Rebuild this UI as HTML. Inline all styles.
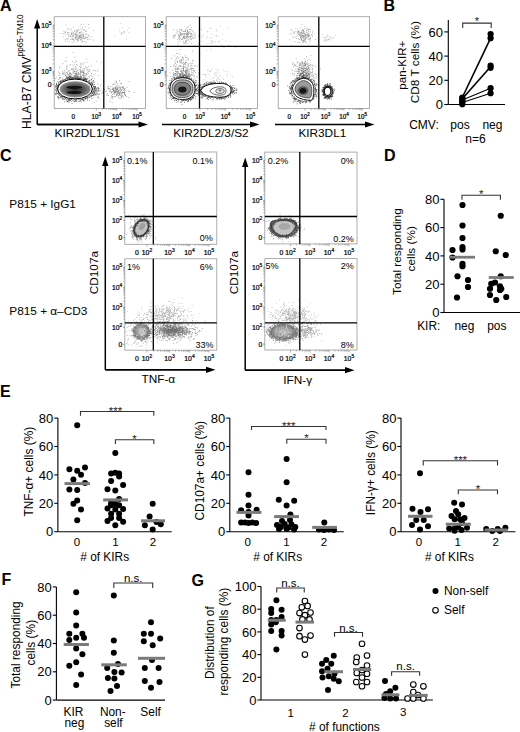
<!DOCTYPE html>
<html><head><meta charset="utf-8"><title>Figure</title>
<style>html,body{margin:0;padding:0;background:#fff;width:520px;height:732px;overflow:hidden}svg{display:block}</style>
</head><body>
<svg width="520" height="732" viewBox="0 0 520 732" font-family='"Liberation Sans", sans-serif'>
<rect width="520" height="732" fill="#fff"/>
<defs>
<radialGradient id="gA"><stop offset="0" stop-color="#2a2a2a"/><stop offset="0.55" stop-color="#555"/><stop offset="1" stop-color="#909090"/></radialGradient>
<radialGradient id="gB"><stop offset="0" stop-color="#555"/><stop offset="0.6" stop-color="#999"/><stop offset="1" stop-color="#eee"/></radialGradient>
<radialGradient id="halo"><stop offset="0" stop-color="#000" stop-opacity="0.55"/><stop offset="0.6" stop-color="#000" stop-opacity="0.3"/><stop offset="1" stop-color="#000" stop-opacity="0"/></radialGradient>
<radialGradient id="haloL"><stop offset="0" stop-color="#000" stop-opacity="0.25"/><stop offset="1" stop-color="#000" stop-opacity="0"/></radialGradient>
<radialGradient id="ring"><stop offset="0" stop-color="#c8c8c8"/><stop offset="0.55" stop-color="#aaa"/><stop offset="0.8" stop-color="#555"/><stop offset="1" stop-color="#666" stop-opacity="0"/></radialGradient>
</defs>
<path fill="#444" fill-opacity="0.6" d="M75.46 37.15h0.75v0.75h-0.75zM75.64 33.68h0.75v0.75h-0.75zM71.42 34.1h0.75v0.75h-0.75zM83.67 36.78h0.75v0.75h-0.75zM83.22 36.05h0.75v0.75h-0.75zM79.37 35.78h0.75v0.75h-0.75zM67 38.59h0.75v0.75h-0.75zM80.04 37.1h0.75v0.75h-0.75zM66.85 27.68h0.75v0.75h-0.75zM71.66 33.03h0.75v0.75h-0.75zM78.83 34.81h0.75v0.75h-0.75zM80.13 32.3h0.75v0.75h-0.75zM78.85 36.66h0.75v0.75h-0.75zM73.03 42.21h0.75v0.75h-0.75zM80.34 40.03h0.75v0.75h-0.75zM73.28 31.89h0.75v0.75h-0.75zM74.94 34.55h0.75v0.75h-0.75zM80.79 36.04h0.75v0.75h-0.75zM74.32 30.98h0.75v0.75h-0.75zM73.88 40.13h0.75v0.75h-0.75zM72.15 36.03h0.75v0.75h-0.75zM79.56 28.74h0.75v0.75h-0.75zM77.29 40.49h0.75v0.75h-0.75zM64.91 33.65h0.75v0.75h-0.75zM76.36 31.57h0.75v0.75h-0.75zM79.98 34.74h0.75v0.75h-0.75zM68.21 38.48h0.75v0.75h-0.75zM81.02 38.97h0.75v0.75h-0.75zM85.64 36.52h0.75v0.75h-0.75zM77.72 29.54h0.75v0.75h-0.75zM80.69 32.43h0.75v0.75h-0.75zM74.28 29.69h0.75v0.75h-0.75zM71.19 32.77h0.75v0.75h-0.75zM84.73 26.47h0.75v0.75h-0.75zM68.25 36.01h0.75v0.75h-0.75zM85.66 37.43h0.75v0.75h-0.75zM65.6 24.42h0.75v0.75h-0.75zM79.14 31.91h0.75v0.75h-0.75zM70.28 39.1h0.75v0.75h-0.75zM83.61 35.66h0.75v0.75h-0.75zM78.47 36.82h0.75v0.75h-0.75zM86.56 37.6h0.75v0.75h-0.75zM80.11 37.3h0.75v0.75h-0.75zM67.59 40.38h0.75v0.75h-0.75zM82.73 37.22h0.75v0.75h-0.75zM65.16 32.34h0.75v0.75h-0.75zM82.05 27.39h0.75v0.75h-0.75zM75.9 39.28h0.75v0.75h-0.75zM69.13 41.76h0.75v0.75h-0.75zM80.31 34.37h0.75v0.75h-0.75zM78.95 37.73h0.75v0.75h-0.75zM77.72 39.81h0.75v0.75h-0.75zM73.03 33.26h0.75v0.75h-0.75zM83.25 35.11h0.75v0.75h-0.75zM71.72 38.98h0.75v0.75h-0.75zM85.79 33.13h0.75v0.75h-0.75zM68.72 34.43h0.75v0.75h-0.75zM76.11 33.75h0.75v0.75h-0.75zM85.43 30.69h0.75v0.75h-0.75zM84.56 29.67h0.75v0.75h-0.75zM72.28 37.65h0.75v0.75h-0.75zM83.77 38.61h0.75v0.75h-0.75zM79.07 35.6h0.75v0.75h-0.75zM77.91 37.42h0.75v0.75h-0.75zM75.94 36.17h0.75v0.75h-0.75zM80.44 35h0.75v0.75h-0.75zM81.58 37.38h0.75v0.75h-0.75zM89.06 36.36h0.75v0.75h-0.75zM74.43 33.44h0.75v0.75h-0.75zM76.92 38.88h0.75v0.75h-0.75zM74.98 36.62h0.75v0.75h-0.75zM88.02 24.23h0.75v0.75h-0.75zM70.26 36.02h0.75v0.75h-0.75zM79.39 36h0.75v0.75h-0.75zM74.41 37.75h0.75v0.75h-0.75zM78.69 32.81h0.75v0.75h-0.75zM91.58 36.49h0.75v0.75h-0.75zM73.67 34.58h0.75v0.75h-0.75zM75.65 34.74h0.75v0.75h-0.75zM60.63 32.96h0.75v0.75h-0.75zM83.05 30.09h0.75v0.75h-0.75zM76.6 39h0.75v0.75h-0.75zM82.14 41.26h0.75v0.75h-0.75zM66.79 33.52h0.75v0.75h-0.75zM74.95 37.62h0.75v0.75h-0.75zM83.55 23.73h0.75v0.75h-0.75zM83.53 28.92h0.75v0.75h-0.75zM81.1 28.73h0.75v0.75h-0.75zM78.06 40.02h0.75v0.75h-0.75zM76.1 35.8h0.75v0.75h-0.75zM81.78 35.59h0.75v0.75h-0.75zM76.47 41.44h0.75v0.75h-0.75zM83.29 33.77h0.75v0.75h-0.75zM93.47 30.18h0.75v0.75h-0.75zM82.49 33.88h0.75v0.75h-0.75zM77.79 37.96h0.75v0.75h-0.75zM78.33 37.68h0.75v0.75h-0.75zM67.84 28.66h0.75v0.75h-0.75zM80.69 30.95h0.75v0.75h-0.75zM70.84 28.83h0.75v0.75h-0.75zM84.6 38.14h0.75v0.75h-0.75zM85.84 31.06h0.75v0.75h-0.75zM77.01 30.21h0.75v0.75h-0.75zM81.6 41.68h0.75v0.75h-0.75zM71.66 41.55h0.75v0.75h-0.75zM82.93 34.25h0.75v0.75h-0.75zM65.17 40.91h0.75v0.75h-0.75zM76.42 32.47h0.75v0.75h-0.75zM79.4 36.72h0.75v0.75h-0.75zM85.99 30.72h0.75v0.75h-0.75zM83.82 41.25h0.75v0.75h-0.75zM85.71 34.24h0.75v0.75h-0.75zM72.54 39.28h0.75v0.75h-0.75zM77.69 35.52h0.75v0.75h-0.75zM85.55 33.89h0.75v0.75h-0.75zM63.22 33.37h0.75v0.75h-0.75zM65.88 38.44h0.75v0.75h-0.75zM78.9 32.43h0.75v0.75h-0.75zM76.94 38.5h0.75v0.75h-0.75zM77.47 40.57h0.75v0.75h-0.75zM76.63 39.37h0.75v0.75h-0.75zM85.95 41.76h0.75v0.75h-0.75zM72.97 38.7h0.75v0.75h-0.75zM65.74 30.45h0.75v0.75h-0.75zM65.22 39.49h0.75v0.75h-0.75zM69.61 34.95h0.75v0.75h-0.75zM75.85 34.88h0.75v0.75h-0.75zM73.45 35.98h0.75v0.75h-0.75zM87.75 35.19h0.75v0.75h-0.75zM80.19 39.2h0.75v0.75h-0.75zM75.81 29.71h0.75v0.75h-0.75zM73.67 39.51h0.75v0.75h-0.75zM67.12 32.49h0.75v0.75h-0.75zM83.04 38.33h0.75v0.75h-0.75zM77.05 38.38h0.75v0.75h-0.75zM78 30.05h0.75v0.75h-0.75zM67.62 32.32h0.75v0.75h-0.75zM82.54 32.62h0.75v0.75h-0.75zM71.59 31.76h0.75v0.75h-0.75zM67.81 34.51h0.75v0.75h-0.75zM69.92 36.53h0.75v0.75h-0.75zM62.84 36.38h0.75v0.75h-0.75zM73.15 26.84h0.75v0.75h-0.75zM81.35 33.84h0.75v0.75h-0.75zM63.62 31.32h0.75v0.75h-0.75zM78.75 33.07h0.75v0.75h-0.75zM81.68 38.14h0.75v0.75h-0.75zM81 36.37h0.75v0.75h-0.75zM85 37.77h0.75v0.75h-0.75zM79.71 26.25h0.75v0.75h-0.75zM82.38 40.5h0.75v0.75h-0.75zM75.22 33.03h0.75v0.75h-0.75zM88.64 27.62h0.75v0.75h-0.75zM79.81 45.18h0.75v0.75h-0.75zM71.43 37.9h0.75v0.75h-0.75zM88.32 34.5h0.75v0.75h-0.75zM80.37 38.79h0.75v0.75h-0.75zM71.57 34.63h0.75v0.75h-0.75zM78.76 38.47h0.75v0.75h-0.75zM76.79 34.18h0.75v0.75h-0.75zM70.9 33.49h0.75v0.75h-0.75zM82.35 35.43h0.75v0.75h-0.75zM71.88 31.47h0.75v0.75h-0.75zM93 39.79h0.75v0.75h-0.75zM80.82 24.11h0.75v0.75h-0.75zM80.73 37.02h0.75v0.75h-0.75zM87.1 36.8h0.75v0.75h-0.75zM76.6 37.19h0.75v0.75h-0.75zM65.33 39.34h0.75v0.75h-0.75zM78.95 32.05h0.75v0.75h-0.75zM84.95 42.6h0.75v0.75h-0.75zM68.59 32.2h0.75v0.75h-0.75zM78.75 35.77h0.75v0.75h-0.75zM74.61 30.91h0.75v0.75h-0.75zM89.72 39.36h0.75v0.75h-0.75zM69.83 29.35h0.75v0.75h-0.75zM87.22 39.15h0.75v0.75h-0.75zM87.93 38.4h0.75v0.75h-0.75zM71.77 36.09h0.75v0.75h-0.75zM64.04 31.86h0.75v0.75h-0.75zM76.65 37.2h0.75v0.75h-0.75zM72.63 34.48h0.75v0.75h-0.75zM79.75 36.58h0.75v0.75h-0.75zM80.83 35.88h0.75v0.75h-0.75zM75.06 38.31h0.75v0.75h-0.75zM77.3 31.53h0.75v0.75h-0.75zM73.24 35h0.75v0.75h-0.75zM76.34 35.66h0.75v0.75h-0.75zM77 35.74h0.75v0.75h-0.75zM76.19 29.71h0.75v0.75h-0.75z"/>
<path fill="#333" fill-opacity="0.55" d="M79.79 79.32h0.75v0.75h-0.75zM79.91 71.86h0.75v0.75h-0.75zM80.02 67.21h0.75v0.75h-0.75zM58.93 73.36h0.75v0.75h-0.75zM67.63 77.44h0.75v0.75h-0.75zM66.24 57.23h0.75v0.75h-0.75zM66.64 82.47h0.75v0.75h-0.75zM72.56 64.78h0.75v0.75h-0.75zM69.13 76.13h0.75v0.75h-0.75zM80.47 74.06h0.75v0.75h-0.75zM89.35 77.24h0.75v0.75h-0.75zM75.81 76.58h0.75v0.75h-0.75zM90.89 78.83h0.75v0.75h-0.75zM85.21 66.5h0.75v0.75h-0.75zM74.66 77.38h0.75v0.75h-0.75zM73.33 79.41h0.75v0.75h-0.75zM81.37 78.45h0.75v0.75h-0.75zM74.09 88.28h0.75v0.75h-0.75zM87.16 71.71h0.75v0.75h-0.75zM76.82 88.57h0.75v0.75h-0.75zM72.91 78.24h0.75v0.75h-0.75zM84.82 73.04h0.75v0.75h-0.75zM65.5 74.13h0.75v0.75h-0.75zM79.23 79.78h0.75v0.75h-0.75zM83.05 73.15h0.75v0.75h-0.75zM83.68 76.24h0.75v0.75h-0.75zM77.85 73.33h0.75v0.75h-0.75zM73.81 77.12h0.75v0.75h-0.75zM66.51 69.23h0.75v0.75h-0.75zM76.04 64.22h0.75v0.75h-0.75zM72.08 60.95h0.75v0.75h-0.75zM69.85 76.41h0.75v0.75h-0.75zM81.1 72.67h0.75v0.75h-0.75zM73.91 64.5h0.75v0.75h-0.75zM92.45 76.1h0.75v0.75h-0.75zM85.84 67.71h0.75v0.75h-0.75zM74.33 62.08h0.75v0.75h-0.75zM83.02 78.61h0.75v0.75h-0.75zM58.92 72.69h0.75v0.75h-0.75zM81.67 62.43h0.75v0.75h-0.75zM59.57 66.61h0.75v0.75h-0.75zM70.34 64.58h0.75v0.75h-0.75zM76.28 74.5h0.75v0.75h-0.75zM81.71 77.21h0.75v0.75h-0.75zM89.52 79.99h0.75v0.75h-0.75zM64.19 69.97h0.75v0.75h-0.75zM66.46 66.54h0.75v0.75h-0.75zM75.27 73.03h0.75v0.75h-0.75zM80.41 63.48h0.75v0.75h-0.75zM64.86 72.86h0.75v0.75h-0.75zM74.2 71.13h0.75v0.75h-0.75zM75.43 68.44h0.75v0.75h-0.75zM82.31 75.13h0.75v0.75h-0.75zM75.21 68.97h0.75v0.75h-0.75zM74.43 56.67h0.75v0.75h-0.75zM67.17 73.22h0.75v0.75h-0.75zM62.46 74.2h0.75v0.75h-0.75zM77.33 64.73h0.75v0.75h-0.75zM73.74 71.12h0.75v0.75h-0.75zM80.14 76.67h0.75v0.75h-0.75zM75.67 67.89h0.75v0.75h-0.75zM74.7 72.61h0.75v0.75h-0.75zM82.61 74.77h0.75v0.75h-0.75zM69.5 64.87h0.75v0.75h-0.75zM72.64 68.56h0.75v0.75h-0.75zM65.99 72.3h0.75v0.75h-0.75zM71.58 73.63h0.75v0.75h-0.75zM80.71 70.52h0.75v0.75h-0.75zM96.92 71.07h0.75v0.75h-0.75zM85.92 73.73h0.75v0.75h-0.75zM86.05 58.74h0.75v0.75h-0.75zM69.24 74.48h0.75v0.75h-0.75zM81.42 87.02h0.75v0.75h-0.75zM78.9 80.68h0.75v0.75h-0.75zM82.9 78.68h0.75v0.75h-0.75zM80.59 72.06h0.75v0.75h-0.75zM80.58 66.53h0.75v0.75h-0.75zM86.63 66.9h0.75v0.75h-0.75zM78.24 85.72h0.75v0.75h-0.75zM73.99 73.12h0.75v0.75h-0.75zM86.47 73.16h0.75v0.75h-0.75zM68.73 74.55h0.75v0.75h-0.75zM81.24 77.26h0.75v0.75h-0.75zM69.05 83.52h0.75v0.75h-0.75zM91 73.11h0.75v0.75h-0.75zM78.42 70.43h0.75v0.75h-0.75zM88.73 68.77h0.75v0.75h-0.75zM82.07 70.12h0.75v0.75h-0.75zM69.75 77.31h0.75v0.75h-0.75zM88 72.94h0.75v0.75h-0.75zM69.9 77.87h0.75v0.75h-0.75zM75.55 74.86h0.75v0.75h-0.75zM89.71 79.79h0.75v0.75h-0.75zM71.32 86.7h0.75v0.75h-0.75zM76.03 77.72h0.75v0.75h-0.75zM70.17 72.73h0.75v0.75h-0.75zM60.25 83.72h0.75v0.75h-0.75zM88.29 65.71h0.75v0.75h-0.75zM62.45 63.27h0.75v0.75h-0.75zM86.58 70.24h0.75v0.75h-0.75zM75.46 71.12h0.75v0.75h-0.75zM74.91 66.47h0.75v0.75h-0.75zM76.22 64.37h0.75v0.75h-0.75zM75.36 74.85h0.75v0.75h-0.75zM80.21 71.61h0.75v0.75h-0.75zM67.87 73.96h0.75v0.75h-0.75zM71.64 82.4h0.75v0.75h-0.75zM82.91 72.31h0.75v0.75h-0.75zM71.76 68.78h0.75v0.75h-0.75zM67.56 70.88h0.75v0.75h-0.75zM78.65 76.09h0.75v0.75h-0.75zM81.12 85.59h0.75v0.75h-0.75zM69.66 73.08h0.75v0.75h-0.75zM101.15 61.8h0.75v0.75h-0.75zM71.31 74.02h0.75v0.75h-0.75zM77.39 75.45h0.75v0.75h-0.75zM73.85 75.2h0.75v0.75h-0.75zM76.48 77.63h0.75v0.75h-0.75zM58.97 67.69h0.75v0.75h-0.75zM75.98 66.81h0.75v0.75h-0.75zM66.6 76.77h0.75v0.75h-0.75zM70.15 76.81h0.75v0.75h-0.75zM82.71 74.84h0.75v0.75h-0.75zM80.57 72.37h0.75v0.75h-0.75zM63.32 72.82h0.75v0.75h-0.75zM80.09 69.82h0.75v0.75h-0.75zM75.1 77.5h0.75v0.75h-0.75zM68.1 76.84h0.75v0.75h-0.75zM92.76 69.67h0.75v0.75h-0.75zM77.32 72.1h0.75v0.75h-0.75zM89.86 74.9h0.75v0.75h-0.75zM84.08 68.86h0.75v0.75h-0.75zM75.85 72.94h0.75v0.75h-0.75zM60.02 81.64h0.75v0.75h-0.75zM84.09 62.51h0.75v0.75h-0.75zM82.7 72.21h0.75v0.75h-0.75zM80.04 75.2h0.75v0.75h-0.75zM62.51 71.73h0.75v0.75h-0.75zM89.43 69.55h0.75v0.75h-0.75zM66.79 64.84h0.75v0.75h-0.75zM65.01 75.01h0.75v0.75h-0.75zM91.23 75.58h0.75v0.75h-0.75zM78.21 86.4h0.75v0.75h-0.75zM71.33 68.96h0.75v0.75h-0.75zM80.76 76.29h0.75v0.75h-0.75zM66.87 65.98h0.75v0.75h-0.75zM78.62 74.48h0.75v0.75h-0.75zM64.24 71.79h0.75v0.75h-0.75zM71.12 75.76h0.75v0.75h-0.75zM74.95 72.48h0.75v0.75h-0.75zM72.82 79.32h0.75v0.75h-0.75zM88.52 70.8h0.75v0.75h-0.75zM83.61 68.45h0.75v0.75h-0.75zM76.65 77.5h0.75v0.75h-0.75zM89.63 70.7h0.75v0.75h-0.75zM75.33 74.18h0.75v0.75h-0.75zM62.52 73.1h0.75v0.75h-0.75zM69.92 75.23h0.75v0.75h-0.75zM65.83 61.14h0.75v0.75h-0.75zM76.34 74.56h0.75v0.75h-0.75zM71.06 78.33h0.75v0.75h-0.75zM73.54 69.37h0.75v0.75h-0.75zM80.3 63.59h0.75v0.75h-0.75zM69.9 72.88h0.75v0.75h-0.75zM83.64 72.02h0.75v0.75h-0.75zM78.78 69.07h0.75v0.75h-0.75zM78.72 82.98h0.75v0.75h-0.75zM69.82 87.2h0.75v0.75h-0.75zM70.21 73.1h0.75v0.75h-0.75zM77.56 79.15h0.75v0.75h-0.75zM64.87 60.4h0.75v0.75h-0.75zM81.45 77.77h0.75v0.75h-0.75zM81.61 88.78h0.75v0.75h-0.75zM77.84 74.52h0.75v0.75h-0.75zM84.36 75.21h0.75v0.75h-0.75zM90.97 65.57h0.75v0.75h-0.75zM72.62 52.33h0.75v0.75h-0.75zM83.31 70.77h0.75v0.75h-0.75zM84.32 85.92h0.75v0.75h-0.75zM75.95 71.47h0.75v0.75h-0.75zM71.5 67.97h0.75v0.75h-0.75zM70.33 76.84h0.75v0.75h-0.75zM76.33 73.4h0.75v0.75h-0.75zM74.44 78.49h0.75v0.75h-0.75zM80.45 72.15h0.75v0.75h-0.75zM81.98 72.09h0.75v0.75h-0.75zM65.62 81.73h0.75v0.75h-0.75zM80.19 67.26h0.75v0.75h-0.75zM85.71 75.07h0.75v0.75h-0.75zM61.92 82.66h0.75v0.75h-0.75zM79 78.35h0.75v0.75h-0.75zM77.78 72.1h0.75v0.75h-0.75zM62.07 78.83h0.75v0.75h-0.75zM76.27 71.28h0.75v0.75h-0.75zM79.16 73.47h0.75v0.75h-0.75zM82.08 70.77h0.75v0.75h-0.75zM75.67 60.17h0.75v0.75h-0.75zM72.19 77.05h0.75v0.75h-0.75zM88.03 70.82h0.75v0.75h-0.75zM74.91 82.5h0.75v0.75h-0.75zM73.07 77.4h0.75v0.75h-0.75zM91.1 73.24h0.75v0.75h-0.75zM87.04 68.74h0.75v0.75h-0.75zM77.87 72.54h0.75v0.75h-0.75zM77.03 79.78h0.75v0.75h-0.75zM97.51 69.01h0.75v0.75h-0.75zM70.82 75.98h0.75v0.75h-0.75zM66.5 75.98h0.75v0.75h-0.75zM81.15 71.33h0.75v0.75h-0.75zM80.78 63.7h0.75v0.75h-0.75zM82.84 63.73h0.75v0.75h-0.75zM69.73 69.66h0.75v0.75h-0.75zM72.39 78.15h0.75v0.75h-0.75zM76.73 70.62h0.75v0.75h-0.75zM80.89 82.49h0.75v0.75h-0.75zM76.06 75.19h0.75v0.75h-0.75zM87.16 74.61h0.75v0.75h-0.75zM64.45 87.94h0.75v0.75h-0.75zM95.88 61.09h0.75v0.75h-0.75zM75.65 75.5h0.75v0.75h-0.75zM84.69 77.01h0.75v0.75h-0.75zM73.55 66.68h0.75v0.75h-0.75zM76.93 79.2h0.75v0.75h-0.75zM66.19 66.84h0.75v0.75h-0.75zM75.78 61.38h0.75v0.75h-0.75zM73.66 70.38h0.75v0.75h-0.75zM80.06 68.79h0.75v0.75h-0.75zM68.06 70.63h0.75v0.75h-0.75zM75.55 69.01h0.75v0.75h-0.75zM76.11 77.5h0.75v0.75h-0.75zM86.67 83.23h0.75v0.75h-0.75zM68.95 70.48h0.75v0.75h-0.75zM69.48 72.8h0.75v0.75h-0.75zM80.7 64.85h0.75v0.75h-0.75zM80.18 72.84h0.75v0.75h-0.75zM59.57 74.75h0.75v0.75h-0.75zM86.75 61.79h0.75v0.75h-0.75zM83.26 74.26h0.75v0.75h-0.75zM80.27 75.65h0.75v0.75h-0.75zM87.74 71.66h0.75v0.75h-0.75zM83.86 70.54h0.75v0.75h-0.75zM82.55 68.12h0.75v0.75h-0.75zM75.02 83.39h0.75v0.75h-0.75zM80.01 72.05h0.75v0.75h-0.75zM65.7 68.26h0.75v0.75h-0.75zM77.74 78.64h0.75v0.75h-0.75zM79.83 76.14h0.75v0.75h-0.75zM75.62 81.11h0.75v0.75h-0.75zM72.48 69.7h0.75v0.75h-0.75zM83.99 73.38h0.75v0.75h-0.75zM73.49 69.54h0.75v0.75h-0.75zM73.69 76.74h0.75v0.75h-0.75zM79.18 65.74h0.75v0.75h-0.75zM79.84 74.07h0.75v0.75h-0.75zM67 77.64h0.75v0.75h-0.75zM73.48 70.99h0.75v0.75h-0.75zM83.16 80.92h0.75v0.75h-0.75zM69.8 75.63h0.75v0.75h-0.75zM68.12 86.89h0.75v0.75h-0.75z"/>
<path fill="#333" fill-opacity="0.6" d="M70.56 81.58h0.75v0.75h-0.75zM69.17 80.43h0.75v0.75h-0.75zM94.97 70.38h0.75v0.75h-0.75zM71.09 79.5h0.75v0.75h-0.75zM74.16 75.99h0.75v0.75h-0.75zM94.37 78.24h0.75v0.75h-0.75zM60.2 80.56h0.75v0.75h-0.75zM59.51 81.45h0.75v0.75h-0.75zM69.8 78.43h0.75v0.75h-0.75zM86.35 78.35h0.75v0.75h-0.75zM62.48 72.91h0.75v0.75h-0.75zM85.64 80.22h0.75v0.75h-0.75zM67.66 80.58h0.75v0.75h-0.75zM79.47 79.94h0.75v0.75h-0.75zM83.1 80.2h0.75v0.75h-0.75zM82.93 70.63h0.75v0.75h-0.75zM76.52 79.48h0.75v0.75h-0.75zM97.97 75.14h0.75v0.75h-0.75zM72.04 78.11h0.75v0.75h-0.75zM82.97 76.67h0.75v0.75h-0.75zM85.33 75.64h0.75v0.75h-0.75zM77.4 76.42h0.75v0.75h-0.75zM76.42 75.93h0.75v0.75h-0.75zM60.62 81.28h0.75v0.75h-0.75zM77.73 76.32h0.75v0.75h-0.75zM76.81 80.97h0.75v0.75h-0.75zM66.2 77.67h0.75v0.75h-0.75zM79.85 79.58h0.75v0.75h-0.75zM71.98 71.68h0.75v0.75h-0.75zM86.19 78.98h0.75v0.75h-0.75zM75.12 77.16h0.75v0.75h-0.75zM77.37 76.72h0.75v0.75h-0.75zM65.78 75.78h0.75v0.75h-0.75zM69.63 76.16h0.75v0.75h-0.75zM64.57 79.91h0.75v0.75h-0.75zM63.21 79.98h0.75v0.75h-0.75zM65.87 79.06h0.75v0.75h-0.75zM87.37 78.61h0.75v0.75h-0.75zM68.42 78.14h0.75v0.75h-0.75zM76.33 72.8h0.75v0.75h-0.75zM69.53 78.49h0.75v0.75h-0.75zM70.78 78.24h0.75v0.75h-0.75zM81.61 80.3h0.75v0.75h-0.75zM83.15 79.77h0.75v0.75h-0.75zM72.41 77.94h0.75v0.75h-0.75zM72.56 77.06h0.75v0.75h-0.75zM73.38 72.83h0.75v0.75h-0.75zM72 77.93h0.75v0.75h-0.75zM66.23 77.93h0.75v0.75h-0.75zM79.64 77.51h0.75v0.75h-0.75zM93.69 70.18h0.75v0.75h-0.75zM73.14 72.52h0.75v0.75h-0.75zM83.82 85.96h0.75v0.75h-0.75zM79.67 77.09h0.75v0.75h-0.75zM79.96 71.27h0.75v0.75h-0.75zM82.67 79.12h0.75v0.75h-0.75zM75.21 76.24h0.75v0.75h-0.75zM80.75 76.54h0.75v0.75h-0.75zM77.01 76.47h0.75v0.75h-0.75zM54.78 77.91h0.75v0.75h-0.75zM76.82 80.26h0.75v0.75h-0.75zM67.12 77.9h0.75v0.75h-0.75zM80.55 78.44h0.75v0.75h-0.75zM86.18 83.97h0.75v0.75h-0.75zM66.82 72.24h0.75v0.75h-0.75zM82.71 82.59h0.75v0.75h-0.75zM83.3 80.44h0.75v0.75h-0.75zM69.43 75.86h0.75v0.75h-0.75zM83 75.27h0.75v0.75h-0.75zM58.68 75.01h0.75v0.75h-0.75zM97.43 83.77h0.75v0.75h-0.75zM68.82 75.81h0.75v0.75h-0.75zM77.08 75.75h0.75v0.75h-0.75zM86.79 77.77h0.75v0.75h-0.75zM65.22 81.93h0.75v0.75h-0.75zM69.75 78.66h0.75v0.75h-0.75zM74.89 77.06h0.75v0.75h-0.75zM77.92 75.92h0.75v0.75h-0.75zM58.4 71.38h0.75v0.75h-0.75zM63.6 75.72h0.75v0.75h-0.75zM74.79 78.17h0.75v0.75h-0.75zM80 78.36h0.75v0.75h-0.75zM67.86 75.87h0.75v0.75h-0.75zM55.93 77.49h0.75v0.75h-0.75zM79.36 79.59h0.75v0.75h-0.75zM73.91 77.48h0.75v0.75h-0.75zM83.43 78.05h0.75v0.75h-0.75zM81.64 79.75h0.75v0.75h-0.75zM76.92 81.92h0.75v0.75h-0.75zM69.85 76.92h0.75v0.75h-0.75zM67.73 75.61h0.75v0.75h-0.75zM89 83.28h0.75v0.75h-0.75zM75.21 79.7h0.75v0.75h-0.75zM85.58 80.42h0.75v0.75h-0.75zM85.85 74.21h0.75v0.75h-0.75zM69.25 79.36h0.75v0.75h-0.75zM87.92 78.31h0.75v0.75h-0.75zM67.27 76.94h0.75v0.75h-0.75zM69.05 75.43h0.75v0.75h-0.75zM88.51 76.12h0.75v0.75h-0.75zM75.18 84.49h0.75v0.75h-0.75zM85.66 79.01h0.75v0.75h-0.75zM69.49 79.23h0.75v0.75h-0.75zM89.6 79.87h0.75v0.75h-0.75zM86.35 78.29h0.75v0.75h-0.75zM79.65 77.4h0.75v0.75h-0.75zM78.84 81.9h0.75v0.75h-0.75zM62.12 77.81h0.75v0.75h-0.75zM77.16 76.29h0.75v0.75h-0.75zM72.23 80.36h0.75v0.75h-0.75zM93.01 79.89h0.75v0.75h-0.75zM77.94 73.35h0.75v0.75h-0.75zM92.35 78.23h0.75v0.75h-0.75zM74.7 74.64h0.75v0.75h-0.75zM74.49 74.71h0.75v0.75h-0.75zM75.64 79.4h0.75v0.75h-0.75zM75.28 78.84h0.75v0.75h-0.75zM67.33 82.29h0.75v0.75h-0.75zM69.12 72.55h0.75v0.75h-0.75zM73.31 75.71h0.75v0.75h-0.75zM65.91 76.94h0.75v0.75h-0.75zM77.62 74.45h0.75v0.75h-0.75zM73.76 82.28h0.75v0.75h-0.75zM81.14 77.54h0.75v0.75h-0.75zM76.15 77.64h0.75v0.75h-0.75zM74.57 80.2h0.75v0.75h-0.75zM74.17 70.79h0.75v0.75h-0.75zM74.81 75.33h0.75v0.75h-0.75zM80.86 76.17h0.75v0.75h-0.75zM76.34 84.53h0.75v0.75h-0.75zM65.58 74.63h0.75v0.75h-0.75zM62.3 70.82h0.75v0.75h-0.75zM58.09 79.09h0.75v0.75h-0.75zM69.26 72.4h0.75v0.75h-0.75zM61.66 79.85h0.75v0.75h-0.75zM68.02 76.9h0.75v0.75h-0.75zM77.97 82.07h0.75v0.75h-0.75zM92.47 81.1h0.75v0.75h-0.75zM76.29 78.55h0.75v0.75h-0.75zM91.22 82.29h0.75v0.75h-0.75zM72.21 79.37h0.75v0.75h-0.75zM77.58 78.16h0.75v0.75h-0.75zM70.5 74.02h0.75v0.75h-0.75zM70.19 73.37h0.75v0.75h-0.75zM86.01 79.61h0.75v0.75h-0.75zM64.15 82.19h0.75v0.75h-0.75zM83.03 72.27h0.75v0.75h-0.75zM91.57 80.43h0.75v0.75h-0.75zM93.58 74.31h0.75v0.75h-0.75zM79.78 79.27h0.75v0.75h-0.75zM76.82 78.51h0.75v0.75h-0.75zM84.48 73.52h0.75v0.75h-0.75zM63.82 73.82h0.75v0.75h-0.75zM69.98 76.18h0.75v0.75h-0.75zM78.31 78.8h0.75v0.75h-0.75zM75.28 75.97h0.75v0.75h-0.75zM71.02 80.86h0.75v0.75h-0.75zM81.87 78.3h0.75v0.75h-0.75zM72.1 82.66h0.75v0.75h-0.75zM69.65 79.95h0.75v0.75h-0.75zM85.38 77.2h0.75v0.75h-0.75zM82.43 74.65h0.75v0.75h-0.75zM84.11 78.6h0.75v0.75h-0.75zM60.72 80.01h0.75v0.75h-0.75zM66.97 81.85h0.75v0.75h-0.75zM68.89 77.51h0.75v0.75h-0.75zM77.55 77h0.75v0.75h-0.75zM77.34 76.34h0.75v0.75h-0.75zM81.05 78.02h0.75v0.75h-0.75zM76.9 69.74h0.75v0.75h-0.75zM85.45 78.1h0.75v0.75h-0.75zM58.96 78.29h0.75v0.75h-0.75zM79.2 81.21h0.75v0.75h-0.75zM65.26 82.64h0.75v0.75h-0.75zM73.57 85.18h0.75v0.75h-0.75zM73.68 80.04h0.75v0.75h-0.75zM71.7 74.65h0.75v0.75h-0.75zM84.87 80.72h0.75v0.75h-0.75zM88.85 80.57h0.75v0.75h-0.75zM69.84 73.01h0.75v0.75h-0.75zM69.14 75.97h0.75v0.75h-0.75zM67.66 79.75h0.75v0.75h-0.75zM77.95 77.19h0.75v0.75h-0.75zM76.55 77.56h0.75v0.75h-0.75zM76.92 80.26h0.75v0.75h-0.75zM83.64 75.94h0.75v0.75h-0.75zM61.44 82.28h0.75v0.75h-0.75zM76.03 81.32h0.75v0.75h-0.75zM60.21 77.01h0.75v0.75h-0.75zM75.24 73.68h0.75v0.75h-0.75zM70.36 80.17h0.75v0.75h-0.75zM84.71 82.78h0.75v0.75h-0.75zM67.23 73.8h0.75v0.75h-0.75zM79.68 80.82h0.75v0.75h-0.75zM76.74 74.1h0.75v0.75h-0.75zM82.04 80.38h0.75v0.75h-0.75zM79.98 76.54h0.75v0.75h-0.75zM77.74 80.37h0.75v0.75h-0.75z"/>
<path fill="#222" fill-opacity="0.8" d="M69.67 78.8h0.75v0.75h-0.75zM84.82 97.49h0.75v0.75h-0.75zM56.42 87.49h0.75v0.75h-0.75zM83.02 100.58h0.75v0.75h-0.75zM90.01 95.47h0.75v0.75h-0.75zM58.6 97.46h0.75v0.75h-0.75zM73 77.99h0.75v0.75h-0.75zM62.76 80.64h0.75v0.75h-0.75zM59.7 96.49h0.75v0.75h-0.75zM79.74 78.57h0.75v0.75h-0.75zM62.25 80.89h0.75v0.75h-0.75zM58.35 81.64h0.75v0.75h-0.75zM92.18 82.5h0.75v0.75h-0.75zM74.89 77.9h0.75v0.75h-0.75zM71.41 77.19h0.75v0.75h-0.75zM68.88 78.07h0.75v0.75h-0.75zM62.62 80.16h0.75v0.75h-0.75zM61.36 80.76h0.75v0.75h-0.75zM78.72 78.56h0.75v0.75h-0.75zM74.99 100.6h0.75v0.75h-0.75zM60.04 80.7h0.75v0.75h-0.75zM92.26 84.31h0.75v0.75h-0.75zM78.49 77.71h0.75v0.75h-0.75zM95.34 87.1h0.75v0.75h-0.75zM84.97 98.21h0.75v0.75h-0.75zM54.95 87.59h0.75v0.75h-0.75zM57.4 86.31h0.75v0.75h-0.75zM62.81 80.54h0.75v0.75h-0.75zM58.76 94.94h0.75v0.75h-0.75zM66.64 77.92h0.75v0.75h-0.75zM89.3 97.02h0.75v0.75h-0.75zM91.85 92.63h0.75v0.75h-0.75zM94.78 89.96h0.75v0.75h-0.75zM69.01 78.7h0.75v0.75h-0.75zM77.87 99.25h0.75v0.75h-0.75zM56.81 87.19h0.75v0.75h-0.75zM61.06 95.52h0.75v0.75h-0.75zM78.14 78.21h0.75v0.75h-0.75zM56.13 91.15h0.75v0.75h-0.75zM94.22 86.43h0.75v0.75h-0.75zM82.84 79.15h0.75v0.75h-0.75zM69.83 99.48h0.75v0.75h-0.75zM85.32 78.71h0.75v0.75h-0.75zM72.93 99.91h0.75v0.75h-0.75zM59.2 93.59h0.75v0.75h-0.75zM71.83 78.75h0.75v0.75h-0.75zM68.54 100.08h0.75v0.75h-0.75zM62.73 80.7h0.75v0.75h-0.75zM91.33 84.45h0.75v0.75h-0.75zM84.96 78.17h0.75v0.75h-0.75zM87.27 97.64h0.75v0.75h-0.75zM98.55 90.29h0.75v0.75h-0.75zM65.19 80.53h0.75v0.75h-0.75zM86.26 97.17h0.75v0.75h-0.75zM63.23 98.84h0.75v0.75h-0.75zM80.22 77.71h0.75v0.75h-0.75zM60.77 82.32h0.75v0.75h-0.75zM89.71 82.29h0.75v0.75h-0.75zM81.06 99.23h0.75v0.75h-0.75zM73.87 76.08h0.75v0.75h-0.75zM58.29 85.51h0.75v0.75h-0.75zM86.82 97.21h0.75v0.75h-0.75zM56.05 91.3h0.75v0.75h-0.75zM94.08 89.46h0.75v0.75h-0.75zM56.53 84.56h0.75v0.75h-0.75zM58.69 98.46h0.75v0.75h-0.75zM92.69 94.26h0.75v0.75h-0.75zM95.15 91.12h0.75v0.75h-0.75zM94.06 83.93h0.75v0.75h-0.75zM92.87 91.24h0.75v0.75h-0.75zM64.9 98.41h0.75v0.75h-0.75zM79.88 100.22h0.75v0.75h-0.75zM57.51 85.42h0.75v0.75h-0.75zM84.38 78.76h0.75v0.75h-0.75zM71.7 102.94h0.75v0.75h-0.75zM64.74 80.3h0.75v0.75h-0.75zM67.39 98.83h0.75v0.75h-0.75zM63.25 81.29h0.75v0.75h-0.75zM71.6 77.62h0.75v0.75h-0.75zM91.83 92.15h0.75v0.75h-0.75zM82.58 100.08h0.75v0.75h-0.75zM64.67 79.82h0.75v0.75h-0.75zM59.6 81.45h0.75v0.75h-0.75zM68.17 77.7h0.75v0.75h-0.75zM79.43 99.68h0.75v0.75h-0.75zM76.5 78.11h0.75v0.75h-0.75zM92.94 91.46h0.75v0.75h-0.75zM63.43 79.04h0.75v0.75h-0.75zM79.41 78.07h0.75v0.75h-0.75zM68.74 99.7h0.75v0.75h-0.75zM55.77 94.19h0.75v0.75h-0.75zM92.17 92.56h0.75v0.75h-0.75zM88.79 96.4h0.75v0.75h-0.75zM90.69 83.9h0.75v0.75h-0.75zM57.95 97.48h0.75v0.75h-0.75zM94.96 87.6h0.75v0.75h-0.75zM89.94 95.46h0.75v0.75h-0.75zM85.33 97.43h0.75v0.75h-0.75zM66.01 77.22h0.75v0.75h-0.75zM90.72 94.63h0.75v0.75h-0.75zM92.84 90.16h0.75v0.75h-0.75zM73.15 78.68h0.75v0.75h-0.75zM77.81 78.29h0.75v0.75h-0.75zM72.38 77.16h0.75v0.75h-0.75zM69.14 76.02h0.75v0.75h-0.75zM74.45 101.41h0.75v0.75h-0.75zM96.1 89.88h0.75v0.75h-0.75zM82.99 78.71h0.75v0.75h-0.75zM72.42 77.47h0.75v0.75h-0.75zM55.28 89.98h0.75v0.75h-0.75zM56.26 83.47h0.75v0.75h-0.75zM86.22 97.37h0.75v0.75h-0.75zM63.12 80.14h0.75v0.75h-0.75zM60.74 96.22h0.75v0.75h-0.75zM79.2 77.98h0.75v0.75h-0.75zM94.86 93.61h0.75v0.75h-0.75zM84 79.13h0.75v0.75h-0.75zM94.04 87.43h0.75v0.75h-0.75zM66.99 101.03h0.75v0.75h-0.75zM61.47 96.68h0.75v0.75h-0.75zM89.55 82.55h0.75v0.75h-0.75zM92.81 89.11h0.75v0.75h-0.75zM58.17 83.09h0.75v0.75h-0.75zM94.15 92.02h0.75v0.75h-0.75zM88.01 80.68h0.75v0.75h-0.75zM86.23 80.18h0.75v0.75h-0.75zM90.59 83.56h0.75v0.75h-0.75zM57.94 85.53h0.75v0.75h-0.75zM75.02 77.85h0.75v0.75h-0.75zM60.28 82.22h0.75v0.75h-0.75zM79.77 98.89h0.75v0.75h-0.75zM79.82 78.58h0.75v0.75h-0.75zM81.21 79.3h0.75v0.75h-0.75zM55.97 82.97h0.75v0.75h-0.75zM81.77 98.76h0.75v0.75h-0.75zM69.05 78.14h0.75v0.75h-0.75zM59.46 95.33h0.75v0.75h-0.75zM94.21 92.2h0.75v0.75h-0.75zM91.12 96.35h0.75v0.75h-0.75zM85.82 98.37h0.75v0.75h-0.75zM56.9 87.71h0.75v0.75h-0.75zM94.46 88.32h0.75v0.75h-0.75zM58.66 84.75h0.75v0.75h-0.75zM55.72 94.61h0.75v0.75h-0.75zM83.15 78.77h0.75v0.75h-0.75zM92.56 91.47h0.75v0.75h-0.75zM92.81 94.99h0.75v0.75h-0.75zM91.07 79.16h0.75v0.75h-0.75zM92.44 82.58h0.75v0.75h-0.75zM57.3 96.71h0.75v0.75h-0.75zM74.06 101.07h0.75v0.75h-0.75zM93.09 86.06h0.75v0.75h-0.75zM55.06 92.89h0.75v0.75h-0.75zM92.7 88.47h0.75v0.75h-0.75zM74.23 101.04h0.75v0.75h-0.75zM89.86 83.11h0.75v0.75h-0.75zM79.19 78.56h0.75v0.75h-0.75zM93.82 88h0.75v0.75h-0.75zM75.65 76.81h0.75v0.75h-0.75zM68.64 100.65h0.75v0.75h-0.75zM89.55 95.58h0.75v0.75h-0.75zM88.57 96.78h0.75v0.75h-0.75zM76.44 100.51h0.75v0.75h-0.75zM92.88 89.82h0.75v0.75h-0.75zM93.67 91.49h0.75v0.75h-0.75zM94.27 84.08h0.75v0.75h-0.75zM86.91 97.32h0.75v0.75h-0.75zM92.58 84.11h0.75v0.75h-0.75zM55.84 92.43h0.75v0.75h-0.75zM56.64 90.51h0.75v0.75h-0.75zM78.77 101.12h0.75v0.75h-0.75zM55.49 85.06h0.75v0.75h-0.75zM73.06 99.85h0.75v0.75h-0.75zM72.52 99.79h0.75v0.75h-0.75zM84.75 98.95h0.75v0.75h-0.75zM93.67 81.46h0.75v0.75h-0.75zM94.2 93.15h0.75v0.75h-0.75zM79.74 100.02h0.75v0.75h-0.75zM74.1 99.59h0.75v0.75h-0.75zM98.17 88.24h0.75v0.75h-0.75zM90.45 95.3h0.75v0.75h-0.75zM91.75 92.67h0.75v0.75h-0.75zM96.85 87.29h0.75v0.75h-0.75zM65.43 97.63h0.75v0.75h-0.75zM84.47 79.35h0.75v0.75h-0.75zM57.49 93.37h0.75v0.75h-0.75zM58.23 84.33h0.75v0.75h-0.75zM77.3 78.66h0.75v0.75h-0.75zM92.99 94.67h0.75v0.75h-0.75zM57.16 89.29h0.75v0.75h-0.75zM60.71 81.93h0.75v0.75h-0.75zM59.5 83.84h0.75v0.75h-0.75zM72.73 76.96h0.75v0.75h-0.75zM92.32 92.64h0.75v0.75h-0.75zM85.64 79.54h0.75v0.75h-0.75zM94.88 90.12h0.75v0.75h-0.75zM87.32 81.59h0.75v0.75h-0.75zM84.12 79.61h0.75v0.75h-0.75zM62.72 96.47h0.75v0.75h-0.75zM54.76 87.53h0.75v0.75h-0.75zM88.5 96.42h0.75v0.75h-0.75zM87.79 80.64h0.75v0.75h-0.75zM62.06 95.92h0.75v0.75h-0.75zM89.2 80.54h0.75v0.75h-0.75zM94.15 90.45h0.75v0.75h-0.75zM82.87 99.08h0.75v0.75h-0.75zM82.65 79.12h0.75v0.75h-0.75zM69.4 79.23h0.75v0.75h-0.75zM58.57 82.14h0.75v0.75h-0.75zM68.68 77.05h0.75v0.75h-0.75zM71.14 78.33h0.75v0.75h-0.75zM55.42 89.46h0.75v0.75h-0.75zM88.47 96.52h0.75v0.75h-0.75zM59.5 83.15h0.75v0.75h-0.75zM59.18 84.48h0.75v0.75h-0.75zM84.13 78.78h0.75v0.75h-0.75zM58.14 94.33h0.75v0.75h-0.75zM57.9 96.63h0.75v0.75h-0.75zM65.63 97.73h0.75v0.75h-0.75zM54.76 94.03h0.75v0.75h-0.75zM91.64 83.11h0.75v0.75h-0.75zM97.43 93.55h0.75v0.75h-0.75zM91.13 84.91h0.75v0.75h-0.75zM61.83 80.59h0.75v0.75h-0.75zM93.38 93.95h0.75v0.75h-0.75zM96.59 90.65h0.75v0.75h-0.75zM78.46 77.1h0.75v0.75h-0.75zM82.8 77.43h0.75v0.75h-0.75zM93.38 91.34h0.75v0.75h-0.75zM67.15 79.58h0.75v0.75h-0.75zM91.85 83.98h0.75v0.75h-0.75zM70.61 99.6h0.75v0.75h-0.75zM91.52 98.03h0.75v0.75h-0.75zM57.15 88.1h0.75v0.75h-0.75zM57.06 86.76h0.75v0.75h-0.75zM87.4 96.79h0.75v0.75h-0.75zM70.79 98.93h0.75v0.75h-0.75zM56.41 85.77h0.75v0.75h-0.75zM58.21 84.41h0.75v0.75h-0.75zM69.92 77.42h0.75v0.75h-0.75zM60.06 81.57h0.75v0.75h-0.75zM75.88 99.49h0.75v0.75h-0.75zM61.69 95.96h0.75v0.75h-0.75zM63.71 97.7h0.75v0.75h-0.75zM56.62 85.04h0.75v0.75h-0.75zM93.74 88.15h0.75v0.75h-0.75zM87.04 99.78h0.75v0.75h-0.75zM56.54 93.24h0.75v0.75h-0.75zM58.54 92.78h0.75v0.75h-0.75zM78.34 101.31h0.75v0.75h-0.75zM85.61 97.99h0.75v0.75h-0.75zM65.43 78.05h0.75v0.75h-0.75zM84.35 77.71h0.75v0.75h-0.75zM74.25 78.71h0.75v0.75h-0.75zM79.14 78.25h0.75v0.75h-0.75zM87.38 96.38h0.75v0.75h-0.75zM76.97 77.42h0.75v0.75h-0.75zM94.36 86.32h0.75v0.75h-0.75zM79.19 77.7h0.75v0.75h-0.75zM60.31 97.04h0.75v0.75h-0.75zM71.93 78.57h0.75v0.75h-0.75zM56.93 85.2h0.75v0.75h-0.75zM79.46 78.12h0.75v0.75h-0.75zM57.69 92.68h0.75v0.75h-0.75zM87.56 98.38h0.75v0.75h-0.75zM91.61 94.93h0.75v0.75h-0.75zM86.56 78.93h0.75v0.75h-0.75zM81.36 101.48h0.75v0.75h-0.75zM95.59 89.8h0.75v0.75h-0.75zM55.02 86.14h0.75v0.75h-0.75zM56.54 87.83h0.75v0.75h-0.75zM62.79 97.81h0.75v0.75h-0.75zM92.93 85.47h0.75v0.75h-0.75zM90.73 95.53h0.75v0.75h-0.75zM94.74 86.4h0.75v0.75h-0.75zM60.92 80.88h0.75v0.75h-0.75zM57.12 87.01h0.75v0.75h-0.75zM65.81 100.69h0.75v0.75h-0.75zM67.32 77.79h0.75v0.75h-0.75zM89.39 81.93h0.75v0.75h-0.75zM69.91 100.52h0.75v0.75h-0.75zM82.22 99.21h0.75v0.75h-0.75zM57.19 81.19h0.75v0.75h-0.75zM61.89 80.21h0.75v0.75h-0.75zM79.43 78.34h0.75v0.75h-0.75zM94.18 89.27h0.75v0.75h-0.75zM59.23 83.5h0.75v0.75h-0.75zM55.57 89.15h0.75v0.75h-0.75zM59.38 77.05h0.75v0.75h-0.75zM58.34 84.12h0.75v0.75h-0.75zM84.77 97.53h0.75v0.75h-0.75zM90.39 95.49h0.75v0.75h-0.75zM84.31 78.1h0.75v0.75h-0.75zM95.17 93.81h0.75v0.75h-0.75zM67.01 98.41h0.75v0.75h-0.75zM83.59 97.98h0.75v0.75h-0.75zM91.12 82.55h0.75v0.75h-0.75zM57.68 92.27h0.75v0.75h-0.75zM92.79 80.53h0.75v0.75h-0.75zM57.39 93.07h0.75v0.75h-0.75zM96.16 92.48h0.75v0.75h-0.75zM66.59 100.31h0.75v0.75h-0.75zM67.52 101.36h0.75v0.75h-0.75zM55.66 89.31h0.75v0.75h-0.75zM61.19 95.64h0.75v0.75h-0.75zM67.88 99.59h0.75v0.75h-0.75zM79.69 79.13h0.75v0.75h-0.75zM62.31 98.07h0.75v0.75h-0.75zM70.26 99.5h0.75v0.75h-0.75zM55.95 86.62h0.75v0.75h-0.75zM94.15 93.84h0.75v0.75h-0.75zM64.51 97.23h0.75v0.75h-0.75zM71.3 99h0.75v0.75h-0.75zM65.57 79.86h0.75v0.75h-0.75zM69.74 78.28h0.75v0.75h-0.75zM84.9 79.3h0.75v0.75h-0.75zM84.34 80.02h0.75v0.75h-0.75zM64.15 97.33h0.75v0.75h-0.75zM93.52 86.13h0.75v0.75h-0.75zM57.02 88.68h0.75v0.75h-0.75zM87.32 96.7h0.75v0.75h-0.75zM90.84 82.3h0.75v0.75h-0.75zM75.45 99.96h0.75v0.75h-0.75zM88.71 80.79h0.75v0.75h-0.75zM57.5 86.22h0.75v0.75h-0.75zM60.5 96.43h0.75v0.75h-0.75zM68.14 98.9h0.75v0.75h-0.75zM83.36 98.82h0.75v0.75h-0.75zM64.55 79.08h0.75v0.75h-0.75zM62.32 97.71h0.75v0.75h-0.75zM91.72 93.26h0.75v0.75h-0.75zM87.65 96.44h0.75v0.75h-0.75zM57.61 96h0.75v0.75h-0.75zM88.66 81.82h0.75v0.75h-0.75zM71.47 101.15h0.75v0.75h-0.75zM65.13 79.52h0.75v0.75h-0.75zM65.17 80.14h0.75v0.75h-0.75zM86.23 79.64h0.75v0.75h-0.75zM84.02 100.42h0.75v0.75h-0.75zM73.22 78.76h0.75v0.75h-0.75zM92.88 91.66h0.75v0.75h-0.75zM69.07 98.92h0.75v0.75h-0.75zM68.05 99h0.75v0.75h-0.75zM86.27 78.63h0.75v0.75h-0.75zM74.38 101.18h0.75v0.75h-0.75zM62.02 99.49h0.75v0.75h-0.75zM77.94 78.85h0.75v0.75h-0.75zM86.08 80.63h0.75v0.75h-0.75zM75.73 101.13h0.75v0.75h-0.75zM80.23 100.86h0.75v0.75h-0.75zM90.8 94.51h0.75v0.75h-0.75zM74.72 78.25h0.75v0.75h-0.75zM91.93 95.22h0.75v0.75h-0.75zM92.25 84.31h0.75v0.75h-0.75zM84.38 79.11h0.75v0.75h-0.75zM92.37 92.57h0.75v0.75h-0.75zM56.29 88.19h0.75v0.75h-0.75zM76.59 76.69h0.75v0.75h-0.75zM81.11 79.3h0.75v0.75h-0.75zM94.24 86.83h0.75v0.75h-0.75zM75.04 100.45h0.75v0.75h-0.75zM59.5 94.57h0.75v0.75h-0.75zM87.15 97.15h0.75v0.75h-0.75zM76.35 99.26h0.75v0.75h-0.75zM56.45 92.87h0.75v0.75h-0.75zM69.32 99.28h0.75v0.75h-0.75zM56.68 84.54h0.75v0.75h-0.75zM58.11 85.94h0.75v0.75h-0.75zM65.07 79.05h0.75v0.75h-0.75zM76.84 78.51h0.75v0.75h-0.75zM70.43 99.49h0.75v0.75h-0.75zM91.64 92.84h0.75v0.75h-0.75zM69.39 78.64h0.75v0.75h-0.75zM66.03 99.29h0.75v0.75h-0.75zM83.82 98.04h0.75v0.75h-0.75zM92.58 88.5h0.75v0.75h-0.75zM70.75 77.23h0.75v0.75h-0.75zM90.68 96.4h0.75v0.75h-0.75zM81.61 98.64h0.75v0.75h-0.75zM92.26 83.46h0.75v0.75h-0.75zM92.15 84.72h0.75v0.75h-0.75zM75.45 99.41h0.75v0.75h-0.75zM77.86 78.29h0.75v0.75h-0.75zM83.13 100.02h0.75v0.75h-0.75zM92.66 83.92h0.75v0.75h-0.75zM83.57 80.02h0.75v0.75h-0.75zM82.43 98.87h0.75v0.75h-0.75zM61.55 97.46h0.75v0.75h-0.75zM83.64 80.08h0.75v0.75h-0.75zM56.05 84.09h0.75v0.75h-0.75zM68.8 76.46h0.75v0.75h-0.75zM55.97 89.39h0.75v0.75h-0.75zM69.34 99.19h0.75v0.75h-0.75zM67.79 78.83h0.75v0.75h-0.75zM92.87 87.01h0.75v0.75h-0.75zM57.32 93.09h0.75v0.75h-0.75zM95.21 89.21h0.75v0.75h-0.75zM79.46 78.06h0.75v0.75h-0.75zM64.37 79.07h0.75v0.75h-0.75zM63.91 99.32h0.75v0.75h-0.75zM83.66 79.32h0.75v0.75h-0.75zM69.17 100.43h0.75v0.75h-0.75zM64.62 97.49h0.75v0.75h-0.75zM64.3 101.43h0.75v0.75h-0.75zM93.5 82.07h0.75v0.75h-0.75zM95.28 86.12h0.75v0.75h-0.75zM92.76 93.08h0.75v0.75h-0.75zM68.27 101.8h0.75v0.75h-0.75zM56.29 90.32h0.75v0.75h-0.75zM65.01 97.71h0.75v0.75h-0.75zM82.03 99.08h0.75v0.75h-0.75z"/>
<path fill="#333" fill-opacity="0.65" d="M123.95 93.35h0.75v0.75h-0.75zM111.97 94.11h0.75v0.75h-0.75zM111.15 92.84h0.75v0.75h-0.75zM111.93 88.99h0.75v0.75h-0.75zM119.61 92.08h0.75v0.75h-0.75zM122.34 87.45h0.75v0.75h-0.75zM125.34 95.4h0.75v0.75h-0.75zM116.95 92.2h0.75v0.75h-0.75zM112.89 89.94h0.75v0.75h-0.75zM110.03 90.83h0.75v0.75h-0.75zM118.05 95.4h0.75v0.75h-0.75zM122 93.47h0.75v0.75h-0.75zM115.09 89.68h0.75v0.75h-0.75zM115.2 91.31h0.75v0.75h-0.75zM106.81 93.31h0.75v0.75h-0.75zM108.73 88.62h0.75v0.75h-0.75zM117.12 88.63h0.75v0.75h-0.75zM125.78 90.14h0.75v0.75h-0.75zM125.3 94.78h0.75v0.75h-0.75zM114.38 91.96h0.75v0.75h-0.75zM123.86 89.28h0.75v0.75h-0.75zM117.47 88.46h0.75v0.75h-0.75zM117.31 89.21h0.75v0.75h-0.75zM117.44 94.16h0.75v0.75h-0.75zM124.35 90.99h0.75v0.75h-0.75zM118.07 93.62h0.75v0.75h-0.75zM115.47 86.64h0.75v0.75h-0.75zM122.86 87.09h0.75v0.75h-0.75zM121.91 86.98h0.75v0.75h-0.75zM126.66 86.69h0.75v0.75h-0.75zM121.48 95.97h0.75v0.75h-0.75zM111.93 95.92h0.75v0.75h-0.75zM112.65 84.06h0.75v0.75h-0.75zM120.81 93.06h0.75v0.75h-0.75zM115.93 81.29h0.75v0.75h-0.75zM116.71 89.38h0.75v0.75h-0.75zM115 89.44h0.75v0.75h-0.75zM107.55 88.43h0.75v0.75h-0.75zM126.5 96.14h0.75v0.75h-0.75zM115.09 87.9h0.75v0.75h-0.75zM119.09 94.37h0.75v0.75h-0.75zM120.82 86.24h0.75v0.75h-0.75zM117.86 91.01h0.75v0.75h-0.75zM124.59 94.86h0.75v0.75h-0.75zM119.77 94.94h0.75v0.75h-0.75zM114.91 96.11h0.75v0.75h-0.75zM114.75 91.94h0.75v0.75h-0.75zM121.85 87.17h0.75v0.75h-0.75zM113.29 84.09h0.75v0.75h-0.75zM117.87 90.3h0.75v0.75h-0.75zM115.27 92.32h0.75v0.75h-0.75zM105.83 90.41h0.75v0.75h-0.75zM117.46 89.53h0.75v0.75h-0.75zM121.19 96.89h0.75v0.75h-0.75zM114.65 87.07h0.75v0.75h-0.75zM113.81 90.84h0.75v0.75h-0.75zM120.09 87.36h0.75v0.75h-0.75zM122.28 86.76h0.75v0.75h-0.75zM121.37 92.06h0.75v0.75h-0.75zM119.45 98.37h0.75v0.75h-0.75zM115.61 89.9h0.75v0.75h-0.75zM119.52 93.65h0.75v0.75h-0.75zM109.93 91.5h0.75v0.75h-0.75zM113.08 92.8h0.75v0.75h-0.75zM124.23 90.69h0.75v0.75h-0.75zM116.44 91.17h0.75v0.75h-0.75zM101.4 93.31h0.75v0.75h-0.75zM119.96 91.1h0.75v0.75h-0.75zM114.91 87.83h0.75v0.75h-0.75zM116.05 94.93h0.75v0.75h-0.75zM116.46 95.42h0.75v0.75h-0.75zM103.42 88.82h0.75v0.75h-0.75zM118.45 90.45h0.75v0.75h-0.75zM108.23 88.07h0.75v0.75h-0.75zM123.6 85.79h0.75v0.75h-0.75zM111.77 86.5h0.75v0.75h-0.75zM114.09 92.84h0.75v0.75h-0.75zM120.14 83.09h0.75v0.75h-0.75zM124.71 88.34h0.75v0.75h-0.75zM113.89 96.58h0.75v0.75h-0.75zM116.57 85.98h0.75v0.75h-0.75zM113.63 87.85h0.75v0.75h-0.75zM111.67 89.28h0.75v0.75h-0.75zM121.63 91.78h0.75v0.75h-0.75zM109.71 100.67h0.75v0.75h-0.75zM111.77 90.92h0.75v0.75h-0.75zM117.17 93.28h0.75v0.75h-0.75zM115.27 92.17h0.75v0.75h-0.75zM128.12 90.85h0.75v0.75h-0.75zM111.28 91.7h0.75v0.75h-0.75zM112.76 89.15h0.75v0.75h-0.75zM117.99 91.73h0.75v0.75h-0.75zM115.5 93.59h0.75v0.75h-0.75zM115.98 85.74h0.75v0.75h-0.75zM121.64 89.17h0.75v0.75h-0.75zM123.4 88.11h0.75v0.75h-0.75zM120.02 91.65h0.75v0.75h-0.75zM102.76 85.05h0.75v0.75h-0.75zM111.09 95.63h0.75v0.75h-0.75zM107.03 93.83h0.75v0.75h-0.75zM122.77 92.31h0.75v0.75h-0.75zM120.56 88.69h0.75v0.75h-0.75zM116.94 91.32h0.75v0.75h-0.75zM119.22 93.08h0.75v0.75h-0.75zM115.91 87.94h0.75v0.75h-0.75zM114.03 92h0.75v0.75h-0.75zM108.23 85.93h0.75v0.75h-0.75zM114.83 88.48h0.75v0.75h-0.75zM115.57 80.79h0.75v0.75h-0.75zM115.2 89.58h0.75v0.75h-0.75zM121.1 83.28h0.75v0.75h-0.75zM115.38 92.23h0.75v0.75h-0.75zM119.58 94.86h0.75v0.75h-0.75zM122.57 86.67h0.75v0.75h-0.75zM120.36 89.28h0.75v0.75h-0.75zM112.76 96.1h0.75v0.75h-0.75zM113.67 87.38h0.75v0.75h-0.75zM114.84 87.39h0.75v0.75h-0.75zM122.32 91.89h0.75v0.75h-0.75zM124.4 92h0.75v0.75h-0.75zM113.75 94.33h0.75v0.75h-0.75zM113.54 88.81h0.75v0.75h-0.75zM116.11 90.64h0.75v0.75h-0.75zM123.32 88.28h0.75v0.75h-0.75zM118.86 90.4h0.75v0.75h-0.75zM110.34 86.5h0.75v0.75h-0.75zM115.84 91.98h0.75v0.75h-0.75zM118.7 92.25h0.75v0.75h-0.75zM117.26 88.86h0.75v0.75h-0.75zM119.26 86.83h0.75v0.75h-0.75zM109.89 89.28h0.75v0.75h-0.75zM109.43 88.62h0.75v0.75h-0.75zM113.04 88.47h0.75v0.75h-0.75zM116.76 87.57h0.75v0.75h-0.75zM114.76 84.24h0.75v0.75h-0.75zM117.77 87.27h0.75v0.75h-0.75zM119.14 80.14h0.75v0.75h-0.75zM112.75 91.39h0.75v0.75h-0.75zM104.06 89.18h0.75v0.75h-0.75zM117.5 90.88h0.75v0.75h-0.75zM109.06 91.34h0.75v0.75h-0.75zM117.79 86.94h0.75v0.75h-0.75zM120.95 90.32h0.75v0.75h-0.75zM117.1 88.85h0.75v0.75h-0.75zM119.91 90.86h0.75v0.75h-0.75zM123.03 92.16h0.75v0.75h-0.75zM113.72 89.68h0.75v0.75h-0.75zM121.88 89.16h0.75v0.75h-0.75zM119.03 92.42h0.75v0.75h-0.75zM116.05 81.95h0.75v0.75h-0.75zM117.7 91.29h0.75v0.75h-0.75zM117.72 87.71h0.75v0.75h-0.75zM123.43 90.01h0.75v0.75h-0.75zM113.69 87.87h0.75v0.75h-0.75zM118.91 86.49h0.75v0.75h-0.75zM111.68 97.85h0.75v0.75h-0.75zM123.97 94.37h0.75v0.75h-0.75zM124.26 92.69h0.75v0.75h-0.75zM108.04 94.89h0.75v0.75h-0.75zM123.59 92.3h0.75v0.75h-0.75zM106.59 95.07h0.75v0.75h-0.75zM124.27 88.69h0.75v0.75h-0.75zM117.68 93.36h0.75v0.75h-0.75zM116.55 94.54h0.75v0.75h-0.75zM117.43 93.04h0.75v0.75h-0.75zM117.45 85.06h0.75v0.75h-0.75zM111.7 102.16h0.75v0.75h-0.75zM118.49 95.33h0.75v0.75h-0.75zM123.07 96.81h0.75v0.75h-0.75zM119.95 88.31h0.75v0.75h-0.75zM117.1 83.43h0.75v0.75h-0.75zM116 93.84h0.75v0.75h-0.75zM105.47 91.23h0.75v0.75h-0.75zM121.39 95.39h0.75v0.75h-0.75zM112.06 88.1h0.75v0.75h-0.75zM106.99 86.74h0.75v0.75h-0.75zM119.85 98.13h0.75v0.75h-0.75zM110.88 95.58h0.75v0.75h-0.75zM119.28 88.68h0.75v0.75h-0.75zM128.71 81.2h0.75v0.75h-0.75zM116.64 91.31h0.75v0.75h-0.75zM128.38 97.13h0.75v0.75h-0.75zM129.09 91h0.75v0.75h-0.75zM122.24 95.54h0.75v0.75h-0.75zM119.74 91.83h0.75v0.75h-0.75zM116.02 88.99h0.75v0.75h-0.75zM110.43 97.7h0.75v0.75h-0.75zM114.61 82.82h0.75v0.75h-0.75zM118.41 90.37h0.75v0.75h-0.75zM117.94 97.2h0.75v0.75h-0.75zM116.43 89.52h0.75v0.75h-0.75zM113.01 90.42h0.75v0.75h-0.75zM114.65 91.26h0.75v0.75h-0.75zM133.71 91.95h0.75v0.75h-0.75zM112.42 97.63h0.75v0.75h-0.75zM121.62 93.52h0.75v0.75h-0.75zM120.83 93.53h0.75v0.75h-0.75zM120.61 95.71h0.75v0.75h-0.75zM122.39 95.49h0.75v0.75h-0.75zM114.31 90.49h0.75v0.75h-0.75z"/>
<path fill="#555" fill-opacity="0.45" d="M121.16 33.8h0.75v0.75h-0.75zM127.24 29.64h0.75v0.75h-0.75zM126.28 38.67h0.75v0.75h-0.75zM128.81 27.74h0.75v0.75h-0.75zM123.64 32.85h0.75v0.75h-0.75zM123.86 32.13h0.75v0.75h-0.75zM128.59 31.96h0.75v0.75h-0.75zM119.73 33.09h0.75v0.75h-0.75zM123.62 31.33h0.75v0.75h-0.75zM121.79 26.96h0.75v0.75h-0.75zM119.14 29.97h0.75v0.75h-0.75zM119.83 23.07h0.75v0.75h-0.75zM128.47 27.61h0.75v0.75h-0.75zM121.18 32.55h0.75v0.75h-0.75zM114.61 34.92h0.75v0.75h-0.75zM121.01 32.93h0.75v0.75h-0.75zM122.12 31.89h0.75v0.75h-0.75zM124.41 31h0.75v0.75h-0.75z"/>
<path fill="#333" fill-opacity="0.55" d="M91.66 86.27h0.75v0.75h-0.75zM96.88 97.49h0.75v0.75h-0.75zM95.41 94.07h0.75v0.75h-0.75zM97.47 93.88h0.75v0.75h-0.75zM99.9 86.16h0.75v0.75h-0.75zM97.8 91.31h0.75v0.75h-0.75zM96.09 88.67h0.75v0.75h-0.75zM94.7 87.99h0.75v0.75h-0.75zM93.79 101.78h0.75v0.75h-0.75zM101.97 92.04h0.75v0.75h-0.75zM99.17 88.2h0.75v0.75h-0.75zM88.87 84.9h0.75v0.75h-0.75zM97.41 97.61h0.75v0.75h-0.75zM96.88 88.1h0.75v0.75h-0.75zM96.29 88.11h0.75v0.75h-0.75zM92.92 91.09h0.75v0.75h-0.75zM95.83 88.84h0.75v0.75h-0.75zM94.41 88.37h0.75v0.75h-0.75zM97.69 97.43h0.75v0.75h-0.75zM96.39 100.71h0.75v0.75h-0.75zM92.27 93.07h0.75v0.75h-0.75zM93.62 91.37h0.75v0.75h-0.75zM97.3 94.18h0.75v0.75h-0.75zM100.3 89.84h0.75v0.75h-0.75zM93.37 91.27h0.75v0.75h-0.75zM97.86 89.28h0.75v0.75h-0.75zM99.61 98.56h0.75v0.75h-0.75zM92.84 93.41h0.75v0.75h-0.75zM99.97 84.51h0.75v0.75h-0.75zM97.6 91.12h0.75v0.75h-0.75zM92.84 97.13h0.75v0.75h-0.75zM97.63 90.13h0.75v0.75h-0.75zM98.3 94.51h0.75v0.75h-0.75zM99.25 94.26h0.75v0.75h-0.75zM98.2 87.41h0.75v0.75h-0.75zM95.77 92.5h0.75v0.75h-0.75zM88.91 100.31h0.75v0.75h-0.75zM95.89 87.89h0.75v0.75h-0.75zM91.68 92.97h0.75v0.75h-0.75zM97.09 89.72h0.75v0.75h-0.75zM95.78 88.54h0.75v0.75h-0.75zM94.81 91.62h0.75v0.75h-0.75zM95.12 94.65h0.75v0.75h-0.75zM96.58 92.51h0.75v0.75h-0.75zM98.19 96.95h0.75v0.75h-0.75zM98.76 92.89h0.75v0.75h-0.75zM96.52 88.86h0.75v0.75h-0.75zM96 94.66h0.75v0.75h-0.75zM97.66 90.49h0.75v0.75h-0.75zM93.11 86.02h0.75v0.75h-0.75zM97.94 96h0.75v0.75h-0.75zM98.09 86.65h0.75v0.75h-0.75zM96.38 92.87h0.75v0.75h-0.75zM94.32 93.35h0.75v0.75h-0.75zM96.41 88.75h0.75v0.75h-0.75zM93.37 95.16h0.75v0.75h-0.75zM98.04 88.54h0.75v0.75h-0.75zM94.04 95.47h0.75v0.75h-0.75zM98.74 90.81h0.75v0.75h-0.75zM101.66 90.87h0.75v0.75h-0.75z"/>
<ellipse cx="75" cy="89" rx="17.4" ry="9.9" fill="#fff" stroke="#000" stroke-width="1"/>
<ellipse cx="75.2" cy="89.3" rx="15.4" ry="8.1" fill="url(#gA)"/>
<ellipse cx="74.2" cy="87.4" rx="7.8" ry="1.5" fill="#111"/><ellipse cx="74.2" cy="92.5" rx="7.8" ry="1.5" fill="#111"/>
<path fill="#444" fill-opacity="0.6" d="M179.34 39.04h0.75v0.75h-0.75zM183.99 36.28h0.75v0.75h-0.75zM185.2 31.29h0.75v0.75h-0.75zM178.64 34.28h0.75v0.75h-0.75zM192.53 31.29h0.75v0.75h-0.75zM192.28 35.82h0.75v0.75h-0.75zM179.04 35.99h0.75v0.75h-0.75zM188.04 31.67h0.75v0.75h-0.75zM173.59 36.32h0.75v0.75h-0.75zM179.06 36.63h0.75v0.75h-0.75zM174.76 34.48h0.75v0.75h-0.75zM180.67 29.52h0.75v0.75h-0.75zM183.71 35.63h0.75v0.75h-0.75zM182.02 30.63h0.75v0.75h-0.75zM186.14 28.53h0.75v0.75h-0.75zM187.86 36.81h0.75v0.75h-0.75zM193.98 38.27h0.75v0.75h-0.75zM186.9 35.97h0.75v0.75h-0.75zM185.15 30.1h0.75v0.75h-0.75zM192.82 36.95h0.75v0.75h-0.75zM183.47 30.77h0.75v0.75h-0.75zM192.94 36.97h0.75v0.75h-0.75zM178.66 37.48h0.75v0.75h-0.75zM195.13 34.92h0.75v0.75h-0.75zM187.14 33.46h0.75v0.75h-0.75zM181.64 38.96h0.75v0.75h-0.75zM201.45 35.43h0.75v0.75h-0.75zM184.34 37.93h0.75v0.75h-0.75zM183.37 37.69h0.75v0.75h-0.75zM189.43 31.25h0.75v0.75h-0.75zM179.27 34.73h0.75v0.75h-0.75zM189.45 36.02h0.75v0.75h-0.75zM191.63 29.92h0.75v0.75h-0.75zM187.63 32.7h0.75v0.75h-0.75zM185.53 36.19h0.75v0.75h-0.75zM179.82 34.16h0.75v0.75h-0.75zM178.79 35.98h0.75v0.75h-0.75zM180.46 33.18h0.75v0.75h-0.75zM186.17 32.59h0.75v0.75h-0.75zM191.13 32.65h0.75v0.75h-0.75zM189.53 36.04h0.75v0.75h-0.75zM179.48 34.2h0.75v0.75h-0.75zM180.54 33.67h0.75v0.75h-0.75zM183.55 41.7h0.75v0.75h-0.75zM182.77 40.78h0.75v0.75h-0.75zM187.38 30.19h0.75v0.75h-0.75zM172.66 37.5h0.75v0.75h-0.75zM174.39 37.65h0.75v0.75h-0.75zM190.48 36.44h0.75v0.75h-0.75zM183.88 34.08h0.75v0.75h-0.75zM186.38 33.88h0.75v0.75h-0.75zM182.15 33.64h0.75v0.75h-0.75zM191.24 32.72h0.75v0.75h-0.75zM187.02 30.76h0.75v0.75h-0.75zM181.2 29.94h0.75v0.75h-0.75zM183.95 37.51h0.75v0.75h-0.75zM186.63 33.19h0.75v0.75h-0.75zM188.26 33.72h0.75v0.75h-0.75zM186.98 36.01h0.75v0.75h-0.75zM187.88 25.89h0.75v0.75h-0.75zM178.06 37.85h0.75v0.75h-0.75zM184.43 43.25h0.75v0.75h-0.75zM183.75 32.97h0.75v0.75h-0.75zM192.95 37.04h0.75v0.75h-0.75zM195.1 36.87h0.75v0.75h-0.75zM183.92 37.66h0.75v0.75h-0.75zM180.81 33.36h0.75v0.75h-0.75zM182.05 34.18h0.75v0.75h-0.75zM189.14 33.23h0.75v0.75h-0.75zM186.71 33.17h0.75v0.75h-0.75zM189.7 24.87h0.75v0.75h-0.75zM183.89 35.62h0.75v0.75h-0.75zM179.26 38.72h0.75v0.75h-0.75zM186.15 39.71h0.75v0.75h-0.75zM190.11 37.36h0.75v0.75h-0.75zM184.21 31.01h0.75v0.75h-0.75zM183.83 33.31h0.75v0.75h-0.75zM186.33 33.29h0.75v0.75h-0.75zM201.24 29.13h0.75v0.75h-0.75zM191.24 33.27h0.75v0.75h-0.75zM183.71 38.4h0.75v0.75h-0.75zM185.01 30.55h0.75v0.75h-0.75zM187.2 34.28h0.75v0.75h-0.75zM174.06 35.73h0.75v0.75h-0.75zM179.39 32.27h0.75v0.75h-0.75zM187.56 36.1h0.75v0.75h-0.75zM183.46 42.96h0.75v0.75h-0.75zM187.23 32.75h0.75v0.75h-0.75zM186.26 34.56h0.75v0.75h-0.75zM173.3 29.22h0.75v0.75h-0.75zM177.62 42.58h0.75v0.75h-0.75zM184.02 33.99h0.75v0.75h-0.75zM182 38.6h0.75v0.75h-0.75zM185.15 41.26h0.75v0.75h-0.75zM189.19 41.03h0.75v0.75h-0.75zM184.38 36.38h0.75v0.75h-0.75zM182.7 34.38h0.75v0.75h-0.75zM175.82 32.87h0.75v0.75h-0.75zM179.95 32.61h0.75v0.75h-0.75zM191.45 35.96h0.75v0.75h-0.75zM191.5 38.14h0.75v0.75h-0.75zM189.88 38.68h0.75v0.75h-0.75zM181.79 37.94h0.75v0.75h-0.75zM183.29 33.06h0.75v0.75h-0.75zM191.34 42.93h0.75v0.75h-0.75zM179.81 41.36h0.75v0.75h-0.75zM189.41 31.9h0.75v0.75h-0.75zM186.45 36.36h0.75v0.75h-0.75zM186.99 33.69h0.75v0.75h-0.75zM178.19 35.11h0.75v0.75h-0.75zM189.57 37.87h0.75v0.75h-0.75zM188.5 39.04h0.75v0.75h-0.75zM179.75 34.85h0.75v0.75h-0.75zM186.8 38.66h0.75v0.75h-0.75zM185.83 36.9h0.75v0.75h-0.75zM185.71 42.68h0.75v0.75h-0.75zM173.43 34.91h0.75v0.75h-0.75zM198.12 35.86h0.75v0.75h-0.75zM175.29 35.49h0.75v0.75h-0.75zM177.4 32.51h0.75v0.75h-0.75zM186.19 41.27h0.75v0.75h-0.75zM187.45 37.45h0.75v0.75h-0.75zM190.39 35.73h0.75v0.75h-0.75zM180.46 34.64h0.75v0.75h-0.75zM186.78 33.99h0.75v0.75h-0.75zM181.46 33.69h0.75v0.75h-0.75zM177.05 31.25h0.75v0.75h-0.75zM184.52 33.68h0.75v0.75h-0.75zM185.2 40.14h0.75v0.75h-0.75zM186.59 34.88h0.75v0.75h-0.75zM178.79 31.06h0.75v0.75h-0.75zM186.99 31.81h0.75v0.75h-0.75zM187.27 31.07h0.75v0.75h-0.75zM185.71 34.73h0.75v0.75h-0.75zM190.27 33.57h0.75v0.75h-0.75zM183.03 35.9h0.75v0.75h-0.75zM185.29 41.18h0.75v0.75h-0.75zM183.64 33.04h0.75v0.75h-0.75zM183.31 36.73h0.75v0.75h-0.75zM186.24 37.54h0.75v0.75h-0.75zM177.68 44.06h0.75v0.75h-0.75zM194.74 34.89h0.75v0.75h-0.75zM178.6 35.57h0.75v0.75h-0.75zM187.2 26.84h0.75v0.75h-0.75zM185.07 29.59h0.75v0.75h-0.75zM187.43 40.05h0.75v0.75h-0.75zM190.47 29.49h0.75v0.75h-0.75zM192.31 38.31h0.75v0.75h-0.75zM183.09 36.84h0.75v0.75h-0.75zM193.03 33.79h0.75v0.75h-0.75zM184.92 32.95h0.75v0.75h-0.75zM191.12 27.12h0.75v0.75h-0.75zM192.51 31.46h0.75v0.75h-0.75zM189.9 29.06h0.75v0.75h-0.75zM180.04 32.81h0.75v0.75h-0.75zM189.38 29.07h0.75v0.75h-0.75zM188.19 32.68h0.75v0.75h-0.75zM191.57 33.86h0.75v0.75h-0.75zM187.57 34.37h0.75v0.75h-0.75zM194.49 33.68h0.75v0.75h-0.75zM184.87 42.25h0.75v0.75h-0.75zM185.41 37.51h0.75v0.75h-0.75zM181.1 35.73h0.75v0.75h-0.75zM173 35.38h0.75v0.75h-0.75zM181.58 29.5h0.75v0.75h-0.75zM177.51 39.17h0.75v0.75h-0.75zM187.26 29.46h0.75v0.75h-0.75zM194.6 32.46h0.75v0.75h-0.75zM183.05 35.9h0.75v0.75h-0.75zM178.98 29.09h0.75v0.75h-0.75zM181.05 39.32h0.75v0.75h-0.75zM190.04 29.22h0.75v0.75h-0.75zM191.37 35.12h0.75v0.75h-0.75zM187.65 35.19h0.75v0.75h-0.75zM187.19 31.34h0.75v0.75h-0.75zM180.19 32.43h0.75v0.75h-0.75zM183.05 37.26h0.75v0.75h-0.75zM178.56 40.83h0.75v0.75h-0.75zM181.65 32.85h0.75v0.75h-0.75zM188.72 36.59h0.75v0.75h-0.75zM183.21 31.09h0.75v0.75h-0.75zM179.71 29.16h0.75v0.75h-0.75zM191.05 38.96h0.75v0.75h-0.75zM194.89 36.82h0.75v0.75h-0.75zM186.76 37.77h0.75v0.75h-0.75zM190.03 34.05h0.75v0.75h-0.75zM186.86 42.88h0.75v0.75h-0.75zM176.03 29.86h0.75v0.75h-0.75zM179.9 37.76h0.75v0.75h-0.75zM191.29 33.76h0.75v0.75h-0.75z"/>
<path fill="#333" fill-opacity="0.6" d="M186.56 69.67h0.75v0.75h-0.75zM184.59 66.36h0.75v0.75h-0.75zM182.86 69.97h0.75v0.75h-0.75zM188.99 85.04h0.75v0.75h-0.75zM173.39 73.59h0.75v0.75h-0.75zM182.97 76.52h0.75v0.75h-0.75zM188.62 75.26h0.75v0.75h-0.75zM187.28 63.6h0.75v0.75h-0.75zM173.97 81.25h0.75v0.75h-0.75zM189.4 63.58h0.75v0.75h-0.75zM189.83 74.49h0.75v0.75h-0.75zM170 76.06h0.75v0.75h-0.75zM177.77 77.86h0.75v0.75h-0.75zM179.39 64.99h0.75v0.75h-0.75zM174.82 68.54h0.75v0.75h-0.75zM188.39 65.47h0.75v0.75h-0.75zM173.15 84.46h0.75v0.75h-0.75zM192.78 74.65h0.75v0.75h-0.75zM180.15 61.83h0.75v0.75h-0.75zM174.32 73.77h0.75v0.75h-0.75zM189.89 62.85h0.75v0.75h-0.75zM183 68.13h0.75v0.75h-0.75zM181.64 73.38h0.75v0.75h-0.75zM194.09 65.7h0.75v0.75h-0.75zM187.5 77.34h0.75v0.75h-0.75zM181.49 69h0.75v0.75h-0.75zM175.89 77.28h0.75v0.75h-0.75zM180.19 65.59h0.75v0.75h-0.75zM183.36 64.21h0.75v0.75h-0.75zM177.47 67.99h0.75v0.75h-0.75zM190.88 68.61h0.75v0.75h-0.75zM185.79 60.1h0.75v0.75h-0.75zM172.67 82.27h0.75v0.75h-0.75zM180.89 59.62h0.75v0.75h-0.75zM182.44 74.1h0.75v0.75h-0.75zM173.84 64.05h0.75v0.75h-0.75zM184.38 63.78h0.75v0.75h-0.75zM187.23 76.49h0.75v0.75h-0.75zM185.35 67.1h0.75v0.75h-0.75zM182.75 65.73h0.75v0.75h-0.75zM182.31 72.15h0.75v0.75h-0.75zM181.41 76.57h0.75v0.75h-0.75zM196.77 66.3h0.75v0.75h-0.75zM184.82 75.56h0.75v0.75h-0.75zM186.42 68.39h0.75v0.75h-0.75zM180.45 76.78h0.75v0.75h-0.75zM186.32 73.42h0.75v0.75h-0.75zM178.73 74.27h0.75v0.75h-0.75zM187.22 68.75h0.75v0.75h-0.75zM186.43 84.68h0.75v0.75h-0.75zM173.03 74.1h0.75v0.75h-0.75zM176.78 60.78h0.75v0.75h-0.75zM181.75 73.69h0.75v0.75h-0.75zM183.28 62.12h0.75v0.75h-0.75zM175.36 66.24h0.75v0.75h-0.75zM183.07 64.38h0.75v0.75h-0.75zM175.01 81.87h0.75v0.75h-0.75zM178.54 68.94h0.75v0.75h-0.75zM180.08 66.04h0.75v0.75h-0.75zM183.21 67.98h0.75v0.75h-0.75zM186.29 61.98h0.75v0.75h-0.75zM175.09 83.2h0.75v0.75h-0.75zM182.6 75.2h0.75v0.75h-0.75zM189.28 73.75h0.75v0.75h-0.75zM183.19 59.46h0.75v0.75h-0.75zM174.48 76.63h0.75v0.75h-0.75zM186.6 73.86h0.75v0.75h-0.75zM174.17 55.55h0.75v0.75h-0.75zM177.37 61.99h0.75v0.75h-0.75zM183.85 63.07h0.75v0.75h-0.75zM191.43 65.78h0.75v0.75h-0.75zM180.01 75.86h0.75v0.75h-0.75zM184.75 63.9h0.75v0.75h-0.75zM187.38 83.04h0.75v0.75h-0.75zM176.46 68.31h0.75v0.75h-0.75zM177.26 56.82h0.75v0.75h-0.75zM186.34 74.74h0.75v0.75h-0.75zM188.2 72.91h0.75v0.75h-0.75zM172.25 69.82h0.75v0.75h-0.75zM179.43 62.01h0.75v0.75h-0.75zM177.09 75.2h0.75v0.75h-0.75zM181.42 83.36h0.75v0.75h-0.75zM185.51 57.02h0.75v0.75h-0.75zM187.78 78.5h0.75v0.75h-0.75zM183.17 61.75h0.75v0.75h-0.75zM192.45 61.07h0.75v0.75h-0.75zM182.55 57.03h0.75v0.75h-0.75zM176.29 58.43h0.75v0.75h-0.75zM188.83 78.02h0.75v0.75h-0.75zM180.83 60.77h0.75v0.75h-0.75zM182.68 72.58h0.75v0.75h-0.75zM174.83 62.11h0.75v0.75h-0.75zM182.45 74.8h0.75v0.75h-0.75zM183.4 73.07h0.75v0.75h-0.75zM176.31 53.02h0.75v0.75h-0.75zM184.67 63.74h0.75v0.75h-0.75zM182.33 67.43h0.75v0.75h-0.75zM185.58 64.73h0.75v0.75h-0.75zM190.75 70.21h0.75v0.75h-0.75zM185.84 74.3h0.75v0.75h-0.75zM188.57 72.76h0.75v0.75h-0.75zM173.61 65.7h0.75v0.75h-0.75zM192.99 73.23h0.75v0.75h-0.75zM186.01 73.19h0.75v0.75h-0.75zM179.55 65.36h0.75v0.75h-0.75zM179.52 77.92h0.75v0.75h-0.75zM184.96 82.18h0.75v0.75h-0.75zM185.68 82.95h0.75v0.75h-0.75zM185.46 61.9h0.75v0.75h-0.75zM192.37 72.31h0.75v0.75h-0.75zM189.42 71.47h0.75v0.75h-0.75zM181.24 71.16h0.75v0.75h-0.75zM176.95 61.81h0.75v0.75h-0.75zM178.21 66.4h0.75v0.75h-0.75zM175.69 69.29h0.75v0.75h-0.75zM184.64 83.92h0.75v0.75h-0.75zM192.93 69.66h0.75v0.75h-0.75zM187.77 68.49h0.75v0.75h-0.75zM185.11 69.77h0.75v0.75h-0.75zM180.08 70.52h0.75v0.75h-0.75zM175.01 73.02h0.75v0.75h-0.75zM181.44 62.55h0.75v0.75h-0.75zM181.06 73.81h0.75v0.75h-0.75zM179.33 73.27h0.75v0.75h-0.75zM186.08 80.73h0.75v0.75h-0.75zM177.12 69.24h0.75v0.75h-0.75zM185.77 80.33h0.75v0.75h-0.75zM184.42 75.2h0.75v0.75h-0.75zM175.06 65.98h0.75v0.75h-0.75zM192 68.04h0.75v0.75h-0.75zM194.71 64.98h0.75v0.75h-0.75zM181.49 59h0.75v0.75h-0.75zM186.45 71.82h0.75v0.75h-0.75zM193.94 71.14h0.75v0.75h-0.75zM181.64 60.28h0.75v0.75h-0.75zM182.55 76.54h0.75v0.75h-0.75zM187.02 78.48h0.75v0.75h-0.75zM187.69 69.68h0.75v0.75h-0.75zM186.28 71.19h0.75v0.75h-0.75zM175.77 81.83h0.75v0.75h-0.75zM185.03 62.73h0.75v0.75h-0.75zM185.09 71.99h0.75v0.75h-0.75zM188.41 79.99h0.75v0.75h-0.75zM191.32 63.44h0.75v0.75h-0.75zM172.9 71.93h0.75v0.75h-0.75zM184.83 72.43h0.75v0.75h-0.75zM176.96 66.77h0.75v0.75h-0.75zM184.06 75.16h0.75v0.75h-0.75zM194.93 72.04h0.75v0.75h-0.75zM179.72 53.65h0.75v0.75h-0.75zM188.85 69.09h0.75v0.75h-0.75zM182.4 63.15h0.75v0.75h-0.75zM187 57.57h0.75v0.75h-0.75zM183.59 70.84h0.75v0.75h-0.75zM184.64 79.05h0.75v0.75h-0.75zM182.46 70.65h0.75v0.75h-0.75zM187.67 59.24h0.75v0.75h-0.75zM181.41 70.47h0.75v0.75h-0.75zM188.21 64.44h0.75v0.75h-0.75zM187.39 72.67h0.75v0.75h-0.75zM174.89 59.73h0.75v0.75h-0.75zM175.18 70.97h0.75v0.75h-0.75zM184.13 75.03h0.75v0.75h-0.75zM187.48 66.16h0.75v0.75h-0.75zM188.84 75.69h0.75v0.75h-0.75zM185.58 73.33h0.75v0.75h-0.75zM175.97 72.51h0.75v0.75h-0.75zM177.36 61.71h0.75v0.75h-0.75zM181.09 70.97h0.75v0.75h-0.75zM182.71 67.7h0.75v0.75h-0.75zM177.53 71.3h0.75v0.75h-0.75zM178.95 60.2h0.75v0.75h-0.75zM183.51 80.12h0.75v0.75h-0.75zM180.79 62.61h0.75v0.75h-0.75zM190.57 81.92h0.75v0.75h-0.75zM181.39 68.53h0.75v0.75h-0.75zM184.16 90.55h0.75v0.75h-0.75zM183.73 76.92h0.75v0.75h-0.75zM185.43 57.33h0.75v0.75h-0.75zM176.97 61.41h0.75v0.75h-0.75zM185.37 70.74h0.75v0.75h-0.75zM192.8 68.12h0.75v0.75h-0.75zM184.69 70.52h0.75v0.75h-0.75zM183.76 86.14h0.75v0.75h-0.75zM184.56 80.26h0.75v0.75h-0.75zM190.11 65.77h0.75v0.75h-0.75zM186.76 67.34h0.75v0.75h-0.75zM183.6 71.1h0.75v0.75h-0.75zM183.12 66.73h0.75v0.75h-0.75zM191.53 68.15h0.75v0.75h-0.75zM186.85 81.71h0.75v0.75h-0.75zM186.43 77.16h0.75v0.75h-0.75zM190.61 77.59h0.75v0.75h-0.75zM192.42 60.04h0.75v0.75h-0.75zM193.74 70.19h0.75v0.75h-0.75zM173.42 65.53h0.75v0.75h-0.75zM175.35 69.85h0.75v0.75h-0.75zM174.83 62.97h0.75v0.75h-0.75zM184.62 71.1h0.75v0.75h-0.75zM178.62 68.36h0.75v0.75h-0.75zM182.46 70.52h0.75v0.75h-0.75zM182.96 68.46h0.75v0.75h-0.75zM187.82 58.78h0.75v0.75h-0.75zM180.29 70.93h0.75v0.75h-0.75zM180.8 66.14h0.75v0.75h-0.75zM180.6 71.46h0.75v0.75h-0.75zM189.84 68.7h0.75v0.75h-0.75zM181.53 72.49h0.75v0.75h-0.75zM181.67 56.48h0.75v0.75h-0.75zM184.47 67.36h0.75v0.75h-0.75zM179.85 74.39h0.75v0.75h-0.75zM183.24 66.05h0.75v0.75h-0.75zM171.04 57.97h0.75v0.75h-0.75zM183.08 69.18h0.75v0.75h-0.75zM185.41 71.56h0.75v0.75h-0.75zM180.37 61.15h0.75v0.75h-0.75zM176.98 69.03h0.75v0.75h-0.75zM176.69 75.29h0.75v0.75h-0.75zM175.71 57.47h0.75v0.75h-0.75zM181.93 57.58h0.75v0.75h-0.75zM191.95 63.06h0.75v0.75h-0.75zM182.71 68.29h0.75v0.75h-0.75zM178.49 57.63h0.75v0.75h-0.75zM172.77 76.05h0.75v0.75h-0.75zM188.62 85.14h0.75v0.75h-0.75zM174.96 73.92h0.75v0.75h-0.75zM182.92 75.92h0.75v0.75h-0.75zM180.17 75.05h0.75v0.75h-0.75zM187.93 74.24h0.75v0.75h-0.75zM190.96 68.78h0.75v0.75h-0.75zM191.49 65.1h0.75v0.75h-0.75zM192.17 50.77h0.75v0.75h-0.75zM183.07 64.4h0.75v0.75h-0.75zM183.01 77.22h0.75v0.75h-0.75zM186.95 70.66h0.75v0.75h-0.75zM192.36 59.67h0.75v0.75h-0.75zM178.52 80.57h0.75v0.75h-0.75zM184.8 55.48h0.75v0.75h-0.75zM184.87 61.71h0.75v0.75h-0.75zM191.13 78.01h0.75v0.75h-0.75zM179.99 79.05h0.75v0.75h-0.75zM178.42 76.44h0.75v0.75h-0.75zM186.18 69.11h0.75v0.75h-0.75zM175.18 68.04h0.75v0.75h-0.75zM170.41 66.06h0.75v0.75h-0.75zM172.82 78.51h0.75v0.75h-0.75zM177.68 52.98h0.75v0.75h-0.75zM186.21 72.58h0.75v0.75h-0.75zM180.21 84.82h0.75v0.75h-0.75zM187.25 70.46h0.75v0.75h-0.75zM179.45 49.31h0.75v0.75h-0.75zM185.64 76.72h0.75v0.75h-0.75zM179.75 60.11h0.75v0.75h-0.75zM182.77 58.29h0.75v0.75h-0.75zM183.04 75.4h0.75v0.75h-0.75zM191.3 71.86h0.75v0.75h-0.75zM184.08 75.25h0.75v0.75h-0.75zM190.7 67.77h0.75v0.75h-0.75zM176.25 64.46h0.75v0.75h-0.75z"/>
<path fill="#333" fill-opacity="0.6" d="M174.45 73.33h0.75v0.75h-0.75zM181.28 77.03h0.75v0.75h-0.75zM182.94 76.21h0.75v0.75h-0.75zM179.86 77.27h0.75v0.75h-0.75zM187.31 78.28h0.75v0.75h-0.75zM190.98 75.13h0.75v0.75h-0.75zM180.49 81.08h0.75v0.75h-0.75zM183.21 77.24h0.75v0.75h-0.75zM179.98 78.91h0.75v0.75h-0.75zM179.59 72.98h0.75v0.75h-0.75zM181.64 74.67h0.75v0.75h-0.75zM187 74.87h0.75v0.75h-0.75zM182.74 75.35h0.75v0.75h-0.75zM184.04 74.11h0.75v0.75h-0.75zM188.63 71.73h0.75v0.75h-0.75zM179.69 73.87h0.75v0.75h-0.75zM185.89 76.12h0.75v0.75h-0.75zM184.91 75.01h0.75v0.75h-0.75zM177.69 72.64h0.75v0.75h-0.75zM180 74.39h0.75v0.75h-0.75zM183.68 77.06h0.75v0.75h-0.75zM187.86 75.68h0.75v0.75h-0.75zM177.51 72.82h0.75v0.75h-0.75zM182.37 77.08h0.75v0.75h-0.75zM193.69 76.55h0.75v0.75h-0.75zM192.55 81.62h0.75v0.75h-0.75zM175.71 79.63h0.75v0.75h-0.75zM188.82 80.04h0.75v0.75h-0.75zM181.94 78.87h0.75v0.75h-0.75zM179.11 75.79h0.75v0.75h-0.75zM182.11 81.35h0.75v0.75h-0.75zM180.71 78.87h0.75v0.75h-0.75zM182.4 73.87h0.75v0.75h-0.75zM183.46 77.98h0.75v0.75h-0.75zM177.73 77.9h0.75v0.75h-0.75zM177.73 73.37h0.75v0.75h-0.75zM183.32 75.29h0.75v0.75h-0.75zM176.1 71.11h0.75v0.75h-0.75zM182.14 76.73h0.75v0.75h-0.75zM179.24 76.56h0.75v0.75h-0.75zM172.84 77.18h0.75v0.75h-0.75zM184.5 76.83h0.75v0.75h-0.75zM178.32 76.24h0.75v0.75h-0.75zM182.78 79.21h0.75v0.75h-0.75zM183.66 76.76h0.75v0.75h-0.75zM177.66 78.59h0.75v0.75h-0.75zM189.04 74.52h0.75v0.75h-0.75zM185.83 76.92h0.75v0.75h-0.75zM181.72 72.14h0.75v0.75h-0.75zM192.54 70.4h0.75v0.75h-0.75zM183.82 74.87h0.75v0.75h-0.75zM188.87 74.73h0.75v0.75h-0.75zM182.24 77.83h0.75v0.75h-0.75zM184.74 74.44h0.75v0.75h-0.75zM186.08 77.17h0.75v0.75h-0.75zM187.93 74.47h0.75v0.75h-0.75zM181.72 74.83h0.75v0.75h-0.75zM176.98 76.76h0.75v0.75h-0.75zM184.45 80.25h0.75v0.75h-0.75zM180.05 77.16h0.75v0.75h-0.75zM188.84 75.66h0.75v0.75h-0.75zM182.38 76.4h0.75v0.75h-0.75zM177.87 73.04h0.75v0.75h-0.75zM188.68 76.52h0.75v0.75h-0.75zM181.55 72.28h0.75v0.75h-0.75zM182.7 79.51h0.75v0.75h-0.75zM175.12 73.33h0.75v0.75h-0.75zM188.63 80.28h0.75v0.75h-0.75zM191.28 74.35h0.75v0.75h-0.75zM185.59 73.76h0.75v0.75h-0.75zM185.11 74.91h0.75v0.75h-0.75zM183.17 80.01h0.75v0.75h-0.75zM184.02 75.28h0.75v0.75h-0.75zM182.33 76.79h0.75v0.75h-0.75zM178.94 76.62h0.75v0.75h-0.75zM185.58 80.65h0.75v0.75h-0.75zM169.69 72.45h0.75v0.75h-0.75zM174.62 78.61h0.75v0.75h-0.75zM196.56 76.58h0.75v0.75h-0.75zM182.72 79.4h0.75v0.75h-0.75zM167.43 75.47h0.75v0.75h-0.75zM178.97 74.55h0.75v0.75h-0.75zM184.03 74.26h0.75v0.75h-0.75zM188.63 75.99h0.75v0.75h-0.75zM184.27 83.56h0.75v0.75h-0.75zM179.33 78.76h0.75v0.75h-0.75zM177.07 79.72h0.75v0.75h-0.75zM187.75 76.42h0.75v0.75h-0.75zM187.91 80.79h0.75v0.75h-0.75zM190.21 76h0.75v0.75h-0.75zM181.67 79.3h0.75v0.75h-0.75zM173.24 74.21h0.75v0.75h-0.75zM184.89 77.69h0.75v0.75h-0.75zM193.07 81.23h0.75v0.75h-0.75zM183.93 77.31h0.75v0.75h-0.75zM174.16 75.45h0.75v0.75h-0.75zM183.55 75.33h0.75v0.75h-0.75zM182.36 77.81h0.75v0.75h-0.75zM176.34 74.31h0.75v0.75h-0.75zM171.44 79.4h0.75v0.75h-0.75zM175.73 70.94h0.75v0.75h-0.75zM186.58 75.37h0.75v0.75h-0.75zM187.74 74.91h0.75v0.75h-0.75zM194.62 78.12h0.75v0.75h-0.75zM182.89 76.34h0.75v0.75h-0.75zM180.78 78.4h0.75v0.75h-0.75zM193.87 74.75h0.75v0.75h-0.75zM175.54 77.77h0.75v0.75h-0.75zM188.33 71.57h0.75v0.75h-0.75zM177.9 73.04h0.75v0.75h-0.75zM185.33 77.5h0.75v0.75h-0.75zM177.65 72.66h0.75v0.75h-0.75zM186.05 69.91h0.75v0.75h-0.75zM185.82 75.54h0.75v0.75h-0.75zM193.37 78.94h0.75v0.75h-0.75zM178.57 75.19h0.75v0.75h-0.75zM180.36 73.85h0.75v0.75h-0.75zM182.48 78.86h0.75v0.75h-0.75zM173.08 75.33h0.75v0.75h-0.75zM190.83 78.2h0.75v0.75h-0.75zM177.18 73.61h0.75v0.75h-0.75zM176.94 71.25h0.75v0.75h-0.75zM188.8 76.21h0.75v0.75h-0.75zM177.88 71.76h0.75v0.75h-0.75zM179.73 74.49h0.75v0.75h-0.75zM192.17 74.64h0.75v0.75h-0.75zM182.68 79.17h0.75v0.75h-0.75zM185.95 75.47h0.75v0.75h-0.75zM169.11 80.14h0.75v0.75h-0.75zM185.53 74.72h0.75v0.75h-0.75zM181.48 73.18h0.75v0.75h-0.75zM176.7 71.62h0.75v0.75h-0.75zM184.96 77.53h0.75v0.75h-0.75zM183.03 78.3h0.75v0.75h-0.75zM185.16 76.36h0.75v0.75h-0.75zM176.79 77.74h0.75v0.75h-0.75zM189 77.86h0.75v0.75h-0.75zM189.36 74.61h0.75v0.75h-0.75zM176.23 79.69h0.75v0.75h-0.75zM178.56 76.72h0.75v0.75h-0.75zM180.88 76.06h0.75v0.75h-0.75zM180.41 74.41h0.75v0.75h-0.75zM171.5 81.61h0.75v0.75h-0.75zM183.2 70.33h0.75v0.75h-0.75zM176.66 72.68h0.75v0.75h-0.75zM177.63 68.5h0.75v0.75h-0.75zM185.39 80.83h0.75v0.75h-0.75zM180.55 78.19h0.75v0.75h-0.75zM185.54 72.34h0.75v0.75h-0.75z"/>
<path fill="#222" fill-opacity="0.8" d="M190.63 78.89h0.75v0.75h-0.75zM187.04 100.8h0.75v0.75h-0.75zM180.49 78.05h0.75v0.75h-0.75zM196.04 89.15h0.75v0.75h-0.75zM194.97 89.07h0.75v0.75h-0.75zM179.32 78.03h0.75v0.75h-0.75zM194.92 98.32h0.75v0.75h-0.75zM190.42 98.24h0.75v0.75h-0.75zM176.37 99.92h0.75v0.75h-0.75zM181.7 100.18h0.75v0.75h-0.75zM189.95 99.52h0.75v0.75h-0.75zM178.24 78.4h0.75v0.75h-0.75zM180.6 77.15h0.75v0.75h-0.75zM187.84 100.42h0.75v0.75h-0.75zM195.6 92.64h0.75v0.75h-0.75zM172.89 96.08h0.75v0.75h-0.75zM186.09 78.26h0.75v0.75h-0.75zM170.93 82.79h0.75v0.75h-0.75zM186.64 78.35h0.75v0.75h-0.75zM193.69 95.33h0.75v0.75h-0.75zM190.93 97.58h0.75v0.75h-0.75zM192.73 96.04h0.75v0.75h-0.75zM181.63 101.24h0.75v0.75h-0.75zM179.98 75.79h0.75v0.75h-0.75zM184.76 99.96h0.75v0.75h-0.75zM176.91 76.45h0.75v0.75h-0.75zM186.16 99.97h0.75v0.75h-0.75zM181.51 100.17h0.75v0.75h-0.75zM184.23 76.99h0.75v0.75h-0.75zM194.78 85.94h0.75v0.75h-0.75zM177.4 98.78h0.75v0.75h-0.75zM172.45 81.7h0.75v0.75h-0.75zM167.72 87.69h0.75v0.75h-0.75zM192.1 80.59h0.75v0.75h-0.75zM193 97.42h0.75v0.75h-0.75zM174.04 97.29h0.75v0.75h-0.75zM184.46 77.69h0.75v0.75h-0.75zM172 96.59h0.75v0.75h-0.75zM176.2 79.18h0.75v0.75h-0.75zM169.44 90.45h0.75v0.75h-0.75zM171.22 98.96h0.75v0.75h-0.75zM194.3 84.23h0.75v0.75h-0.75zM169.6 91.98h0.75v0.75h-0.75zM198.14 92.08h0.75v0.75h-0.75zM192.57 98.11h0.75v0.75h-0.75zM177.76 101.25h0.75v0.75h-0.75zM184.1 77.51h0.75v0.75h-0.75zM169.74 97.48h0.75v0.75h-0.75zM194.83 92.41h0.75v0.75h-0.75zM190.94 97.24h0.75v0.75h-0.75zM190.44 100.47h0.75v0.75h-0.75zM189.1 99.27h0.75v0.75h-0.75zM170.91 93.84h0.75v0.75h-0.75zM183 100.33h0.75v0.75h-0.75zM181.64 99.77h0.75v0.75h-0.75zM196.15 80.58h0.75v0.75h-0.75zM172.19 81.98h0.75v0.75h-0.75zM179.75 78.17h0.75v0.75h-0.75zM186.98 99.58h0.75v0.75h-0.75zM187.48 78.29h0.75v0.75h-0.75zM181.83 104.12h0.75v0.75h-0.75zM190.34 98.13h0.75v0.75h-0.75zM188.21 98.39h0.75v0.75h-0.75zM188.22 101.04h0.75v0.75h-0.75zM190.63 80.46h0.75v0.75h-0.75zM183.69 75.51h0.75v0.75h-0.75zM195.74 85.19h0.75v0.75h-0.75zM187.67 78.87h0.75v0.75h-0.75zM172.93 97.08h0.75v0.75h-0.75zM192.36 96h0.75v0.75h-0.75zM169.89 95.66h0.75v0.75h-0.75zM182.84 77.89h0.75v0.75h-0.75zM187.47 76.32h0.75v0.75h-0.75zM182.79 77.56h0.75v0.75h-0.75zM174.14 78.07h0.75v0.75h-0.75zM191.7 97.83h0.75v0.75h-0.75zM188.53 77.56h0.75v0.75h-0.75zM189.95 79.49h0.75v0.75h-0.75zM193.97 84.68h0.75v0.75h-0.75zM173.34 77.58h0.75v0.75h-0.75zM169.1 85.22h0.75v0.75h-0.75zM185.09 77.63h0.75v0.75h-0.75zM185.33 99.93h0.75v0.75h-0.75zM192.56 95.27h0.75v0.75h-0.75zM186 78.38h0.75v0.75h-0.75zM193.75 93.28h0.75v0.75h-0.75zM167.87 91.87h0.75v0.75h-0.75zM195.15 85.5h0.75v0.75h-0.75zM195.07 80.21h0.75v0.75h-0.75zM181 76.9h0.75v0.75h-0.75zM169.66 83.3h0.75v0.75h-0.75zM189.27 77.79h0.75v0.75h-0.75zM170.05 95.03h0.75v0.75h-0.75zM185.92 100.12h0.75v0.75h-0.75zM194.67 85.96h0.75v0.75h-0.75zM194.99 82.25h0.75v0.75h-0.75zM170.76 93.39h0.75v0.75h-0.75zM195.43 96.24h0.75v0.75h-0.75zM185.58 77.67h0.75v0.75h-0.75zM181.98 77.67h0.75v0.75h-0.75zM192.98 80.48h0.75v0.75h-0.75zM172.6 96.76h0.75v0.75h-0.75zM186.25 99.52h0.75v0.75h-0.75zM180.92 77.34h0.75v0.75h-0.75zM169.53 88.78h0.75v0.75h-0.75zM196.49 85.37h0.75v0.75h-0.75zM186.31 77.14h0.75v0.75h-0.75zM170.44 85.32h0.75v0.75h-0.75zM173.71 97.75h0.75v0.75h-0.75zM198.34 90.86h0.75v0.75h-0.75zM194.07 81.46h0.75v0.75h-0.75zM194.53 84.04h0.75v0.75h-0.75zM173.56 80.49h0.75v0.75h-0.75zM172.4 82.29h0.75v0.75h-0.75zM169.82 94.8h0.75v0.75h-0.75zM194.09 95.48h0.75v0.75h-0.75zM179.84 78.22h0.75v0.75h-0.75zM181.92 100.53h0.75v0.75h-0.75zM171.74 81.79h0.75v0.75h-0.75zM171.29 83.04h0.75v0.75h-0.75zM179.39 78.02h0.75v0.75h-0.75zM189.2 79.25h0.75v0.75h-0.75zM194.69 84.88h0.75v0.75h-0.75zM194.32 93.66h0.75v0.75h-0.75zM191.68 98.84h0.75v0.75h-0.75zM196.32 88.62h0.75v0.75h-0.75zM182.79 99.88h0.75v0.75h-0.75zM171.01 95.09h0.75v0.75h-0.75zM188.99 98.09h0.75v0.75h-0.75zM187.03 99.59h0.75v0.75h-0.75zM188.18 100.15h0.75v0.75h-0.75zM198.73 86.36h0.75v0.75h-0.75zM169.46 90.84h0.75v0.75h-0.75zM190.22 97.55h0.75v0.75h-0.75zM178.15 77.07h0.75v0.75h-0.75zM173.98 98.37h0.75v0.75h-0.75zM177.6 78.11h0.75v0.75h-0.75zM190.68 80.55h0.75v0.75h-0.75zM189.79 79.89h0.75v0.75h-0.75zM172.85 79.95h0.75v0.75h-0.75zM170.5 93.48h0.75v0.75h-0.75zM175.73 79.29h0.75v0.75h-0.75zM191.36 98.9h0.75v0.75h-0.75zM186.12 76.5h0.75v0.75h-0.75zM174.65 99.43h0.75v0.75h-0.75zM171.96 95.19h0.75v0.75h-0.75zM192.42 82.25h0.75v0.75h-0.75zM176 100.05h0.75v0.75h-0.75zM173.46 97.81h0.75v0.75h-0.75zM168.06 86.26h0.75v0.75h-0.75zM169.29 90.47h0.75v0.75h-0.75zM172.57 81.79h0.75v0.75h-0.75zM173.02 97.44h0.75v0.75h-0.75zM194.15 82.57h0.75v0.75h-0.75zM176.04 98.52h0.75v0.75h-0.75zM177.42 77.85h0.75v0.75h-0.75zM194.26 92.85h0.75v0.75h-0.75zM184.28 100.59h0.75v0.75h-0.75zM181.04 77.44h0.75v0.75h-0.75zM197.63 84.21h0.75v0.75h-0.75zM194.28 95.33h0.75v0.75h-0.75zM186.77 98.95h0.75v0.75h-0.75zM170.85 97.59h0.75v0.75h-0.75zM182.76 74.6h0.75v0.75h-0.75zM195.26 91.53h0.75v0.75h-0.75zM195.31 90.35h0.75v0.75h-0.75zM192.28 96.13h0.75v0.75h-0.75zM171.15 80.77h0.75v0.75h-0.75zM173.28 98.32h0.75v0.75h-0.75zM172.78 95.65h0.75v0.75h-0.75zM197.32 86.71h0.75v0.75h-0.75zM188.22 98.76h0.75v0.75h-0.75zM175.02 97.53h0.75v0.75h-0.75zM170.03 86.73h0.75v0.75h-0.75zM170.35 92.99h0.75v0.75h-0.75zM168.92 92.49h0.75v0.75h-0.75zM174.24 100.48h0.75v0.75h-0.75zM191.48 79.16h0.75v0.75h-0.75zM190.64 97.75h0.75v0.75h-0.75zM176.75 76.21h0.75v0.75h-0.75zM185.22 78.12h0.75v0.75h-0.75zM186.75 76.65h0.75v0.75h-0.75zM170.96 84.12h0.75v0.75h-0.75zM198.13 85.28h0.75v0.75h-0.75zM172.6 81.25h0.75v0.75h-0.75zM180.63 101.71h0.75v0.75h-0.75zM185.89 76.36h0.75v0.75h-0.75zM177.23 77.83h0.75v0.75h-0.75zM181.38 100.25h0.75v0.75h-0.75zM191.03 79.44h0.75v0.75h-0.75zM196.45 82.36h0.75v0.75h-0.75zM183.02 76.5h0.75v0.75h-0.75zM169.57 83.25h0.75v0.75h-0.75zM170.66 93.83h0.75v0.75h-0.75zM184.69 77.2h0.75v0.75h-0.75zM192.75 96.61h0.75v0.75h-0.75zM180.55 78.02h0.75v0.75h-0.75zM174.05 78.95h0.75v0.75h-0.75zM180.12 77.69h0.75v0.75h-0.75zM179.77 101.73h0.75v0.75h-0.75zM195.73 84.46h0.75v0.75h-0.75zM170.29 83.69h0.75v0.75h-0.75zM169.36 92.01h0.75v0.75h-0.75zM195.01 85.23h0.75v0.75h-0.75zM182.32 76.6h0.75v0.75h-0.75zM196.14 92.99h0.75v0.75h-0.75zM181.55 76.56h0.75v0.75h-0.75zM173.54 96.37h0.75v0.75h-0.75zM195.25 91.17h0.75v0.75h-0.75zM189.99 79.87h0.75v0.75h-0.75zM167.66 91.71h0.75v0.75h-0.75zM180.49 76.17h0.75v0.75h-0.75zM188.13 100.39h0.75v0.75h-0.75zM192.02 96.68h0.75v0.75h-0.75zM174.93 99.59h0.75v0.75h-0.75zM169.88 90.61h0.75v0.75h-0.75zM193.56 82.85h0.75v0.75h-0.75zM170.76 80.1h0.75v0.75h-0.75zM171.69 78.76h0.75v0.75h-0.75zM167.83 93.5h0.75v0.75h-0.75zM187.05 77.68h0.75v0.75h-0.75zM184.15 102.25h0.75v0.75h-0.75zM195.33 86.06h0.75v0.75h-0.75zM176.72 77.59h0.75v0.75h-0.75zM189.16 99.15h0.75v0.75h-0.75zM169.83 89.27h0.75v0.75h-0.75zM170.54 85.15h0.75v0.75h-0.75zM189.56 98.93h0.75v0.75h-0.75zM195.32 85.89h0.75v0.75h-0.75zM170.17 82.74h0.75v0.75h-0.75zM170.39 85.58h0.75v0.75h-0.75zM186.18 100.01h0.75v0.75h-0.75zM171.2 78.48h0.75v0.75h-0.75zM176.42 76.67h0.75v0.75h-0.75zM171.92 78.58h0.75v0.75h-0.75zM175.69 78.19h0.75v0.75h-0.75zM178.15 100.12h0.75v0.75h-0.75zM194.84 86.94h0.75v0.75h-0.75zM170.15 85.1h0.75v0.75h-0.75zM192.52 96.89h0.75v0.75h-0.75zM175.48 75.05h0.75v0.75h-0.75zM176.98 79.06h0.75v0.75h-0.75zM198.11 93.18h0.75v0.75h-0.75zM177.54 98.93h0.75v0.75h-0.75zM170.06 95.09h0.75v0.75h-0.75zM188.51 78.25h0.75v0.75h-0.75zM187.9 98.86h0.75v0.75h-0.75zM194.04 84.19h0.75v0.75h-0.75zM168.05 87.57h0.75v0.75h-0.75zM171.97 94.97h0.75v0.75h-0.75zM188.81 78.71h0.75v0.75h-0.75zM182.1 77.89h0.75v0.75h-0.75zM172.76 98.42h0.75v0.75h-0.75zM197.21 88.31h0.75v0.75h-0.75zM174.49 78.87h0.75v0.75h-0.75zM168.4 84.73h0.75v0.75h-0.75zM181.98 100.15h0.75v0.75h-0.75zM191.29 99.37h0.75v0.75h-0.75zM190.26 99.59h0.75v0.75h-0.75zM169.16 84.2h0.75v0.75h-0.75zM196.44 89.96h0.75v0.75h-0.75zM183.44 99.61h0.75v0.75h-0.75zM187.98 79.11h0.75v0.75h-0.75zM168.94 90.47h0.75v0.75h-0.75zM183.62 77.66h0.75v0.75h-0.75zM189.69 78.02h0.75v0.75h-0.75zM194.17 83.47h0.75v0.75h-0.75zM194.86 93.87h0.75v0.75h-0.75zM193.84 95.02h0.75v0.75h-0.75zM176.48 102.18h0.75v0.75h-0.75zM182.87 100.32h0.75v0.75h-0.75zM175.79 100.23h0.75v0.75h-0.75zM170.98 93.57h0.75v0.75h-0.75zM192.35 97.19h0.75v0.75h-0.75zM189.5 98.1h0.75v0.75h-0.75zM169.6 88.32h0.75v0.75h-0.75zM181.8 77.64h0.75v0.75h-0.75zM188.94 98.88h0.75v0.75h-0.75zM174.17 77.31h0.75v0.75h-0.75zM195.1 89.05h0.75v0.75h-0.75zM187.07 100.9h0.75v0.75h-0.75zM195.49 88.36h0.75v0.75h-0.75zM176.33 79.08h0.75v0.75h-0.75zM177.38 78.06h0.75v0.75h-0.75zM198.22 95.33h0.75v0.75h-0.75zM194.72 82.9h0.75v0.75h-0.75zM169.14 89.64h0.75v0.75h-0.75zM169.48 89.11h0.75v0.75h-0.75zM194.46 84.17h0.75v0.75h-0.75zM190.79 97.79h0.75v0.75h-0.75zM177.24 78.28h0.75v0.75h-0.75zM197.27 86.86h0.75v0.75h-0.75zM186.66 77.59h0.75v0.75h-0.75zM196.37 93.08h0.75v0.75h-0.75zM174.92 98.01h0.75v0.75h-0.75zM179.29 77.62h0.75v0.75h-0.75zM170.23 93.16h0.75v0.75h-0.75zM180.3 76.72h0.75v0.75h-0.75zM190.42 99.13h0.75v0.75h-0.75zM193.11 97.05h0.75v0.75h-0.75zM196.36 89.08h0.75v0.75h-0.75zM192.22 80.21h0.75v0.75h-0.75zM193.48 82.58h0.75v0.75h-0.75zM169.77 81.99h0.75v0.75h-0.75zM195.14 85.03h0.75v0.75h-0.75zM168.53 87.37h0.75v0.75h-0.75zM172.09 97.93h0.75v0.75h-0.75zM184.59 99.74h0.75v0.75h-0.75zM167.77 88.49h0.75v0.75h-0.75zM187.83 99.82h0.75v0.75h-0.75zM184.07 77.34h0.75v0.75h-0.75zM170.05 87.62h0.75v0.75h-0.75zM169.01 88.01h0.75v0.75h-0.75zM171.6 95.45h0.75v0.75h-0.75zM169.93 89.99h0.75v0.75h-0.75zM169.67 92.25h0.75v0.75h-0.75zM174.48 97.2h0.75v0.75h-0.75zM185.76 99.47h0.75v0.75h-0.75zM174.78 79.09h0.75v0.75h-0.75zM178.06 78.6h0.75v0.75h-0.75z"/>
<path fill="#222" fill-opacity="0.75" d="M202.06 97.81h0.75v0.75h-0.75zM198.09 88.92h0.75v0.75h-0.75zM220.98 83.84h0.75v0.75h-0.75zM228.3 94.75h0.75v0.75h-0.75zM199.98 90.77h0.75v0.75h-0.75zM200.1 90.78h0.75v0.75h-0.75zM225.66 84.05h0.75v0.75h-0.75zM200.54 94h0.75v0.75h-0.75zM222.42 96.77h0.75v0.75h-0.75zM230.18 86.76h0.75v0.75h-0.75zM226.06 84.04h0.75v0.75h-0.75zM221.28 96.54h0.75v0.75h-0.75zM228.48 95.49h0.75v0.75h-0.75zM202.93 94.67h0.75v0.75h-0.75zM232.55 91.16h0.75v0.75h-0.75zM233.86 90.77h0.75v0.75h-0.75zM207.91 96.61h0.75v0.75h-0.75zM223.1 98.13h0.75v0.75h-0.75zM204.48 85.81h0.75v0.75h-0.75zM226.01 84.35h0.75v0.75h-0.75zM201.61 86.27h0.75v0.75h-0.75zM231.97 91.89h0.75v0.75h-0.75zM203.19 85.85h0.75v0.75h-0.75zM219.62 97.12h0.75v0.75h-0.75zM205.77 95.61h0.75v0.75h-0.75zM230.79 89.62h0.75v0.75h-0.75zM216.68 97.89h0.75v0.75h-0.75zM231.57 91.92h0.75v0.75h-0.75zM214.19 97h0.75v0.75h-0.75zM233.12 89.56h0.75v0.75h-0.75zM218.51 98.34h0.75v0.75h-0.75zM225.43 83.63h0.75v0.75h-0.75zM221 83.15h0.75v0.75h-0.75zM216.39 79.73h0.75v0.75h-0.75zM229.83 94.25h0.75v0.75h-0.75zM231.55 90.3h0.75v0.75h-0.75zM204.01 96.09h0.75v0.75h-0.75zM212.2 97.06h0.75v0.75h-0.75zM232.08 89.36h0.75v0.75h-0.75zM197.52 90.53h0.75v0.75h-0.75zM220.14 97.45h0.75v0.75h-0.75zM207.15 96.97h0.75v0.75h-0.75zM211.61 99.42h0.75v0.75h-0.75zM203.94 96.09h0.75v0.75h-0.75zM200.6 88.77h0.75v0.75h-0.75zM225.05 84.14h0.75v0.75h-0.75zM231.79 88.2h0.75v0.75h-0.75zM224.79 96.68h0.75v0.75h-0.75zM200.66 92.65h0.75v0.75h-0.75zM220.91 81.48h0.75v0.75h-0.75zM205.7 94.89h0.75v0.75h-0.75zM219.55 98.58h0.75v0.75h-0.75zM208 82.97h0.75v0.75h-0.75zM221.32 97.28h0.75v0.75h-0.75zM210.91 83.91h0.75v0.75h-0.75zM226.39 95.65h0.75v0.75h-0.75zM200.09 89.77h0.75v0.75h-0.75zM228.32 96.48h0.75v0.75h-0.75zM226.65 95.68h0.75v0.75h-0.75zM198.51 87.82h0.75v0.75h-0.75zM202.45 87.23h0.75v0.75h-0.75zM225.14 82.65h0.75v0.75h-0.75zM201.7 97.67h0.75v0.75h-0.75zM222.7 83.94h0.75v0.75h-0.75zM199.89 83.99h0.75v0.75h-0.75zM230.59 89.02h0.75v0.75h-0.75zM225.57 83.86h0.75v0.75h-0.75zM195.61 88.99h0.75v0.75h-0.75zM200.53 92.99h0.75v0.75h-0.75zM200.56 88.73h0.75v0.75h-0.75zM227.94 86.18h0.75v0.75h-0.75zM207.96 96.25h0.75v0.75h-0.75zM204.81 85.16h0.75v0.75h-0.75zM211.86 97.08h0.75v0.75h-0.75zM233 84.97h0.75v0.75h-0.75zM201.89 92.73h0.75v0.75h-0.75zM230.55 86.9h0.75v0.75h-0.75zM218.8 99.23h0.75v0.75h-0.75zM198.11 87.43h0.75v0.75h-0.75zM225.62 95.74h0.75v0.75h-0.75zM219.67 82.95h0.75v0.75h-0.75zM230.86 88.3h0.75v0.75h-0.75zM223.11 84.42h0.75v0.75h-0.75zM204.22 94.3h0.75v0.75h-0.75zM232.15 88.02h0.75v0.75h-0.75zM196.71 90.13h0.75v0.75h-0.75zM215.5 82.72h0.75v0.75h-0.75zM220.31 97.78h0.75v0.75h-0.75zM206.47 83.55h0.75v0.75h-0.75zM225.84 96.71h0.75v0.75h-0.75zM201.07 89.91h0.75v0.75h-0.75zM212.95 82.26h0.75v0.75h-0.75zM228.58 94.06h0.75v0.75h-0.75zM198.88 91.07h0.75v0.75h-0.75zM218.95 96.74h0.75v0.75h-0.75zM220.41 83.85h0.75v0.75h-0.75zM199.18 87.6h0.75v0.75h-0.75zM226.51 95.01h0.75v0.75h-0.75zM226.08 84.85h0.75v0.75h-0.75zM223.37 82.48h0.75v0.75h-0.75zM230.34 88.2h0.75v0.75h-0.75zM202.26 94.06h0.75v0.75h-0.75zM218.96 97.55h0.75v0.75h-0.75zM225.53 96.08h0.75v0.75h-0.75zM222.65 97.84h0.75v0.75h-0.75zM197.4 93.57h0.75v0.75h-0.75zM232.16 90.98h0.75v0.75h-0.75zM230.48 91.82h0.75v0.75h-0.75zM200.92 88.53h0.75v0.75h-0.75zM210.86 96.52h0.75v0.75h-0.75zM201.5 86.95h0.75v0.75h-0.75zM197.83 91.25h0.75v0.75h-0.75zM210.02 83.16h0.75v0.75h-0.75zM213.99 81.62h0.75v0.75h-0.75zM227.38 84.71h0.75v0.75h-0.75zM228.54 93.53h0.75v0.75h-0.75zM201.53 90.64h0.75v0.75h-0.75zM198.49 92.17h0.75v0.75h-0.75zM213.26 83h0.75v0.75h-0.75zM231.14 90.56h0.75v0.75h-0.75zM210.68 83.18h0.75v0.75h-0.75zM220.9 98.67h0.75v0.75h-0.75zM201.44 94.3h0.75v0.75h-0.75zM208.03 98.96h0.75v0.75h-0.75zM198.65 89.6h0.75v0.75h-0.75zM217.88 82.92h0.75v0.75h-0.75zM224.54 98.22h0.75v0.75h-0.75zM202.22 94.31h0.75v0.75h-0.75zM200.04 92h0.75v0.75h-0.75zM201.7 87.74h0.75v0.75h-0.75zM202.15 97h0.75v0.75h-0.75zM233.3 90.86h0.75v0.75h-0.75zM224.84 84.12h0.75v0.75h-0.75zM211.16 96.94h0.75v0.75h-0.75zM220.83 97.69h0.75v0.75h-0.75zM206.36 83.5h0.75v0.75h-0.75zM208.44 96.95h0.75v0.75h-0.75zM226.84 95.33h0.75v0.75h-0.75zM219.98 83.26h0.75v0.75h-0.75zM222.43 82.54h0.75v0.75h-0.75zM229.74 93.05h0.75v0.75h-0.75zM213.44 83.13h0.75v0.75h-0.75zM202.17 95.08h0.75v0.75h-0.75zM228.17 95.56h0.75v0.75h-0.75zM232.45 88.64h0.75v0.75h-0.75zM218.34 97.87h0.75v0.75h-0.75zM206.33 84.43h0.75v0.75h-0.75zM216.49 83.49h0.75v0.75h-0.75zM235.4 92.6h0.75v0.75h-0.75zM221.55 98.51h0.75v0.75h-0.75zM213.3 97.62h0.75v0.75h-0.75zM197.95 94.36h0.75v0.75h-0.75zM217.3 98.05h0.75v0.75h-0.75zM236.09 92.18h0.75v0.75h-0.75zM210 98.12h0.75v0.75h-0.75zM230.52 92.97h0.75v0.75h-0.75zM211.35 96.51h0.75v0.75h-0.75zM204.09 95.59h0.75v0.75h-0.75zM231.62 90.91h0.75v0.75h-0.75zM230.04 93.79h0.75v0.75h-0.75zM198.1 89.29h0.75v0.75h-0.75zM203.41 93.5h0.75v0.75h-0.75zM226.18 82.86h0.75v0.75h-0.75zM230.14 94.73h0.75v0.75h-0.75zM203.43 86.17h0.75v0.75h-0.75zM230.58 93.02h0.75v0.75h-0.75zM213.27 83.44h0.75v0.75h-0.75zM222.46 97.2h0.75v0.75h-0.75zM202.95 86.65h0.75v0.75h-0.75zM204.13 83.46h0.75v0.75h-0.75zM201.32 90.38h0.75v0.75h-0.75zM196.91 89.72h0.75v0.75h-0.75zM202.16 96.59h0.75v0.75h-0.75zM212.93 99.46h0.75v0.75h-0.75zM232.56 89.74h0.75v0.75h-0.75zM222.29 83.51h0.75v0.75h-0.75zM233.66 90.07h0.75v0.75h-0.75zM197.71 87.02h0.75v0.75h-0.75zM222.65 96.18h0.75v0.75h-0.75zM222.54 98.3h0.75v0.75h-0.75zM228.54 94.13h0.75v0.75h-0.75zM199.09 91.39h0.75v0.75h-0.75zM232.54 92.29h0.75v0.75h-0.75zM202.83 95.09h0.75v0.75h-0.75zM211.11 83.87h0.75v0.75h-0.75zM201.56 94.83h0.75v0.75h-0.75zM224.22 99.31h0.75v0.75h-0.75zM219.04 82.24h0.75v0.75h-0.75zM223.85 84.5h0.75v0.75h-0.75zM211.72 81.5h0.75v0.75h-0.75zM226.94 85.48h0.75v0.75h-0.75zM200.62 91.29h0.75v0.75h-0.75zM221.32 82.57h0.75v0.75h-0.75zM208.58 84.1h0.75v0.75h-0.75zM202.24 87.35h0.75v0.75h-0.75zM229.67 94.87h0.75v0.75h-0.75zM218.64 97.38h0.75v0.75h-0.75zM224.87 84.56h0.75v0.75h-0.75zM202.11 95.11h0.75v0.75h-0.75zM201.25 96.51h0.75v0.75h-0.75zM200.52 97.23h0.75v0.75h-0.75zM217.96 96.74h0.75v0.75h-0.75zM228.53 94.32h0.75v0.75h-0.75zM201.45 90.03h0.75v0.75h-0.75zM236.22 88.45h0.75v0.75h-0.75zM230 84.7h0.75v0.75h-0.75zM231.64 91.15h0.75v0.75h-0.75zM209.43 81.82h0.75v0.75h-0.75zM225.45 96.47h0.75v0.75h-0.75zM202.99 94.55h0.75v0.75h-0.75zM202.34 87.12h0.75v0.75h-0.75zM200.43 85.1h0.75v0.75h-0.75zM199.96 86.94h0.75v0.75h-0.75zM204.56 95.67h0.75v0.75h-0.75zM211.05 82.18h0.75v0.75h-0.75zM206 82.77h0.75v0.75h-0.75zM197.86 93.15h0.75v0.75h-0.75zM208.73 97.5h0.75v0.75h-0.75zM221.27 84.03h0.75v0.75h-0.75zM228.17 85.77h0.75v0.75h-0.75zM197.94 90.56h0.75v0.75h-0.75zM235.35 90.02h0.75v0.75h-0.75zM203.76 84.14h0.75v0.75h-0.75zM223.92 97.22h0.75v0.75h-0.75zM233.36 91.09h0.75v0.75h-0.75zM234.54 87.71h0.75v0.75h-0.75zM219.04 82.9h0.75v0.75h-0.75zM210.12 97.66h0.75v0.75h-0.75zM205.59 84.05h0.75v0.75h-0.75zM203.12 85.54h0.75v0.75h-0.75zM207.91 96.37h0.75v0.75h-0.75zM234.22 93.21h0.75v0.75h-0.75zM209.58 81.63h0.75v0.75h-0.75zM203.21 86.72h0.75v0.75h-0.75zM204.99 94.7h0.75v0.75h-0.75zM231.78 93.33h0.75v0.75h-0.75zM200.41 90.56h0.75v0.75h-0.75zM214.18 83.09h0.75v0.75h-0.75zM230.39 96.03h0.75v0.75h-0.75zM230.5 89.64h0.75v0.75h-0.75zM227.33 85.26h0.75v0.75h-0.75zM231.19 86.4h0.75v0.75h-0.75zM216.27 97.94h0.75v0.75h-0.75zM211.79 96.65h0.75v0.75h-0.75zM205.71 98.49h0.75v0.75h-0.75zM199.83 86.92h0.75v0.75h-0.75zM233.64 89.81h0.75v0.75h-0.75zM201.23 87.91h0.75v0.75h-0.75zM202.73 84.29h0.75v0.75h-0.75zM199.9 88.64h0.75v0.75h-0.75zM232.97 90.88h0.75v0.75h-0.75zM229.66 92.65h0.75v0.75h-0.75zM206.95 84.66h0.75v0.75h-0.75zM204.86 94.89h0.75v0.75h-0.75zM199.74 88.85h0.75v0.75h-0.75zM199.46 85.64h0.75v0.75h-0.75zM229.9 88.22h0.75v0.75h-0.75zM202.85 95.43h0.75v0.75h-0.75zM224.7 97.97h0.75v0.75h-0.75zM231.43 87.19h0.75v0.75h-0.75zM199.92 90.52h0.75v0.75h-0.75zM225.41 83.53h0.75v0.75h-0.75zM231.19 86.84h0.75v0.75h-0.75zM225.01 96.3h0.75v0.75h-0.75zM211.19 83.35h0.75v0.75h-0.75zM221.12 83.25h0.75v0.75h-0.75zM222.58 83.88h0.75v0.75h-0.75zM230.19 87.62h0.75v0.75h-0.75zM234.15 90.25h0.75v0.75h-0.75zM228.28 94.13h0.75v0.75h-0.75zM203.55 83.87h0.75v0.75h-0.75zM207.65 97.35h0.75v0.75h-0.75zM209.67 97.03h0.75v0.75h-0.75zM225.67 84.05h0.75v0.75h-0.75zM215.83 97.49h0.75v0.75h-0.75zM226.26 84.52h0.75v0.75h-0.75zM211.06 83.66h0.75v0.75h-0.75zM218.62 83.59h0.75v0.75h-0.75zM228.64 94.28h0.75v0.75h-0.75zM201.15 91.64h0.75v0.75h-0.75zM230.1 95.28h0.75v0.75h-0.75zM225.91 97.49h0.75v0.75h-0.75zM228.68 93.93h0.75v0.75h-0.75zM216.35 98.19h0.75v0.75h-0.75zM203.21 93.93h0.75v0.75h-0.75zM208.04 95.86h0.75v0.75h-0.75zM212.6 83.43h0.75v0.75h-0.75zM210.84 83.07h0.75v0.75h-0.75zM211.88 96.98h0.75v0.75h-0.75zM219.48 97.11h0.75v0.75h-0.75zM226.93 84.49h0.75v0.75h-0.75zM201.03 96.61h0.75v0.75h-0.75zM197.21 93h0.75v0.75h-0.75zM215.41 96.83h0.75v0.75h-0.75zM201.31 90.12h0.75v0.75h-0.75zM199.76 93.54h0.75v0.75h-0.75zM202.87 95.65h0.75v0.75h-0.75zM203.58 95.78h0.75v0.75h-0.75zM214.9 81.9h0.75v0.75h-0.75zM210.01 97.38h0.75v0.75h-0.75zM196.41 93.35h0.75v0.75h-0.75zM230.5 85.77h0.75v0.75h-0.75zM234.23 88.31h0.75v0.75h-0.75zM205.45 84.38h0.75v0.75h-0.75zM236.03 89.68h0.75v0.75h-0.75zM223.75 82.64h0.75v0.75h-0.75zM219.3 96.65h0.75v0.75h-0.75zM202.25 94.11h0.75v0.75h-0.75zM213.46 80.58h0.75v0.75h-0.75zM218.98 97.64h0.75v0.75h-0.75zM198.36 86.01h0.75v0.75h-0.75zM205.67 84.99h0.75v0.75h-0.75zM232.62 93.69h0.75v0.75h-0.75zM199.47 92.79h0.75v0.75h-0.75zM206.48 96.08h0.75v0.75h-0.75zM232.28 87.22h0.75v0.75h-0.75zM203.05 93.17h0.75v0.75h-0.75zM193.9 90.61h0.75v0.75h-0.75zM202.39 87.61h0.75v0.75h-0.75zM225.38 96.85h0.75v0.75h-0.75zM227.46 85.84h0.75v0.75h-0.75zM199.22 93.13h0.75v0.75h-0.75zM233.78 92.42h0.75v0.75h-0.75zM208.81 82.07h0.75v0.75h-0.75zM222.32 84.08h0.75v0.75h-0.75zM201.2 87.85h0.75v0.75h-0.75zM230.69 92.09h0.75v0.75h-0.75zM214.66 82.87h0.75v0.75h-0.75zM202.15 92.44h0.75v0.75h-0.75zM222.59 96.73h0.75v0.75h-0.75zM212.23 82.41h0.75v0.75h-0.75zM202.7 86.04h0.75v0.75h-0.75zM199.94 87.21h0.75v0.75h-0.75zM207.29 82.75h0.75v0.75h-0.75zM228.58 94.37h0.75v0.75h-0.75zM225.74 83.51h0.75v0.75h-0.75zM226.47 85.03h0.75v0.75h-0.75zM211.23 96.67h0.75v0.75h-0.75zM211.5 96.69h0.75v0.75h-0.75zM217.28 81.44h0.75v0.75h-0.75zM236.57 89.35h0.75v0.75h-0.75zM230.98 90.63h0.75v0.75h-0.75zM198.44 87.86h0.75v0.75h-0.75zM209.72 96.81h0.75v0.75h-0.75zM202.11 88.13h0.75v0.75h-0.75zM230.38 91.73h0.75v0.75h-0.75zM199.52 91.54h0.75v0.75h-0.75zM208.48 84.36h0.75v0.75h-0.75zM201.98 92.58h0.75v0.75h-0.75zM221 98.22h0.75v0.75h-0.75zM213.97 83.29h0.75v0.75h-0.75zM206.78 96.55h0.75v0.75h-0.75zM213.94 82.94h0.75v0.75h-0.75zM213.92 82.02h0.75v0.75h-0.75zM225.78 96.14h0.75v0.75h-0.75zM200.81 89.55h0.75v0.75h-0.75zM230.36 87.53h0.75v0.75h-0.75zM210.45 83.1h0.75v0.75h-0.75zM230.21 88.08h0.75v0.75h-0.75zM208.6 96.31h0.75v0.75h-0.75zM202.41 93.1h0.75v0.75h-0.75zM223.53 84.47h0.75v0.75h-0.75zM227.94 86.24h0.75v0.75h-0.75zM227.5 94.92h0.75v0.75h-0.75zM222.2 96.17h0.75v0.75h-0.75zM201.19 92.57h0.75v0.75h-0.75zM218.26 83.48h0.75v0.75h-0.75zM229.45 86.73h0.75v0.75h-0.75zM200.93 91.26h0.75v0.75h-0.75zM227.68 85.54h0.75v0.75h-0.75zM229.45 87.1h0.75v0.75h-0.75zM211.49 83.8h0.75v0.75h-0.75zM224.33 83.71h0.75v0.75h-0.75zM207.91 83.95h0.75v0.75h-0.75zM201.41 93.57h0.75v0.75h-0.75zM211.94 82.81h0.75v0.75h-0.75zM228.27 95.3h0.75v0.75h-0.75zM222.79 96.22h0.75v0.75h-0.75zM204.93 85.28h0.75v0.75h-0.75zM219.01 96.8h0.75v0.75h-0.75zM230.6 87.18h0.75v0.75h-0.75zM234.04 87.96h0.75v0.75h-0.75zM228.1 85.7h0.75v0.75h-0.75zM233.41 87.13h0.75v0.75h-0.75zM218.2 83.67h0.75v0.75h-0.75zM228.79 94.43h0.75v0.75h-0.75zM219.12 83.56h0.75v0.75h-0.75zM208.58 82.44h0.75v0.75h-0.75zM232.48 92.3h0.75v0.75h-0.75zM222.47 81.72h0.75v0.75h-0.75zM211.22 96.73h0.75v0.75h-0.75zM196.5 90.8h0.75v0.75h-0.75zM206.52 81.42h0.75v0.75h-0.75zM230.79 87.86h0.75v0.75h-0.75zM211.72 83.63h0.75v0.75h-0.75zM233.18 90.98h0.75v0.75h-0.75zM203.25 86.25h0.75v0.75h-0.75zM232.26 91.57h0.75v0.75h-0.75zM235.96 92.6h0.75v0.75h-0.75zM215.04 83.43h0.75v0.75h-0.75zM229.17 85.71h0.75v0.75h-0.75zM229.92 97.05h0.75v0.75h-0.75zM231.37 90.34h0.75v0.75h-0.75zM236.2 90.07h0.75v0.75h-0.75zM223.92 84.62h0.75v0.75h-0.75zM209.99 82.54h0.75v0.75h-0.75zM228.06 97.29h0.75v0.75h-0.75zM227.29 95.77h0.75v0.75h-0.75zM214.51 96.86h0.75v0.75h-0.75zM203.98 82.91h0.75v0.75h-0.75zM192.89 89.44h0.75v0.75h-0.75zM219.7 97.79h0.75v0.75h-0.75zM209.56 97.19h0.75v0.75h-0.75zM233.02 91.91h0.75v0.75h-0.75zM227.59 85.17h0.75v0.75h-0.75zM216.86 82.93h0.75v0.75h-0.75zM220.95 98.16h0.75v0.75h-0.75zM218.53 83.09h0.75v0.75h-0.75zM223.73 83.21h0.75v0.75h-0.75zM226.93 94.77h0.75v0.75h-0.75zM213.6 83.64h0.75v0.75h-0.75zM219.36 82.05h0.75v0.75h-0.75zM230.97 86.51h0.75v0.75h-0.75zM199.56 85.53h0.75v0.75h-0.75zM201.09 86.87h0.75v0.75h-0.75zM200.25 94.06h0.75v0.75h-0.75zM205.11 96.06h0.75v0.75h-0.75zM205.12 95.38h0.75v0.75h-0.75zM230.93 90.93h0.75v0.75h-0.75zM200.04 92.62h0.75v0.75h-0.75zM217.38 99.45h0.75v0.75h-0.75zM230.12 87.61h0.75v0.75h-0.75zM206.95 98.43h0.75v0.75h-0.75zM223.56 84.5h0.75v0.75h-0.75zM211.06 83.54h0.75v0.75h-0.75zM204.57 94.65h0.75v0.75h-0.75zM226.08 84.9h0.75v0.75h-0.75zM200.14 85.38h0.75v0.75h-0.75zM201.37 91.94h0.75v0.75h-0.75zM213.8 81.48h0.75v0.75h-0.75zM205.62 82.14h0.75v0.75h-0.75zM230.12 87.3h0.75v0.75h-0.75zM202.05 86.25h0.75v0.75h-0.75zM229.23 87.3h0.75v0.75h-0.75zM218.19 97.68h0.75v0.75h-0.75zM207.2 98.09h0.75v0.75h-0.75zM222.23 96.4h0.75v0.75h-0.75zM231.95 87.56h0.75v0.75h-0.75zM202.8 85.48h0.75v0.75h-0.75zM204.41 85.04h0.75v0.75h-0.75zM232.75 91.85h0.75v0.75h-0.75zM223.56 96.56h0.75v0.75h-0.75zM229.57 85.76h0.75v0.75h-0.75zM202.86 86.62h0.75v0.75h-0.75zM224.2 95.77h0.75v0.75h-0.75zM228.96 86.36h0.75v0.75h-0.75zM226.21 95.26h0.75v0.75h-0.75zM204.4 94.29h0.75v0.75h-0.75zM197.75 91.51h0.75v0.75h-0.75zM232.69 84.91h0.75v0.75h-0.75zM215.93 98.4h0.75v0.75h-0.75zM209.28 83.49h0.75v0.75h-0.75zM226.94 95.86h0.75v0.75h-0.75zM210.31 82.46h0.75v0.75h-0.75zM220.19 97.07h0.75v0.75h-0.75zM209.87 84.12h0.75v0.75h-0.75zM212.22 83.36h0.75v0.75h-0.75zM215.02 97.37h0.75v0.75h-0.75zM201.24 88.02h0.75v0.75h-0.75zM212.16 96.8h0.75v0.75h-0.75zM219.94 83.34h0.75v0.75h-0.75zM227.48 85.59h0.75v0.75h-0.75zM231.04 92.17h0.75v0.75h-0.75zM200.07 88.9h0.75v0.75h-0.75zM202.53 93.1h0.75v0.75h-0.75zM216.32 83.38h0.75v0.75h-0.75zM230.62 89.44h0.75v0.75h-0.75zM227.89 95.11h0.75v0.75h-0.75zM227.41 85.84h0.75v0.75h-0.75zM221.45 97.65h0.75v0.75h-0.75z"/>
<path fill="#555" fill-opacity="0.45" d="M207.46 30.9h0.75v0.75h-0.75zM213.72 42.69h0.75v0.75h-0.75zM234.79 47h0.75v0.75h-0.75zM225.61 40.22h0.75v0.75h-0.75zM211.98 41.12h0.75v0.75h-0.75zM197.99 43.43h0.75v0.75h-0.75zM215.07 41.6h0.75v0.75h-0.75zM206.96 31.62h0.75v0.75h-0.75zM209.98 37.75h0.75v0.75h-0.75zM217.73 35.93h0.75v0.75h-0.75zM217.73 41.97h0.75v0.75h-0.75zM205.93 37.41h0.75v0.75h-0.75zM202.83 34.8h0.75v0.75h-0.75zM222.07 33.83h0.75v0.75h-0.75zM229.56 40.95h0.75v0.75h-0.75zM221.95 38.61h0.75v0.75h-0.75zM221.76 44.38h0.75v0.75h-0.75zM215.84 34.91h0.75v0.75h-0.75zM210.7 49.26h0.75v0.75h-0.75zM213.57 35.33h0.75v0.75h-0.75zM209.47 28.17h0.75v0.75h-0.75zM211.1 39.89h0.75v0.75h-0.75zM211.2 33.58h0.75v0.75h-0.75zM218.2 40.68h0.75v0.75h-0.75zM211.59 39.8h0.75v0.75h-0.75zM207.4 43.02h0.75v0.75h-0.75zM207.3 36.04h0.75v0.75h-0.75zM216.06 35.55h0.75v0.75h-0.75zM206.05 50.25h0.75v0.75h-0.75zM226.85 27.83h0.75v0.75h-0.75zM215.95 30.6h0.75v0.75h-0.75zM217.44 30.39h0.75v0.75h-0.75zM219.54 41.1h0.75v0.75h-0.75zM228.36 45.03h0.75v0.75h-0.75zM211.42 43.52h0.75v0.75h-0.75zM211.42 37.34h0.75v0.75h-0.75zM211.09 27.72h0.75v0.75h-0.75zM219.72 26.14h0.75v0.75h-0.75zM213.16 41.07h0.75v0.75h-0.75zM215.89 28.8h0.75v0.75h-0.75zM209.93 41.97h0.75v0.75h-0.75zM223.6 47.32h0.75v0.75h-0.75zM200.82 40.69h0.75v0.75h-0.75zM211.24 42.46h0.75v0.75h-0.75zM201.81 37.17h0.75v0.75h-0.75z"/>
<path fill="#555" fill-opacity="0.45" d="M219.22 72.86h0.75v0.75h-0.75zM209.81 71.23h0.75v0.75h-0.75zM222.8 69.54h0.75v0.75h-0.75zM204.97 74.39h0.75v0.75h-0.75zM210.22 86.28h0.75v0.75h-0.75zM215.41 71.95h0.75v0.75h-0.75zM218.11 77.67h0.75v0.75h-0.75zM215.48 75.68h0.75v0.75h-0.75zM217.06 70.3h0.75v0.75h-0.75zM202.43 73.93h0.75v0.75h-0.75zM203.29 79.41h0.75v0.75h-0.75zM230.07 82.02h0.75v0.75h-0.75zM216.93 77.65h0.75v0.75h-0.75zM206.97 69.68h0.75v0.75h-0.75zM217.82 68.8h0.75v0.75h-0.75zM215.66 75.31h0.75v0.75h-0.75zM219.6 76.25h0.75v0.75h-0.75zM213.94 73.17h0.75v0.75h-0.75zM197.86 74.33h0.75v0.75h-0.75zM219.12 81.09h0.75v0.75h-0.75zM225.12 71.16h0.75v0.75h-0.75zM204.76 79.41h0.75v0.75h-0.75zM209.01 88.52h0.75v0.75h-0.75zM215.77 68.61h0.75v0.75h-0.75zM208.12 83.65h0.75v0.75h-0.75zM196.95 76.74h0.75v0.75h-0.75zM200.81 83.8h0.75v0.75h-0.75zM209.07 70.98h0.75v0.75h-0.75zM197.98 72.53h0.75v0.75h-0.75zM190.53 73.69h0.75v0.75h-0.75zM232.18 76.48h0.75v0.75h-0.75zM210.67 70.35h0.75v0.75h-0.75zM216 73.7h0.75v0.75h-0.75zM205.55 82.74h0.75v0.75h-0.75zM216.87 71.67h0.75v0.75h-0.75zM226.01 75.73h0.75v0.75h-0.75zM217.43 76.72h0.75v0.75h-0.75zM223.37 79h0.75v0.75h-0.75zM209.94 79.5h0.75v0.75h-0.75zM209.56 76.65h0.75v0.75h-0.75zM227.44 70.83h0.75v0.75h-0.75zM203.9 74.05h0.75v0.75h-0.75zM208.61 82.34h0.75v0.75h-0.75zM198.99 87.18h0.75v0.75h-0.75zM226.95 73.81h0.75v0.75h-0.75zM214.64 74.24h0.75v0.75h-0.75zM218.91 79.23h0.75v0.75h-0.75zM219.62 79.73h0.75v0.75h-0.75zM230 75.17h0.75v0.75h-0.75zM219.16 75.09h0.75v0.75h-0.75zM213.34 77.07h0.75v0.75h-0.75zM212.55 77.69h0.75v0.75h-0.75zM205.51 75.26h0.75v0.75h-0.75zM207.68 70.31h0.75v0.75h-0.75zM206.78 73.58h0.75v0.75h-0.75zM211.69 68.39h0.75v0.75h-0.75zM210.74 70.5h0.75v0.75h-0.75zM205.8 76.92h0.75v0.75h-0.75zM222.76 77.4h0.75v0.75h-0.75zM208.7 73.86h0.75v0.75h-0.75z"/>
<path d="M170 89 C170 81 175 77.8 182.5 77.8 C190 77.8 195 81 195 88.5 C195 96 190 99.5 182.5 99.5 C175 99.5 170 96.5 170 89Z" fill="#fff" stroke="#000" stroke-width="0.9"/>
<path d="M172 89 C172 82.5 176 79.8 182.5 79.8 C189 79.8 193 82.5 193 88.6 C193 94.8 189 97.6 182.5 97.6 C176 97.6 172 95 172 89Z" fill="#b0b0b0" stroke="#000" stroke-width="0.6"/>
<path d="M174.5 89.2 C174.5 84.5 177.5 82.3 182.4 82.3 C187.3 82.3 190.5 84.5 190.5 88.8 C190.5 93.2 187.3 95.3 182.4 95.3 C177.5 95.3 174.5 93.3 174.5 89.2Z" fill="#808080" stroke="#000" stroke-width="0.5"/>
<ellipse cx="182.3" cy="89.6" rx="4.2" ry="3" fill="#1a1a1a"/>
<path d="M200.8 90.5 C203 84.8 212 83.4 220 83.4 C227.5 83.4 231 86.2 231 90.3 C231 94.8 227 97.2 219.5 97.2 C210.5 97.2 203 95.3 200.8 90.5Z" fill="#fff" stroke="#000" stroke-width="0.9"/>
<path d="M209.8 91 C211.5 88 216 86.8 220.5 86.8 C224.5 86.8 226 88.6 226 91 C226 93.5 224 95.2 220 95.2 C215 95.2 211.5 93.5 209.8 91Z" fill="none" stroke="#000" stroke-width="0.6"/>
<ellipse cx="220" cy="91" rx="4.2" ry="2.4" fill="#eee" stroke="#000" stroke-width="0.55"/>
<ellipse cx="220" cy="90.6" rx="1.6" ry="1" fill="#777"/>
<path fill="#444" fill-opacity="0.6" d="M309.29 28.98h0.75v0.75h-0.75zM308.35 29.44h0.75v0.75h-0.75zM300.02 35.17h0.75v0.75h-0.75zM301.96 41.16h0.75v0.75h-0.75zM305.32 34.82h0.75v0.75h-0.75zM307.48 35.14h0.75v0.75h-0.75zM299.22 39.16h0.75v0.75h-0.75zM310.04 39.75h0.75v0.75h-0.75zM297.48 42.07h0.75v0.75h-0.75zM301.04 37.85h0.75v0.75h-0.75zM308.6 43.82h0.75v0.75h-0.75zM295.41 31.21h0.75v0.75h-0.75zM308.54 36.83h0.75v0.75h-0.75zM301.53 24.15h0.75v0.75h-0.75zM305.07 34.31h0.75v0.75h-0.75zM290.73 44.93h0.75v0.75h-0.75zM291.25 32.93h0.75v0.75h-0.75zM302.98 35.86h0.75v0.75h-0.75zM306.54 34.01h0.75v0.75h-0.75zM298.79 33.66h0.75v0.75h-0.75zM293.12 30.85h0.75v0.75h-0.75zM312.29 32.45h0.75v0.75h-0.75zM302.62 42.04h0.75v0.75h-0.75zM307.95 35.45h0.75v0.75h-0.75zM306.46 34h0.75v0.75h-0.75zM298.74 38.72h0.75v0.75h-0.75zM303.63 40.94h0.75v0.75h-0.75zM301.77 33.61h0.75v0.75h-0.75zM304.62 34.3h0.75v0.75h-0.75zM301.54 31.68h0.75v0.75h-0.75zM304.2 36.2h0.75v0.75h-0.75zM311.61 34.9h0.75v0.75h-0.75zM294.74 36.73h0.75v0.75h-0.75zM313.77 33.36h0.75v0.75h-0.75zM299.23 34.38h0.75v0.75h-0.75zM289.55 33.75h0.75v0.75h-0.75zM302.12 29.39h0.75v0.75h-0.75zM305.71 31.75h0.75v0.75h-0.75zM294.3 32.33h0.75v0.75h-0.75zM305.98 42.14h0.75v0.75h-0.75zM308.89 35.73h0.75v0.75h-0.75zM300.59 34.03h0.75v0.75h-0.75zM307.56 33.08h0.75v0.75h-0.75zM304.96 38.59h0.75v0.75h-0.75zM298.73 32.81h0.75v0.75h-0.75zM305.11 35.03h0.75v0.75h-0.75zM302.42 33.03h0.75v0.75h-0.75zM302.7 41.89h0.75v0.75h-0.75zM309.4 29h0.75v0.75h-0.75zM303.22 35.34h0.75v0.75h-0.75zM303.17 29.87h0.75v0.75h-0.75zM302.39 35.55h0.75v0.75h-0.75zM299.79 36.17h0.75v0.75h-0.75zM291.52 29.4h0.75v0.75h-0.75zM303.48 36.45h0.75v0.75h-0.75zM302.22 33.3h0.75v0.75h-0.75zM303.87 39.03h0.75v0.75h-0.75zM307.23 34.71h0.75v0.75h-0.75zM300.81 38.95h0.75v0.75h-0.75zM305.55 38.29h0.75v0.75h-0.75zM301.69 31.8h0.75v0.75h-0.75zM303.88 32.68h0.75v0.75h-0.75zM308.42 38.18h0.75v0.75h-0.75zM292.73 37.48h0.75v0.75h-0.75zM309.28 38.86h0.75v0.75h-0.75zM300.77 31.8h0.75v0.75h-0.75zM307.57 38.77h0.75v0.75h-0.75zM303.28 30.71h0.75v0.75h-0.75zM295.81 35.99h0.75v0.75h-0.75zM299.11 32.47h0.75v0.75h-0.75zM305.09 38.9h0.75v0.75h-0.75zM293.27 32.51h0.75v0.75h-0.75zM309.12 34.84h0.75v0.75h-0.75zM301.39 37.38h0.75v0.75h-0.75zM297.64 30.45h0.75v0.75h-0.75zM303.1 40.82h0.75v0.75h-0.75zM307.78 34.98h0.75v0.75h-0.75zM307.77 33.47h0.75v0.75h-0.75zM297.44 28.77h0.75v0.75h-0.75zM304.28 38.35h0.75v0.75h-0.75zM304.75 34.86h0.75v0.75h-0.75zM301.11 39.06h0.75v0.75h-0.75zM302.78 29.64h0.75v0.75h-0.75zM309.46 32.59h0.75v0.75h-0.75zM304.85 35.01h0.75v0.75h-0.75zM307.97 35.92h0.75v0.75h-0.75zM308.78 35.78h0.75v0.75h-0.75zM300.83 33.11h0.75v0.75h-0.75zM306.07 31.92h0.75v0.75h-0.75zM307.38 34.11h0.75v0.75h-0.75zM298.63 31.75h0.75v0.75h-0.75zM302.32 41.59h0.75v0.75h-0.75zM306.64 35.07h0.75v0.75h-0.75zM298.73 42.1h0.75v0.75h-0.75zM301.69 35h0.75v0.75h-0.75zM301 39.97h0.75v0.75h-0.75zM303.83 33.3h0.75v0.75h-0.75zM303.87 31.28h0.75v0.75h-0.75zM298.04 34.4h0.75v0.75h-0.75zM289.43 39.38h0.75v0.75h-0.75zM312.37 30.86h0.75v0.75h-0.75zM302.33 29.13h0.75v0.75h-0.75zM303.81 35.79h0.75v0.75h-0.75zM306.49 30.04h0.75v0.75h-0.75zM300.17 32.59h0.75v0.75h-0.75zM301.84 43.51h0.75v0.75h-0.75zM302.06 34.85h0.75v0.75h-0.75zM300.61 37.97h0.75v0.75h-0.75zM315.09 39.33h0.75v0.75h-0.75zM310.23 31h0.75v0.75h-0.75zM307.99 35.11h0.75v0.75h-0.75zM308.9 38.94h0.75v0.75h-0.75zM306.09 28.75h0.75v0.75h-0.75zM303.63 33.14h0.75v0.75h-0.75zM305.11 35.14h0.75v0.75h-0.75zM307.95 29.03h0.75v0.75h-0.75zM299.51 34.72h0.75v0.75h-0.75zM304.51 33.49h0.75v0.75h-0.75zM302.87 35.21h0.75v0.75h-0.75zM307.94 34.58h0.75v0.75h-0.75zM304.14 28.23h0.75v0.75h-0.75zM290.65 29.55h0.75v0.75h-0.75zM304.68 26.41h0.75v0.75h-0.75zM304.93 34.64h0.75v0.75h-0.75zM303.01 32.28h0.75v0.75h-0.75zM301.02 38.1h0.75v0.75h-0.75zM304.69 34.9h0.75v0.75h-0.75zM300.69 35.79h0.75v0.75h-0.75zM308.62 34.93h0.75v0.75h-0.75zM301.27 30.6h0.75v0.75h-0.75zM303.47 31.58h0.75v0.75h-0.75zM296.22 38.25h0.75v0.75h-0.75zM300.06 27.4h0.75v0.75h-0.75zM299.61 41.87h0.75v0.75h-0.75zM302.5 30.06h0.75v0.75h-0.75zM297.8 37.68h0.75v0.75h-0.75zM304.92 35.8h0.75v0.75h-0.75zM302.07 36.81h0.75v0.75h-0.75zM310.27 36.82h0.75v0.75h-0.75zM302.22 29.78h0.75v0.75h-0.75zM305.1 40.85h0.75v0.75h-0.75zM306.06 30.31h0.75v0.75h-0.75zM303.87 39.85h0.75v0.75h-0.75zM300 36.85h0.75v0.75h-0.75zM308.71 41.11h0.75v0.75h-0.75zM295.49 28.48h0.75v0.75h-0.75zM304.77 37.63h0.75v0.75h-0.75zM301.33 34.92h0.75v0.75h-0.75zM301.07 39.48h0.75v0.75h-0.75zM292.54 35.95h0.75v0.75h-0.75zM296.95 32.47h0.75v0.75h-0.75zM295.76 31.6h0.75v0.75h-0.75zM302.89 35.1h0.75v0.75h-0.75zM311.45 34.18h0.75v0.75h-0.75zM304.64 36.32h0.75v0.75h-0.75zM304.22 40.48h0.75v0.75h-0.75zM303.66 35.56h0.75v0.75h-0.75zM302.47 35.02h0.75v0.75h-0.75zM302.74 38.72h0.75v0.75h-0.75zM303.09 35.26h0.75v0.75h-0.75zM302.78 37.84h0.75v0.75h-0.75zM300.77 38.51h0.75v0.75h-0.75zM300.29 37.59h0.75v0.75h-0.75zM312.08 35.87h0.75v0.75h-0.75zM302.59 30.58h0.75v0.75h-0.75zM306.5 35.05h0.75v0.75h-0.75zM307.3 32.54h0.75v0.75h-0.75zM305.46 41.76h0.75v0.75h-0.75zM304.9 33.78h0.75v0.75h-0.75zM296.84 34.97h0.75v0.75h-0.75zM306.12 37.24h0.75v0.75h-0.75zM297.71 31.15h0.75v0.75h-0.75zM298.38 31.18h0.75v0.75h-0.75zM301.69 36h0.75v0.75h-0.75zM312.1 35.73h0.75v0.75h-0.75zM309.88 28.81h0.75v0.75h-0.75zM310.3 37.99h0.75v0.75h-0.75zM305.09 38.09h0.75v0.75h-0.75zM305.92 42.17h0.75v0.75h-0.75zM306.82 28.48h0.75v0.75h-0.75zM294.72 41.04h0.75v0.75h-0.75zM302.6 39.96h0.75v0.75h-0.75zM301.38 32.54h0.75v0.75h-0.75zM301.38 36.18h0.75v0.75h-0.75zM303.89 32.68h0.75v0.75h-0.75zM305.54 37.31h0.75v0.75h-0.75zM298.65 30.83h0.75v0.75h-0.75zM293.7 33.85h0.75v0.75h-0.75zM303.05 32.39h0.75v0.75h-0.75zM300.14 34.5h0.75v0.75h-0.75zM303.14 37.14h0.75v0.75h-0.75zM306.95 36.64h0.75v0.75h-0.75zM308.3 31.37h0.75v0.75h-0.75zM305.88 36.4h0.75v0.75h-0.75zM298.05 32.46h0.75v0.75h-0.75zM305.1 35.28h0.75v0.75h-0.75zM297.04 32.92h0.75v0.75h-0.75zM310.23 38.16h0.75v0.75h-0.75zM303.39 40.06h0.75v0.75h-0.75zM298.7 34.36h0.75v0.75h-0.75z"/>
<path fill="#333" fill-opacity="0.6" d="M307.76 68.01h0.75v0.75h-0.75zM298.53 73.47h0.75v0.75h-0.75zM310.62 54.96h0.75v0.75h-0.75zM304.19 62.59h0.75v0.75h-0.75zM302.17 61.63h0.75v0.75h-0.75zM315.06 65.97h0.75v0.75h-0.75zM303.7 65.82h0.75v0.75h-0.75zM299.1 67.31h0.75v0.75h-0.75zM304.42 80.39h0.75v0.75h-0.75zM304.78 79.28h0.75v0.75h-0.75zM298.76 70.42h0.75v0.75h-0.75zM301.56 60.72h0.75v0.75h-0.75zM320.08 68.56h0.75v0.75h-0.75zM304.59 65.53h0.75v0.75h-0.75zM300.94 63.87h0.75v0.75h-0.75zM308.06 67.61h0.75v0.75h-0.75zM302.86 71.07h0.75v0.75h-0.75zM298.05 71.38h0.75v0.75h-0.75zM302.74 72.64h0.75v0.75h-0.75zM301.79 70.23h0.75v0.75h-0.75zM305.8 75.73h0.75v0.75h-0.75zM300.44 75.76h0.75v0.75h-0.75zM299.12 68.88h0.75v0.75h-0.75zM304.08 70.86h0.75v0.75h-0.75zM292.4 64.2h0.75v0.75h-0.75zM302.68 75.48h0.75v0.75h-0.75zM300.37 78.96h0.75v0.75h-0.75zM295.48 70.46h0.75v0.75h-0.75zM305.9 70.1h0.75v0.75h-0.75zM304.67 75.54h0.75v0.75h-0.75zM299.92 73.5h0.75v0.75h-0.75zM308.23 68.62h0.75v0.75h-0.75zM293.2 62.94h0.75v0.75h-0.75zM299.7 63.73h0.75v0.75h-0.75zM305.42 65.23h0.75v0.75h-0.75zM314.53 73.38h0.75v0.75h-0.75zM297.69 68.3h0.75v0.75h-0.75zM310.3 74.03h0.75v0.75h-0.75zM298.97 76.14h0.75v0.75h-0.75zM301.39 83.13h0.75v0.75h-0.75zM301.05 73.54h0.75v0.75h-0.75zM306.01 67.37h0.75v0.75h-0.75zM302.82 76.87h0.75v0.75h-0.75zM305.71 69.64h0.75v0.75h-0.75zM305.48 80.37h0.75v0.75h-0.75zM307.65 72.82h0.75v0.75h-0.75zM304.97 60.73h0.75v0.75h-0.75zM304.1 67.11h0.75v0.75h-0.75zM306.76 66.4h0.75v0.75h-0.75zM305.5 63.77h0.75v0.75h-0.75zM307.48 65.68h0.75v0.75h-0.75zM303.37 73.42h0.75v0.75h-0.75zM302.06 70.04h0.75v0.75h-0.75zM308.22 80.49h0.75v0.75h-0.75zM295.47 64.65h0.75v0.75h-0.75zM306.5 75.58h0.75v0.75h-0.75zM301.39 70.56h0.75v0.75h-0.75zM302.64 83.5h0.75v0.75h-0.75zM302.61 62.94h0.75v0.75h-0.75zM296.6 62.43h0.75v0.75h-0.75zM309.29 67.69h0.75v0.75h-0.75zM312.17 73.78h0.75v0.75h-0.75zM305.2 73.82h0.75v0.75h-0.75zM307.01 75.45h0.75v0.75h-0.75zM299.16 66.7h0.75v0.75h-0.75zM301.06 70.62h0.75v0.75h-0.75zM302.39 62.7h0.75v0.75h-0.75zM300.41 80.59h0.75v0.75h-0.75zM312.94 64.93h0.75v0.75h-0.75zM305.19 69.79h0.75v0.75h-0.75zM299.74 74.23h0.75v0.75h-0.75zM303.19 79.89h0.75v0.75h-0.75zM305.53 68.16h0.75v0.75h-0.75zM291.73 69.39h0.75v0.75h-0.75zM307.27 65.77h0.75v0.75h-0.75zM307.43 74.05h0.75v0.75h-0.75zM295.65 68.84h0.75v0.75h-0.75zM304.93 74.47h0.75v0.75h-0.75zM304.19 69.91h0.75v0.75h-0.75zM301.96 68.28h0.75v0.75h-0.75zM303.52 63.7h0.75v0.75h-0.75zM306.35 68.07h0.75v0.75h-0.75zM305.82 67h0.75v0.75h-0.75zM305.33 70.75h0.75v0.75h-0.75zM307.46 72.74h0.75v0.75h-0.75zM307.65 69.02h0.75v0.75h-0.75zM303.25 68.45h0.75v0.75h-0.75zM297.92 69.26h0.75v0.75h-0.75zM308.34 74.56h0.75v0.75h-0.75zM299.72 71.78h0.75v0.75h-0.75zM306.84 61.95h0.75v0.75h-0.75zM305.05 71.95h0.75v0.75h-0.75zM306.83 71.52h0.75v0.75h-0.75zM295.76 58.06h0.75v0.75h-0.75zM312.32 67.66h0.75v0.75h-0.75zM309.16 77.49h0.75v0.75h-0.75zM303.89 63.23h0.75v0.75h-0.75zM309.58 69.78h0.75v0.75h-0.75zM305.81 72.83h0.75v0.75h-0.75zM307.74 75.99h0.75v0.75h-0.75zM297.18 61.67h0.75v0.75h-0.75zM304.13 70.05h0.75v0.75h-0.75zM306.96 69.2h0.75v0.75h-0.75zM302.69 82h0.75v0.75h-0.75zM309.61 76.86h0.75v0.75h-0.75zM308.11 65.34h0.75v0.75h-0.75zM303.12 69.59h0.75v0.75h-0.75zM298.63 64.86h0.75v0.75h-0.75zM304.21 62.82h0.75v0.75h-0.75zM305.91 72.79h0.75v0.75h-0.75zM302.45 68h0.75v0.75h-0.75zM306.18 72.84h0.75v0.75h-0.75zM305.13 62.77h0.75v0.75h-0.75zM296.29 82.1h0.75v0.75h-0.75zM300.6 67.84h0.75v0.75h-0.75zM295.39 65.28h0.75v0.75h-0.75zM300.24 74.71h0.75v0.75h-0.75zM291.75 61.72h0.75v0.75h-0.75zM301.67 67.1h0.75v0.75h-0.75zM300.05 67.4h0.75v0.75h-0.75zM296.49 71.58h0.75v0.75h-0.75zM308.81 70.91h0.75v0.75h-0.75zM301.12 77.46h0.75v0.75h-0.75zM305.67 63.92h0.75v0.75h-0.75zM300.95 66.39h0.75v0.75h-0.75zM303.3 77.16h0.75v0.75h-0.75zM300.37 69.13h0.75v0.75h-0.75zM304 62.97h0.75v0.75h-0.75zM301.38 73.62h0.75v0.75h-0.75zM308.53 58.94h0.75v0.75h-0.75zM306.64 68.28h0.75v0.75h-0.75zM309.23 73.67h0.75v0.75h-0.75zM312.26 71.83h0.75v0.75h-0.75zM301.74 65.09h0.75v0.75h-0.75zM297.14 73.27h0.75v0.75h-0.75zM305.79 74.83h0.75v0.75h-0.75zM305.06 61.18h0.75v0.75h-0.75zM301.69 68.57h0.75v0.75h-0.75zM304.21 74.52h0.75v0.75h-0.75zM309.81 71.68h0.75v0.75h-0.75zM294.33 63.98h0.75v0.75h-0.75zM294.01 65.5h0.75v0.75h-0.75zM298.17 71.41h0.75v0.75h-0.75zM302.52 76.57h0.75v0.75h-0.75zM308.3 67.32h0.75v0.75h-0.75zM307.7 70.08h0.75v0.75h-0.75zM305.53 77.94h0.75v0.75h-0.75zM298.39 69.61h0.75v0.75h-0.75zM310.34 65.5h0.75v0.75h-0.75zM304.46 70.78h0.75v0.75h-0.75zM301.65 62.3h0.75v0.75h-0.75zM300.45 64.22h0.75v0.75h-0.75zM308.31 71.47h0.75v0.75h-0.75zM306.62 63h0.75v0.75h-0.75zM305.73 70.85h0.75v0.75h-0.75zM308.16 65.76h0.75v0.75h-0.75zM307.11 78.07h0.75v0.75h-0.75zM311.52 64.53h0.75v0.75h-0.75zM298.51 61.38h0.75v0.75h-0.75zM307.78 73.5h0.75v0.75h-0.75zM305.02 64.91h0.75v0.75h-0.75zM309.08 79.45h0.75v0.75h-0.75zM303.34 69.3h0.75v0.75h-0.75zM308.79 72.98h0.75v0.75h-0.75zM309.48 67.63h0.75v0.75h-0.75zM305.01 68.01h0.75v0.75h-0.75zM300.97 68.25h0.75v0.75h-0.75zM302.24 72.97h0.75v0.75h-0.75zM302.15 70.42h0.75v0.75h-0.75zM299.91 62.8h0.75v0.75h-0.75zM309.86 64.22h0.75v0.75h-0.75zM311.57 75.53h0.75v0.75h-0.75zM293.32 66.25h0.75v0.75h-0.75zM301.65 70.12h0.75v0.75h-0.75zM302.71 66.45h0.75v0.75h-0.75zM309.07 69.25h0.75v0.75h-0.75zM307.78 65.97h0.75v0.75h-0.75zM300.44 77.84h0.75v0.75h-0.75zM302.25 63.55h0.75v0.75h-0.75zM302.75 76.19h0.75v0.75h-0.75zM302.79 65.78h0.75v0.75h-0.75zM306.33 75.78h0.75v0.75h-0.75zM302.59 68.13h0.75v0.75h-0.75zM301.88 85.87h0.75v0.75h-0.75zM302.67 80.26h0.75v0.75h-0.75zM302.85 72.39h0.75v0.75h-0.75zM294.45 71.05h0.75v0.75h-0.75zM303.74 68.14h0.75v0.75h-0.75zM301.69 62h0.75v0.75h-0.75zM296.89 70.98h0.75v0.75h-0.75zM300.67 69.48h0.75v0.75h-0.75zM302.71 67.03h0.75v0.75h-0.75zM300.27 80.9h0.75v0.75h-0.75zM298.6 67.02h0.75v0.75h-0.75zM302.2 63.23h0.75v0.75h-0.75zM299.24 75.06h0.75v0.75h-0.75zM307.65 70.78h0.75v0.75h-0.75zM317.92 74.86h0.75v0.75h-0.75zM308.99 65.22h0.75v0.75h-0.75zM308.32 79.89h0.75v0.75h-0.75zM301.83 80.61h0.75v0.75h-0.75zM299.93 63.35h0.75v0.75h-0.75zM303.31 65.27h0.75v0.75h-0.75zM306.34 63.52h0.75v0.75h-0.75zM303.88 58.53h0.75v0.75h-0.75zM303.37 76.17h0.75v0.75h-0.75zM302.34 71.84h0.75v0.75h-0.75zM308.36 63.57h0.75v0.75h-0.75zM297.86 70.48h0.75v0.75h-0.75zM304.75 68.44h0.75v0.75h-0.75zM299.2 77.12h0.75v0.75h-0.75zM298.35 68.48h0.75v0.75h-0.75zM303.32 74.26h0.75v0.75h-0.75zM301.53 65.19h0.75v0.75h-0.75zM312.46 65.05h0.75v0.75h-0.75zM307.06 69.1h0.75v0.75h-0.75zM301.4 69.74h0.75v0.75h-0.75zM302.38 71.83h0.75v0.75h-0.75zM292.21 69.85h0.75v0.75h-0.75zM303.83 64.31h0.75v0.75h-0.75zM301.79 83.7h0.75v0.75h-0.75zM311.72 73.76h0.75v0.75h-0.75zM304.55 68.22h0.75v0.75h-0.75zM309.68 67.38h0.75v0.75h-0.75zM299.87 74.06h0.75v0.75h-0.75zM299.22 65.37h0.75v0.75h-0.75zM309.95 60.59h0.75v0.75h-0.75zM303.22 70.7h0.75v0.75h-0.75zM304.66 61.47h0.75v0.75h-0.75zM302.51 68.05h0.75v0.75h-0.75zM312.06 75.89h0.75v0.75h-0.75zM300.16 75.12h0.75v0.75h-0.75zM306.42 69.34h0.75v0.75h-0.75zM302.44 68.39h0.75v0.75h-0.75zM296.66 66.31h0.75v0.75h-0.75zM307.68 78.47h0.75v0.75h-0.75zM311.75 67.8h0.75v0.75h-0.75zM306.26 55.91h0.75v0.75h-0.75zM302.32 62.61h0.75v0.75h-0.75zM307.17 60.29h0.75v0.75h-0.75zM298.89 63.53h0.75v0.75h-0.75zM305.28 74.91h0.75v0.75h-0.75zM299.44 80.56h0.75v0.75h-0.75zM304.23 65.12h0.75v0.75h-0.75zM305.07 69.92h0.75v0.75h-0.75zM307.21 72.02h0.75v0.75h-0.75zM313.24 76.85h0.75v0.75h-0.75zM300.68 74.61h0.75v0.75h-0.75zM306.9 64.15h0.75v0.75h-0.75zM300.19 65.28h0.75v0.75h-0.75zM292.56 73.73h0.75v0.75h-0.75zM302.56 77.22h0.75v0.75h-0.75zM301.04 70.44h0.75v0.75h-0.75zM306.74 75.67h0.75v0.75h-0.75zM304.94 63.91h0.75v0.75h-0.75zM313.31 75.09h0.75v0.75h-0.75zM309.57 79.48h0.75v0.75h-0.75zM309.76 72.43h0.75v0.75h-0.75zM305.62 73.7h0.75v0.75h-0.75zM296.85 74.77h0.75v0.75h-0.75z"/>
<path fill="#333" fill-opacity="0.6" d="M298.72 77.24h0.75v0.75h-0.75zM298.54 78.09h0.75v0.75h-0.75zM301.13 83.28h0.75v0.75h-0.75zM304.48 77.49h0.75v0.75h-0.75zM299.06 75.16h0.75v0.75h-0.75zM303.25 75.16h0.75v0.75h-0.75zM301.38 73.44h0.75v0.75h-0.75zM307.29 74.88h0.75v0.75h-0.75zM299.51 77.07h0.75v0.75h-0.75zM299.53 75.49h0.75v0.75h-0.75zM301.01 73.3h0.75v0.75h-0.75zM302.42 73.6h0.75v0.75h-0.75zM297.36 77.03h0.75v0.75h-0.75zM302.07 71.72h0.75v0.75h-0.75zM301.59 76.55h0.75v0.75h-0.75zM305.64 77.1h0.75v0.75h-0.75zM304.79 77.75h0.75v0.75h-0.75zM301.1 73.67h0.75v0.75h-0.75zM306.56 74.8h0.75v0.75h-0.75zM303.58 77.91h0.75v0.75h-0.75zM308.16 79.58h0.75v0.75h-0.75zM300.15 74.92h0.75v0.75h-0.75zM306.28 71.82h0.75v0.75h-0.75zM297.33 77.78h0.75v0.75h-0.75zM300.51 73.31h0.75v0.75h-0.75zM307.49 77.56h0.75v0.75h-0.75zM308.06 75.04h0.75v0.75h-0.75zM302.12 75.01h0.75v0.75h-0.75zM305 70.07h0.75v0.75h-0.75zM300.13 78.07h0.75v0.75h-0.75zM299.7 75.81h0.75v0.75h-0.75zM304.15 77.52h0.75v0.75h-0.75zM301.2 72.7h0.75v0.75h-0.75zM315.83 73.91h0.75v0.75h-0.75zM311.96 70.87h0.75v0.75h-0.75zM304.09 75.43h0.75v0.75h-0.75zM312.87 81.96h0.75v0.75h-0.75zM308.35 73.04h0.75v0.75h-0.75zM299.59 73.81h0.75v0.75h-0.75zM301 76.77h0.75v0.75h-0.75zM299.67 75.28h0.75v0.75h-0.75zM310.79 80.2h0.75v0.75h-0.75zM294.39 73.23h0.75v0.75h-0.75zM301.71 79.79h0.75v0.75h-0.75zM301.92 81.57h0.75v0.75h-0.75zM305.34 80.19h0.75v0.75h-0.75zM299.32 75.1h0.75v0.75h-0.75zM308.56 77.67h0.75v0.75h-0.75zM294.37 75.2h0.75v0.75h-0.75zM304.43 77.84h0.75v0.75h-0.75zM300.42 81.08h0.75v0.75h-0.75zM304.29 80.23h0.75v0.75h-0.75zM305.53 76.25h0.75v0.75h-0.75zM301.98 72.6h0.75v0.75h-0.75zM307.8 78.21h0.75v0.75h-0.75zM308.14 74.91h0.75v0.75h-0.75zM298.61 74.9h0.75v0.75h-0.75zM302.01 75.97h0.75v0.75h-0.75zM308.38 73.35h0.75v0.75h-0.75zM301.16 78.01h0.75v0.75h-0.75zM307.99 82.45h0.75v0.75h-0.75zM306.14 73.54h0.75v0.75h-0.75zM298.44 73.7h0.75v0.75h-0.75zM303.9 76.74h0.75v0.75h-0.75zM303.23 74.22h0.75v0.75h-0.75zM302.65 75.78h0.75v0.75h-0.75zM306.47 76.25h0.75v0.75h-0.75zM299.58 72.6h0.75v0.75h-0.75zM310.83 75.75h0.75v0.75h-0.75zM302.69 75.93h0.75v0.75h-0.75zM309.09 75.09h0.75v0.75h-0.75zM304.42 75.32h0.75v0.75h-0.75zM306.4 73.07h0.75v0.75h-0.75zM304.56 79h0.75v0.75h-0.75zM309.37 77.8h0.75v0.75h-0.75zM305 80.58h0.75v0.75h-0.75zM307.03 80.07h0.75v0.75h-0.75zM297.67 72.81h0.75v0.75h-0.75zM307.48 75.23h0.75v0.75h-0.75zM301.44 73.25h0.75v0.75h-0.75zM310.84 72.54h0.75v0.75h-0.75zM304.08 71.95h0.75v0.75h-0.75zM302.71 82.53h0.75v0.75h-0.75zM315.5 74.57h0.75v0.75h-0.75zM298.61 80.74h0.75v0.75h-0.75zM299.37 70.82h0.75v0.75h-0.75zM305.27 72.87h0.75v0.75h-0.75zM296.45 79.27h0.75v0.75h-0.75zM299.99 72.92h0.75v0.75h-0.75zM304.39 75.46h0.75v0.75h-0.75zM309.07 76.28h0.75v0.75h-0.75zM311.37 79.31h0.75v0.75h-0.75zM312.29 79.26h0.75v0.75h-0.75zM303.92 77.59h0.75v0.75h-0.75zM303.68 71.49h0.75v0.75h-0.75zM297.81 78.16h0.75v0.75h-0.75zM291.99 73.61h0.75v0.75h-0.75zM297.28 75.82h0.75v0.75h-0.75zM298.49 76.73h0.75v0.75h-0.75zM302.6 74.64h0.75v0.75h-0.75zM299.43 69.56h0.75v0.75h-0.75zM303.94 72.25h0.75v0.75h-0.75zM302.13 77.08h0.75v0.75h-0.75zM308.71 78.05h0.75v0.75h-0.75zM310.81 71.88h0.75v0.75h-0.75zM306.88 80.56h0.75v0.75h-0.75zM305.51 72.79h0.75v0.75h-0.75zM305.52 74.5h0.75v0.75h-0.75zM300.42 79.1h0.75v0.75h-0.75zM302.7 72.76h0.75v0.75h-0.75zM300.27 81.7h0.75v0.75h-0.75zM299.44 77.97h0.75v0.75h-0.75zM304.45 79.4h0.75v0.75h-0.75zM302.21 73.26h0.75v0.75h-0.75zM300.44 73.02h0.75v0.75h-0.75zM316.27 76.57h0.75v0.75h-0.75zM302.01 79.66h0.75v0.75h-0.75zM306.79 75.48h0.75v0.75h-0.75zM306.62 76.8h0.75v0.75h-0.75zM309.09 80.8h0.75v0.75h-0.75zM302.04 75.9h0.75v0.75h-0.75zM302.69 79.56h0.75v0.75h-0.75zM305.46 78.28h0.75v0.75h-0.75zM307.98 74.16h0.75v0.75h-0.75zM304.21 80.03h0.75v0.75h-0.75zM308.1 78.37h0.75v0.75h-0.75zM302.21 74.96h0.75v0.75h-0.75zM299.4 75.22h0.75v0.75h-0.75zM303.27 71.85h0.75v0.75h-0.75zM309.26 73.79h0.75v0.75h-0.75zM304.81 77.75h0.75v0.75h-0.75zM300.89 70.76h0.75v0.75h-0.75zM308.3 77.19h0.75v0.75h-0.75zM302.35 79.3h0.75v0.75h-0.75zM307.96 73.24h0.75v0.75h-0.75zM303.19 70.9h0.75v0.75h-0.75zM302.3 80.1h0.75v0.75h-0.75zM299.49 78.4h0.75v0.75h-0.75zM296.22 75.15h0.75v0.75h-0.75zM308.18 80.99h0.75v0.75h-0.75zM305.8 78.2h0.75v0.75h-0.75zM311.98 68.93h0.75v0.75h-0.75zM295.25 81.49h0.75v0.75h-0.75zM315.62 77.74h0.75v0.75h-0.75zM303.9 76.76h0.75v0.75h-0.75zM303.72 74.23h0.75v0.75h-0.75zM303.51 75.64h0.75v0.75h-0.75zM306.85 77.98h0.75v0.75h-0.75zM308.37 77.71h0.75v0.75h-0.75zM298.85 80.05h0.75v0.75h-0.75z"/>
<path fill="#222" fill-opacity="0.8" d="M288.7 90.11h0.75v0.75h-0.75zM309.78 101.5h0.75v0.75h-0.75zM291.62 84.79h0.75v0.75h-0.75zM297.96 99.58h0.75v0.75h-0.75zM293.46 81.55h0.75v0.75h-0.75zM292.43 84.49h0.75v0.75h-0.75zM310.8 78.83h0.75v0.75h-0.75zM303.87 100.96h0.75v0.75h-0.75zM300.83 78.01h0.75v0.75h-0.75zM299.4 99.95h0.75v0.75h-0.75zM293.69 79.79h0.75v0.75h-0.75zM296.72 100.59h0.75v0.75h-0.75zM302.93 76.97h0.75v0.75h-0.75zM302.25 101.42h0.75v0.75h-0.75zM306.23 100.42h0.75v0.75h-0.75zM294.31 99.1h0.75v0.75h-0.75zM301.62 100.6h0.75v0.75h-0.75zM313.95 84.8h0.75v0.75h-0.75zM289.37 87.94h0.75v0.75h-0.75zM299.75 101.8h0.75v0.75h-0.75zM314.49 94.9h0.75v0.75h-0.75zM298.91 100.51h0.75v0.75h-0.75zM313.38 80.41h0.75v0.75h-0.75zM303.13 101.2h0.75v0.75h-0.75zM289.62 92.31h0.75v0.75h-0.75zM316.38 89.04h0.75v0.75h-0.75zM301.84 77.86h0.75v0.75h-0.75zM290.46 89.59h0.75v0.75h-0.75zM302.09 102.02h0.75v0.75h-0.75zM299.05 78.49h0.75v0.75h-0.75zM292.61 84.58h0.75v0.75h-0.75zM291.28 93.64h0.75v0.75h-0.75zM290.75 91.93h0.75v0.75h-0.75zM309.34 77.43h0.75v0.75h-0.75zM306.65 78.28h0.75v0.75h-0.75zM314.48 84.46h0.75v0.75h-0.75zM316.02 85.52h0.75v0.75h-0.75zM312.74 97.25h0.75v0.75h-0.75zM312.45 96.58h0.75v0.75h-0.75zM314.5 86.5h0.75v0.75h-0.75zM300.01 78.13h0.75v0.75h-0.75zM314.38 95.12h0.75v0.75h-0.75zM292.52 83.92h0.75v0.75h-0.75zM311.77 98.18h0.75v0.75h-0.75zM291.71 84.98h0.75v0.75h-0.75zM291.2 91.29h0.75v0.75h-0.75zM290.08 93.53h0.75v0.75h-0.75zM310.95 97.47h0.75v0.75h-0.75zM296.61 103.52h0.75v0.75h-0.75zM292.18 80.13h0.75v0.75h-0.75zM302.23 101.66h0.75v0.75h-0.75zM292.1 95.1h0.75v0.75h-0.75zM311.76 81.86h0.75v0.75h-0.75zM314.78 88.81h0.75v0.75h-0.75zM310.66 79.36h0.75v0.75h-0.75zM305.65 78.43h0.75v0.75h-0.75zM314.71 94.14h0.75v0.75h-0.75zM293.02 81.81h0.75v0.75h-0.75zM289.23 86.3h0.75v0.75h-0.75zM300.66 100.42h0.75v0.75h-0.75zM313.24 97.86h0.75v0.75h-0.75zM312.54 98.73h0.75v0.75h-0.75zM313.59 77.86h0.75v0.75h-0.75zM298.85 100.81h0.75v0.75h-0.75zM290.36 89.32h0.75v0.75h-0.75zM291.31 91.42h0.75v0.75h-0.75zM311.45 97.4h0.75v0.75h-0.75zM312.81 98.56h0.75v0.75h-0.75zM313.23 80.21h0.75v0.75h-0.75zM309.79 79.76h0.75v0.75h-0.75zM308.07 79.2h0.75v0.75h-0.75zM314.61 86.25h0.75v0.75h-0.75zM303.32 77.89h0.75v0.75h-0.75zM295.21 79.73h0.75v0.75h-0.75zM297.52 79.61h0.75v0.75h-0.75zM306.07 101.54h0.75v0.75h-0.75zM298.7 78.9h0.75v0.75h-0.75zM311.93 82.08h0.75v0.75h-0.75zM291.2 82.28h0.75v0.75h-0.75zM291.44 87.17h0.75v0.75h-0.75zM306.01 101.9h0.75v0.75h-0.75zM311.03 81.37h0.75v0.75h-0.75zM289.81 88.84h0.75v0.75h-0.75zM289.65 92.77h0.75v0.75h-0.75zM313.35 80.34h0.75v0.75h-0.75zM297.75 78.81h0.75v0.75h-0.75zM298.12 100.57h0.75v0.75h-0.75zM299.15 102.31h0.75v0.75h-0.75zM294.34 98.19h0.75v0.75h-0.75zM310.58 100.87h0.75v0.75h-0.75zM293.48 98.57h0.75v0.75h-0.75zM297.39 100.9h0.75v0.75h-0.75zM292.23 95.54h0.75v0.75h-0.75zM301.07 76.12h0.75v0.75h-0.75zM304.25 77.94h0.75v0.75h-0.75zM314.91 89.99h0.75v0.75h-0.75zM308.42 100.05h0.75v0.75h-0.75zM295.87 79.73h0.75v0.75h-0.75zM298.43 79.24h0.75v0.75h-0.75zM309.1 80.09h0.75v0.75h-0.75zM299.82 100.27h0.75v0.75h-0.75zM311.26 99.87h0.75v0.75h-0.75zM290.92 85.87h0.75v0.75h-0.75zM292.07 94.96h0.75v0.75h-0.75zM290.41 81.67h0.75v0.75h-0.75zM302.78 77.59h0.75v0.75h-0.75zM307.92 99.46h0.75v0.75h-0.75zM291.29 85.75h0.75v0.75h-0.75zM309.34 101.24h0.75v0.75h-0.75zM300.25 101.03h0.75v0.75h-0.75zM311.56 99.47h0.75v0.75h-0.75zM312.73 96.14h0.75v0.75h-0.75zM306.51 78.8h0.75v0.75h-0.75zM312.59 96.07h0.75v0.75h-0.75zM304.03 78.18h0.75v0.75h-0.75zM306.08 101.46h0.75v0.75h-0.75zM309.51 98.64h0.75v0.75h-0.75zM291.64 91.82h0.75v0.75h-0.75zM300.67 78.34h0.75v0.75h-0.75zM315.5 92.8h0.75v0.75h-0.75zM316.16 90.23h0.75v0.75h-0.75zM294.21 99.49h0.75v0.75h-0.75zM314.22 84.1h0.75v0.75h-0.75zM304.4 78.21h0.75v0.75h-0.75zM290.9 85.95h0.75v0.75h-0.75zM293.77 96.42h0.75v0.75h-0.75zM302.77 77.31h0.75v0.75h-0.75zM310.22 79.42h0.75v0.75h-0.75zM302.59 78.23h0.75v0.75h-0.75zM309.65 100.72h0.75v0.75h-0.75zM296.19 80.15h0.75v0.75h-0.75zM290.26 83.73h0.75v0.75h-0.75zM297 80.04h0.75v0.75h-0.75zM303.27 75.32h0.75v0.75h-0.75zM292.26 83.79h0.75v0.75h-0.75zM313.23 95.8h0.75v0.75h-0.75zM297.22 79.93h0.75v0.75h-0.75zM304.54 76.59h0.75v0.75h-0.75zM312.77 95.37h0.75v0.75h-0.75zM294.47 81.33h0.75v0.75h-0.75zM291.67 95.55h0.75v0.75h-0.75zM315.53 95.81h0.75v0.75h-0.75zM313.59 98.64h0.75v0.75h-0.75zM296.57 98.86h0.75v0.75h-0.75zM305.57 102.22h0.75v0.75h-0.75zM316.79 83.97h0.75v0.75h-0.75zM292.68 94.39h0.75v0.75h-0.75zM292.28 95.25h0.75v0.75h-0.75zM307.49 78.39h0.75v0.75h-0.75zM291.29 87.66h0.75v0.75h-0.75zM312.36 96.95h0.75v0.75h-0.75zM313.82 96.27h0.75v0.75h-0.75zM315.4 89.47h0.75v0.75h-0.75zM316.47 96.04h0.75v0.75h-0.75zM305.23 77.33h0.75v0.75h-0.75zM294.33 99.79h0.75v0.75h-0.75zM293.82 82.77h0.75v0.75h-0.75zM290.29 87.44h0.75v0.75h-0.75zM315.97 97.38h0.75v0.75h-0.75zM291.72 97.43h0.75v0.75h-0.75zM307.44 79.22h0.75v0.75h-0.75zM300.11 78.22h0.75v0.75h-0.75zM314.77 90.63h0.75v0.75h-0.75zM296.1 98.33h0.75v0.75h-0.75zM313.39 79.73h0.75v0.75h-0.75zM315.96 85.39h0.75v0.75h-0.75zM316.31 84.54h0.75v0.75h-0.75zM314.63 91.97h0.75v0.75h-0.75zM304.97 78.3h0.75v0.75h-0.75zM289.85 87.66h0.75v0.75h-0.75zM309.5 102.52h0.75v0.75h-0.75zM302.75 102.04h0.75v0.75h-0.75zM296.96 78.54h0.75v0.75h-0.75zM291.33 91.81h0.75v0.75h-0.75zM300.59 101.7h0.75v0.75h-0.75zM294.67 98.87h0.75v0.75h-0.75zM313.72 81.85h0.75v0.75h-0.75zM292.03 93.02h0.75v0.75h-0.75zM298.57 99.87h0.75v0.75h-0.75zM294.95 80.57h0.75v0.75h-0.75zM287.36 85.42h0.75v0.75h-0.75zM293.58 100.79h0.75v0.75h-0.75zM290.75 87.56h0.75v0.75h-0.75zM306.42 76.49h0.75v0.75h-0.75zM314.59 83.57h0.75v0.75h-0.75zM290.96 85.85h0.75v0.75h-0.75zM315.26 94.35h0.75v0.75h-0.75zM293.83 97.71h0.75v0.75h-0.75zM314.48 93.85h0.75v0.75h-0.75zM305.78 102.35h0.75v0.75h-0.75zM314.89 90.47h0.75v0.75h-0.75zM291.34 90.42h0.75v0.75h-0.75zM295.34 99.35h0.75v0.75h-0.75zM316.04 89.03h0.75v0.75h-0.75zM307.45 78.86h0.75v0.75h-0.75zM291.09 89.54h0.75v0.75h-0.75zM305.09 102h0.75v0.75h-0.75zM288.81 93.59h0.75v0.75h-0.75zM292.87 96.01h0.75v0.75h-0.75zM303.24 77.64h0.75v0.75h-0.75zM311.9 81.18h0.75v0.75h-0.75zM290.81 91.18h0.75v0.75h-0.75zM301.77 100.77h0.75v0.75h-0.75zM314.37 84.31h0.75v0.75h-0.75zM298.63 100.09h0.75v0.75h-0.75zM296.3 77.13h0.75v0.75h-0.75zM307.53 77.71h0.75v0.75h-0.75zM305.44 101.04h0.75v0.75h-0.75zM301.86 77.88h0.75v0.75h-0.75zM299.75 103.14h0.75v0.75h-0.75zM303.4 74.91h0.75v0.75h-0.75zM314.7 87.95h0.75v0.75h-0.75zM307.65 101h0.75v0.75h-0.75zM291.3 88.2h0.75v0.75h-0.75zM297.75 101.17h0.75v0.75h-0.75zM314.72 93.13h0.75v0.75h-0.75zM302.75 76.02h0.75v0.75h-0.75zM296.51 78.28h0.75v0.75h-0.75zM291.32 81.84h0.75v0.75h-0.75zM295.56 101.05h0.75v0.75h-0.75zM316.43 94.93h0.75v0.75h-0.75zM295.91 78.58h0.75v0.75h-0.75zM302.68 77.67h0.75v0.75h-0.75zM313.18 94.76h0.75v0.75h-0.75zM311.92 98h0.75v0.75h-0.75zM302 101.88h0.75v0.75h-0.75zM302.86 77.88h0.75v0.75h-0.75zM290.81 93.18h0.75v0.75h-0.75zM305.22 77.79h0.75v0.75h-0.75zM300.22 78.79h0.75v0.75h-0.75zM298.36 79.21h0.75v0.75h-0.75zM314.75 89.15h0.75v0.75h-0.75zM303.76 78.09h0.75v0.75h-0.75zM313.71 83.16h0.75v0.75h-0.75zM293.44 98.34h0.75v0.75h-0.75zM299.3 101.88h0.75v0.75h-0.75zM300.57 78.25h0.75v0.75h-0.75zM310.69 80.34h0.75v0.75h-0.75zM316.13 90.95h0.75v0.75h-0.75zM304.63 100.51h0.75v0.75h-0.75zM317.15 92.63h0.75v0.75h-0.75zM314.33 94.55h0.75v0.75h-0.75zM290.71 86.61h0.75v0.75h-0.75zM315 85.03h0.75v0.75h-0.75zM311.99 97.22h0.75v0.75h-0.75zM313.99 83.79h0.75v0.75h-0.75zM303.43 77.16h0.75v0.75h-0.75zM305.69 77.1h0.75v0.75h-0.75zM292.29 84.83h0.75v0.75h-0.75zM293.86 82.62h0.75v0.75h-0.75zM297.72 78.47h0.75v0.75h-0.75zM288.85 87.26h0.75v0.75h-0.75zM301.52 100.73h0.75v0.75h-0.75zM295.03 78.68h0.75v0.75h-0.75zM291.31 89.29h0.75v0.75h-0.75zM315.77 91.61h0.75v0.75h-0.75zM314.36 96.43h0.75v0.75h-0.75zM290.81 92.57h0.75v0.75h-0.75zM296.72 99.33h0.75v0.75h-0.75zM291.3 90.55h0.75v0.75h-0.75zM297.7 77.13h0.75v0.75h-0.75zM293.4 80.57h0.75v0.75h-0.75zM291.36 90.64h0.75v0.75h-0.75zM295.77 98.82h0.75v0.75h-0.75zM294.61 78.44h0.75v0.75h-0.75zM290.57 93.69h0.75v0.75h-0.75zM294.8 97.6h0.75v0.75h-0.75zM294.2 80.85h0.75v0.75h-0.75zM313.69 84.82h0.75v0.75h-0.75zM290.63 83.18h0.75v0.75h-0.75zM315.16 88.23h0.75v0.75h-0.75zM309.02 100.14h0.75v0.75h-0.75zM297.54 79.35h0.75v0.75h-0.75zM315.31 91.45h0.75v0.75h-0.75zM311.53 98.62h0.75v0.75h-0.75zM300.8 74.79h0.75v0.75h-0.75zM292.47 94.99h0.75v0.75h-0.75zM292.38 81.05h0.75v0.75h-0.75zM311.36 99.18h0.75v0.75h-0.75zM299.25 79.06h0.75v0.75h-0.75zM292.77 80.48h0.75v0.75h-0.75zM306.2 78.88h0.75v0.75h-0.75zM301.55 76.58h0.75v0.75h-0.75zM294.47 98.63h0.75v0.75h-0.75zM314.96 87.22h0.75v0.75h-0.75zM315.95 89.22h0.75v0.75h-0.75zM298.46 100.3h0.75v0.75h-0.75zM290.8 91.79h0.75v0.75h-0.75zM291.72 95.25h0.75v0.75h-0.75zM303.4 77.75h0.75v0.75h-0.75zM314.59 83.33h0.75v0.75h-0.75zM292.85 97.76h0.75v0.75h-0.75zM293.04 101.74h0.75v0.75h-0.75zM298.85 100.01h0.75v0.75h-0.75zM295.38 98.33h0.75v0.75h-0.75zM297.34 79.21h0.75v0.75h-0.75zM308.68 79.8h0.75v0.75h-0.75zM291.83 85.11h0.75v0.75h-0.75zM289.24 91.54h0.75v0.75h-0.75zM301.84 77.29h0.75v0.75h-0.75zM294.36 97.7h0.75v0.75h-0.75zM314.21 81.62h0.75v0.75h-0.75zM293.86 97.58h0.75v0.75h-0.75zM292.45 81.7h0.75v0.75h-0.75zM315.97 83.51h0.75v0.75h-0.75zM290.51 83.67h0.75v0.75h-0.75zM300.76 78.68h0.75v0.75h-0.75zM312.87 98.13h0.75v0.75h-0.75zM300.87 78.34h0.75v0.75h-0.75zM290.41 88.4h0.75v0.75h-0.75zM289.9 92.93h0.75v0.75h-0.75zM315.15 87.76h0.75v0.75h-0.75zM304.73 77.2h0.75v0.75h-0.75zM292.32 85.22h0.75v0.75h-0.75zM297.19 78.08h0.75v0.75h-0.75zM288.39 90.06h0.75v0.75h-0.75zM300.23 103.29h0.75v0.75h-0.75zM289.95 87.53h0.75v0.75h-0.75zM314.45 80.49h0.75v0.75h-0.75zM293.8 96.74h0.75v0.75h-0.75zM294.7 98.76h0.75v0.75h-0.75zM295.36 100.69h0.75v0.75h-0.75zM316.12 94.53h0.75v0.75h-0.75zM291.56 85.21h0.75v0.75h-0.75zM304.15 77.56h0.75v0.75h-0.75zM291.28 89.55h0.75v0.75h-0.75zM310.49 79.9h0.75v0.75h-0.75zM295.65 80.98h0.75v0.75h-0.75zM295.29 98.73h0.75v0.75h-0.75zM291.38 86.51h0.75v0.75h-0.75z"/>
<path fill="#111" fill-opacity="0.85" d="M327.29 85.15h0.75v0.75h-0.75zM327.59 86.35h0.75v0.75h-0.75zM330.48 85.92h0.75v0.75h-0.75zM325.17 84.34h0.75v0.75h-0.75zM332.94 91.56h0.75v0.75h-0.75zM322.74 95.08h0.75v0.75h-0.75zM323.17 87.48h0.75v0.75h-0.75zM322.73 94.83h0.75v0.75h-0.75zM330.54 95.08h0.75v0.75h-0.75zM327.56 96.44h0.75v0.75h-0.75zM326.88 98.97h0.75v0.75h-0.75zM329.52 95.54h0.75v0.75h-0.75zM324.52 86.69h0.75v0.75h-0.75zM330.67 96.34h0.75v0.75h-0.75zM326.94 86.38h0.75v0.75h-0.75zM324.58 84.67h0.75v0.75h-0.75zM325.99 86.21h0.75v0.75h-0.75zM332.02 93.15h0.75v0.75h-0.75zM331.49 86.65h0.75v0.75h-0.75zM324.37 86.62h0.75v0.75h-0.75zM324.84 86.23h0.75v0.75h-0.75zM329.76 86.89h0.75v0.75h-0.75zM325.53 85.93h0.75v0.75h-0.75zM323.55 93.39h0.75v0.75h-0.75zM325.16 95.01h0.75v0.75h-0.75zM323.52 91.9h0.75v0.75h-0.75zM328.3 85.47h0.75v0.75h-0.75zM329.45 96.61h0.75v0.75h-0.75zM328.3 95.87h0.75v0.75h-0.75zM324.95 97.19h0.75v0.75h-0.75zM328.83 85.6h0.75v0.75h-0.75zM329.56 98.72h0.75v0.75h-0.75zM331.29 94.09h0.75v0.75h-0.75zM329.97 86.98h0.75v0.75h-0.75zM331.67 92.87h0.75v0.75h-0.75zM328.9 86.45h0.75v0.75h-0.75zM327.29 95.8h0.75v0.75h-0.75zM332.82 93.22h0.75v0.75h-0.75zM323.51 91.4h0.75v0.75h-0.75zM323.94 89.62h0.75v0.75h-0.75zM331.1 94.24h0.75v0.75h-0.75zM329.29 83.54h0.75v0.75h-0.75zM330.67 87.37h0.75v0.75h-0.75zM322.64 87.55h0.75v0.75h-0.75zM326.44 86.36h0.75v0.75h-0.75zM322.35 91.01h0.75v0.75h-0.75zM331.85 91.72h0.75v0.75h-0.75zM330.14 95.97h0.75v0.75h-0.75zM327.36 86.49h0.75v0.75h-0.75zM331.69 88.24h0.75v0.75h-0.75zM329.83 95.69h0.75v0.75h-0.75zM331.8 92.11h0.75v0.75h-0.75zM322.74 89.68h0.75v0.75h-0.75zM332.24 91.63h0.75v0.75h-0.75zM331.3 94.1h0.75v0.75h-0.75zM324 94.33h0.75v0.75h-0.75zM329.68 95.37h0.75v0.75h-0.75zM324.71 98.19h0.75v0.75h-0.75zM331.85 94.21h0.75v0.75h-0.75zM323.33 91.76h0.75v0.75h-0.75zM326.53 84.27h0.75v0.75h-0.75zM330.55 86.23h0.75v0.75h-0.75zM330.18 86.83h0.75v0.75h-0.75zM331.5 92.14h0.75v0.75h-0.75zM331.38 89.02h0.75v0.75h-0.75zM331.79 90.38h0.75v0.75h-0.75zM331.09 94.5h0.75v0.75h-0.75zM333.75 88.7h0.75v0.75h-0.75zM326.83 98.57h0.75v0.75h-0.75zM331.31 93.49h0.75v0.75h-0.75zM326.67 96.42h0.75v0.75h-0.75zM333.92 90.41h0.75v0.75h-0.75zM332.17 88.62h0.75v0.75h-0.75zM327.06 86.48h0.75v0.75h-0.75zM326.14 86.88h0.75v0.75h-0.75zM331.82 94.68h0.75v0.75h-0.75zM331.12 94.56h0.75v0.75h-0.75zM331.52 91.07h0.75v0.75h-0.75zM329.73 96.93h0.75v0.75h-0.75zM330.55 86.95h0.75v0.75h-0.75zM332.24 92.03h0.75v0.75h-0.75zM324.9 86.86h0.75v0.75h-0.75zM324.74 87.72h0.75v0.75h-0.75zM331.42 89.57h0.75v0.75h-0.75zM329.76 95.86h0.75v0.75h-0.75zM331.33 89.32h0.75v0.75h-0.75zM322.9 91.07h0.75v0.75h-0.75zM330.75 88.13h0.75v0.75h-0.75zM332.52 89.11h0.75v0.75h-0.75zM323.21 89.64h0.75v0.75h-0.75zM324.67 86.27h0.75v0.75h-0.75zM324.5 96.57h0.75v0.75h-0.75zM329.66 87.31h0.75v0.75h-0.75zM321.37 89.46h0.75v0.75h-0.75zM322.95 86.68h0.75v0.75h-0.75zM332.43 92.93h0.75v0.75h-0.75zM328.87 95.59h0.75v0.75h-0.75zM331.26 98.72h0.75v0.75h-0.75zM324.38 85.31h0.75v0.75h-0.75zM322.66 92.22h0.75v0.75h-0.75zM326.02 85.77h0.75v0.75h-0.75zM326.38 86.26h0.75v0.75h-0.75zM323.16 92.72h0.75v0.75h-0.75zM330.78 93.96h0.75v0.75h-0.75zM332.25 88.8h0.75v0.75h-0.75zM324.93 87.11h0.75v0.75h-0.75zM323.46 89.6h0.75v0.75h-0.75zM323.04 92.01h0.75v0.75h-0.75zM327.8 97.23h0.75v0.75h-0.75zM332.47 93.24h0.75v0.75h-0.75zM323.67 93.43h0.75v0.75h-0.75zM330.18 86.43h0.75v0.75h-0.75zM323.55 92.74h0.75v0.75h-0.75zM329.43 87.1h0.75v0.75h-0.75zM325.67 96.37h0.75v0.75h-0.75zM323.81 90.59h0.75v0.75h-0.75zM330.64 85.98h0.75v0.75h-0.75zM332.35 92.81h0.75v0.75h-0.75zM330.41 94.83h0.75v0.75h-0.75zM332.27 93.25h0.75v0.75h-0.75zM323.58 89.45h0.75v0.75h-0.75zM325.01 96.47h0.75v0.75h-0.75zM328.41 86.4h0.75v0.75h-0.75zM323.32 92.48h0.75v0.75h-0.75zM323.77 97.68h0.75v0.75h-0.75zM331.8 92.02h0.75v0.75h-0.75zM323.59 90.31h0.75v0.75h-0.75zM323.86 87.99h0.75v0.75h-0.75zM326.63 86.05h0.75v0.75h-0.75zM327.99 86.08h0.75v0.75h-0.75zM327.48 85.62h0.75v0.75h-0.75zM326.08 86.58h0.75v0.75h-0.75zM331.63 87.8h0.75v0.75h-0.75zM322.27 87.53h0.75v0.75h-0.75zM328.53 85.66h0.75v0.75h-0.75zM324.01 88.55h0.75v0.75h-0.75zM330.89 88.26h0.75v0.75h-0.75zM330.2 95.27h0.75v0.75h-0.75zM332.6 93.06h0.75v0.75h-0.75zM324.25 94.31h0.75v0.75h-0.75zM325.7 86.03h0.75v0.75h-0.75zM332.55 92h0.75v0.75h-0.75zM330.71 95.49h0.75v0.75h-0.75zM325.13 85.55h0.75v0.75h-0.75zM332.4 89.9h0.75v0.75h-0.75zM331.46 90.85h0.75v0.75h-0.75zM324.78 97.58h0.75v0.75h-0.75zM331.76 94.81h0.75v0.75h-0.75zM323.65 88.04h0.75v0.75h-0.75zM324.23 93.94h0.75v0.75h-0.75zM326.66 86.31h0.75v0.75h-0.75zM332.07 91.84h0.75v0.75h-0.75zM329.35 86.22h0.75v0.75h-0.75zM332.77 91.68h0.75v0.75h-0.75zM332.06 93.12h0.75v0.75h-0.75zM330.39 88.07h0.75v0.75h-0.75zM323.21 94.89h0.75v0.75h-0.75zM326.59 96.67h0.75v0.75h-0.75zM328.05 97.85h0.75v0.75h-0.75zM322.81 91.03h0.75v0.75h-0.75zM324.05 89.17h0.75v0.75h-0.75zM323.62 89.31h0.75v0.75h-0.75zM331.89 86h0.75v0.75h-0.75zM331.86 94.7h0.75v0.75h-0.75zM323 94.76h0.75v0.75h-0.75zM325.71 96.15h0.75v0.75h-0.75zM331.46 86.72h0.75v0.75h-0.75zM324.08 94.75h0.75v0.75h-0.75zM323.62 89h0.75v0.75h-0.75zM325 95.94h0.75v0.75h-0.75zM323.76 92.19h0.75v0.75h-0.75zM324.64 86.88h0.75v0.75h-0.75zM326.38 96h0.75v0.75h-0.75zM326.87 85.96h0.75v0.75h-0.75zM322.72 94.76h0.75v0.75h-0.75zM327.44 96.12h0.75v0.75h-0.75zM323.28 93.12h0.75v0.75h-0.75zM327.53 83.84h0.75v0.75h-0.75zM330.04 83.28h0.75v0.75h-0.75zM332.54 91.29h0.75v0.75h-0.75zM331.61 92.91h0.75v0.75h-0.75zM324.14 88.89h0.75v0.75h-0.75zM323.72 92.24h0.75v0.75h-0.75zM325.55 86.86h0.75v0.75h-0.75zM331.97 90.3h0.75v0.75h-0.75zM326.68 96.75h0.75v0.75h-0.75zM331.7 87.74h0.75v0.75h-0.75zM324.86 87.92h0.75v0.75h-0.75zM322.62 93.38h0.75v0.75h-0.75zM322.86 91.93h0.75v0.75h-0.75zM329.57 85.85h0.75v0.75h-0.75zM324.13 86.2h0.75v0.75h-0.75zM325.75 85.97h0.75v0.75h-0.75zM330.01 87.48h0.75v0.75h-0.75zM324.84 96.06h0.75v0.75h-0.75zM324.61 96.58h0.75v0.75h-0.75zM332.05 91.16h0.75v0.75h-0.75zM324.59 95.3h0.75v0.75h-0.75zM325.71 86.34h0.75v0.75h-0.75zM327.02 96.89h0.75v0.75h-0.75zM332.14 89.52h0.75v0.75h-0.75zM322.48 89.14h0.75v0.75h-0.75zM329.96 85.53h0.75v0.75h-0.75zM330.53 95.49h0.75v0.75h-0.75zM324.95 86.88h0.75v0.75h-0.75zM322.36 90.11h0.75v0.75h-0.75zM328.26 85.51h0.75v0.75h-0.75zM325.63 84.43h0.75v0.75h-0.75zM331.23 88.24h0.75v0.75h-0.75zM321.51 91.17h0.75v0.75h-0.75zM329.96 86.06h0.75v0.75h-0.75zM329.24 85.55h0.75v0.75h-0.75zM327.58 96.8h0.75v0.75h-0.75zM323.9 87.63h0.75v0.75h-0.75zM332.07 95.97h0.75v0.75h-0.75zM323.62 92.17h0.75v0.75h-0.75zM332.56 95.75h0.75v0.75h-0.75zM331.77 92.75h0.75v0.75h-0.75zM323.94 89h0.75v0.75h-0.75zM324.84 87.2h0.75v0.75h-0.75zM326.31 96.48h0.75v0.75h-0.75zM328.94 98.07h0.75v0.75h-0.75zM326.99 95.82h0.75v0.75h-0.75zM329.12 85.06h0.75v0.75h-0.75zM330.48 86.48h0.75v0.75h-0.75zM323.66 93.61h0.75v0.75h-0.75zM324.56 96.14h0.75v0.75h-0.75zM329.45 96.57h0.75v0.75h-0.75zM324.78 86.26h0.75v0.75h-0.75zM328.08 85.52h0.75v0.75h-0.75zM325.65 85.9h0.75v0.75h-0.75zM331.57 91.72h0.75v0.75h-0.75zM323.09 87.17h0.75v0.75h-0.75zM331.92 95.64h0.75v0.75h-0.75zM330.75 87.27h0.75v0.75h-0.75zM324.46 94.84h0.75v0.75h-0.75zM323.43 94.45h0.75v0.75h-0.75zM323.74 92.18h0.75v0.75h-0.75zM331.55 87.53h0.75v0.75h-0.75zM330.59 95.87h0.75v0.75h-0.75zM327.86 96.65h0.75v0.75h-0.75zM326.97 86.5h0.75v0.75h-0.75zM331.08 95.94h0.75v0.75h-0.75zM331.18 93.63h0.75v0.75h-0.75zM331.69 88.96h0.75v0.75h-0.75zM329.82 86.12h0.75v0.75h-0.75zM331.57 93.15h0.75v0.75h-0.75zM324.2 86.68h0.75v0.75h-0.75zM331.31 88.7h0.75v0.75h-0.75zM331.39 89.75h0.75v0.75h-0.75zM331.99 90.72h0.75v0.75h-0.75zM322.68 91.47h0.75v0.75h-0.75zM328.46 86.72h0.75v0.75h-0.75zM328.6 96.2h0.75v0.75h-0.75zM328 95.95h0.75v0.75h-0.75zM323.69 94.24h0.75v0.75h-0.75zM330.36 84.46h0.75v0.75h-0.75zM330.31 96.3h0.75v0.75h-0.75zM327.2 83.26h0.75v0.75h-0.75zM331.75 90.81h0.75v0.75h-0.75zM323.65 94.6h0.75v0.75h-0.75zM327.63 86.24h0.75v0.75h-0.75zM322.65 89.71h0.75v0.75h-0.75zM331.1 94.71h0.75v0.75h-0.75zM329.45 85.74h0.75v0.75h-0.75zM330.59 87.7h0.75v0.75h-0.75zM331.86 90.56h0.75v0.75h-0.75zM324.85 86.71h0.75v0.75h-0.75zM323.63 93.79h0.75v0.75h-0.75zM326.82 84.76h0.75v0.75h-0.75zM324.17 94.63h0.75v0.75h-0.75zM324.98 97.39h0.75v0.75h-0.75zM322.1 90.16h0.75v0.75h-0.75zM332.24 93.69h0.75v0.75h-0.75zM332.17 92.65h0.75v0.75h-0.75zM332.04 90.07h0.75v0.75h-0.75zM324.5 96.82h0.75v0.75h-0.75zM323.27 92.48h0.75v0.75h-0.75zM327.56 84.34h0.75v0.75h-0.75zM322.76 91.42h0.75v0.75h-0.75zM332.44 88.68h0.75v0.75h-0.75zM322.96 89.03h0.75v0.75h-0.75zM331.12 89.17h0.75v0.75h-0.75zM327.48 96.05h0.75v0.75h-0.75zM324.43 88.57h0.75v0.75h-0.75zM330.09 86.46h0.75v0.75h-0.75zM325.64 97.51h0.75v0.75h-0.75zM329.59 96.15h0.75v0.75h-0.75zM324.02 86.33h0.75v0.75h-0.75zM326.91 85.42h0.75v0.75h-0.75zM330.69 96.07h0.75v0.75h-0.75zM327.95 96.16h0.75v0.75h-0.75zM333.76 89.87h0.75v0.75h-0.75zM325.54 86.76h0.75v0.75h-0.75zM323.79 87.16h0.75v0.75h-0.75zM327.86 86.2h0.75v0.75h-0.75zM332.31 89.94h0.75v0.75h-0.75zM331.94 88.59h0.75v0.75h-0.75zM328.99 95.54h0.75v0.75h-0.75zM330.03 94.97h0.75v0.75h-0.75zM332.26 91.86h0.75v0.75h-0.75zM326.64 86.66h0.75v0.75h-0.75zM329 98.35h0.75v0.75h-0.75zM324.56 95.29h0.75v0.75h-0.75zM324.58 95.09h0.75v0.75h-0.75zM323.09 94.58h0.75v0.75h-0.75zM329.47 86.23h0.75v0.75h-0.75zM332.26 93.13h0.75v0.75h-0.75zM322.78 89.48h0.75v0.75h-0.75zM328.49 96.81h0.75v0.75h-0.75zM330.11 94.84h0.75v0.75h-0.75zM328.81 86.73h0.75v0.75h-0.75zM323.79 92.59h0.75v0.75h-0.75zM326.01 85.71h0.75v0.75h-0.75zM324.99 94.65h0.75v0.75h-0.75zM327.94 85.89h0.75v0.75h-0.75zM330.58 87.51h0.75v0.75h-0.75zM330.71 96.9h0.75v0.75h-0.75zM332.88 92.46h0.75v0.75h-0.75zM329.98 86.05h0.75v0.75h-0.75zM330.91 93.88h0.75v0.75h-0.75zM326.39 97.76h0.75v0.75h-0.75zM331.6 88.56h0.75v0.75h-0.75zM329.67 86.88h0.75v0.75h-0.75zM332.77 92.01h0.75v0.75h-0.75zM328.53 95.78h0.75v0.75h-0.75zM329.61 95.82h0.75v0.75h-0.75zM323.38 94h0.75v0.75h-0.75zM326.14 97.26h0.75v0.75h-0.75zM323.95 89.47h0.75v0.75h-0.75zM326.83 85.56h0.75v0.75h-0.75zM324.13 88.7h0.75v0.75h-0.75zM323.81 88.66h0.75v0.75h-0.75zM323.4 89.83h0.75v0.75h-0.75zM323.6 94.09h0.75v0.75h-0.75zM323.04 87.54h0.75v0.75h-0.75zM324.59 88.25h0.75v0.75h-0.75zM331.21 86.71h0.75v0.75h-0.75zM329.92 85.9h0.75v0.75h-0.75zM330.58 96.92h0.75v0.75h-0.75zM328.94 85.52h0.75v0.75h-0.75zM331.32 89.58h0.75v0.75h-0.75zM322.5 94.29h0.75v0.75h-0.75zM328.18 97.95h0.75v0.75h-0.75zM329.29 96.48h0.75v0.75h-0.75zM331.38 96.44h0.75v0.75h-0.75zM328.29 96.18h0.75v0.75h-0.75zM330.71 96.28h0.75v0.75h-0.75zM324.01 87.95h0.75v0.75h-0.75zM332.23 92.87h0.75v0.75h-0.75zM323.09 95.36h0.75v0.75h-0.75zM326.65 96.31h0.75v0.75h-0.75zM326.63 96.58h0.75v0.75h-0.75zM326.22 96.29h0.75v0.75h-0.75zM326.14 86.46h0.75v0.75h-0.75zM323.84 88.09h0.75v0.75h-0.75zM325.28 87.04h0.75v0.75h-0.75zM329.33 86.66h0.75v0.75h-0.75zM328.57 98.04h0.75v0.75h-0.75zM326.05 96.03h0.75v0.75h-0.75zM331.95 87.64h0.75v0.75h-0.75zM331.78 90.29h0.75v0.75h-0.75zM323.93 97.2h0.75v0.75h-0.75zM326.97 96.16h0.75v0.75h-0.75zM328.8 97.47h0.75v0.75h-0.75zM323.25 88.58h0.75v0.75h-0.75zM323.57 92.85h0.75v0.75h-0.75zM330.41 87.79h0.75v0.75h-0.75zM329.13 85.85h0.75v0.75h-0.75zM332.98 91.26h0.75v0.75h-0.75zM332.14 89.74h0.75v0.75h-0.75zM332.04 88.94h0.75v0.75h-0.75zM331.4 88.23h0.75v0.75h-0.75zM326.62 96.35h0.75v0.75h-0.75zM327.24 96.42h0.75v0.75h-0.75zM325.9 95.98h0.75v0.75h-0.75zM324.92 94.72h0.75v0.75h-0.75zM322.64 89.18h0.75v0.75h-0.75zM332.88 92.24h0.75v0.75h-0.75zM323.47 89.92h0.75v0.75h-0.75z"/>
<path fill="#555" fill-opacity="0.45" d="M333.42 37.21h0.75v0.75h-0.75zM335.29 35.23h0.75v0.75h-0.75zM325.47 40.31h0.75v0.75h-0.75zM323.48 40.26h0.75v0.75h-0.75zM329.06 39.56h0.75v0.75h-0.75zM324.41 38.95h0.75v0.75h-0.75zM330.71 37.87h0.75v0.75h-0.75zM330.97 38.06h0.75v0.75h-0.75zM328.96 37.22h0.75v0.75h-0.75zM323.97 37.6h0.75v0.75h-0.75zM329.42 36.11h0.75v0.75h-0.75zM322.21 34.15h0.75v0.75h-0.75zM331.81 37.44h0.75v0.75h-0.75zM325.71 41.08h0.75v0.75h-0.75zM327.44 34.25h0.75v0.75h-0.75zM326.66 35.8h0.75v0.75h-0.75zM327.41 35.73h0.75v0.75h-0.75zM328.15 39.14h0.75v0.75h-0.75zM326.27 37.5h0.75v0.75h-0.75zM327.49 40.06h0.75v0.75h-0.75zM325.84 39.87h0.75v0.75h-0.75zM331.62 37.52h0.75v0.75h-0.75zM325.11 37.23h0.75v0.75h-0.75zM322.74 36.65h0.75v0.75h-0.75zM324.44 37.58h0.75v0.75h-0.75zM326.86 39.29h0.75v0.75h-0.75zM328.3 39.05h0.75v0.75h-0.75zM327.81 38.7h0.75v0.75h-0.75zM324.62 39.65h0.75v0.75h-0.75zM331.79 40.77h0.75v0.75h-0.75z"/>
<path d="M303.7 78.3 C306 78.3 309 79.5 311 81.5 C313.5 84 314.2 88 313.8 92 C313.5 96 313 100 311 100.3 C307 100.6 300 99 297 96.8 C294.5 95 292.4 91 292.6 88 C293 84.5 297 80.5 300 79.2 C301.3 78.6 302.5 78.3 303.7 78.3Z" fill="#fff" stroke="#000" stroke-width="0.9"/>
<path d="M303.5 80.6 C305.5 80.6 308 81.7 309.6 83.3 C311.6 85.4 312 88.5 311.8 91.8 C311.6 95 311 97.8 309.5 98 C306.5 98.3 301 97 298.6 95.2 C296.6 93.8 294.8 90.6 295 88.2 C295.3 85.4 298.3 82.2 300.6 81.2 C301.6 80.8 302.6 80.6 303.5 80.6Z" fill="#9a9a9a" stroke="#000" stroke-width="0.5"/>
<ellipse cx="303" cy="90.6" rx="5.4" ry="4.4" fill="#5a5a5a"/><ellipse cx="303" cy="90.8" rx="3.2" ry="2.7" fill="#151515"/>
<ellipse cx="327.6" cy="91.3" rx="3.3" ry="4.2" fill="#fff" stroke="#000" stroke-width="1.1"/>
<rect x="54.2" y="16.7" width="91.4" height="91.7" fill="none" stroke="#999" stroke-width="0.8"/>
<line x1="54.2" y1="46.3" x2="145.6" y2="46.3" stroke="#000" stroke-width="1.3"/>
<line x1="103.8" y1="16.7" x2="103.8" y2="108.4" stroke="#000" stroke-width="1.3"/>
<line x1="52.6" y1="25.4" x2="54.2" y2="25.4" stroke="#555" stroke-width="0.6"/>
<text x="51.6" y="27.8" font-size="6.8" text-anchor="end" fill="#000" stroke="#000" stroke-width="0.22">10<tspan dy="-2.9" font-size="4.9">5</tspan></text>
<line x1="52.6" y1="46" x2="54.2" y2="46" stroke="#555" stroke-width="0.6"/>
<text x="51.6" y="48.4" font-size="6.8" text-anchor="end" fill="#000" stroke="#000" stroke-width="0.22">10<tspan dy="-2.9" font-size="4.9">4</tspan></text>
<line x1="52.6" y1="71.6" x2="54.2" y2="71.6" stroke="#555" stroke-width="0.6"/>
<text x="51.6" y="74" font-size="6.8" text-anchor="end" fill="#000" stroke="#000" stroke-width="0.22">10<tspan dy="-2.9" font-size="4.9">3</tspan></text>
<line x1="52.6" y1="84.6" x2="54.2" y2="84.6" stroke="#555" stroke-width="0.6"/>
<text x="51.6" y="87" font-size="6.8" text-anchor="end" fill="#000" stroke="#000" stroke-width="0.22">0</text>
<rect x="166.2" y="16.7" width="91.4" height="91.7" fill="none" stroke="#999" stroke-width="0.8"/>
<line x1="166.2" y1="46.3" x2="257.6" y2="46.3" stroke="#000" stroke-width="1.3"/>
<line x1="199.5" y1="16.7" x2="199.5" y2="108.4" stroke="#000" stroke-width="1.3"/>
<line x1="164.6" y1="25.4" x2="166.2" y2="25.4" stroke="#555" stroke-width="0.6"/>
<text x="163.6" y="27.8" font-size="6.8" text-anchor="end" fill="#000" stroke="#000" stroke-width="0.22">10<tspan dy="-2.9" font-size="4.9">5</tspan></text>
<line x1="164.6" y1="46" x2="166.2" y2="46" stroke="#555" stroke-width="0.6"/>
<text x="163.6" y="48.4" font-size="6.8" text-anchor="end" fill="#000" stroke="#000" stroke-width="0.22">10<tspan dy="-2.9" font-size="4.9">4</tspan></text>
<line x1="164.6" y1="71.6" x2="166.2" y2="71.6" stroke="#555" stroke-width="0.6"/>
<text x="163.6" y="74" font-size="6.8" text-anchor="end" fill="#000" stroke="#000" stroke-width="0.22">10<tspan dy="-2.9" font-size="4.9">3</tspan></text>
<line x1="164.6" y1="84.6" x2="166.2" y2="84.6" stroke="#555" stroke-width="0.6"/>
<text x="163.6" y="87" font-size="6.8" text-anchor="end" fill="#000" stroke="#000" stroke-width="0.22">0</text>
<rect x="278.2" y="16.7" width="91.4" height="91.7" fill="none" stroke="#999" stroke-width="0.8"/>
<line x1="278.2" y1="46.3" x2="369.6" y2="46.3" stroke="#000" stroke-width="1.3"/>
<line x1="318.8" y1="16.7" x2="318.8" y2="108.4" stroke="#000" stroke-width="1.3"/>
<line x1="276.6" y1="25.4" x2="278.2" y2="25.4" stroke="#555" stroke-width="0.6"/>
<text x="275.6" y="27.8" font-size="6.8" text-anchor="end" fill="#000" stroke="#000" stroke-width="0.22">10<tspan dy="-2.9" font-size="4.9">5</tspan></text>
<line x1="276.6" y1="46" x2="278.2" y2="46" stroke="#555" stroke-width="0.6"/>
<text x="275.6" y="48.4" font-size="6.8" text-anchor="end" fill="#000" stroke="#000" stroke-width="0.22">10<tspan dy="-2.9" font-size="4.9">4</tspan></text>
<line x1="276.6" y1="71.6" x2="278.2" y2="71.6" stroke="#555" stroke-width="0.6"/>
<text x="275.6" y="74" font-size="6.8" text-anchor="end" fill="#000" stroke="#000" stroke-width="0.22">10<tspan dy="-2.9" font-size="4.9">3</tspan></text>
<line x1="276.6" y1="84.6" x2="278.2" y2="84.6" stroke="#555" stroke-width="0.6"/>
<text x="275.6" y="87" font-size="6.8" text-anchor="end" fill="#000" stroke="#000" stroke-width="0.22">0</text>
<path d="M54.2 80.69h-1.6M54.2 78.4h-1.6M54.2 76.77h-1.6M54.2 75.51h-1.6M54.2 74.48h-1.6M54.2 73.61h-1.6M54.2 72.86h-1.6M54.2 72.19h-1.6M54.2 63.89h-1.6M54.2 59.39h-1.6M54.2 56.19h-1.6M54.2 53.71h-1.6M54.2 51.68h-1.6M54.2 49.97h-1.6M54.2 48.48h-1.6M54.2 47.17h-1.6M54.2 39.8h-1.6M54.2 36.17h-1.6M54.2 33.6h-1.6M54.2 31.6h-1.6M54.2 29.97h-1.6M54.2 28.59h-1.6M54.2 27.4h-1.6M54.2 26.34h-1.6" stroke="#777" stroke-width="0.5" fill="none"/>
<path d="M166.2 80.69h-1.6M166.2 78.4h-1.6M166.2 76.77h-1.6M166.2 75.51h-1.6M166.2 74.48h-1.6M166.2 73.61h-1.6M166.2 72.86h-1.6M166.2 72.19h-1.6M166.2 63.89h-1.6M166.2 59.39h-1.6M166.2 56.19h-1.6M166.2 53.71h-1.6M166.2 51.68h-1.6M166.2 49.97h-1.6M166.2 48.48h-1.6M166.2 47.17h-1.6M166.2 39.8h-1.6M166.2 36.17h-1.6M166.2 33.6h-1.6M166.2 31.6h-1.6M166.2 29.97h-1.6M166.2 28.59h-1.6M166.2 27.4h-1.6M166.2 26.34h-1.6" stroke="#777" stroke-width="0.5" fill="none"/>
<path d="M278.2 80.69h-1.6M278.2 78.4h-1.6M278.2 76.77h-1.6M278.2 75.51h-1.6M278.2 74.48h-1.6M278.2 73.61h-1.6M278.2 72.86h-1.6M278.2 72.19h-1.6M278.2 63.89h-1.6M278.2 59.39h-1.6M278.2 56.19h-1.6M278.2 53.71h-1.6M278.2 51.68h-1.6M278.2 49.97h-1.6M278.2 48.48h-1.6M278.2 47.17h-1.6M278.2 39.8h-1.6M278.2 36.17h-1.6M278.2 33.6h-1.6M278.2 31.6h-1.6M278.2 29.97h-1.6M278.2 28.59h-1.6M278.2 27.4h-1.6M278.2 26.34h-1.6" stroke="#777" stroke-width="0.5" fill="none"/>
<path d="M102.44 108.4v1.6M106.03 108.4v1.6M108.58 108.4v1.6M110.56 108.4v1.6M112.17 108.4v1.6M113.54 108.4v1.6M114.72 108.4v1.6M115.77 108.4v1.6M122.81 108.4v1.6M126.39 108.4v1.6M128.92 108.4v1.6M130.89 108.4v1.6M132.5 108.4v1.6M133.86 108.4v1.6M135.03 108.4v1.6M136.07 108.4v1.6M96.3 108.4v2.4M116.7 108.4v2.4M137 108.4v2.4" stroke="#777" stroke-width="0.5" fill="none"/>
<path d="M207.61 108.4v1.6M212.11 108.4v1.6M215.31 108.4v1.6M217.79 108.4v1.6M219.82 108.4v1.6M221.53 108.4v1.6M223.02 108.4v1.6M224.33 108.4v1.6M233 108.4v1.6M237.38 108.4v1.6M240.49 108.4v1.6M242.9 108.4v1.6M244.88 108.4v1.6M246.54 108.4v1.6M247.99 108.4v1.6M249.26 108.4v1.6M199.9 108.4v2.4M225.5 108.4v2.4M250.4 108.4v2.4" stroke="#777" stroke-width="0.5" fill="none"/>
<path d="M311.21 108.4v1.6M314.79 108.4v1.6M317.32 108.4v1.6M319.29 108.4v1.6M320.9 108.4v1.6M322.26 108.4v1.6M323.43 108.4v1.6M324.47 108.4v1.6M331 108.4v1.6M334.27 108.4v1.6M336.6 108.4v1.6M338.4 108.4v1.6M339.87 108.4v1.6M341.12 108.4v1.6M342.2 108.4v1.6M343.15 108.4v1.6M349.48 108.4v1.6M352.68 108.4v1.6M354.96 108.4v1.6M356.72 108.4v1.6M358.16 108.4v1.6M359.38 108.4v1.6M360.44 108.4v1.6M361.37 108.4v1.6M305.1 108.4v2.4M325.4 108.4v2.4M344 108.4v2.4M362.2 108.4v2.4" stroke="#777" stroke-width="0.5" fill="none"/>
<text x="73.3" y="119.2" font-size="6.3" text-anchor="middle" fill="#000" stroke="#000" stroke-width="0.22">0</text>
<text x="96.3" y="119.2" font-size="6.3" text-anchor="middle" fill="#000" stroke="#000" stroke-width="0.22">10<tspan dy="-2.9" font-size="4.54">3</tspan></text>
<text x="116.7" y="119.2" font-size="6.3" text-anchor="middle" fill="#000" stroke="#000" stroke-width="0.22">10<tspan dy="-2.9" font-size="4.54">4</tspan></text>
<text x="137" y="119.2" font-size="6.3" text-anchor="middle" fill="#000" stroke="#000" stroke-width="0.22">10<tspan dy="-2.9" font-size="4.54">5</tspan></text>
<text x="184.6" y="119.2" font-size="6.3" text-anchor="middle" fill="#000" stroke="#000" stroke-width="0.22">0</text>
<text x="199.9" y="119.2" font-size="6.3" text-anchor="middle" fill="#000" stroke="#000" stroke-width="0.22">10<tspan dy="-2.9" font-size="4.54">3</tspan></text>
<text x="225.5" y="119.2" font-size="6.3" text-anchor="middle" fill="#000" stroke="#000" stroke-width="0.22">10<tspan dy="-2.9" font-size="4.54">4</tspan></text>
<text x="250.4" y="119.2" font-size="6.3" text-anchor="middle" fill="#000" stroke="#000" stroke-width="0.22">10<tspan dy="-2.9" font-size="4.54">5</tspan></text>
<text x="289.2" y="119.2" font-size="6.3" text-anchor="middle" fill="#000" stroke="#000" stroke-width="0.22">0</text>
<text x="305.1" y="119.2" font-size="6.3" text-anchor="middle" fill="#000" stroke="#000" stroke-width="0.22">10<tspan dy="-2.9" font-size="4.54">2</tspan></text>
<text x="325.4" y="119.2" font-size="6.3" text-anchor="middle" fill="#000" stroke="#000" stroke-width="0.22">10<tspan dy="-2.9" font-size="4.54">3</tspan></text>
<text x="344" y="119.2" font-size="6.3" text-anchor="middle" fill="#000" stroke="#000" stroke-width="0.22">10<tspan dy="-2.9" font-size="4.54">4</tspan></text>
<text x="362.2" y="119.2" font-size="6.3" text-anchor="middle" fill="#000" stroke="#000" stroke-width="0.22">10<tspan dy="-2.9" font-size="4.54">5</tspan></text>
<line x1="37.2" y1="124.5" x2="37.2" y2="27.5" stroke="#000" stroke-width="1.5"/>
<polygon points="37.2,19 34.1,28.5 40.3,28.5" fill="#000"/>
<line x1="37.2" y1="124.5" x2="140" y2="124.5" stroke="#000" stroke-width="1.3"/>
<line x1="37.2" y1="124.5" x2="139.5" y2="124.5" stroke="#000" stroke-width="1.5"/>
<polygon points="148,124.5 138.5,121.4 138.5,127.6" fill="#000"/>
<line x1="162" y1="124.5" x2="251" y2="124.5" stroke="#000" stroke-width="1.5"/>
<polygon points="259.5,124.5 250,121.4 250,127.6" fill="#000"/>
<line x1="275" y1="124.5" x2="366" y2="124.5" stroke="#000" stroke-width="1.5"/>
<polygon points="374.5,124.5 365,121.4 365,127.6" fill="#000"/>
<text x="54.6" y="137.2" font-size="11.8">KIR2DL1/S1</text>
<text x="173.2" y="137.2" font-size="11.8">KIR2DL2/3/S2</text>
<text x="298.4" y="137.2" font-size="11.8">KIR3DL1</text>
<text transform="translate(30.5,128.9) rotate(-90)" font-size="12.1">HLA-B7 CMV<tspan dy="-7.2" font-size="8.2">pp65-TM10</tspan></text>
<line x1="448.3" y1="20" x2="448.3" y2="104.5" stroke="#000" stroke-width="1.1"/>
<line x1="448.3" y1="104.5" x2="505" y2="104.5" stroke="#000" stroke-width="1.1"/>
<line x1="444.3" y1="104.5" x2="448.3" y2="104.5" stroke="#000" stroke-width="1.1"/>
<text x="443" y="109.1" font-size="13" text-anchor="end">0</text>
<line x1="444.3" y1="80.3" x2="448.3" y2="80.3" stroke="#000" stroke-width="1.1"/>
<text x="443" y="84.9" font-size="13" text-anchor="end">20</text>
<line x1="444.3" y1="56.1" x2="448.3" y2="56.1" stroke="#000" stroke-width="1.1"/>
<text x="443" y="60.7" font-size="13" text-anchor="end">40</text>
<line x1="444.3" y1="31.9" x2="448.3" y2="31.9" stroke="#000" stroke-width="1.1"/>
<text x="443" y="36.5" font-size="13" text-anchor="end">60</text>
<line x1="462.3" y1="97.48" x2="490.6" y2="38.19" stroke="#000" stroke-width="1.6"/>
<line x1="462.3" y1="98.69" x2="490.6" y2="66.75" stroke="#000" stroke-width="1.6"/>
<line x1="462.3" y1="99.9" x2="490.6" y2="88.16" stroke="#000" stroke-width="1.1"/>
<line x1="462.3" y1="102.44" x2="490.6" y2="93.25" stroke="#000" stroke-width="1.1"/>
<circle cx="462.3" cy="97.48" r="3.1" fill="#000"/>
<circle cx="462.3" cy="99.9" r="3.1" fill="#000"/>
<circle cx="462.3" cy="102.44" r="3.1" fill="#000"/>
<circle cx="462.3" cy="104.14" r="3.1" fill="#000"/>
<circle cx="462.3" cy="98.69" r="3.1" fill="#000"/>
<circle cx="462.3" cy="101.23" r="3.1" fill="#000"/>
<circle cx="490.6" cy="34.08" r="3.1" fill="#000"/>
<circle cx="490.6" cy="38.19" r="3.1" fill="#000"/>
<circle cx="490.6" cy="65.66" r="3.1" fill="#000"/>
<circle cx="490.6" cy="67.84" r="3.1" fill="#000"/>
<circle cx="490.6" cy="88.16" r="3.1" fill="#000"/>
<circle cx="490.6" cy="93.25" r="3.1" fill="#000"/>
<path d="M462.7 28V23.1H491.2V28" fill="none" stroke="#333" stroke-width="1.1"/>
<text x="477" y="25.2" font-size="11" text-anchor="middle" fill="#222">*</text>
<text x="409.2" y="129" font-size="12">CMV:</text>
<text x="450.3" y="129" font-size="12">pos</text>
<text x="482.4" y="129" font-size="12">neg</text>
<text x="465.3" y="142.6" font-size="12">n=6</text>
<text transform="translate(405.8,65.2) rotate(-90)" font-size="11.5" text-anchor="middle">pan-KIR+</text>
<text transform="translate(419.2,62.1) rotate(-90)" font-size="11.8" text-anchor="middle">CD8 T cells (%)</text>
<path fill="#333" fill-opacity="0.55" d="M139.67 236.87h0.75v0.75h-0.75zM140.98 239.51h0.75v0.75h-0.75zM137.46 228.15h0.75v0.75h-0.75zM137.28 231.5h0.75v0.75h-0.75zM134.87 225.19h0.75v0.75h-0.75zM142.76 229.85h0.75v0.75h-0.75zM142.21 226.5h0.75v0.75h-0.75zM155.53 238.46h0.75v0.75h-0.75zM145.94 225.79h0.75v0.75h-0.75zM140.81 237.88h0.75v0.75h-0.75zM125.89 215.71h0.75v0.75h-0.75zM142.89 231.36h0.75v0.75h-0.75zM141.68 229.29h0.75v0.75h-0.75zM149.23 235.37h0.75v0.75h-0.75zM140.29 226.19h0.75v0.75h-0.75zM153.45 238.55h0.75v0.75h-0.75zM135.12 230.86h0.75v0.75h-0.75zM142.85 228.19h0.75v0.75h-0.75zM150.39 233.18h0.75v0.75h-0.75zM146.94 225.59h0.75v0.75h-0.75zM140.69 228.62h0.75v0.75h-0.75zM146.62 234.19h0.75v0.75h-0.75zM130.71 230.61h0.75v0.75h-0.75zM133.56 227.25h0.75v0.75h-0.75zM146.34 237.25h0.75v0.75h-0.75zM138.02 241.65h0.75v0.75h-0.75zM135.6 234.06h0.75v0.75h-0.75zM133.03 227.66h0.75v0.75h-0.75zM137.07 236.12h0.75v0.75h-0.75zM146.75 235.29h0.75v0.75h-0.75zM144.54 219.43h0.75v0.75h-0.75zM136.82 231.57h0.75v0.75h-0.75zM148.23 230.7h0.75v0.75h-0.75zM141.17 235.33h0.75v0.75h-0.75zM148.09 233.84h0.75v0.75h-0.75zM138.46 230.08h0.75v0.75h-0.75zM130.12 227.59h0.75v0.75h-0.75zM146.25 230.71h0.75v0.75h-0.75zM145.96 225.01h0.75v0.75h-0.75zM133.82 227.44h0.75v0.75h-0.75zM133.01 231.42h0.75v0.75h-0.75zM142.53 227.89h0.75v0.75h-0.75zM133.61 239.1h0.75v0.75h-0.75zM133.52 226.13h0.75v0.75h-0.75zM144.25 231.3h0.75v0.75h-0.75zM129.4 228.3h0.75v0.75h-0.75zM141.68 231.6h0.75v0.75h-0.75zM149.96 236.49h0.75v0.75h-0.75zM135.07 224.32h0.75v0.75h-0.75zM139.16 222.89h0.75v0.75h-0.75zM143.62 226.31h0.75v0.75h-0.75zM138.3 219.38h0.75v0.75h-0.75zM145.77 227.47h0.75v0.75h-0.75zM142.75 236.04h0.75v0.75h-0.75zM149.88 220.13h0.75v0.75h-0.75zM137.76 231.94h0.75v0.75h-0.75zM146.41 224.13h0.75v0.75h-0.75zM141.2 219.63h0.75v0.75h-0.75zM134.86 216.67h0.75v0.75h-0.75zM138.62 228.61h0.75v0.75h-0.75zM147.26 236.25h0.75v0.75h-0.75zM141.43 233.22h0.75v0.75h-0.75zM151.64 223.9h0.75v0.75h-0.75zM135.14 227.98h0.75v0.75h-0.75zM137.47 239.77h0.75v0.75h-0.75zM150.58 229.47h0.75v0.75h-0.75zM155.29 236.67h0.75v0.75h-0.75zM128.67 216.13h0.75v0.75h-0.75zM143.42 236.32h0.75v0.75h-0.75zM145.09 234.27h0.75v0.75h-0.75zM143.71 214.19h0.75v0.75h-0.75zM146.99 218.57h0.75v0.75h-0.75zM137.26 236.18h0.75v0.75h-0.75zM139.98 222.53h0.75v0.75h-0.75zM140.13 218.25h0.75v0.75h-0.75zM146.23 233.66h0.75v0.75h-0.75zM136.83 227.75h0.75v0.75h-0.75zM145.07 231.77h0.75v0.75h-0.75zM154.67 226.58h0.75v0.75h-0.75zM146.33 220.31h0.75v0.75h-0.75zM135.82 236.5h0.75v0.75h-0.75zM133.48 226.89h0.75v0.75h-0.75zM139.04 231.13h0.75v0.75h-0.75zM146.92 232.5h0.75v0.75h-0.75zM145.53 237.88h0.75v0.75h-0.75zM145.76 231.8h0.75v0.75h-0.75zM136.85 218.29h0.75v0.75h-0.75zM141.17 218.77h0.75v0.75h-0.75zM149.03 231.6h0.75v0.75h-0.75zM133.83 218.43h0.75v0.75h-0.75zM148.64 232.88h0.75v0.75h-0.75zM140.12 229.26h0.75v0.75h-0.75zM151.57 235.35h0.75v0.75h-0.75zM133.43 227.7h0.75v0.75h-0.75zM134.38 231.97h0.75v0.75h-0.75zM142.49 231.52h0.75v0.75h-0.75zM129.9 222.43h0.75v0.75h-0.75zM140.63 239.04h0.75v0.75h-0.75zM134.58 220.19h0.75v0.75h-0.75zM128.41 214.84h0.75v0.75h-0.75zM151.6 220.7h0.75v0.75h-0.75zM139.31 238.74h0.75v0.75h-0.75zM138.03 227.33h0.75v0.75h-0.75zM138.49 229.81h0.75v0.75h-0.75zM134.99 225.82h0.75v0.75h-0.75zM142.84 233.9h0.75v0.75h-0.75zM134.15 221.18h0.75v0.75h-0.75zM149.43 237.64h0.75v0.75h-0.75zM153.55 232.41h0.75v0.75h-0.75zM130.43 231.04h0.75v0.75h-0.75zM133.25 226.49h0.75v0.75h-0.75zM133.36 231.22h0.75v0.75h-0.75zM145.7 233.25h0.75v0.75h-0.75zM131.55 219.29h0.75v0.75h-0.75zM143.33 220.78h0.75v0.75h-0.75zM137.83 233.51h0.75v0.75h-0.75zM131.03 225.23h0.75v0.75h-0.75zM141.97 219.46h0.75v0.75h-0.75zM142.61 233.97h0.75v0.75h-0.75zM149.03 223.23h0.75v0.75h-0.75zM141.1 234.94h0.75v0.75h-0.75zM146.69 225.43h0.75v0.75h-0.75zM139.89 224.06h0.75v0.75h-0.75zM130.16 222.5h0.75v0.75h-0.75zM131.68 227.72h0.75v0.75h-0.75zM150.47 235.04h0.75v0.75h-0.75zM125.97 234.06h0.75v0.75h-0.75zM137.67 232.95h0.75v0.75h-0.75zM139.54 220.46h0.75v0.75h-0.75zM146.34 237.57h0.75v0.75h-0.75zM145.44 229.42h0.75v0.75h-0.75zM138.79 222.14h0.75v0.75h-0.75zM137.51 225.3h0.75v0.75h-0.75zM139.7 232.89h0.75v0.75h-0.75zM134.23 221.82h0.75v0.75h-0.75zM142.56 235.05h0.75v0.75h-0.75zM145.7 230.94h0.75v0.75h-0.75zM134.98 227.2h0.75v0.75h-0.75zM147.13 227.82h0.75v0.75h-0.75zM142.96 235.25h0.75v0.75h-0.75zM143.91 220.58h0.75v0.75h-0.75zM139.73 234.55h0.75v0.75h-0.75zM144.85 230.89h0.75v0.75h-0.75zM138.37 236.52h0.75v0.75h-0.75zM148.09 227.7h0.75v0.75h-0.75zM150.46 230.96h0.75v0.75h-0.75zM146.28 237.81h0.75v0.75h-0.75zM135.33 224h0.75v0.75h-0.75zM141.83 231.49h0.75v0.75h-0.75zM150.53 232.95h0.75v0.75h-0.75zM138.34 226.04h0.75v0.75h-0.75zM145.42 217.52h0.75v0.75h-0.75zM144.41 236.6h0.75v0.75h-0.75zM134.77 227.73h0.75v0.75h-0.75zM145.34 238.77h0.75v0.75h-0.75zM138.49 234.36h0.75v0.75h-0.75zM138.43 230.35h0.75v0.75h-0.75zM139.53 233.42h0.75v0.75h-0.75zM149.48 230.48h0.75v0.75h-0.75zM132.56 225.94h0.75v0.75h-0.75zM136.64 235.93h0.75v0.75h-0.75zM141.88 229.38h0.75v0.75h-0.75zM132.78 232.88h0.75v0.75h-0.75zM143.07 235.21h0.75v0.75h-0.75zM143.71 233.43h0.75v0.75h-0.75zM130.37 218.8h0.75v0.75h-0.75z"/>
<ellipse cx="141.2" cy="227.9" rx="8.6" ry="6.1" transform="rotate(-57 141.2 227.9)" fill="#c2c2c2"/>
<ellipse cx="142" cy="226.5" rx="4" ry="2.6" transform="rotate(-57 142 226.5)" fill="#a0a0a0"/>
<path fill="#222" fill-opacity="0.75" d="M145.85 232.96h0.75v0.75h-0.75zM147.81 225.62h0.75v0.75h-0.75zM146.05 219.7h0.75v0.75h-0.75zM146.36 232.07h0.75v0.75h-0.75zM148.17 224.38h0.75v0.75h-0.75zM134.53 226.6h0.75v0.75h-0.75zM140.45 219.61h0.75v0.75h-0.75zM144.88 220.28h0.75v0.75h-0.75zM134.6 226.56h0.75v0.75h-0.75zM144.11 233.65h0.75v0.75h-0.75zM145.44 232.04h0.75v0.75h-0.75zM141.41 236.48h0.75v0.75h-0.75zM134.54 228.01h0.75v0.75h-0.75zM143.34 219.81h0.75v0.75h-0.75zM138.85 221.25h0.75v0.75h-0.75zM141.44 235.23h0.75v0.75h-0.75zM143.76 220.56h0.75v0.75h-0.75zM145.19 220.35h0.75v0.75h-0.75zM146.03 220.65h0.75v0.75h-0.75zM136.26 235.53h0.75v0.75h-0.75zM134.26 230.06h0.75v0.75h-0.75zM146.25 230.89h0.75v0.75h-0.75zM146.07 221.62h0.75v0.75h-0.75zM145.43 232.27h0.75v0.75h-0.75zM141.35 220.3h0.75v0.75h-0.75zM133.93 228.66h0.75v0.75h-0.75zM141.71 235.59h0.75v0.75h-0.75zM147.26 221.67h0.75v0.75h-0.75zM147.67 221.96h0.75v0.75h-0.75zM145.6 233.27h0.75v0.75h-0.75zM145.65 233.34h0.75v0.75h-0.75zM134.19 232.9h0.75v0.75h-0.75zM146.2 220.23h0.75v0.75h-0.75zM135.11 233.51h0.75v0.75h-0.75zM146.06 232.02h0.75v0.75h-0.75zM139.32 220.24h0.75v0.75h-0.75zM135 233.89h0.75v0.75h-0.75zM135.96 235.36h0.75v0.75h-0.75zM135.99 224.68h0.75v0.75h-0.75zM145.72 231.8h0.75v0.75h-0.75zM144.42 233.93h0.75v0.75h-0.75zM148.35 223.77h0.75v0.75h-0.75zM140.55 235.9h0.75v0.75h-0.75zM143.06 220.78h0.75v0.75h-0.75zM138.83 236.54h0.75v0.75h-0.75zM149.16 222.77h0.75v0.75h-0.75zM137.62 223.24h0.75v0.75h-0.75zM148.71 225.13h0.75v0.75h-0.75zM147.05 221.77h0.75v0.75h-0.75zM134.91 233.16h0.75v0.75h-0.75zM144.31 219.6h0.75v0.75h-0.75zM133.33 231.98h0.75v0.75h-0.75zM147.79 222.33h0.75v0.75h-0.75zM133.82 232.25h0.75v0.75h-0.75zM146.15 230.17h0.75v0.75h-0.75zM134.76 225.73h0.75v0.75h-0.75zM135.47 225.23h0.75v0.75h-0.75zM147.11 230.22h0.75v0.75h-0.75zM142.6 219.71h0.75v0.75h-0.75zM148.81 226.76h0.75v0.75h-0.75zM144.88 232.88h0.75v0.75h-0.75zM146.43 231.11h0.75v0.75h-0.75zM148.3 225.96h0.75v0.75h-0.75zM147.14 231.31h0.75v0.75h-0.75zM141.69 234.86h0.75v0.75h-0.75zM144.24 219.54h0.75v0.75h-0.75zM135.86 237.69h0.75v0.75h-0.75zM146.31 220.65h0.75v0.75h-0.75zM147.66 229.27h0.75v0.75h-0.75zM146.14 219.79h0.75v0.75h-0.75zM141.88 219.96h0.75v0.75h-0.75zM141.86 221.28h0.75v0.75h-0.75zM148.66 225.36h0.75v0.75h-0.75zM136.08 234.7h0.75v0.75h-0.75zM135.33 223.35h0.75v0.75h-0.75zM135.22 234.54h0.75v0.75h-0.75zM135.14 224.89h0.75v0.75h-0.75zM143.58 235.59h0.75v0.75h-0.75zM146.44 231.68h0.75v0.75h-0.75zM133.89 229.57h0.75v0.75h-0.75zM136.14 223.67h0.75v0.75h-0.75zM141.07 235.78h0.75v0.75h-0.75zM137.09 221.79h0.75v0.75h-0.75zM149.31 226.77h0.75v0.75h-0.75zM146.03 220.53h0.75v0.75h-0.75zM147.6 227.44h0.75v0.75h-0.75zM147.83 222.52h0.75v0.75h-0.75zM148.42 227.51h0.75v0.75h-0.75zM142.79 235.4h0.75v0.75h-0.75zM142.51 235.5h0.75v0.75h-0.75zM136.43 235.14h0.75v0.75h-0.75zM148.44 225.29h0.75v0.75h-0.75zM149.18 225.72h0.75v0.75h-0.75zM147.93 227.76h0.75v0.75h-0.75zM141.74 219.96h0.75v0.75h-0.75zM137.57 221.58h0.75v0.75h-0.75zM143.31 234.29h0.75v0.75h-0.75zM147.81 223.09h0.75v0.75h-0.75zM137.2 235.4h0.75v0.75h-0.75zM134.48 229.12h0.75v0.75h-0.75zM148.43 221.25h0.75v0.75h-0.75zM134.77 233.97h0.75v0.75h-0.75zM132.89 230.4h0.75v0.75h-0.75zM135.64 225.03h0.75v0.75h-0.75zM145.74 231.75h0.75v0.75h-0.75zM140.3 220.85h0.75v0.75h-0.75zM148.16 227.43h0.75v0.75h-0.75zM136.83 234.98h0.75v0.75h-0.75zM134.02 229.26h0.75v0.75h-0.75zM147.91 222.07h0.75v0.75h-0.75zM142.31 219.56h0.75v0.75h-0.75zM141.41 220.83h0.75v0.75h-0.75zM147.97 220.76h0.75v0.75h-0.75zM139.56 220.69h0.75v0.75h-0.75zM138.69 235.87h0.75v0.75h-0.75zM148.19 225.44h0.75v0.75h-0.75zM136.61 225.17h0.75v0.75h-0.75zM139.97 235.71h0.75v0.75h-0.75zM148.44 225.82h0.75v0.75h-0.75zM139.68 236.13h0.75v0.75h-0.75zM148.36 230.37h0.75v0.75h-0.75zM139.49 236.22h0.75v0.75h-0.75zM140.14 221.14h0.75v0.75h-0.75zM136.4 234.51h0.75v0.75h-0.75zM144.79 220.54h0.75v0.75h-0.75zM135.42 223.77h0.75v0.75h-0.75zM145.44 233.11h0.75v0.75h-0.75zM144.4 221.09h0.75v0.75h-0.75zM133.81 229.13h0.75v0.75h-0.75zM133.85 228.8h0.75v0.75h-0.75zM134.75 227.01h0.75v0.75h-0.75zM135.2 233.52h0.75v0.75h-0.75zM145.29 219.88h0.75v0.75h-0.75zM144.17 232.84h0.75v0.75h-0.75zM147.77 227.97h0.75v0.75h-0.75zM143.21 235.11h0.75v0.75h-0.75zM135.09 232.17h0.75v0.75h-0.75zM147.66 222.65h0.75v0.75h-0.75zM144.32 220.11h0.75v0.75h-0.75zM147.37 220.67h0.75v0.75h-0.75zM142.57 219.93h0.75v0.75h-0.75zM135.6 224.69h0.75v0.75h-0.75zM141.53 220.08h0.75v0.75h-0.75zM147.88 222.73h0.75v0.75h-0.75zM147.1 230.98h0.75v0.75h-0.75zM136.87 225.21h0.75v0.75h-0.75zM145.24 232.31h0.75v0.75h-0.75zM133.9 229.82h0.75v0.75h-0.75zM138.65 220.95h0.75v0.75h-0.75zM148.21 228.26h0.75v0.75h-0.75zM144.92 220.17h0.75v0.75h-0.75zM134.86 235.57h0.75v0.75h-0.75zM136.86 223.15h0.75v0.75h-0.75zM141.91 220.38h0.75v0.75h-0.75zM148.17 229.59h0.75v0.75h-0.75zM147.74 220.45h0.75v0.75h-0.75zM148.24 228.09h0.75v0.75h-0.75zM133.6 230.26h0.75v0.75h-0.75zM137.08 222.29h0.75v0.75h-0.75zM148 222.5h0.75v0.75h-0.75zM136.54 222.35h0.75v0.75h-0.75zM142.63 219.31h0.75v0.75h-0.75zM142.01 235.08h0.75v0.75h-0.75zM143.57 219.93h0.75v0.75h-0.75zM146.11 231.47h0.75v0.75h-0.75zM139.65 235.14h0.75v0.75h-0.75zM148.28 225.88h0.75v0.75h-0.75zM136.62 223.83h0.75v0.75h-0.75zM138.17 222.48h0.75v0.75h-0.75zM146.14 220.65h0.75v0.75h-0.75zM146.06 231.72h0.75v0.75h-0.75zM138.65 235.9h0.75v0.75h-0.75zM134.04 228.78h0.75v0.75h-0.75zM148.14 224.26h0.75v0.75h-0.75zM134.3 227.93h0.75v0.75h-0.75zM136.91 223.27h0.75v0.75h-0.75zM135.48 234.43h0.75v0.75h-0.75zM148.24 223.21h0.75v0.75h-0.75zM145.49 233.75h0.75v0.75h-0.75zM146.15 232.42h0.75v0.75h-0.75zM148.09 228.51h0.75v0.75h-0.75zM147.5 222.65h0.75v0.75h-0.75zM147 219.6h0.75v0.75h-0.75zM140.39 220.35h0.75v0.75h-0.75zM146.75 221.07h0.75v0.75h-0.75zM142.8 234.56h0.75v0.75h-0.75zM143.58 234.49h0.75v0.75h-0.75zM134.79 226.26h0.75v0.75h-0.75zM147.67 230.22h0.75v0.75h-0.75zM136.42 236.12h0.75v0.75h-0.75zM148.92 224.48h0.75v0.75h-0.75zM149.33 225.48h0.75v0.75h-0.75zM134.74 232.98h0.75v0.75h-0.75zM136.56 222.65h0.75v0.75h-0.75zM136.42 236.59h0.75v0.75h-0.75zM133.47 231.19h0.75v0.75h-0.75zM141.55 219.96h0.75v0.75h-0.75zM147.93 227.69h0.75v0.75h-0.75zM145.62 219.19h0.75v0.75h-0.75zM137.9 236.5h0.75v0.75h-0.75zM141.57 219.59h0.75v0.75h-0.75zM135.56 224.75h0.75v0.75h-0.75zM136.68 236.35h0.75v0.75h-0.75zM139.43 235.66h0.75v0.75h-0.75zM144.13 232.98h0.75v0.75h-0.75zM142.74 235.13h0.75v0.75h-0.75zM147.62 224.92h0.75v0.75h-0.75zM134.62 226.63h0.75v0.75h-0.75zM136.51 235.01h0.75v0.75h-0.75zM134.21 232.3h0.75v0.75h-0.75zM147.57 222.08h0.75v0.75h-0.75zM146.67 231.7h0.75v0.75h-0.75zM134.53 227.05h0.75v0.75h-0.75zM145.67 232.18h0.75v0.75h-0.75zM143.71 234.95h0.75v0.75h-0.75zM134.25 233.12h0.75v0.75h-0.75zM142.34 220.8h0.75v0.75h-0.75zM147.47 229.1h0.75v0.75h-0.75zM135.75 233.92h0.75v0.75h-0.75zM135.12 226.19h0.75v0.75h-0.75zM135.71 235.19h0.75v0.75h-0.75zM141.86 235.43h0.75v0.75h-0.75zM135.19 225.52h0.75v0.75h-0.75zM133.58 230.16h0.75v0.75h-0.75zM142.71 219.05h0.75v0.75h-0.75zM146.33 232h0.75v0.75h-0.75zM140.18 235.85h0.75v0.75h-0.75zM134.48 231.73h0.75v0.75h-0.75zM144.78 233.85h0.75v0.75h-0.75zM140.1 236.04h0.75v0.75h-0.75zM139.83 219.89h0.75v0.75h-0.75zM140.76 234.64h0.75v0.75h-0.75zM134.53 229.97h0.75v0.75h-0.75zM134.12 226.19h0.75v0.75h-0.75zM144.88 219.98h0.75v0.75h-0.75zM141.21 220.41h0.75v0.75h-0.75zM138.66 236.85h0.75v0.75h-0.75zM147.66 229.02h0.75v0.75h-0.75zM144.83 233.84h0.75v0.75h-0.75zM137.62 236.51h0.75v0.75h-0.75zM135.74 235.66h0.75v0.75h-0.75zM142.17 220.05h0.75v0.75h-0.75zM140.14 220.32h0.75v0.75h-0.75zM148.21 221.76h0.75v0.75h-0.75zM143.5 234.62h0.75v0.75h-0.75zM134.97 234.54h0.75v0.75h-0.75zM134.4 234.2h0.75v0.75h-0.75zM142.13 219.13h0.75v0.75h-0.75zM144.03 234.49h0.75v0.75h-0.75zM137.82 221.88h0.75v0.75h-0.75zM137.29 235.82h0.75v0.75h-0.75zM147.57 221.83h0.75v0.75h-0.75zM146.05 220.48h0.75v0.75h-0.75zM134.47 234.75h0.75v0.75h-0.75zM144.2 220.09h0.75v0.75h-0.75zM147.36 221.99h0.75v0.75h-0.75zM134.3 228.82h0.75v0.75h-0.75zM133.72 230.05h0.75v0.75h-0.75zM146.17 220.01h0.75v0.75h-0.75zM147.2 227.99h0.75v0.75h-0.75zM147.48 229.03h0.75v0.75h-0.75zM147.2 229.24h0.75v0.75h-0.75zM146.83 230.76h0.75v0.75h-0.75zM146.16 232.23h0.75v0.75h-0.75zM147.51 221.9h0.75v0.75h-0.75zM133.71 228.26h0.75v0.75h-0.75zM141.48 219.84h0.75v0.75h-0.75zM140.3 236.33h0.75v0.75h-0.75zM147.49 222.07h0.75v0.75h-0.75zM147.57 229.3h0.75v0.75h-0.75zM134.42 230.97h0.75v0.75h-0.75zM133.5 227.14h0.75v0.75h-0.75zM136.66 222.87h0.75v0.75h-0.75zM147.04 221.88h0.75v0.75h-0.75zM145.26 233.29h0.75v0.75h-0.75zM141.64 218.75h0.75v0.75h-0.75zM139.56 221.24h0.75v0.75h-0.75zM141.35 220.75h0.75v0.75h-0.75zM143.76 219.05h0.75v0.75h-0.75zM144.44 219.82h0.75v0.75h-0.75zM134.86 226.56h0.75v0.75h-0.75zM147.02 220.61h0.75v0.75h-0.75zM141.21 219.64h0.75v0.75h-0.75zM144.81 220.25h0.75v0.75h-0.75zM146.81 233.32h0.75v0.75h-0.75zM142.8 236.25h0.75v0.75h-0.75zM137.67 222h0.75v0.75h-0.75zM148.21 231.05h0.75v0.75h-0.75zM134 231.29h0.75v0.75h-0.75zM135.86 235.56h0.75v0.75h-0.75zM137.53 222.77h0.75v0.75h-0.75zM134.73 227.46h0.75v0.75h-0.75zM136.18 234.27h0.75v0.75h-0.75zM145.59 220.16h0.75v0.75h-0.75zM134.96 233.85h0.75v0.75h-0.75zM138.07 234.82h0.75v0.75h-0.75zM134.54 226.3h0.75v0.75h-0.75zM148.82 225.8h0.75v0.75h-0.75zM143.06 235.33h0.75v0.75h-0.75zM133.75 231.35h0.75v0.75h-0.75zM142.62 234.12h0.75v0.75h-0.75zM141.26 235.18h0.75v0.75h-0.75zM146.6 230.15h0.75v0.75h-0.75zM140.28 220.22h0.75v0.75h-0.75zM146.37 231.88h0.75v0.75h-0.75zM141.07 234.76h0.75v0.75h-0.75zM134.28 232.26h0.75v0.75h-0.75zM147.83 226.16h0.75v0.75h-0.75zM136.41 235.16h0.75v0.75h-0.75zM141.79 219.82h0.75v0.75h-0.75zM143.68 233.77h0.75v0.75h-0.75zM146.34 221.06h0.75v0.75h-0.75zM133.85 230.24h0.75v0.75h-0.75zM137.18 223.07h0.75v0.75h-0.75zM134.2 229.35h0.75v0.75h-0.75zM134.03 227.8h0.75v0.75h-0.75zM140.65 235.33h0.75v0.75h-0.75zM133.84 227.54h0.75v0.75h-0.75zM144.04 220.74h0.75v0.75h-0.75zM147.69 229.41h0.75v0.75h-0.75zM143.85 220.07h0.75v0.75h-0.75zM143.43 218.55h0.75v0.75h-0.75zM142.56 235.09h0.75v0.75h-0.75zM146.62 220.33h0.75v0.75h-0.75zM146.8 230.95h0.75v0.75h-0.75zM139.64 220.08h0.75v0.75h-0.75zM143.3 235.3h0.75v0.75h-0.75zM144.71 218.32h0.75v0.75h-0.75zM149 223.38h0.75v0.75h-0.75zM148.62 226.49h0.75v0.75h-0.75zM147.28 223.76h0.75v0.75h-0.75zM146.06 219.48h0.75v0.75h-0.75zM137.39 222.6h0.75v0.75h-0.75zM145.25 220.22h0.75v0.75h-0.75zM147.94 228.24h0.75v0.75h-0.75zM138.85 236.09h0.75v0.75h-0.75zM136.35 236.66h0.75v0.75h-0.75zM146.16 220.55h0.75v0.75h-0.75zM135 233.7h0.75v0.75h-0.75zM144.86 220.04h0.75v0.75h-0.75zM134.61 231.35h0.75v0.75h-0.75zM145.21 219.4h0.75v0.75h-0.75zM142.83 234.45h0.75v0.75h-0.75zM139.77 220.79h0.75v0.75h-0.75zM136.62 234.89h0.75v0.75h-0.75zM146.06 219.62h0.75v0.75h-0.75zM147.55 228.98h0.75v0.75h-0.75zM144.31 218.94h0.75v0.75h-0.75zM134.67 226.94h0.75v0.75h-0.75zM143.27 234.16h0.75v0.75h-0.75zM134.03 231.68h0.75v0.75h-0.75zM137.15 222.67h0.75v0.75h-0.75zM148.39 224.91h0.75v0.75h-0.75zM133.65 229.15h0.75v0.75h-0.75zM134.16 232.99h0.75v0.75h-0.75zM146.42 232.35h0.75v0.75h-0.75zM135.54 225.89h0.75v0.75h-0.75zM138.57 236.3h0.75v0.75h-0.75zM147.45 231.41h0.75v0.75h-0.75zM140.17 236.69h0.75v0.75h-0.75zM145.2 233.51h0.75v0.75h-0.75zM141.91 219.7h0.75v0.75h-0.75zM138.52 234.77h0.75v0.75h-0.75zM148.52 225.61h0.75v0.75h-0.75zM137.77 236.08h0.75v0.75h-0.75zM149.12 226.27h0.75v0.75h-0.75zM144.85 233.94h0.75v0.75h-0.75zM142.84 235.27h0.75v0.75h-0.75zM148.08 230.15h0.75v0.75h-0.75zM147.18 219.88h0.75v0.75h-0.75zM141.66 220.51h0.75v0.75h-0.75zM134.93 228.71h0.75v0.75h-0.75zM135.03 223.43h0.75v0.75h-0.75zM147.63 221.65h0.75v0.75h-0.75zM135.3 233.99h0.75v0.75h-0.75zM136.38 235.62h0.75v0.75h-0.75zM144.19 220.29h0.75v0.75h-0.75zM148.83 224.69h0.75v0.75h-0.75zM140.03 221.11h0.75v0.75h-0.75zM146.94 231.42h0.75v0.75h-0.75zM134.25 233.2h0.75v0.75h-0.75zM144.4 219.35h0.75v0.75h-0.75zM133.11 228.67h0.75v0.75h-0.75zM147.02 231.42h0.75v0.75h-0.75zM134.6 233.06h0.75v0.75h-0.75zM141.03 219.91h0.75v0.75h-0.75zM141.59 220.35h0.75v0.75h-0.75zM148.33 226.74h0.75v0.75h-0.75zM145.75 220.49h0.75v0.75h-0.75zM144.72 219.63h0.75v0.75h-0.75zM133.36 229.69h0.75v0.75h-0.75zM148.69 224.54h0.75v0.75h-0.75zM133.72 230.27h0.75v0.75h-0.75zM143.63 219.15h0.75v0.75h-0.75zM146.08 231.94h0.75v0.75h-0.75zM146.75 221.74h0.75v0.75h-0.75zM140.88 235.55h0.75v0.75h-0.75zM148.45 229.39h0.75v0.75h-0.75zM144.14 233.88h0.75v0.75h-0.75zM142.1 235.56h0.75v0.75h-0.75zM146.68 230.82h0.75v0.75h-0.75zM148.85 229.52h0.75v0.75h-0.75zM142.58 219.95h0.75v0.75h-0.75zM138.17 235.21h0.75v0.75h-0.75zM141.29 220.45h0.75v0.75h-0.75zM139.2 220.73h0.75v0.75h-0.75zM134.74 228.47h0.75v0.75h-0.75zM137.22 222.15h0.75v0.75h-0.75zM145.31 233.59h0.75v0.75h-0.75zM148.82 222.2h0.75v0.75h-0.75zM134.74 232.64h0.75v0.75h-0.75zM133.57 234.68h0.75v0.75h-0.75zM148.77 227.4h0.75v0.75h-0.75zM141.47 235.38h0.75v0.75h-0.75zM135.34 233.92h0.75v0.75h-0.75zM135.17 235.09h0.75v0.75h-0.75zM143 235.62h0.75v0.75h-0.75zM142.98 235.07h0.75v0.75h-0.75zM134.14 231.08h0.75v0.75h-0.75zM133.85 230.42h0.75v0.75h-0.75zM135.4 234.9h0.75v0.75h-0.75zM147 230.32h0.75v0.75h-0.75zM140.54 236.38h0.75v0.75h-0.75zM133.93 230.54h0.75v0.75h-0.75zM136.68 224.71h0.75v0.75h-0.75zM143.68 220.14h0.75v0.75h-0.75zM145.81 231.88h0.75v0.75h-0.75zM143.92 234.44h0.75v0.75h-0.75zM135.06 226.41h0.75v0.75h-0.75zM147.7 229.16h0.75v0.75h-0.75zM141.36 219.47h0.75v0.75h-0.75zM146.65 232.27h0.75v0.75h-0.75zM142.89 234.87h0.75v0.75h-0.75zM142.25 220.52h0.75v0.75h-0.75zM134.9 234.25h0.75v0.75h-0.75zM134.54 227.46h0.75v0.75h-0.75zM135.84 232.68h0.75v0.75h-0.75zM147.48 230.03h0.75v0.75h-0.75zM148.2 228.5h0.75v0.75h-0.75zM145.86 220.26h0.75v0.75h-0.75zM144.47 234.01h0.75v0.75h-0.75zM135.81 234.27h0.75v0.75h-0.75zM138.6 235.68h0.75v0.75h-0.75zM146.26 231.76h0.75v0.75h-0.75zM148.05 231.19h0.75v0.75h-0.75zM135.61 234.05h0.75v0.75h-0.75zM148.22 223.51h0.75v0.75h-0.75zM134.96 226.9h0.75v0.75h-0.75zM141.49 220.58h0.75v0.75h-0.75zM145.5 232.73h0.75v0.75h-0.75zM134.84 234.53h0.75v0.75h-0.75zM135.22 234.8h0.75v0.75h-0.75zM134.26 228.48h0.75v0.75h-0.75zM148.49 225.5h0.75v0.75h-0.75zM143.58 218.83h0.75v0.75h-0.75zM145.42 232.75h0.75v0.75h-0.75zM144.99 220.04h0.75v0.75h-0.75zM148.57 225.71h0.75v0.75h-0.75zM143.49 220.08h0.75v0.75h-0.75zM137.63 221.29h0.75v0.75h-0.75zM140.89 236.64h0.75v0.75h-0.75zM133.16 229.23h0.75v0.75h-0.75zM133.95 230.93h0.75v0.75h-0.75zM141.87 219.21h0.75v0.75h-0.75zM137.85 235.99h0.75v0.75h-0.75zM147.31 229.82h0.75v0.75h-0.75zM145.96 223.51h0.75v0.75h-0.75zM134.68 227.03h0.75v0.75h-0.75zM139.65 220.54h0.75v0.75h-0.75zM146.58 230.63h0.75v0.75h-0.75zM146.56 229.84h0.75v0.75h-0.75zM136.71 222.08h0.75v0.75h-0.75zM142.81 235.82h0.75v0.75h-0.75zM133.85 232.44h0.75v0.75h-0.75zM144.91 219.13h0.75v0.75h-0.75zM146.73 221.43h0.75v0.75h-0.75zM146.56 220.52h0.75v0.75h-0.75zM146.15 232.31h0.75v0.75h-0.75zM148.67 224.44h0.75v0.75h-0.75zM147.16 222.37h0.75v0.75h-0.75zM139.27 236.28h0.75v0.75h-0.75zM133.94 231.33h0.75v0.75h-0.75zM133.88 233.86h0.75v0.75h-0.75zM133.06 231.53h0.75v0.75h-0.75zM138.25 235.63h0.75v0.75h-0.75zM135.41 233.19h0.75v0.75h-0.75zM134 231.81h0.75v0.75h-0.75zM133.59 229.28h0.75v0.75h-0.75zM141.38 235.11h0.75v0.75h-0.75zM140.98 220.61h0.75v0.75h-0.75zM135.41 234.52h0.75v0.75h-0.75zM140.37 236.64h0.75v0.75h-0.75zM135.64 234.89h0.75v0.75h-0.75zM134.15 229.06h0.75v0.75h-0.75zM137.34 222.45h0.75v0.75h-0.75zM136.28 236.32h0.75v0.75h-0.75zM134.83 234.45h0.75v0.75h-0.75zM147.89 222.27h0.75v0.75h-0.75zM147.85 230.56h0.75v0.75h-0.75zM145.08 233.25h0.75v0.75h-0.75zM146.5 231.48h0.75v0.75h-0.75zM135.41 225.15h0.75v0.75h-0.75zM145.2 219.93h0.75v0.75h-0.75zM140.46 218.94h0.75v0.75h-0.75zM138.63 236.18h0.75v0.75h-0.75zM135.45 232.16h0.75v0.75h-0.75zM147.36 230.14h0.75v0.75h-0.75zM138.31 222.82h0.75v0.75h-0.75zM134.46 232.95h0.75v0.75h-0.75zM147.12 230.71h0.75v0.75h-0.75zM144.1 234.11h0.75v0.75h-0.75zM136.04 235.69h0.75v0.75h-0.75zM135.07 227.29h0.75v0.75h-0.75zM148.3 227.33h0.75v0.75h-0.75zM148.16 223.69h0.75v0.75h-0.75zM147.69 225.69h0.75v0.75h-0.75zM141.6 235.91h0.75v0.75h-0.75zM148.41 222.43h0.75v0.75h-0.75zM143.64 234.33h0.75v0.75h-0.75zM135.2 224.47h0.75v0.75h-0.75zM134.54 226.22h0.75v0.75h-0.75zM144.16 233.97h0.75v0.75h-0.75zM137.22 222.35h0.75v0.75h-0.75zM134.32 224.64h0.75v0.75h-0.75zM134.08 231.17h0.75v0.75h-0.75zM147.44 229.02h0.75v0.75h-0.75zM146.4 220.97h0.75v0.75h-0.75zM148.07 222.85h0.75v0.75h-0.75zM139.33 221.03h0.75v0.75h-0.75zM149.41 225.82h0.75v0.75h-0.75zM147.02 221.64h0.75v0.75h-0.75zM141.43 235.62h0.75v0.75h-0.75zM135.93 233.73h0.75v0.75h-0.75zM142.07 220.42h0.75v0.75h-0.75zM134.2 229.59h0.75v0.75h-0.75zM134.71 234.28h0.75v0.75h-0.75zM139.6 219.64h0.75v0.75h-0.75zM140.11 220.62h0.75v0.75h-0.75zM148.25 230.39h0.75v0.75h-0.75zM135 225.01h0.75v0.75h-0.75zM145.1 233.84h0.75v0.75h-0.75zM143.59 234.59h0.75v0.75h-0.75zM135.85 233.64h0.75v0.75h-0.75zM134.97 235.83h0.75v0.75h-0.75zM136.99 221.62h0.75v0.75h-0.75zM147.77 226.41h0.75v0.75h-0.75zM143.95 234.33h0.75v0.75h-0.75zM140.6 220.77h0.75v0.75h-0.75zM145.34 220.61h0.75v0.75h-0.75zM136.92 235.57h0.75v0.75h-0.75zM146.51 232.63h0.75v0.75h-0.75zM144.52 218.88h0.75v0.75h-0.75zM148.1 221.97h0.75v0.75h-0.75zM146.17 219.73h0.75v0.75h-0.75zM147.7 221.46h0.75v0.75h-0.75zM134.49 227.21h0.75v0.75h-0.75zM137.68 236.19h0.75v0.75h-0.75zM140.56 236.6h0.75v0.75h-0.75zM145.25 219.4h0.75v0.75h-0.75zM135.96 234.94h0.75v0.75h-0.75z"/>
<path fill="#444" fill-opacity="0.6" d="M132.47 227.11h0.75v0.75h-0.75zM149.32 224.7h0.75v0.75h-0.75zM140.22 216.44h0.75v0.75h-0.75zM151.09 228.86h0.75v0.75h-0.75zM144.1 218.07h0.75v0.75h-0.75zM133.39 225.6h0.75v0.75h-0.75zM137.3 237.14h0.75v0.75h-0.75zM130.83 226.32h0.75v0.75h-0.75zM136.85 236.65h0.75v0.75h-0.75zM149.65 223.73h0.75v0.75h-0.75zM149.59 220.2h0.75v0.75h-0.75zM149.97 226.52h0.75v0.75h-0.75zM143.97 216.27h0.75v0.75h-0.75zM132.27 237.79h0.75v0.75h-0.75zM149.7 231.28h0.75v0.75h-0.75zM137.49 221.25h0.75v0.75h-0.75zM133.33 225.24h0.75v0.75h-0.75zM140.72 214.39h0.75v0.75h-0.75zM141.15 219.14h0.75v0.75h-0.75zM150.29 227.16h0.75v0.75h-0.75zM149.7 223.06h0.75v0.75h-0.75zM148.37 230.22h0.75v0.75h-0.75zM131.31 226.72h0.75v0.75h-0.75zM149.46 226.28h0.75v0.75h-0.75zM147.06 232.51h0.75v0.75h-0.75zM134.22 223.89h0.75v0.75h-0.75zM145.42 236.37h0.75v0.75h-0.75zM150.86 226.08h0.75v0.75h-0.75zM135.56 221.97h0.75v0.75h-0.75zM134.54 223.63h0.75v0.75h-0.75zM143.91 217.63h0.75v0.75h-0.75zM136.64 237.19h0.75v0.75h-0.75zM135.68 221.63h0.75v0.75h-0.75zM131.57 233.7h0.75v0.75h-0.75zM140.1 217.5h0.75v0.75h-0.75zM132.69 230.3h0.75v0.75h-0.75zM138.95 237.99h0.75v0.75h-0.75zM146.19 234.82h0.75v0.75h-0.75zM147.96 219.11h0.75v0.75h-0.75zM148.17 232.67h0.75v0.75h-0.75zM148.42 229.9h0.75v0.75h-0.75zM150.74 219.27h0.75v0.75h-0.75zM145.27 215.88h0.75v0.75h-0.75zM132.03 235.13h0.75v0.75h-0.75zM144.71 216.93h0.75v0.75h-0.75zM150.06 229.45h0.75v0.75h-0.75zM136.6 219.64h0.75v0.75h-0.75zM149.6 222.14h0.75v0.75h-0.75zM133.8 235.89h0.75v0.75h-0.75zM136.18 238.98h0.75v0.75h-0.75zM140.48 218.83h0.75v0.75h-0.75zM132.14 228.07h0.75v0.75h-0.75zM141.53 236.69h0.75v0.75h-0.75zM131.49 229.88h0.75v0.75h-0.75zM134.46 223.49h0.75v0.75h-0.75zM148.09 234.05h0.75v0.75h-0.75zM133.1 230.49h0.75v0.75h-0.75zM135.03 222.5h0.75v0.75h-0.75zM151.44 224.06h0.75v0.75h-0.75zM144.94 217.51h0.75v0.75h-0.75zM133.42 232.77h0.75v0.75h-0.75zM139.99 219.32h0.75v0.75h-0.75zM133.61 235.18h0.75v0.75h-0.75zM149.33 229.21h0.75v0.75h-0.75zM151.27 221.41h0.75v0.75h-0.75zM149.75 227.07h0.75v0.75h-0.75zM140.55 219.31h0.75v0.75h-0.75zM135.79 222.95h0.75v0.75h-0.75zM144.21 218.29h0.75v0.75h-0.75zM133.48 237.25h0.75v0.75h-0.75zM149.59 221.07h0.75v0.75h-0.75zM150.07 222.91h0.75v0.75h-0.75zM138.71 237.59h0.75v0.75h-0.75zM150.12 226.77h0.75v0.75h-0.75zM132.28 231.06h0.75v0.75h-0.75zM148.9 232.72h0.75v0.75h-0.75zM150.7 223.46h0.75v0.75h-0.75zM146.36 216.37h0.75v0.75h-0.75zM149.52 225.76h0.75v0.75h-0.75zM147.57 219.84h0.75v0.75h-0.75zM147.22 219.74h0.75v0.75h-0.75zM140.01 237.43h0.75v0.75h-0.75zM137.04 219.48h0.75v0.75h-0.75zM149.73 225.76h0.75v0.75h-0.75zM149.82 229.08h0.75v0.75h-0.75zM136.66 240.48h0.75v0.75h-0.75zM132.75 236.01h0.75v0.75h-0.75zM132.21 227.61h0.75v0.75h-0.75zM137.27 219.22h0.75v0.75h-0.75zM132.37 236.81h0.75v0.75h-0.75zM148.85 231.94h0.75v0.75h-0.75zM141.57 241.6h0.75v0.75h-0.75zM137.54 237.55h0.75v0.75h-0.75zM147.63 219.36h0.75v0.75h-0.75zM131.6 235.9h0.75v0.75h-0.75zM132.94 232.98h0.75v0.75h-0.75zM137.26 221.1h0.75v0.75h-0.75zM139.4 240.05h0.75v0.75h-0.75zM133.18 232.85h0.75v0.75h-0.75zM149.39 226.22h0.75v0.75h-0.75zM132.2 234.46h0.75v0.75h-0.75zM133.8 234.69h0.75v0.75h-0.75zM132.05 233.96h0.75v0.75h-0.75zM143.18 215.9h0.75v0.75h-0.75zM148.88 221.32h0.75v0.75h-0.75zM149.17 229.08h0.75v0.75h-0.75zM150.4 226.57h0.75v0.75h-0.75zM145.78 235.46h0.75v0.75h-0.75zM134.5 220.06h0.75v0.75h-0.75zM132.14 231.8h0.75v0.75h-0.75zM138.48 219.54h0.75v0.75h-0.75zM148.16 230.5h0.75v0.75h-0.75zM150.57 227.99h0.75v0.75h-0.75zM136.81 237.83h0.75v0.75h-0.75zM131.91 233.72h0.75v0.75h-0.75zM146.18 217.73h0.75v0.75h-0.75zM131.38 231.73h0.75v0.75h-0.75zM139.35 238.52h0.75v0.75h-0.75zM148.53 230.77h0.75v0.75h-0.75zM142.88 236.5h0.75v0.75h-0.75zM143.29 215.2h0.75v0.75h-0.75zM149.6 224.96h0.75v0.75h-0.75zM139.62 218.23h0.75v0.75h-0.75zM136.56 238.5h0.75v0.75h-0.75zM146.14 236.31h0.75v0.75h-0.75zM135.94 219.51h0.75v0.75h-0.75zM138.65 219.96h0.75v0.75h-0.75zM131.91 229.91h0.75v0.75h-0.75zM138.91 237.74h0.75v0.75h-0.75zM149.82 231.2h0.75v0.75h-0.75zM150.15 223.82h0.75v0.75h-0.75zM148.4 220.19h0.75v0.75h-0.75zM132.68 227.05h0.75v0.75h-0.75zM133.02 231.25h0.75v0.75h-0.75zM138.64 219.54h0.75v0.75h-0.75zM131.25 232.97h0.75v0.75h-0.75zM141.3 236.82h0.75v0.75h-0.75zM140.55 218.31h0.75v0.75h-0.75zM144.79 218.89h0.75v0.75h-0.75zM138.33 220.56h0.75v0.75h-0.75zM135.15 236.27h0.75v0.75h-0.75zM140.65 238.73h0.75v0.75h-0.75zM132.28 236.95h0.75v0.75h-0.75zM136.86 239.14h0.75v0.75h-0.75zM140.26 238h0.75v0.75h-0.75zM148.61 220.97h0.75v0.75h-0.75zM146.55 235.96h0.75v0.75h-0.75zM149.33 229.07h0.75v0.75h-0.75zM137.23 238.98h0.75v0.75h-0.75zM150.41 226.46h0.75v0.75h-0.75zM131.77 230.07h0.75v0.75h-0.75zM139.1 218.92h0.75v0.75h-0.75zM149.79 221.36h0.75v0.75h-0.75zM148.12 231.76h0.75v0.75h-0.75zM136.14 236.67h0.75v0.75h-0.75zM149.41 221.22h0.75v0.75h-0.75zM144.62 217.61h0.75v0.75h-0.75zM148.69 220.62h0.75v0.75h-0.75zM141.68 216.34h0.75v0.75h-0.75zM135.81 222.3h0.75v0.75h-0.75zM141.46 236.62h0.75v0.75h-0.75zM129.64 226.54h0.75v0.75h-0.75zM135.08 220.57h0.75v0.75h-0.75zM133.38 233.06h0.75v0.75h-0.75zM148.1 230.52h0.75v0.75h-0.75zM143.15 216.71h0.75v0.75h-0.75zM132.39 230.56h0.75v0.75h-0.75zM133.55 233.16h0.75v0.75h-0.75zM133.05 226.92h0.75v0.75h-0.75zM150.85 227.18h0.75v0.75h-0.75z"/>
<ellipse cx="141.2" cy="227.9" rx="9.1" ry="6.6" transform="rotate(-57 141.2 227.9)" fill="none" stroke="#333" stroke-width="1.3" stroke-opacity="0.75"/>
<path fill="#333" fill-opacity="0.55" d="M297.73 236.08h0.75v0.75h-0.75zM296.45 228.47h0.75v0.75h-0.75zM272.72 238.64h0.75v0.75h-0.75zM283.08 229.22h0.75v0.75h-0.75zM280.65 223.01h0.75v0.75h-0.75zM288.42 220.58h0.75v0.75h-0.75zM272.53 230.92h0.75v0.75h-0.75zM280.51 223.54h0.75v0.75h-0.75zM287.45 235.53h0.75v0.75h-0.75zM281.23 227.28h0.75v0.75h-0.75zM287.97 232.97h0.75v0.75h-0.75zM291.74 231.59h0.75v0.75h-0.75zM278.2 230.82h0.75v0.75h-0.75zM283.55 219h0.75v0.75h-0.75zM293.34 231.03h0.75v0.75h-0.75zM294.41 227.65h0.75v0.75h-0.75zM289.29 227.62h0.75v0.75h-0.75zM284.79 232.81h0.75v0.75h-0.75zM283.96 231.23h0.75v0.75h-0.75zM283.22 234.48h0.75v0.75h-0.75zM288.7 219.23h0.75v0.75h-0.75zM296.72 230.32h0.75v0.75h-0.75zM279.43 224.7h0.75v0.75h-0.75zM299.34 228.47h0.75v0.75h-0.75zM287.56 231.15h0.75v0.75h-0.75zM278.74 237.25h0.75v0.75h-0.75zM300.25 223.88h0.75v0.75h-0.75zM292.54 219.38h0.75v0.75h-0.75zM280.82 228.32h0.75v0.75h-0.75zM283.92 231.01h0.75v0.75h-0.75zM286.71 229.97h0.75v0.75h-0.75zM282.42 229.6h0.75v0.75h-0.75zM279.08 238.38h0.75v0.75h-0.75zM283.99 234.55h0.75v0.75h-0.75zM284.34 227.21h0.75v0.75h-0.75zM282.07 221.19h0.75v0.75h-0.75zM300.03 230.18h0.75v0.75h-0.75zM284.54 225.56h0.75v0.75h-0.75zM293.69 226.26h0.75v0.75h-0.75zM279.85 225.15h0.75v0.75h-0.75zM295.77 229.64h0.75v0.75h-0.75zM282.34 224.61h0.75v0.75h-0.75zM293.72 229.53h0.75v0.75h-0.75zM280.88 232.72h0.75v0.75h-0.75zM290.48 222.76h0.75v0.75h-0.75zM292.65 233.75h0.75v0.75h-0.75zM281.59 221h0.75v0.75h-0.75zM292.21 226.2h0.75v0.75h-0.75zM281.9 226.49h0.75v0.75h-0.75zM281.37 232.41h0.75v0.75h-0.75zM274.85 230.81h0.75v0.75h-0.75zM292.71 233.56h0.75v0.75h-0.75zM289.25 229.41h0.75v0.75h-0.75zM281.98 227.38h0.75v0.75h-0.75zM276.58 236.81h0.75v0.75h-0.75zM282.6 222.7h0.75v0.75h-0.75zM290.14 235.94h0.75v0.75h-0.75zM285.74 226.34h0.75v0.75h-0.75zM274.72 231.4h0.75v0.75h-0.75zM281.62 224.53h0.75v0.75h-0.75zM288.3 221.22h0.75v0.75h-0.75zM289.37 215.24h0.75v0.75h-0.75zM278.66 220.51h0.75v0.75h-0.75zM281.62 232.2h0.75v0.75h-0.75zM273.27 235.15h0.75v0.75h-0.75zM278.18 225.48h0.75v0.75h-0.75zM291.4 224.19h0.75v0.75h-0.75zM295.04 226.94h0.75v0.75h-0.75zM282.81 222.97h0.75v0.75h-0.75zM292.63 227.67h0.75v0.75h-0.75zM279.75 223.04h0.75v0.75h-0.75zM278.57 227.51h0.75v0.75h-0.75zM277.91 232.18h0.75v0.75h-0.75zM283.29 224.77h0.75v0.75h-0.75zM287.21 235.48h0.75v0.75h-0.75zM267.19 229.89h0.75v0.75h-0.75zM292.08 228.73h0.75v0.75h-0.75zM290.07 219.95h0.75v0.75h-0.75zM277.69 233.29h0.75v0.75h-0.75zM282.86 228.33h0.75v0.75h-0.75zM288.53 229.93h0.75v0.75h-0.75zM287.13 225.42h0.75v0.75h-0.75zM281.24 234.85h0.75v0.75h-0.75zM279.73 220.48h0.75v0.75h-0.75zM280.84 232.68h0.75v0.75h-0.75zM297.68 228.79h0.75v0.75h-0.75zM278.74 231.19h0.75v0.75h-0.75zM285.98 234.18h0.75v0.75h-0.75zM287.68 231.95h0.75v0.75h-0.75zM287.6 230.19h0.75v0.75h-0.75zM276.47 227.16h0.75v0.75h-0.75zM296.17 234.96h0.75v0.75h-0.75zM291.19 230.07h0.75v0.75h-0.75zM282.76 229.83h0.75v0.75h-0.75zM281.05 233.69h0.75v0.75h-0.75zM281.19 224.05h0.75v0.75h-0.75zM271.02 236.12h0.75v0.75h-0.75zM277.74 223.53h0.75v0.75h-0.75zM286.81 237.38h0.75v0.75h-0.75zM288.87 226.28h0.75v0.75h-0.75zM288.08 223.71h0.75v0.75h-0.75zM281.69 228.17h0.75v0.75h-0.75zM283.77 232.08h0.75v0.75h-0.75zM287.88 237.83h0.75v0.75h-0.75zM290.18 226.54h0.75v0.75h-0.75zM285.68 223.59h0.75v0.75h-0.75zM278.91 226.24h0.75v0.75h-0.75zM291.6 224.42h0.75v0.75h-0.75zM271.51 222.74h0.75v0.75h-0.75zM274.32 227.05h0.75v0.75h-0.75zM281.34 221.94h0.75v0.75h-0.75zM277.52 225.86h0.75v0.75h-0.75zM286.77 231.2h0.75v0.75h-0.75zM294.02 226.68h0.75v0.75h-0.75zM288.62 228.41h0.75v0.75h-0.75zM275.21 224.71h0.75v0.75h-0.75zM300.75 227.18h0.75v0.75h-0.75zM296.56 232.31h0.75v0.75h-0.75zM296.67 227.03h0.75v0.75h-0.75zM291 226.44h0.75v0.75h-0.75zM275.13 221.94h0.75v0.75h-0.75zM287.17 219.64h0.75v0.75h-0.75zM286.61 223.49h0.75v0.75h-0.75zM286.52 220.88h0.75v0.75h-0.75zM290.37 226.82h0.75v0.75h-0.75zM271.9 220.54h0.75v0.75h-0.75zM284.27 219.51h0.75v0.75h-0.75zM286.33 230.54h0.75v0.75h-0.75zM278.68 235.27h0.75v0.75h-0.75zM295 229.65h0.75v0.75h-0.75zM287.32 230.47h0.75v0.75h-0.75zM281.76 234.83h0.75v0.75h-0.75zM279.64 214.95h0.75v0.75h-0.75zM283.96 230.31h0.75v0.75h-0.75zM290.19 222.27h0.75v0.75h-0.75zM294.58 223.75h0.75v0.75h-0.75zM288.69 231.8h0.75v0.75h-0.75zM285.18 233.9h0.75v0.75h-0.75zM279.98 238.66h0.75v0.75h-0.75zM287.61 225.83h0.75v0.75h-0.75zM303.98 227.98h0.75v0.75h-0.75zM271.26 235.39h0.75v0.75h-0.75zM295.79 225.02h0.75v0.75h-0.75zM276.15 233.88h0.75v0.75h-0.75zM284.27 223.02h0.75v0.75h-0.75zM280.09 228.37h0.75v0.75h-0.75zM291.42 236.15h0.75v0.75h-0.75zM279.02 235.99h0.75v0.75h-0.75zM272.12 231.72h0.75v0.75h-0.75zM282.75 230.29h0.75v0.75h-0.75zM280.44 224.32h0.75v0.75h-0.75zM286.02 233.89h0.75v0.75h-0.75zM266.68 228.28h0.75v0.75h-0.75zM280.7 222.44h0.75v0.75h-0.75zM273.41 230.7h0.75v0.75h-0.75zM288.12 231.37h0.75v0.75h-0.75zM268.44 220.09h0.75v0.75h-0.75zM279.08 225.76h0.75v0.75h-0.75zM297.47 226.01h0.75v0.75h-0.75zM284.81 233.19h0.75v0.75h-0.75zM296.76 229.95h0.75v0.75h-0.75zM286.48 238.09h0.75v0.75h-0.75zM280.71 218.68h0.75v0.75h-0.75zM278.02 226.38h0.75v0.75h-0.75zM293.97 229.66h0.75v0.75h-0.75zM293.15 228.55h0.75v0.75h-0.75zM284.16 225.01h0.75v0.75h-0.75zM274.29 230.65h0.75v0.75h-0.75zM286.63 231h0.75v0.75h-0.75zM279.7 225.83h0.75v0.75h-0.75zM286.76 231.18h0.75v0.75h-0.75zM299.25 223.47h0.75v0.75h-0.75zM291.48 232.62h0.75v0.75h-0.75zM281.8 228.73h0.75v0.75h-0.75zM283.4 235.97h0.75v0.75h-0.75zM303.52 229.7h0.75v0.75h-0.75zM281.86 232.96h0.75v0.75h-0.75zM287.66 227.05h0.75v0.75h-0.75zM289.67 232.55h0.75v0.75h-0.75zM280.79 232.45h0.75v0.75h-0.75zM266.5 221.32h0.75v0.75h-0.75zM281.44 228.84h0.75v0.75h-0.75zM272.57 235.71h0.75v0.75h-0.75zM280.91 228.8h0.75v0.75h-0.75zM283.51 231.94h0.75v0.75h-0.75zM279.36 231.88h0.75v0.75h-0.75zM277.42 220.3h0.75v0.75h-0.75zM287.81 228.85h0.75v0.75h-0.75zM290.66 217.91h0.75v0.75h-0.75zM284.69 224.66h0.75v0.75h-0.75zM282.39 225.96h0.75v0.75h-0.75zM280.94 224.53h0.75v0.75h-0.75zM291.74 219.05h0.75v0.75h-0.75zM270.91 229.81h0.75v0.75h-0.75zM299.41 224.03h0.75v0.75h-0.75zM276.85 221.92h0.75v0.75h-0.75zM275.95 234.53h0.75v0.75h-0.75zM289.11 232.71h0.75v0.75h-0.75zM286.52 229.23h0.75v0.75h-0.75zM279.33 222.96h0.75v0.75h-0.75zM288.65 240.94h0.75v0.75h-0.75zM280.99 234.63h0.75v0.75h-0.75zM278.4 228.21h0.75v0.75h-0.75zM296.97 227.63h0.75v0.75h-0.75zM288.75 225.08h0.75v0.75h-0.75zM298.38 221.59h0.75v0.75h-0.75zM288.18 226.77h0.75v0.75h-0.75zM285.36 229.9h0.75v0.75h-0.75zM294 232.58h0.75v0.75h-0.75zM291.99 229.93h0.75v0.75h-0.75zM275.58 235.02h0.75v0.75h-0.75zM295.74 230.53h0.75v0.75h-0.75zM289.98 226.8h0.75v0.75h-0.75zM272.69 233.15h0.75v0.75h-0.75zM278.22 238.01h0.75v0.75h-0.75zM289.18 227.91h0.75v0.75h-0.75zM279.08 228.57h0.75v0.75h-0.75zM276.02 226.05h0.75v0.75h-0.75zM296.2 226.47h0.75v0.75h-0.75zM298.07 227.51h0.75v0.75h-0.75zM287.06 223.19h0.75v0.75h-0.75zM281.5 225.68h0.75v0.75h-0.75zM273.08 238.12h0.75v0.75h-0.75zM288.4 227.57h0.75v0.75h-0.75zM275.35 228.19h0.75v0.75h-0.75zM275.68 222.94h0.75v0.75h-0.75zM282.37 239.3h0.75v0.75h-0.75zM270.35 230.94h0.75v0.75h-0.75zM279.59 212.83h0.75v0.75h-0.75zM272.88 227.31h0.75v0.75h-0.75zM284.29 224.07h0.75v0.75h-0.75zM297.57 230.81h0.75v0.75h-0.75zM278.92 219.4h0.75v0.75h-0.75zM285.16 224.5h0.75v0.75h-0.75zM291.74 222.54h0.75v0.75h-0.75zM293.08 225.6h0.75v0.75h-0.75zM285.32 226.59h0.75v0.75h-0.75zM288.64 234.02h0.75v0.75h-0.75zM279.59 223.28h0.75v0.75h-0.75zM298.49 233.01h0.75v0.75h-0.75zM298.6 233.02h0.75v0.75h-0.75zM284.84 236.56h0.75v0.75h-0.75zM278.6 225.77h0.75v0.75h-0.75zM280.69 231.6h0.75v0.75h-0.75zM277.18 227.08h0.75v0.75h-0.75zM277.24 226.78h0.75v0.75h-0.75zM292.49 233.83h0.75v0.75h-0.75zM282.08 241.37h0.75v0.75h-0.75zM278.34 230.41h0.75v0.75h-0.75zM280.08 216.4h0.75v0.75h-0.75zM274.58 234.51h0.75v0.75h-0.75zM282.82 229.43h0.75v0.75h-0.75zM293.5 228.17h0.75v0.75h-0.75zM278.84 224.81h0.75v0.75h-0.75zM276.47 230.9h0.75v0.75h-0.75zM280.11 230.7h0.75v0.75h-0.75zM272.11 225.75h0.75v0.75h-0.75zM299.77 229.92h0.75v0.75h-0.75zM282.96 234.23h0.75v0.75h-0.75z"/>
<path d="M270.5 224.2 C270.2 220.5 277 220 285 220.2 C292 220.4 296.5 221 296.3 224.5 C296 229.5 291 236 284.5 236.3 C278 236.5 271 230.5 270.5 224.2Z" fill="#c4c4c4"/>
<ellipse cx="284.5" cy="226.5" rx="6" ry="3.5" fill="#a8a8a8"/>
<path fill="#222" fill-opacity="0.7" d="M286.14 235.66h0.75v0.75h-0.75zM271.69 223.25h0.75v0.75h-0.75zM295.94 232.46h0.75v0.75h-0.75zM277.3 234.95h0.75v0.75h-0.75zM287.04 219.11h0.75v0.75h-0.75zM272.44 223.93h0.75v0.75h-0.75zM297.57 227.02h0.75v0.75h-0.75zM288.11 219.82h0.75v0.75h-0.75zM292.89 234.01h0.75v0.75h-0.75zM284.02 218.84h0.75v0.75h-0.75zM286 218.37h0.75v0.75h-0.75zM296.72 225.97h0.75v0.75h-0.75zM271.34 229.53h0.75v0.75h-0.75zM269.97 226.34h0.75v0.75h-0.75zM273.51 233.53h0.75v0.75h-0.75zM280.23 218.8h0.75v0.75h-0.75zM271.15 231.15h0.75v0.75h-0.75zM295.47 227.81h0.75v0.75h-0.75zM292.89 234.79h0.75v0.75h-0.75zM295.07 224.44h0.75v0.75h-0.75zM279.61 219.39h0.75v0.75h-0.75zM275.78 234.21h0.75v0.75h-0.75zM294.03 231.4h0.75v0.75h-0.75zM297.04 228.11h0.75v0.75h-0.75zM272.12 225.42h0.75v0.75h-0.75zM277.71 235.92h0.75v0.75h-0.75zM295.34 222.33h0.75v0.75h-0.75zM285.41 235.3h0.75v0.75h-0.75zM291.94 221.17h0.75v0.75h-0.75zM270.67 230.04h0.75v0.75h-0.75zM270.14 226.33h0.75v0.75h-0.75zM289.77 236.1h0.75v0.75h-0.75zM270.78 228.57h0.75v0.75h-0.75zM297.99 228.29h0.75v0.75h-0.75zM279.81 219.56h0.75v0.75h-0.75zM278.7 235.98h0.75v0.75h-0.75zM280.63 219.13h0.75v0.75h-0.75zM285.63 235.96h0.75v0.75h-0.75zM292.14 221.83h0.75v0.75h-0.75zM298.77 227.42h0.75v0.75h-0.75zM294.91 232.23h0.75v0.75h-0.75zM273.11 221.8h0.75v0.75h-0.75zM296.42 232.15h0.75v0.75h-0.75zM271.38 232.94h0.75v0.75h-0.75zM279.67 220.05h0.75v0.75h-0.75zM289.82 235.17h0.75v0.75h-0.75zM286.95 235.24h0.75v0.75h-0.75zM273.82 221.49h0.75v0.75h-0.75zM272.08 223.79h0.75v0.75h-0.75zM281.87 219.81h0.75v0.75h-0.75zM292.59 233.41h0.75v0.75h-0.75zM288.88 219.31h0.75v0.75h-0.75zM272.66 232.69h0.75v0.75h-0.75zM288.63 218.73h0.75v0.75h-0.75zM292.81 229.21h0.75v0.75h-0.75zM296.17 229.31h0.75v0.75h-0.75zM283.54 234.77h0.75v0.75h-0.75zM295.4 223.46h0.75v0.75h-0.75zM287.21 219.34h0.75v0.75h-0.75zM275.72 232.8h0.75v0.75h-0.75zM270.9 230.78h0.75v0.75h-0.75zM271.34 221.23h0.75v0.75h-0.75zM296.36 225.13h0.75v0.75h-0.75zM278.6 235.26h0.75v0.75h-0.75zM294.09 220.31h0.75v0.75h-0.75zM285.3 235.61h0.75v0.75h-0.75zM272.79 229.82h0.75v0.75h-0.75zM283.67 219.45h0.75v0.75h-0.75zM280.77 236.23h0.75v0.75h-0.75zM285.81 218.89h0.75v0.75h-0.75zM288.08 235.79h0.75v0.75h-0.75zM272.76 229.54h0.75v0.75h-0.75zM270.76 229.7h0.75v0.75h-0.75zM274.56 220.46h0.75v0.75h-0.75zM298.56 224.66h0.75v0.75h-0.75zM274.39 220.23h0.75v0.75h-0.75zM294.09 231.39h0.75v0.75h-0.75zM288.68 220.53h0.75v0.75h-0.75zM294.55 232.01h0.75v0.75h-0.75zM280.25 217.82h0.75v0.75h-0.75zM278.9 219.48h0.75v0.75h-0.75zM273.5 233.11h0.75v0.75h-0.75zM288.76 234.83h0.75v0.75h-0.75zM288.24 219.92h0.75v0.75h-0.75zM271.52 231.93h0.75v0.75h-0.75zM285.9 236.25h0.75v0.75h-0.75zM295.25 227.54h0.75v0.75h-0.75zM294.93 229.07h0.75v0.75h-0.75zM289.38 219.61h0.75v0.75h-0.75zM284.8 237.18h0.75v0.75h-0.75zM285.88 235.74h0.75v0.75h-0.75zM279.92 234.5h0.75v0.75h-0.75zM293.64 233.09h0.75v0.75h-0.75zM270.7 229.19h0.75v0.75h-0.75zM285.94 217.72h0.75v0.75h-0.75zM287.34 218.72h0.75v0.75h-0.75zM282 219.12h0.75v0.75h-0.75zM293.98 221.94h0.75v0.75h-0.75zM288.96 220.21h0.75v0.75h-0.75zM270.56 223.65h0.75v0.75h-0.75zM273.88 232.3h0.75v0.75h-0.75zM279.27 219.64h0.75v0.75h-0.75zM282.51 236.72h0.75v0.75h-0.75zM276.14 234.87h0.75v0.75h-0.75zM278.7 235.41h0.75v0.75h-0.75zM269.85 227.22h0.75v0.75h-0.75zM279.88 235.82h0.75v0.75h-0.75zM292 222.8h0.75v0.75h-0.75zM294.81 222.83h0.75v0.75h-0.75zM295.11 232.43h0.75v0.75h-0.75zM295.21 232.08h0.75v0.75h-0.75zM286.8 236.73h0.75v0.75h-0.75zM295.52 224.67h0.75v0.75h-0.75zM295.65 230.8h0.75v0.75h-0.75zM296.94 227.67h0.75v0.75h-0.75zM270.47 229.99h0.75v0.75h-0.75zM294.56 231.94h0.75v0.75h-0.75zM295.74 226.61h0.75v0.75h-0.75zM275.72 235.11h0.75v0.75h-0.75zM280.94 235.97h0.75v0.75h-0.75zM295.44 220.36h0.75v0.75h-0.75zM274.33 233.27h0.75v0.75h-0.75zM294.52 233.68h0.75v0.75h-0.75zM287.73 218.9h0.75v0.75h-0.75zM269.87 228.65h0.75v0.75h-0.75zM270.47 230.52h0.75v0.75h-0.75zM296.21 227.1h0.75v0.75h-0.75zM294.39 223.66h0.75v0.75h-0.75zM288.46 235.42h0.75v0.75h-0.75zM271.09 229.62h0.75v0.75h-0.75zM296.89 225.79h0.75v0.75h-0.75zM274.23 221.98h0.75v0.75h-0.75zM281 235.14h0.75v0.75h-0.75zM295.48 223.92h0.75v0.75h-0.75zM279.87 235.94h0.75v0.75h-0.75zM273.06 227.74h0.75v0.75h-0.75zM293.88 231.91h0.75v0.75h-0.75zM273 221.97h0.75v0.75h-0.75zM294.16 234.82h0.75v0.75h-0.75zM296.68 229.16h0.75v0.75h-0.75zM272.22 231.65h0.75v0.75h-0.75zM284.61 218.02h0.75v0.75h-0.75zM278.73 220.47h0.75v0.75h-0.75zM274.71 234.14h0.75v0.75h-0.75zM286 218.36h0.75v0.75h-0.75zM283.54 236.63h0.75v0.75h-0.75zM277.27 236.3h0.75v0.75h-0.75zM290.17 219.79h0.75v0.75h-0.75zM280.16 236.74h0.75v0.75h-0.75zM290.53 221.25h0.75v0.75h-0.75zM295.99 226.53h0.75v0.75h-0.75zM282.26 236.35h0.75v0.75h-0.75zM295.27 235.17h0.75v0.75h-0.75zM293.08 221.59h0.75v0.75h-0.75zM268.46 228.45h0.75v0.75h-0.75zM287.66 236.08h0.75v0.75h-0.75zM279.44 236.32h0.75v0.75h-0.75zM275.27 220.81h0.75v0.75h-0.75zM296.4 230.64h0.75v0.75h-0.75zM290.46 218.68h0.75v0.75h-0.75zM279.37 236.29h0.75v0.75h-0.75zM291.48 234.18h0.75v0.75h-0.75zM289.04 219.13h0.75v0.75h-0.75zM273.21 223.24h0.75v0.75h-0.75zM294.34 231.57h0.75v0.75h-0.75zM291.02 235.12h0.75v0.75h-0.75zM271.61 222.32h0.75v0.75h-0.75zM272.06 221.08h0.75v0.75h-0.75zM291.81 234.19h0.75v0.75h-0.75zM294.79 222.96h0.75v0.75h-0.75zM291.78 219.51h0.75v0.75h-0.75zM294.01 222.76h0.75v0.75h-0.75zM271.32 232.28h0.75v0.75h-0.75zM274.36 234.7h0.75v0.75h-0.75zM296.18 223.44h0.75v0.75h-0.75zM295.04 221.95h0.75v0.75h-0.75zM272.42 227.75h0.75v0.75h-0.75zM287.93 219.77h0.75v0.75h-0.75zM275.97 220.9h0.75v0.75h-0.75zM277.18 235.62h0.75v0.75h-0.75zM293.64 232.82h0.75v0.75h-0.75zM295.8 228.26h0.75v0.75h-0.75zM281.44 235.33h0.75v0.75h-0.75zM273.73 223h0.75v0.75h-0.75zM280.48 218.51h0.75v0.75h-0.75zM281.89 219.25h0.75v0.75h-0.75zM275.63 234.63h0.75v0.75h-0.75zM290.66 235.26h0.75v0.75h-0.75zM290.9 234.35h0.75v0.75h-0.75zM274.28 234.61h0.75v0.75h-0.75zM271.27 226.7h0.75v0.75h-0.75zM296.57 225.84h0.75v0.75h-0.75zM271.01 227.79h0.75v0.75h-0.75zM272.39 225.41h0.75v0.75h-0.75zM279.18 219.39h0.75v0.75h-0.75zM279.23 219.39h0.75v0.75h-0.75zM289.02 220.2h0.75v0.75h-0.75zM292.79 219.61h0.75v0.75h-0.75zM273.37 222.85h0.75v0.75h-0.75zM293.58 222.78h0.75v0.75h-0.75zM271.92 226.24h0.75v0.75h-0.75zM294.73 229.84h0.75v0.75h-0.75zM277.32 235.63h0.75v0.75h-0.75zM285.09 218.83h0.75v0.75h-0.75zM284.06 219.69h0.75v0.75h-0.75zM278.25 218.25h0.75v0.75h-0.75zM295.32 229.64h0.75v0.75h-0.75zM270.04 227.61h0.75v0.75h-0.75zM291.75 234.01h0.75v0.75h-0.75zM293.43 233.14h0.75v0.75h-0.75zM287.66 235.93h0.75v0.75h-0.75zM295.16 224.93h0.75v0.75h-0.75zM269.56 226.02h0.75v0.75h-0.75zM273.68 232.17h0.75v0.75h-0.75zM276.34 234.17h0.75v0.75h-0.75zM297.25 228.46h0.75v0.75h-0.75zM269.88 227.2h0.75v0.75h-0.75zM291.3 235.17h0.75v0.75h-0.75zM291.63 221.62h0.75v0.75h-0.75zM286.87 218.36h0.75v0.75h-0.75zM284.39 235.12h0.75v0.75h-0.75zM295.57 227.45h0.75v0.75h-0.75zM285.63 220.5h0.75v0.75h-0.75zM290.89 221.04h0.75v0.75h-0.75zM280.54 235.27h0.75v0.75h-0.75zM285.95 219.24h0.75v0.75h-0.75zM278.37 220.04h0.75v0.75h-0.75zM293.39 220.36h0.75v0.75h-0.75zM291.33 221.54h0.75v0.75h-0.75zM279.97 218.54h0.75v0.75h-0.75zM269.89 225.2h0.75v0.75h-0.75zM290.56 220.14h0.75v0.75h-0.75zM280.84 236.36h0.75v0.75h-0.75zM293.08 234.1h0.75v0.75h-0.75zM271.63 230.44h0.75v0.75h-0.75zM287.2 236.59h0.75v0.75h-0.75zM277.57 220.02h0.75v0.75h-0.75zM274.1 234.05h0.75v0.75h-0.75zM274.29 221.74h0.75v0.75h-0.75zM279.23 234.62h0.75v0.75h-0.75zM289.28 219.3h0.75v0.75h-0.75zM270.61 225.86h0.75v0.75h-0.75zM272.35 223.05h0.75v0.75h-0.75zM271 232.24h0.75v0.75h-0.75zM295.71 225.88h0.75v0.75h-0.75zM295.6 222.9h0.75v0.75h-0.75zM272.39 228.89h0.75v0.75h-0.75zM296.97 227.66h0.75v0.75h-0.75zM274.55 220.46h0.75v0.75h-0.75zM271.8 231.06h0.75v0.75h-0.75zM283.82 236.39h0.75v0.75h-0.75zM270.02 224.19h0.75v0.75h-0.75zM275.01 234.86h0.75v0.75h-0.75zM276.65 235.01h0.75v0.75h-0.75zM281.36 235.8h0.75v0.75h-0.75zM291.98 235.51h0.75v0.75h-0.75zM294.76 231.95h0.75v0.75h-0.75zM272.48 221.64h0.75v0.75h-0.75zM292.41 234.46h0.75v0.75h-0.75zM269.24 229.77h0.75v0.75h-0.75zM295.78 231.36h0.75v0.75h-0.75zM274.17 234.7h0.75v0.75h-0.75zM296.54 229.98h0.75v0.75h-0.75zM285.6 235.8h0.75v0.75h-0.75zM280.14 235.22h0.75v0.75h-0.75zM271.53 222.54h0.75v0.75h-0.75zM280.89 236.95h0.75v0.75h-0.75zM278.9 234.95h0.75v0.75h-0.75zM296.51 224.65h0.75v0.75h-0.75zM297.66 230.19h0.75v0.75h-0.75zM292.05 221.33h0.75v0.75h-0.75zM298.77 226.83h0.75v0.75h-0.75zM269.15 229.34h0.75v0.75h-0.75zM283.36 218.54h0.75v0.75h-0.75zM293.56 233.54h0.75v0.75h-0.75zM279.09 236.39h0.75v0.75h-0.75zM292.82 231.51h0.75v0.75h-0.75zM279.78 236.55h0.75v0.75h-0.75zM275.93 221.84h0.75v0.75h-0.75zM283.93 234.73h0.75v0.75h-0.75zM293.86 223.8h0.75v0.75h-0.75zM293 231.29h0.75v0.75h-0.75zM293.98 232.8h0.75v0.75h-0.75zM285.24 219.09h0.75v0.75h-0.75zM270.47 223.27h0.75v0.75h-0.75zM294.7 229.22h0.75v0.75h-0.75zM272.64 226.62h0.75v0.75h-0.75zM273.56 230.68h0.75v0.75h-0.75zM284.7 219.48h0.75v0.75h-0.75zM298.14 228.5h0.75v0.75h-0.75zM296.47 229.56h0.75v0.75h-0.75zM286.04 217.99h0.75v0.75h-0.75zM286.09 237.03h0.75v0.75h-0.75zM270.72 226.71h0.75v0.75h-0.75zM296.35 226.09h0.75v0.75h-0.75zM281.17 235.97h0.75v0.75h-0.75zM296.21 231.25h0.75v0.75h-0.75zM283.23 218.74h0.75v0.75h-0.75zM278.51 219.76h0.75v0.75h-0.75zM274.01 231.46h0.75v0.75h-0.75zM271 229.1h0.75v0.75h-0.75zM273.95 222.93h0.75v0.75h-0.75zM282.05 236.57h0.75v0.75h-0.75zM273.08 231.94h0.75v0.75h-0.75zM278.04 235.4h0.75v0.75h-0.75zM290.5 234.19h0.75v0.75h-0.75zM296.12 227.01h0.75v0.75h-0.75zM291.35 220.12h0.75v0.75h-0.75zM287.45 219.42h0.75v0.75h-0.75zM293.87 223.03h0.75v0.75h-0.75zM296.17 224.17h0.75v0.75h-0.75zM295.57 227.97h0.75v0.75h-0.75zM293.59 221.19h0.75v0.75h-0.75zM287.76 235.85h0.75v0.75h-0.75zM294.64 232.88h0.75v0.75h-0.75zM272.43 230.41h0.75v0.75h-0.75zM284.29 219.42h0.75v0.75h-0.75zM283.92 219.94h0.75v0.75h-0.75zM277.74 236.08h0.75v0.75h-0.75zM283.89 236.18h0.75v0.75h-0.75zM272.87 222.44h0.75v0.75h-0.75zM288.74 235.68h0.75v0.75h-0.75zM276.58 236.03h0.75v0.75h-0.75zM270.89 222.52h0.75v0.75h-0.75zM288.17 220.18h0.75v0.75h-0.75zM282.04 235.81h0.75v0.75h-0.75zM286.95 218.8h0.75v0.75h-0.75zM289.38 234.96h0.75v0.75h-0.75zM274.38 233.87h0.75v0.75h-0.75zM270.43 228.09h0.75v0.75h-0.75zM274.34 233.98h0.75v0.75h-0.75zM278.77 236.18h0.75v0.75h-0.75zM282.19 236.67h0.75v0.75h-0.75zM292.9 236.49h0.75v0.75h-0.75zM281.99 218.66h0.75v0.75h-0.75zM285.23 219.32h0.75v0.75h-0.75zM295.46 229.27h0.75v0.75h-0.75zM271.02 230.95h0.75v0.75h-0.75zM286.13 236.8h0.75v0.75h-0.75zM293.19 233.29h0.75v0.75h-0.75zM290.13 221.14h0.75v0.75h-0.75zM270.92 223.18h0.75v0.75h-0.75zM287.28 220.52h0.75v0.75h-0.75zM281.39 218.67h0.75v0.75h-0.75zM270.96 227h0.75v0.75h-0.75zM282.68 220.45h0.75v0.75h-0.75zM271.66 231.03h0.75v0.75h-0.75zM279.73 235.99h0.75v0.75h-0.75zM278.82 235.39h0.75v0.75h-0.75zM287.54 235.66h0.75v0.75h-0.75zM276.92 233.08h0.75v0.75h-0.75zM272.11 233.66h0.75v0.75h-0.75zM271.72 224.39h0.75v0.75h-0.75zM278.26 218.98h0.75v0.75h-0.75zM285.18 235.49h0.75v0.75h-0.75zM273.06 233.24h0.75v0.75h-0.75zM286.94 219.09h0.75v0.75h-0.75zM272.99 221.27h0.75v0.75h-0.75zM273.47 222.81h0.75v0.75h-0.75zM295.94 227.59h0.75v0.75h-0.75zM270.47 230.91h0.75v0.75h-0.75zM296.11 229.23h0.75v0.75h-0.75zM290.4 220.15h0.75v0.75h-0.75zM271.12 228.92h0.75v0.75h-0.75zM292.56 234.75h0.75v0.75h-0.75zM292.68 234.26h0.75v0.75h-0.75zM279.82 219.51h0.75v0.75h-0.75zM288.37 218.93h0.75v0.75h-0.75zM296.07 223.96h0.75v0.75h-0.75zM270.61 228.68h0.75v0.75h-0.75zM289.97 221.01h0.75v0.75h-0.75zM271.38 232.21h0.75v0.75h-0.75zM272.67 224.3h0.75v0.75h-0.75zM272.08 226.67h0.75v0.75h-0.75zM286.09 218.39h0.75v0.75h-0.75zM271.35 225.33h0.75v0.75h-0.75zM293.88 221.78h0.75v0.75h-0.75zM271.25 226.62h0.75v0.75h-0.75zM289.04 235.59h0.75v0.75h-0.75zM271.52 231.03h0.75v0.75h-0.75zM274.62 234.2h0.75v0.75h-0.75zM281.15 235.93h0.75v0.75h-0.75zM297.95 227.72h0.75v0.75h-0.75zM288.3 219.43h0.75v0.75h-0.75zM270.38 226.85h0.75v0.75h-0.75zM289.56 219.29h0.75v0.75h-0.75zM284.34 219.07h0.75v0.75h-0.75zM270.33 226.1h0.75v0.75h-0.75zM287.81 234.59h0.75v0.75h-0.75zM292.97 234.61h0.75v0.75h-0.75zM291.25 220.58h0.75v0.75h-0.75zM269.32 225.79h0.75v0.75h-0.75zM292.04 220.21h0.75v0.75h-0.75zM294.61 233.2h0.75v0.75h-0.75zM282.65 236.36h0.75v0.75h-0.75zM287.12 236.36h0.75v0.75h-0.75zM295.34 232.06h0.75v0.75h-0.75zM288.38 218.96h0.75v0.75h-0.75zM291.11 233.47h0.75v0.75h-0.75zM286.04 235.34h0.75v0.75h-0.75zM276.44 233.29h0.75v0.75h-0.75zM274.13 221.59h0.75v0.75h-0.75zM277.96 234.96h0.75v0.75h-0.75zM271.54 228.53h0.75v0.75h-0.75zM292.29 233.28h0.75v0.75h-0.75zM273.06 222.04h0.75v0.75h-0.75zM268.72 226.98h0.75v0.75h-0.75zM277.81 234.45h0.75v0.75h-0.75zM289.16 220.39h0.75v0.75h-0.75zM289.45 219.1h0.75v0.75h-0.75zM286.56 219.94h0.75v0.75h-0.75zM285.4 237.85h0.75v0.75h-0.75zM277.7 234.43h0.75v0.75h-0.75zM290.63 221.83h0.75v0.75h-0.75zM289.96 218.81h0.75v0.75h-0.75zM292.2 222.32h0.75v0.75h-0.75zM293.53 231.8h0.75v0.75h-0.75zM270.21 224.95h0.75v0.75h-0.75zM295.13 230.92h0.75v0.75h-0.75zM288.65 219.03h0.75v0.75h-0.75zM297.02 229.63h0.75v0.75h-0.75zM288.17 236.62h0.75v0.75h-0.75zM271.1 228.23h0.75v0.75h-0.75zM287.15 219.71h0.75v0.75h-0.75zM292.55 223.19h0.75v0.75h-0.75zM287.32 219h0.75v0.75h-0.75zM270.73 226.4h0.75v0.75h-0.75zM278.85 217.76h0.75v0.75h-0.75zM280.14 218.92h0.75v0.75h-0.75zM271.66 229.52h0.75v0.75h-0.75zM279.05 234.7h0.75v0.75h-0.75zM273.44 224.55h0.75v0.75h-0.75zM298.03 225.82h0.75v0.75h-0.75zM269.62 225.91h0.75v0.75h-0.75zM278.97 235.24h0.75v0.75h-0.75zM269.97 230.83h0.75v0.75h-0.75zM298.24 226.84h0.75v0.75h-0.75zM278.13 235.61h0.75v0.75h-0.75zM270.36 230.35h0.75v0.75h-0.75zM297.75 226.54h0.75v0.75h-0.75zM270.8 228.69h0.75v0.75h-0.75zM295.48 224.87h0.75v0.75h-0.75zM272.67 231.76h0.75v0.75h-0.75zM270.61 225.89h0.75v0.75h-0.75zM274.93 219.8h0.75v0.75h-0.75zM281.39 235.35h0.75v0.75h-0.75zM295.85 230.12h0.75v0.75h-0.75zM276.59 221.66h0.75v0.75h-0.75zM296.52 225.19h0.75v0.75h-0.75zM277.09 220.36h0.75v0.75h-0.75zM289.7 235.37h0.75v0.75h-0.75zM277.51 219.4h0.75v0.75h-0.75zM270.63 227.4h0.75v0.75h-0.75zM276.37 233.43h0.75v0.75h-0.75zM278.03 236.69h0.75v0.75h-0.75zM270.27 224.42h0.75v0.75h-0.75zM286.68 236.49h0.75v0.75h-0.75zM292.02 220.59h0.75v0.75h-0.75zM284.63 235.12h0.75v0.75h-0.75zM289.32 233.95h0.75v0.75h-0.75zM288.62 220.06h0.75v0.75h-0.75zM282.71 236.41h0.75v0.75h-0.75zM274.41 232.33h0.75v0.75h-0.75zM284.9 218.2h0.75v0.75h-0.75zM280.1 235.98h0.75v0.75h-0.75zM281.14 218.49h0.75v0.75h-0.75zM270.3 229.61h0.75v0.75h-0.75zM294.45 224.18h0.75v0.75h-0.75zM279.23 220.25h0.75v0.75h-0.75zM292.83 233.39h0.75v0.75h-0.75zM290.62 218.54h0.75v0.75h-0.75zM289.91 218.12h0.75v0.75h-0.75zM285.92 219.42h0.75v0.75h-0.75zM294.8 232.21h0.75v0.75h-0.75zM278.55 221.15h0.75v0.75h-0.75zM274.02 233.26h0.75v0.75h-0.75zM287.04 219.19h0.75v0.75h-0.75zM297.03 225.04h0.75v0.75h-0.75zM287.46 236.88h0.75v0.75h-0.75zM281.19 219.37h0.75v0.75h-0.75zM296.23 222.73h0.75v0.75h-0.75zM271.47 224.17h0.75v0.75h-0.75zM286.56 219.85h0.75v0.75h-0.75zM296.38 223.67h0.75v0.75h-0.75zM285.05 236.14h0.75v0.75h-0.75zM296.38 229.42h0.75v0.75h-0.75zM269.93 226.65h0.75v0.75h-0.75zM294.92 223.36h0.75v0.75h-0.75zM281.47 236.8h0.75v0.75h-0.75zM269.28 232.44h0.75v0.75h-0.75zM273.04 232.66h0.75v0.75h-0.75zM280.19 219.27h0.75v0.75h-0.75zM295.07 232.05h0.75v0.75h-0.75zM287.32 218.92h0.75v0.75h-0.75zM270.06 226.48h0.75v0.75h-0.75zM299.75 227.72h0.75v0.75h-0.75zM270.86 222.47h0.75v0.75h-0.75zM273.26 220.89h0.75v0.75h-0.75zM297.8 228.63h0.75v0.75h-0.75zM284.84 219.26h0.75v0.75h-0.75zM281.84 235.18h0.75v0.75h-0.75zM281.67 236.16h0.75v0.75h-0.75zM285.26 236.14h0.75v0.75h-0.75zM295.15 231.92h0.75v0.75h-0.75zM287.03 220.49h0.75v0.75h-0.75zM277.53 219.86h0.75v0.75h-0.75zM270.57 225.71h0.75v0.75h-0.75zM294.05 224.12h0.75v0.75h-0.75zM290.86 234.98h0.75v0.75h-0.75zM290.72 220.2h0.75v0.75h-0.75zM276.48 234.41h0.75v0.75h-0.75zM278.72 236.63h0.75v0.75h-0.75zM281.56 235.99h0.75v0.75h-0.75zM275.15 219.86h0.75v0.75h-0.75zM291.41 220.23h0.75v0.75h-0.75zM295.78 226.4h0.75v0.75h-0.75zM291.71 234.68h0.75v0.75h-0.75zM292.62 221.63h0.75v0.75h-0.75zM280.66 220.12h0.75v0.75h-0.75zM274.96 221.82h0.75v0.75h-0.75zM284 218.16h0.75v0.75h-0.75zM294.89 232.63h0.75v0.75h-0.75zM275.19 221.76h0.75v0.75h-0.75zM271.52 231.09h0.75v0.75h-0.75zM296.12 226.55h0.75v0.75h-0.75zM275.21 235.22h0.75v0.75h-0.75zM285.55 235.25h0.75v0.75h-0.75zM292.59 220.56h0.75v0.75h-0.75zM276.67 234.69h0.75v0.75h-0.75zM290.72 219.49h0.75v0.75h-0.75zM294.17 233.88h0.75v0.75h-0.75zM292.75 233.49h0.75v0.75h-0.75zM269.69 224.5h0.75v0.75h-0.75zM273.37 233.19h0.75v0.75h-0.75zM283.66 218.8h0.75v0.75h-0.75zM274.28 233.71h0.75v0.75h-0.75zM283.93 236.62h0.75v0.75h-0.75zM268.71 227.69h0.75v0.75h-0.75zM282.79 219.6h0.75v0.75h-0.75zM271.76 232.49h0.75v0.75h-0.75zM293.18 233.1h0.75v0.75h-0.75zM277.9 234.79h0.75v0.75h-0.75zM285.32 236.22h0.75v0.75h-0.75zM272.48 225.43h0.75v0.75h-0.75zM273.5 222.9h0.75v0.75h-0.75zM298.9 227.67h0.75v0.75h-0.75zM286.9 236.84h0.75v0.75h-0.75zM285.36 219.94h0.75v0.75h-0.75zM287.78 235.48h0.75v0.75h-0.75zM291.86 235.08h0.75v0.75h-0.75zM294.39 223.58h0.75v0.75h-0.75zM294.13 232.87h0.75v0.75h-0.75zM280 234.72h0.75v0.75h-0.75zM271.59 231.2h0.75v0.75h-0.75zM280.44 236.07h0.75v0.75h-0.75zM282.75 220.11h0.75v0.75h-0.75zM269.75 226.95h0.75v0.75h-0.75zM270.93 223.95h0.75v0.75h-0.75zM275.18 233.68h0.75v0.75h-0.75zM288.61 220.72h0.75v0.75h-0.75zM273.6 232.98h0.75v0.75h-0.75zM295.78 229.48h0.75v0.75h-0.75zM280.81 236.55h0.75v0.75h-0.75zM271.39 223.18h0.75v0.75h-0.75zM278.05 220.1h0.75v0.75h-0.75zM277.61 234.13h0.75v0.75h-0.75zM270.95 223.62h0.75v0.75h-0.75zM271.32 231.42h0.75v0.75h-0.75zM289.62 219.79h0.75v0.75h-0.75zM284.63 236.88h0.75v0.75h-0.75zM282.19 236.64h0.75v0.75h-0.75zM296.48 224.56h0.75v0.75h-0.75zM282.98 219.5h0.75v0.75h-0.75zM285.78 218.68h0.75v0.75h-0.75zM283.4 220.12h0.75v0.75h-0.75zM272.9 222.16h0.75v0.75h-0.75zM273.95 233.34h0.75v0.75h-0.75zM295.5 223.78h0.75v0.75h-0.75zM286.99 219.78h0.75v0.75h-0.75zM281.75 235.16h0.75v0.75h-0.75zM271.35 229.49h0.75v0.75h-0.75zM288.27 219.88h0.75v0.75h-0.75zM269.85 225.82h0.75v0.75h-0.75zM287.35 235.68h0.75v0.75h-0.75zM270.21 227.94h0.75v0.75h-0.75zM290.99 220.39h0.75v0.75h-0.75zM273.24 224.68h0.75v0.75h-0.75zM297.02 225.22h0.75v0.75h-0.75zM293.8 236.37h0.75v0.75h-0.75zM275.43 220.82h0.75v0.75h-0.75zM271.39 231.21h0.75v0.75h-0.75zM295.78 227.16h0.75v0.75h-0.75zM278.76 234.88h0.75v0.75h-0.75zM280.07 236.96h0.75v0.75h-0.75zM272.35 232.55h0.75v0.75h-0.75zM268.1 227.73h0.75v0.75h-0.75zM294.64 222h0.75v0.75h-0.75zM279.48 235.51h0.75v0.75h-0.75zM290.38 232.87h0.75v0.75h-0.75zM275.67 221.18h0.75v0.75h-0.75zM285.4 218.86h0.75v0.75h-0.75zM293.47 227.33h0.75v0.75h-0.75zM294.41 226.86h0.75v0.75h-0.75zM295.62 224.69h0.75v0.75h-0.75zM270.84 225.62h0.75v0.75h-0.75zM282.2 234.23h0.75v0.75h-0.75zM269.22 229.06h0.75v0.75h-0.75zM293.74 222.86h0.75v0.75h-0.75zM277.48 220.99h0.75v0.75h-0.75zM293.11 233.43h0.75v0.75h-0.75zM278.32 236.18h0.75v0.75h-0.75zM292.58 233.53h0.75v0.75h-0.75zM287.79 220.69h0.75v0.75h-0.75zM293.72 233.7h0.75v0.75h-0.75zM270.48 227.47h0.75v0.75h-0.75zM288.59 234.59h0.75v0.75h-0.75zM289.16 220.04h0.75v0.75h-0.75zM274.68 232.55h0.75v0.75h-0.75zM293.85 232.98h0.75v0.75h-0.75zM271.85 229.79h0.75v0.75h-0.75zM276.6 234.85h0.75v0.75h-0.75zM294.7 232.15h0.75v0.75h-0.75zM270.53 231.28h0.75v0.75h-0.75zM282.06 236.08h0.75v0.75h-0.75zM289.21 221.18h0.75v0.75h-0.75zM273.41 235.22h0.75v0.75h-0.75zM289.16 234.64h0.75v0.75h-0.75zM271.65 234.26h0.75v0.75h-0.75zM269.68 228.67h0.75v0.75h-0.75zM296.06 228.87h0.75v0.75h-0.75zM295.59 221.91h0.75v0.75h-0.75zM283.19 235.57h0.75v0.75h-0.75zM283.37 220.23h0.75v0.75h-0.75zM292.44 232.78h0.75v0.75h-0.75zM295.62 223.79h0.75v0.75h-0.75zM270.83 226.32h0.75v0.75h-0.75zM288.88 218.49h0.75v0.75h-0.75zM293.9 232.75h0.75v0.75h-0.75zM291.69 219.91h0.75v0.75h-0.75zM296.83 230.45h0.75v0.75h-0.75zM280.84 221.52h0.75v0.75h-0.75zM276.66 235.93h0.75v0.75h-0.75zM276.18 234.88h0.75v0.75h-0.75zM296.26 222.64h0.75v0.75h-0.75zM291.97 233.66h0.75v0.75h-0.75zM296.19 229.38h0.75v0.75h-0.75zM277.77 234.91h0.75v0.75h-0.75zM296.5 227.57h0.75v0.75h-0.75zM284.47 220.37h0.75v0.75h-0.75zM274.67 233.65h0.75v0.75h-0.75zM281.44 219.77h0.75v0.75h-0.75zM272.92 221.46h0.75v0.75h-0.75zM270.18 228.97h0.75v0.75h-0.75zM276.42 235.41h0.75v0.75h-0.75zM289.81 235.11h0.75v0.75h-0.75zM293.5 221.41h0.75v0.75h-0.75zM283.18 218.63h0.75v0.75h-0.75zM269.51 228.28h0.75v0.75h-0.75zM274.73 234.51h0.75v0.75h-0.75zM292.77 231.64h0.75v0.75h-0.75zM287.47 219.11h0.75v0.75h-0.75zM286.17 234.18h0.75v0.75h-0.75zM292.03 220.15h0.75v0.75h-0.75zM280.38 219.36h0.75v0.75h-0.75zM292.72 224.68h0.75v0.75h-0.75zM291.85 235.12h0.75v0.75h-0.75zM294.23 224.18h0.75v0.75h-0.75zM282.46 235.86h0.75v0.75h-0.75zM269.6 230.05h0.75v0.75h-0.75zM288.33 236.04h0.75v0.75h-0.75zM277.59 219.8h0.75v0.75h-0.75zM279.2 235.36h0.75v0.75h-0.75zM283.3 235.77h0.75v0.75h-0.75zM276.9 220.36h0.75v0.75h-0.75zM281.41 235.72h0.75v0.75h-0.75zM296.62 227.16h0.75v0.75h-0.75zM284.49 218.86h0.75v0.75h-0.75zM296.45 224.25h0.75v0.75h-0.75zM272.55 225.45h0.75v0.75h-0.75zM275.18 221.89h0.75v0.75h-0.75zM291.57 221.52h0.75v0.75h-0.75zM292.21 221.53h0.75v0.75h-0.75zM296.49 224.32h0.75v0.75h-0.75zM286.79 236.05h0.75v0.75h-0.75zM271.15 231.9h0.75v0.75h-0.75zM271.6 232.06h0.75v0.75h-0.75zM279.95 219.21h0.75v0.75h-0.75zM271.37 228.46h0.75v0.75h-0.75zM282.69 219.65h0.75v0.75h-0.75zM290.47 221.47h0.75v0.75h-0.75zM269.9 224.66h0.75v0.75h-0.75zM270.84 225.41h0.75v0.75h-0.75zM268.02 228.53h0.75v0.75h-0.75zM273.45 233.31h0.75v0.75h-0.75zM283.23 219.31h0.75v0.75h-0.75zM283.36 219.12h0.75v0.75h-0.75zM283.14 219.58h0.75v0.75h-0.75zM279.21 235.61h0.75v0.75h-0.75zM297.44 226.83h0.75v0.75h-0.75zM293.65 223.73h0.75v0.75h-0.75zM273.21 230.89h0.75v0.75h-0.75zM290.16 221.61h0.75v0.75h-0.75zM296.54 231.09h0.75v0.75h-0.75zM271.37 225.87h0.75v0.75h-0.75zM296.16 227.74h0.75v0.75h-0.75zM272.55 231.47h0.75v0.75h-0.75zM286.29 237.73h0.75v0.75h-0.75zM286.64 236.92h0.75v0.75h-0.75zM294.24 222.3h0.75v0.75h-0.75zM294.03 223.61h0.75v0.75h-0.75zM275.4 234.01h0.75v0.75h-0.75zM275.63 220.78h0.75v0.75h-0.75zM290.99 220.61h0.75v0.75h-0.75zM288.2 236.76h0.75v0.75h-0.75zM296.32 226.78h0.75v0.75h-0.75zM272.71 230.38h0.75v0.75h-0.75zM282.07 218.66h0.75v0.75h-0.75zM286.51 219.19h0.75v0.75h-0.75zM288.22 220.29h0.75v0.75h-0.75zM295.4 223.9h0.75v0.75h-0.75zM297.49 229.98h0.75v0.75h-0.75zM272.07 230.77h0.75v0.75h-0.75zM274.43 234.01h0.75v0.75h-0.75zM290.97 219.63h0.75v0.75h-0.75zM293.86 220.99h0.75v0.75h-0.75zM291.88 234.05h0.75v0.75h-0.75zM292.25 221.86h0.75v0.75h-0.75zM276.39 221.22h0.75v0.75h-0.75zM290.32 236.02h0.75v0.75h-0.75zM270.14 230.88h0.75v0.75h-0.75zM271.97 232.43h0.75v0.75h-0.75zM279.59 236.36h0.75v0.75h-0.75zM291.48 235.12h0.75v0.75h-0.75zM296.5 223.5h0.75v0.75h-0.75zM295.77 225.77h0.75v0.75h-0.75zM282.32 218.66h0.75v0.75h-0.75zM294.67 233.13h0.75v0.75h-0.75zM270.59 232.99h0.75v0.75h-0.75zM271.7 225.06h0.75v0.75h-0.75zM288.63 219.7h0.75v0.75h-0.75zM286.11 235.46h0.75v0.75h-0.75zM273.72 232.04h0.75v0.75h-0.75zM295.49 229.6h0.75v0.75h-0.75zM286.98 219.99h0.75v0.75h-0.75zM272.43 220.43h0.75v0.75h-0.75zM277.17 220.42h0.75v0.75h-0.75zM273.71 231.48h0.75v0.75h-0.75zM284.39 219.68h0.75v0.75h-0.75zM287.21 235.78h0.75v0.75h-0.75zM271.13 230.93h0.75v0.75h-0.75zM293.9 223.17h0.75v0.75h-0.75zM291.12 234.49h0.75v0.75h-0.75zM279.98 236.18h0.75v0.75h-0.75zM296.36 227.25h0.75v0.75h-0.75zM275.61 220.87h0.75v0.75h-0.75zM291.16 218.72h0.75v0.75h-0.75zM275.99 235.13h0.75v0.75h-0.75zM293.51 233.19h0.75v0.75h-0.75zM294.43 220.62h0.75v0.75h-0.75zM282.95 236.42h0.75v0.75h-0.75zM271.51 230.35h0.75v0.75h-0.75zM290.71 234.68h0.75v0.75h-0.75zM277.1 234.92h0.75v0.75h-0.75zM274.24 220.03h0.75v0.75h-0.75zM277.32 235.59h0.75v0.75h-0.75zM271.01 224.64h0.75v0.75h-0.75zM270.87 231.13h0.75v0.75h-0.75zM296.47 230.73h0.75v0.75h-0.75zM294.71 223.56h0.75v0.75h-0.75zM286.63 235.58h0.75v0.75h-0.75zM272.43 232.51h0.75v0.75h-0.75zM272.2 232.33h0.75v0.75h-0.75zM284.85 236.68h0.75v0.75h-0.75zM287.68 235.56h0.75v0.75h-0.75zM295.12 227.19h0.75v0.75h-0.75zM272.91 224.88h0.75v0.75h-0.75zM296.73 228.05h0.75v0.75h-0.75zM278.48 219.77h0.75v0.75h-0.75zM291.49 235.17h0.75v0.75h-0.75zM292.01 234.2h0.75v0.75h-0.75zM288.22 235.06h0.75v0.75h-0.75zM297.19 228.24h0.75v0.75h-0.75zM293.52 220.51h0.75v0.75h-0.75zM285.05 218.49h0.75v0.75h-0.75zM286.99 219.56h0.75v0.75h-0.75zM282.07 236.8h0.75v0.75h-0.75zM275.52 221.12h0.75v0.75h-0.75zM271.91 227.59h0.75v0.75h-0.75zM294.19 227.94h0.75v0.75h-0.75zM290.84 235.51h0.75v0.75h-0.75zM278.7 220.32h0.75v0.75h-0.75zM283.77 219.21h0.75v0.75h-0.75zM269.16 227.15h0.75v0.75h-0.75zM289.97 236.02h0.75v0.75h-0.75zM295.18 230.66h0.75v0.75h-0.75zM290.17 234.89h0.75v0.75h-0.75zM280.06 219.74h0.75v0.75h-0.75zM275.18 234.52h0.75v0.75h-0.75zM280.34 236.48h0.75v0.75h-0.75zM279.55 219.37h0.75v0.75h-0.75zM274.79 222.15h0.75v0.75h-0.75zM286.45 219.61h0.75v0.75h-0.75zM271.92 229.56h0.75v0.75h-0.75zM298.89 227.94h0.75v0.75h-0.75zM290.41 235.34h0.75v0.75h-0.75zM271.9 225.54h0.75v0.75h-0.75zM290.88 236.57h0.75v0.75h-0.75zM296.06 228.97h0.75v0.75h-0.75zM271.84 228.93h0.75v0.75h-0.75zM273.49 223.55h0.75v0.75h-0.75zM283.51 219.06h0.75v0.75h-0.75zM299.81 225.57h0.75v0.75h-0.75zM273.66 222.19h0.75v0.75h-0.75zM294.21 224.52h0.75v0.75h-0.75zM295.85 228.52h0.75v0.75h-0.75zM295.66 232.73h0.75v0.75h-0.75zM288.14 237.52h0.75v0.75h-0.75zM292.48 221.7h0.75v0.75h-0.75zM285.31 237.85h0.75v0.75h-0.75zM287 236.68h0.75v0.75h-0.75zM300.27 228.39h0.75v0.75h-0.75zM270.82 223.48h0.75v0.75h-0.75zM283.62 219.17h0.75v0.75h-0.75zM270.1 229.74h0.75v0.75h-0.75zM292.11 233.54h0.75v0.75h-0.75zM295.12 225.33h0.75v0.75h-0.75zM297.27 228.76h0.75v0.75h-0.75zM294.52 230.42h0.75v0.75h-0.75zM274.5 222.88h0.75v0.75h-0.75zM279.9 219.47h0.75v0.75h-0.75zM292.6 231.31h0.75v0.75h-0.75zM292.94 221.7h0.75v0.75h-0.75zM293.78 220.21h0.75v0.75h-0.75zM295.2 223.8h0.75v0.75h-0.75zM295.85 224.26h0.75v0.75h-0.75zM271.13 229.81h0.75v0.75h-0.75zM270.21 226.4h0.75v0.75h-0.75zM275.1 233.36h0.75v0.75h-0.75zM274.33 224.06h0.75v0.75h-0.75zM297.37 222.22h0.75v0.75h-0.75zM285.93 234.48h0.75v0.75h-0.75zM285.01 235.07h0.75v0.75h-0.75zM291.55 221.7h0.75v0.75h-0.75zM295.48 234.31h0.75v0.75h-0.75zM279.75 235.86h0.75v0.75h-0.75zM271.41 229.13h0.75v0.75h-0.75zM295.72 224.57h0.75v0.75h-0.75zM284.28 220.03h0.75v0.75h-0.75zM282.18 236h0.75v0.75h-0.75zM273.19 223.15h0.75v0.75h-0.75zM294.41 230.87h0.75v0.75h-0.75zM284.57 218.76h0.75v0.75h-0.75zM277.93 235.87h0.75v0.75h-0.75zM282.84 236.12h0.75v0.75h-0.75zM295.94 223.11h0.75v0.75h-0.75zM289.01 234.66h0.75v0.75h-0.75zM290.98 233.13h0.75v0.75h-0.75zM296.77 224.03h0.75v0.75h-0.75zM279.28 218.49h0.75v0.75h-0.75zM273.09 231.96h0.75v0.75h-0.75zM298.38 225.42h0.75v0.75h-0.75zM274.15 229.93h0.75v0.75h-0.75zM281.38 219.43h0.75v0.75h-0.75zM271.22 224.65h0.75v0.75h-0.75zM289.85 219.68h0.75v0.75h-0.75zM289.15 220.75h0.75v0.75h-0.75zM272.92 228.9h0.75v0.75h-0.75zM277.39 220.73h0.75v0.75h-0.75zM294.87 228.85h0.75v0.75h-0.75zM293.18 235.08h0.75v0.75h-0.75zM282.47 237.69h0.75v0.75h-0.75zM288.37 235.93h0.75v0.75h-0.75zM292.67 221.51h0.75v0.75h-0.75zM286.99 219.66h0.75v0.75h-0.75zM288.24 219.76h0.75v0.75h-0.75zM279.91 235.3h0.75v0.75h-0.75zM271.2 227.99h0.75v0.75h-0.75zM272.72 223.55h0.75v0.75h-0.75zM293.17 221.02h0.75v0.75h-0.75zM280.05 235.52h0.75v0.75h-0.75zM291.28 235.22h0.75v0.75h-0.75zM273.62 233.19h0.75v0.75h-0.75zM292.47 222.49h0.75v0.75h-0.75zM296.08 224.67h0.75v0.75h-0.75zM277.3 219.34h0.75v0.75h-0.75zM275.5 220.67h0.75v0.75h-0.75zM271.25 229.98h0.75v0.75h-0.75zM282.62 219.24h0.75v0.75h-0.75zM270.34 226.14h0.75v0.75h-0.75zM272.27 223.66h0.75v0.75h-0.75zM287.46 219.9h0.75v0.75h-0.75zM296.28 231.24h0.75v0.75h-0.75zM285.57 219.39h0.75v0.75h-0.75zM297.02 227.04h0.75v0.75h-0.75zM286.15 235.37h0.75v0.75h-0.75zM290.75 222.06h0.75v0.75h-0.75zM275.41 234.65h0.75v0.75h-0.75zM273.47 221.39h0.75v0.75h-0.75zM275.18 234.82h0.75v0.75h-0.75zM269.91 227.97h0.75v0.75h-0.75z"/>
<path d="M270.5 224.2 C270.2 220.5 277 220 285 220.2 C292 220.4 296.5 221 296.3 224.5 C296 229.5 291 236 284.5 236.3 C278 236.5 271 230.5 270.5 224.2Z" fill="none" stroke="#333" stroke-width="1.6" stroke-opacity="0.7"/>
<path fill="#555" fill-opacity="0.5" d="M163.72 309h0.75v0.75h-0.75zM167.54 318.39h0.75v0.75h-0.75zM155.23 318.11h0.75v0.75h-0.75zM143.78 314.56h0.75v0.75h-0.75zM168.2 309.13h0.75v0.75h-0.75zM166.93 307.31h0.75v0.75h-0.75zM186.98 316.01h0.75v0.75h-0.75zM177.82 309.25h0.75v0.75h-0.75zM138.75 313.56h0.75v0.75h-0.75zM180.73 313.18h0.75v0.75h-0.75zM178.61 316.04h0.75v0.75h-0.75zM168.93 319.36h0.75v0.75h-0.75zM158.2 311.89h0.75v0.75h-0.75zM177.87 316.32h0.75v0.75h-0.75zM158.8 308.48h0.75v0.75h-0.75zM182.35 297.51h0.75v0.75h-0.75zM175.7 313.24h0.75v0.75h-0.75zM150.04 316.07h0.75v0.75h-0.75zM170.61 325.62h0.75v0.75h-0.75zM168.48 301.17h0.75v0.75h-0.75zM154.31 317.88h0.75v0.75h-0.75zM159.47 313.69h0.75v0.75h-0.75zM164.12 321.3h0.75v0.75h-0.75zM168.87 313.19h0.75v0.75h-0.75zM157.68 319.13h0.75v0.75h-0.75zM157.08 316.1h0.75v0.75h-0.75zM169.89 317.8h0.75v0.75h-0.75zM174.13 315.43h0.75v0.75h-0.75zM187.77 317.99h0.75v0.75h-0.75zM156.41 309.36h0.75v0.75h-0.75zM157.07 320.77h0.75v0.75h-0.75zM152.48 321.99h0.75v0.75h-0.75zM169.97 310.99h0.75v0.75h-0.75zM153.66 313.49h0.75v0.75h-0.75zM173.75 313.62h0.75v0.75h-0.75zM173.28 314.85h0.75v0.75h-0.75zM180.59 311.52h0.75v0.75h-0.75zM163.57 308.23h0.75v0.75h-0.75zM161.45 308.92h0.75v0.75h-0.75zM147.81 312.86h0.75v0.75h-0.75zM172.82 302.55h0.75v0.75h-0.75zM150.55 306.86h0.75v0.75h-0.75zM169.27 316.87h0.75v0.75h-0.75zM168.75 313.04h0.75v0.75h-0.75zM156.34 314.94h0.75v0.75h-0.75zM155.21 312.81h0.75v0.75h-0.75zM169.62 312.7h0.75v0.75h-0.75zM178.69 302.89h0.75v0.75h-0.75zM147.01 319.07h0.75v0.75h-0.75zM158.64 311.6h0.75v0.75h-0.75zM158.8 313.68h0.75v0.75h-0.75zM163.29 315.83h0.75v0.75h-0.75zM175.56 323.43h0.75v0.75h-0.75zM141.01 313.42h0.75v0.75h-0.75zM155.04 315.08h0.75v0.75h-0.75zM153.67 314.33h0.75v0.75h-0.75zM168.2 313.79h0.75v0.75h-0.75zM167.71 317.34h0.75v0.75h-0.75zM153.11 313.75h0.75v0.75h-0.75zM176.93 318.73h0.75v0.75h-0.75zM176.14 309.76h0.75v0.75h-0.75zM157.56 319h0.75v0.75h-0.75zM165.09 315.48h0.75v0.75h-0.75zM161.09 318.63h0.75v0.75h-0.75zM167.02 308.94h0.75v0.75h-0.75zM169.23 312.21h0.75v0.75h-0.75zM162.09 316.87h0.75v0.75h-0.75zM166.72 311.07h0.75v0.75h-0.75zM151.86 311.72h0.75v0.75h-0.75zM163.54 307.92h0.75v0.75h-0.75zM158.05 325.82h0.75v0.75h-0.75zM157.86 314.31h0.75v0.75h-0.75zM151.14 312.34h0.75v0.75h-0.75zM167.85 314.81h0.75v0.75h-0.75zM145.94 314.17h0.75v0.75h-0.75zM154.01 319.53h0.75v0.75h-0.75zM163.91 322.04h0.75v0.75h-0.75zM169.13 308.07h0.75v0.75h-0.75zM175.75 311.51h0.75v0.75h-0.75zM163.81 314.48h0.75v0.75h-0.75zM150.42 319.94h0.75v0.75h-0.75zM166.75 308.75h0.75v0.75h-0.75zM149.58 316.33h0.75v0.75h-0.75zM178.73 316.04h0.75v0.75h-0.75zM168.57 311.87h0.75v0.75h-0.75zM177.4 316.76h0.75v0.75h-0.75zM156.01 310.88h0.75v0.75h-0.75zM140.7 319.85h0.75v0.75h-0.75zM198.79 313.4h0.75v0.75h-0.75zM169.96 317.87h0.75v0.75h-0.75zM162.6 324.86h0.75v0.75h-0.75zM153.62 309.74h0.75v0.75h-0.75zM183.26 318.64h0.75v0.75h-0.75zM173.56 313.46h0.75v0.75h-0.75zM164.53 314.74h0.75v0.75h-0.75zM169.86 310.94h0.75v0.75h-0.75zM176.76 322.85h0.75v0.75h-0.75zM159.08 309.18h0.75v0.75h-0.75zM166.44 326.49h0.75v0.75h-0.75zM154.2 320.84h0.75v0.75h-0.75zM157.43 310.18h0.75v0.75h-0.75zM177.27 313.14h0.75v0.75h-0.75zM164.56 317.58h0.75v0.75h-0.75zM177.82 315.21h0.75v0.75h-0.75zM182.59 310.59h0.75v0.75h-0.75zM159.16 317.48h0.75v0.75h-0.75zM172.39 305.24h0.75v0.75h-0.75zM161.52 317.51h0.75v0.75h-0.75zM163.27 323.12h0.75v0.75h-0.75zM147.2 315.05h0.75v0.75h-0.75zM155.5 305.96h0.75v0.75h-0.75zM162.4 313.71h0.75v0.75h-0.75zM160.33 310.83h0.75v0.75h-0.75zM174.71 308.76h0.75v0.75h-0.75zM158.03 306.96h0.75v0.75h-0.75zM178.17 306.6h0.75v0.75h-0.75zM184.48 309.38h0.75v0.75h-0.75zM164.5 322.27h0.75v0.75h-0.75zM153.02 320.71h0.75v0.75h-0.75zM150.32 311.7h0.75v0.75h-0.75zM171.34 315.76h0.75v0.75h-0.75zM168.79 315.64h0.75v0.75h-0.75zM182.76 305.9h0.75v0.75h-0.75zM157.23 318.46h0.75v0.75h-0.75zM148.45 310.55h0.75v0.75h-0.75zM192.64 320.85h0.75v0.75h-0.75zM170.79 314.47h0.75v0.75h-0.75zM163.17 309.6h0.75v0.75h-0.75zM155.15 309.09h0.75v0.75h-0.75zM150.61 314.73h0.75v0.75h-0.75zM169.82 309.32h0.75v0.75h-0.75zM166.55 307.37h0.75v0.75h-0.75zM169.25 312.43h0.75v0.75h-0.75zM164.25 315.05h0.75v0.75h-0.75zM179.77 315.13h0.75v0.75h-0.75zM157.66 314.87h0.75v0.75h-0.75zM169.5 316.77h0.75v0.75h-0.75zM176.91 309.93h0.75v0.75h-0.75zM151.52 317.24h0.75v0.75h-0.75zM152.24 316.36h0.75v0.75h-0.75zM195.85 320.38h0.75v0.75h-0.75zM148.41 309.92h0.75v0.75h-0.75zM169.46 312.65h0.75v0.75h-0.75zM172.94 315.31h0.75v0.75h-0.75zM168.79 316.89h0.75v0.75h-0.75zM147.31 319.86h0.75v0.75h-0.75zM148.96 309.62h0.75v0.75h-0.75zM137.68 314.1h0.75v0.75h-0.75zM169.59 312.19h0.75v0.75h-0.75zM151.46 303.07h0.75v0.75h-0.75zM171.38 308.25h0.75v0.75h-0.75zM160.87 315.31h0.75v0.75h-0.75zM164.28 316.16h0.75v0.75h-0.75zM183.85 317.68h0.75v0.75h-0.75zM153.53 313.88h0.75v0.75h-0.75zM162.43 309.75h0.75v0.75h-0.75zM172.47 312.14h0.75v0.75h-0.75zM167.7 317.35h0.75v0.75h-0.75zM188.87 311.02h0.75v0.75h-0.75zM173.25 324.97h0.75v0.75h-0.75zM183.16 315.63h0.75v0.75h-0.75zM156.68 314.92h0.75v0.75h-0.75zM157.95 311.98h0.75v0.75h-0.75zM145.42 312.65h0.75v0.75h-0.75zM142.23 319.1h0.75v0.75h-0.75zM171 312.05h0.75v0.75h-0.75zM165.44 314.72h0.75v0.75h-0.75zM162.16 315.58h0.75v0.75h-0.75zM163.03 316.4h0.75v0.75h-0.75zM155.8 314.46h0.75v0.75h-0.75zM184.17 310.02h0.75v0.75h-0.75zM155.87 318.89h0.75v0.75h-0.75zM168.68 314.9h0.75v0.75h-0.75zM167.16 312.06h0.75v0.75h-0.75zM159.04 316.71h0.75v0.75h-0.75zM167.07 317.39h0.75v0.75h-0.75zM170.19 325.44h0.75v0.75h-0.75zM166.06 321.23h0.75v0.75h-0.75zM166.81 325.54h0.75v0.75h-0.75zM176.27 310.31h0.75v0.75h-0.75zM183.16 311.28h0.75v0.75h-0.75zM176.63 310.32h0.75v0.75h-0.75zM169.19 314.94h0.75v0.75h-0.75zM181.39 303.27h0.75v0.75h-0.75zM143.12 319.13h0.75v0.75h-0.75zM173.68 311.59h0.75v0.75h-0.75zM166.2 305.33h0.75v0.75h-0.75zM160.74 310.84h0.75v0.75h-0.75zM175.21 315.44h0.75v0.75h-0.75zM163.29 320.04h0.75v0.75h-0.75zM157.66 318.03h0.75v0.75h-0.75zM162.44 316.5h0.75v0.75h-0.75zM161.72 321.28h0.75v0.75h-0.75zM160.1 324.39h0.75v0.75h-0.75zM174.2 309.99h0.75v0.75h-0.75zM160.01 320.98h0.75v0.75h-0.75zM181.92 308.07h0.75v0.75h-0.75zM167.01 317.36h0.75v0.75h-0.75zM192.35 317.6h0.75v0.75h-0.75zM162.81 318.91h0.75v0.75h-0.75zM166.03 309.87h0.75v0.75h-0.75zM164.61 313.1h0.75v0.75h-0.75zM162.65 314.65h0.75v0.75h-0.75zM169.2 310.29h0.75v0.75h-0.75zM172.85 306.27h0.75v0.75h-0.75zM172.77 316.71h0.75v0.75h-0.75zM169.96 306.7h0.75v0.75h-0.75zM159.39 315.28h0.75v0.75h-0.75zM170.45 318.03h0.75v0.75h-0.75zM147.56 314.36h0.75v0.75h-0.75zM177.51 308.38h0.75v0.75h-0.75zM151.18 311.9h0.75v0.75h-0.75zM162.03 312.94h0.75v0.75h-0.75zM179.48 315.69h0.75v0.75h-0.75zM143.21 318.25h0.75v0.75h-0.75zM166.22 318.59h0.75v0.75h-0.75zM164.8 321.28h0.75v0.75h-0.75zM166.78 311.83h0.75v0.75h-0.75zM151.35 318.97h0.75v0.75h-0.75zM163.54 305.46h0.75v0.75h-0.75zM174.8 320.86h0.75v0.75h-0.75zM141.13 317.17h0.75v0.75h-0.75zM172.65 323.01h0.75v0.75h-0.75zM179.18 310.55h0.75v0.75h-0.75zM170.36 318.04h0.75v0.75h-0.75zM148.2 321.6h0.75v0.75h-0.75zM170.82 318.57h0.75v0.75h-0.75zM154.95 318.51h0.75v0.75h-0.75zM164.59 312.77h0.75v0.75h-0.75zM165.52 316.06h0.75v0.75h-0.75zM147.69 314.33h0.75v0.75h-0.75zM169.32 306.16h0.75v0.75h-0.75zM184.64 327.31h0.75v0.75h-0.75zM172.85 314.33h0.75v0.75h-0.75zM153.2 308.74h0.75v0.75h-0.75zM151 318.81h0.75v0.75h-0.75zM155.08 315.3h0.75v0.75h-0.75zM160.06 318.88h0.75v0.75h-0.75zM179.76 318.98h0.75v0.75h-0.75zM172.73 319.74h0.75v0.75h-0.75zM184.73 309.96h0.75v0.75h-0.75zM168.17 311.08h0.75v0.75h-0.75zM165.65 313.25h0.75v0.75h-0.75zM166.45 317.96h0.75v0.75h-0.75zM150.16 301.25h0.75v0.75h-0.75zM168.25 319.72h0.75v0.75h-0.75zM160.57 321.81h0.75v0.75h-0.75zM191.06 314.72h0.75v0.75h-0.75zM162.67 316.98h0.75v0.75h-0.75zM173.9 306.83h0.75v0.75h-0.75zM170.85 304.02h0.75v0.75h-0.75zM152.81 315.52h0.75v0.75h-0.75zM168.7 308.37h0.75v0.75h-0.75zM165.64 320.89h0.75v0.75h-0.75zM146.19 317.23h0.75v0.75h-0.75zM179.73 307.6h0.75v0.75h-0.75zM178.82 316.66h0.75v0.75h-0.75zM161.52 314.5h0.75v0.75h-0.75zM164.66 314.58h0.75v0.75h-0.75zM162.74 310.67h0.75v0.75h-0.75zM175.54 323h0.75v0.75h-0.75zM162.87 321.56h0.75v0.75h-0.75zM156.21 307.93h0.75v0.75h-0.75zM172.42 315.62h0.75v0.75h-0.75zM170.31 309.55h0.75v0.75h-0.75zM160.54 319.55h0.75v0.75h-0.75zM183.45 315.71h0.75v0.75h-0.75zM169.5 301.09h0.75v0.75h-0.75zM157.62 321.01h0.75v0.75h-0.75zM187.01 310.23h0.75v0.75h-0.75zM135.93 316.97h0.75v0.75h-0.75zM150.09 312.29h0.75v0.75h-0.75zM158.14 312.53h0.75v0.75h-0.75zM153.96 317.73h0.75v0.75h-0.75zM168.52 307.75h0.75v0.75h-0.75zM146.88 324.96h0.75v0.75h-0.75zM171.59 315.48h0.75v0.75h-0.75zM145.56 325.35h0.75v0.75h-0.75zM153.12 315.04h0.75v0.75h-0.75zM168.86 310.75h0.75v0.75h-0.75zM166.48 312.11h0.75v0.75h-0.75zM141.36 307.41h0.75v0.75h-0.75zM157.87 311.74h0.75v0.75h-0.75zM170 322.8h0.75v0.75h-0.75zM162.26 325.48h0.75v0.75h-0.75zM160.02 314.98h0.75v0.75h-0.75zM162.42 305.88h0.75v0.75h-0.75zM164.18 313.37h0.75v0.75h-0.75zM155.43 318.22h0.75v0.75h-0.75zM169.6 312.86h0.75v0.75h-0.75zM154.88 315.95h0.75v0.75h-0.75zM155.73 310.11h0.75v0.75h-0.75zM159.23 319.22h0.75v0.75h-0.75zM161.67 313.61h0.75v0.75h-0.75zM161.1 317.45h0.75v0.75h-0.75zM163.07 318.63h0.75v0.75h-0.75zM163.15 318.72h0.75v0.75h-0.75zM161.49 310.66h0.75v0.75h-0.75zM169.63 313.41h0.75v0.75h-0.75zM159.67 321.74h0.75v0.75h-0.75zM159.18 310.48h0.75v0.75h-0.75zM161 321.74h0.75v0.75h-0.75zM149.53 320.35h0.75v0.75h-0.75zM170.76 312.43h0.75v0.75h-0.75zM160.97 310.77h0.75v0.75h-0.75zM141.63 309.75h0.75v0.75h-0.75zM148.77 306.34h0.75v0.75h-0.75zM159.75 317.46h0.75v0.75h-0.75zM154.05 312.77h0.75v0.75h-0.75zM155.94 313.43h0.75v0.75h-0.75zM169.28 320.61h0.75v0.75h-0.75zM171.6 316.35h0.75v0.75h-0.75zM180.48 318.11h0.75v0.75h-0.75zM170.26 317.35h0.75v0.75h-0.75zM174.06 309.25h0.75v0.75h-0.75zM154.53 314.92h0.75v0.75h-0.75zM144.33 313.09h0.75v0.75h-0.75zM160.82 316.09h0.75v0.75h-0.75zM172.54 321.1h0.75v0.75h-0.75zM137.57 315.57h0.75v0.75h-0.75zM168.49 321.77h0.75v0.75h-0.75zM157.49 316.6h0.75v0.75h-0.75zM162.85 309.7h0.75v0.75h-0.75zM167.36 319.37h0.75v0.75h-0.75zM160.51 314.95h0.75v0.75h-0.75zM177.05 313.53h0.75v0.75h-0.75zM160.93 315.98h0.75v0.75h-0.75zM169.59 316.55h0.75v0.75h-0.75zM178.64 316.73h0.75v0.75h-0.75zM150.83 306.25h0.75v0.75h-0.75zM163.42 323.01h0.75v0.75h-0.75zM164.94 312.27h0.75v0.75h-0.75zM167.62 317.17h0.75v0.75h-0.75zM178.69 307.99h0.75v0.75h-0.75zM173.25 315.44h0.75v0.75h-0.75zM173.86 319.98h0.75v0.75h-0.75zM139.02 319.16h0.75v0.75h-0.75zM170.13 310.5h0.75v0.75h-0.75zM163.01 319.84h0.75v0.75h-0.75zM147.28 318.97h0.75v0.75h-0.75zM173.53 323.39h0.75v0.75h-0.75zM154.82 311.35h0.75v0.75h-0.75zM175.87 313.06h0.75v0.75h-0.75zM169.08 301.25h0.75v0.75h-0.75zM191.74 305.04h0.75v0.75h-0.75zM145.61 317.03h0.75v0.75h-0.75zM170.09 310.37h0.75v0.75h-0.75zM139.18 317.27h0.75v0.75h-0.75zM167.02 309.82h0.75v0.75h-0.75zM165.9 311.54h0.75v0.75h-0.75zM152.72 318.05h0.75v0.75h-0.75zM164.39 314.68h0.75v0.75h-0.75zM150.22 310.89h0.75v0.75h-0.75zM161.2 311.43h0.75v0.75h-0.75zM168.29 314.65h0.75v0.75h-0.75zM161.81 313.62h0.75v0.75h-0.75zM169.02 319.63h0.75v0.75h-0.75zM152.02 319.34h0.75v0.75h-0.75zM174.63 318.5h0.75v0.75h-0.75zM158.01 315.55h0.75v0.75h-0.75zM188.41 307.72h0.75v0.75h-0.75zM173.9 313.16h0.75v0.75h-0.75zM183.33 315.18h0.75v0.75h-0.75zM174.03 311.31h0.75v0.75h-0.75zM158.66 322.66h0.75v0.75h-0.75zM149.82 311.81h0.75v0.75h-0.75zM161.46 308.11h0.75v0.75h-0.75zM171.5 308.23h0.75v0.75h-0.75zM164.87 313.27h0.75v0.75h-0.75zM139.18 315.24h0.75v0.75h-0.75zM146.65 314.62h0.75v0.75h-0.75zM137.69 311.75h0.75v0.75h-0.75zM173.67 315.88h0.75v0.75h-0.75zM177.15 322.75h0.75v0.75h-0.75zM172.73 313.49h0.75v0.75h-0.75zM162.98 317.67h0.75v0.75h-0.75zM150.12 309.16h0.75v0.75h-0.75zM164.22 323.36h0.75v0.75h-0.75zM151.57 315.75h0.75v0.75h-0.75zM156.24 318.14h0.75v0.75h-0.75zM168.32 314.29h0.75v0.75h-0.75zM174.7 313.17h0.75v0.75h-0.75zM145.28 325.19h0.75v0.75h-0.75zM163.05 316.05h0.75v0.75h-0.75zM173.28 310.31h0.75v0.75h-0.75zM158.98 310.62h0.75v0.75h-0.75zM170.9 316.51h0.75v0.75h-0.75zM166.58 307.81h0.75v0.75h-0.75zM154.92 307.08h0.75v0.75h-0.75zM148.72 310.69h0.75v0.75h-0.75zM167.66 316.99h0.75v0.75h-0.75zM143.75 317.69h0.75v0.75h-0.75zM168.41 322.57h0.75v0.75h-0.75zM174.1 306.78h0.75v0.75h-0.75zM169.9 315.65h0.75v0.75h-0.75zM168.04 310.72h0.75v0.75h-0.75zM180.72 314.95h0.75v0.75h-0.75zM157.67 305.21h0.75v0.75h-0.75zM161.39 307.43h0.75v0.75h-0.75zM147.46 322.79h0.75v0.75h-0.75zM163.55 319.46h0.75v0.75h-0.75zM177.02 318.22h0.75v0.75h-0.75zM159.41 308.44h0.75v0.75h-0.75zM162.44 315.07h0.75v0.75h-0.75zM162.65 312.9h0.75v0.75h-0.75zM165.93 307.08h0.75v0.75h-0.75zM176.43 308.4h0.75v0.75h-0.75zM165.69 309.95h0.75v0.75h-0.75zM179.84 311.58h0.75v0.75h-0.75zM153.72 312.53h0.75v0.75h-0.75zM174.39 308.11h0.75v0.75h-0.75zM149.4 311.72h0.75v0.75h-0.75zM173 299.35h0.75v0.75h-0.75zM174.92 326.05h0.75v0.75h-0.75zM162.31 319.22h0.75v0.75h-0.75zM162.84 304.89h0.75v0.75h-0.75zM159.39 317.59h0.75v0.75h-0.75zM151.53 312.91h0.75v0.75h-0.75zM156.72 316.44h0.75v0.75h-0.75zM192.76 314.85h0.75v0.75h-0.75zM149.42 322.99h0.75v0.75h-0.75zM160.95 312.28h0.75v0.75h-0.75zM170.05 318.36h0.75v0.75h-0.75zM166.85 316.22h0.75v0.75h-0.75zM166.38 308.21h0.75v0.75h-0.75zM173.32 318.92h0.75v0.75h-0.75zM155.31 305.39h0.75v0.75h-0.75zM157.4 315.37h0.75v0.75h-0.75zM180.57 315.57h0.75v0.75h-0.75zM126.83 311.22h0.75v0.75h-0.75zM165.06 315.66h0.75v0.75h-0.75zM146.84 312.57h0.75v0.75h-0.75zM165.93 317.99h0.75v0.75h-0.75zM173.73 322.94h0.75v0.75h-0.75zM156.43 312.19h0.75v0.75h-0.75zM159.16 316.96h0.75v0.75h-0.75zM187.4 315.36h0.75v0.75h-0.75zM166.2 309.68h0.75v0.75h-0.75zM149.57 323.59h0.75v0.75h-0.75zM163.36 321.75h0.75v0.75h-0.75zM173.83 311.86h0.75v0.75h-0.75zM167.22 309.73h0.75v0.75h-0.75zM171.65 313.64h0.75v0.75h-0.75zM173.44 320.87h0.75v0.75h-0.75zM157.56 318.57h0.75v0.75h-0.75zM169.4 311.69h0.75v0.75h-0.75zM167.55 320.84h0.75v0.75h-0.75zM166.26 319.46h0.75v0.75h-0.75zM168.37 320.96h0.75v0.75h-0.75zM162.86 312.7h0.75v0.75h-0.75zM171.7 302.57h0.75v0.75h-0.75zM158.42 322.35h0.75v0.75h-0.75zM155.79 324h0.75v0.75h-0.75zM183.06 311.84h0.75v0.75h-0.75zM155.66 316.46h0.75v0.75h-0.75zM174.9 323.48h0.75v0.75h-0.75zM182.13 310.74h0.75v0.75h-0.75zM174.42 311.77h0.75v0.75h-0.75zM176.92 316.82h0.75v0.75h-0.75zM181.13 313.96h0.75v0.75h-0.75zM174.03 307.82h0.75v0.75h-0.75zM153.21 317.05h0.75v0.75h-0.75zM165.64 318.97h0.75v0.75h-0.75zM191.18 311.18h0.75v0.75h-0.75zM150.72 308.91h0.75v0.75h-0.75zM157.27 320.43h0.75v0.75h-0.75zM168.9 312.85h0.75v0.75h-0.75zM172.31 313.53h0.75v0.75h-0.75zM167.48 314.3h0.75v0.75h-0.75zM148.75 318.62h0.75v0.75h-0.75zM166.58 325.96h0.75v0.75h-0.75zM165.67 311.28h0.75v0.75h-0.75zM166.58 310.61h0.75v0.75h-0.75zM164.09 312.45h0.75v0.75h-0.75zM168.42 309.59h0.75v0.75h-0.75zM163.27 312.24h0.75v0.75h-0.75zM153.14 314.01h0.75v0.75h-0.75zM172.62 318.17h0.75v0.75h-0.75zM168.19 313.76h0.75v0.75h-0.75zM175.64 312.9h0.75v0.75h-0.75z"/>
<path fill="#333" fill-opacity="0.6" d="M178.18 323.94h0.75v0.75h-0.75zM159.96 327.89h0.75v0.75h-0.75zM182.65 329.73h0.75v0.75h-0.75zM176.11 326.42h0.75v0.75h-0.75zM156.98 341.86h0.75v0.75h-0.75zM187.7 337.73h0.75v0.75h-0.75zM171.75 328.14h0.75v0.75h-0.75zM174.18 329.8h0.75v0.75h-0.75zM167.12 320.95h0.75v0.75h-0.75zM173.85 322.02h0.75v0.75h-0.75zM166.71 324.69h0.75v0.75h-0.75zM191.14 325.68h0.75v0.75h-0.75zM167.82 332.23h0.75v0.75h-0.75zM168.59 331.73h0.75v0.75h-0.75zM180.75 328.23h0.75v0.75h-0.75zM176.76 330.24h0.75v0.75h-0.75zM158.89 331.88h0.75v0.75h-0.75zM161.22 334.85h0.75v0.75h-0.75zM171.78 331.43h0.75v0.75h-0.75zM181.47 327.44h0.75v0.75h-0.75zM163.95 336.43h0.75v0.75h-0.75zM178.78 332.45h0.75v0.75h-0.75zM152.29 330.82h0.75v0.75h-0.75zM162.46 328.33h0.75v0.75h-0.75zM155.74 324.21h0.75v0.75h-0.75zM167.47 332.23h0.75v0.75h-0.75zM166.78 330.01h0.75v0.75h-0.75zM172.51 336.07h0.75v0.75h-0.75zM166.05 331.23h0.75v0.75h-0.75zM198.79 330.6h0.75v0.75h-0.75zM179.82 325.99h0.75v0.75h-0.75zM161.36 328.94h0.75v0.75h-0.75zM201.97 328.22h0.75v0.75h-0.75zM185.66 328.72h0.75v0.75h-0.75zM159.45 323.25h0.75v0.75h-0.75zM173.38 334.9h0.75v0.75h-0.75zM163.94 329.1h0.75v0.75h-0.75zM160.83 327.81h0.75v0.75h-0.75zM181.88 328.55h0.75v0.75h-0.75zM161.44 333.13h0.75v0.75h-0.75zM174.43 330.52h0.75v0.75h-0.75zM192.2 331.89h0.75v0.75h-0.75zM183.3 325.77h0.75v0.75h-0.75zM171.14 335.74h0.75v0.75h-0.75zM179.29 334.33h0.75v0.75h-0.75zM157.15 329.58h0.75v0.75h-0.75zM188.54 336.51h0.75v0.75h-0.75zM141.14 323.17h0.75v0.75h-0.75zM185.46 333.86h0.75v0.75h-0.75zM185.12 319.55h0.75v0.75h-0.75zM172.76 333.87h0.75v0.75h-0.75zM184.11 326.82h0.75v0.75h-0.75zM182.44 333.84h0.75v0.75h-0.75zM166.68 337.01h0.75v0.75h-0.75zM184.64 334.24h0.75v0.75h-0.75zM167.23 331.8h0.75v0.75h-0.75zM171.62 337.31h0.75v0.75h-0.75zM196.53 327.27h0.75v0.75h-0.75zM192.06 332.43h0.75v0.75h-0.75zM165.06 327.8h0.75v0.75h-0.75zM187.42 331.96h0.75v0.75h-0.75zM165.2 329.91h0.75v0.75h-0.75zM168.01 330.16h0.75v0.75h-0.75zM190.17 327.95h0.75v0.75h-0.75zM168.71 318.6h0.75v0.75h-0.75zM177.02 334.43h0.75v0.75h-0.75zM192.75 328.2h0.75v0.75h-0.75zM168.92 329.08h0.75v0.75h-0.75zM159.32 330.66h0.75v0.75h-0.75zM164 329.77h0.75v0.75h-0.75zM173.49 333.67h0.75v0.75h-0.75zM172.54 340.23h0.75v0.75h-0.75zM175.32 332.75h0.75v0.75h-0.75zM177.22 330.28h0.75v0.75h-0.75zM181.77 331.28h0.75v0.75h-0.75zM158.27 328.56h0.75v0.75h-0.75zM187.03 324.26h0.75v0.75h-0.75zM189.9 331.12h0.75v0.75h-0.75zM174.61 335.62h0.75v0.75h-0.75zM174.28 328.77h0.75v0.75h-0.75zM149.68 328.2h0.75v0.75h-0.75zM159.98 333.44h0.75v0.75h-0.75zM172.99 326.9h0.75v0.75h-0.75zM183.96 334.18h0.75v0.75h-0.75zM194.69 331.72h0.75v0.75h-0.75zM159.38 331.06h0.75v0.75h-0.75zM179.76 334.17h0.75v0.75h-0.75zM158.48 332.54h0.75v0.75h-0.75zM178.87 332.22h0.75v0.75h-0.75zM155.36 328.82h0.75v0.75h-0.75zM170.78 329.75h0.75v0.75h-0.75zM181.33 329.1h0.75v0.75h-0.75zM153.17 322.19h0.75v0.75h-0.75zM176.89 327.43h0.75v0.75h-0.75zM171.57 335.02h0.75v0.75h-0.75zM166.63 330.5h0.75v0.75h-0.75zM157.2 325.84h0.75v0.75h-0.75zM178.01 335.24h0.75v0.75h-0.75zM165.29 329.88h0.75v0.75h-0.75zM175.38 328.88h0.75v0.75h-0.75zM172.74 329.04h0.75v0.75h-0.75zM178.16 328.58h0.75v0.75h-0.75zM167.13 325.2h0.75v0.75h-0.75zM164.09 324.71h0.75v0.75h-0.75zM170.57 334.56h0.75v0.75h-0.75zM158.79 327.22h0.75v0.75h-0.75zM164.14 332.43h0.75v0.75h-0.75zM168.89 329.32h0.75v0.75h-0.75zM162.2 329.54h0.75v0.75h-0.75zM168.4 327.4h0.75v0.75h-0.75zM186.49 332.53h0.75v0.75h-0.75zM170.37 331.82h0.75v0.75h-0.75zM195.55 333.02h0.75v0.75h-0.75zM166.52 330.46h0.75v0.75h-0.75zM183.77 332.4h0.75v0.75h-0.75zM169.18 330.97h0.75v0.75h-0.75zM160.52 329.3h0.75v0.75h-0.75zM167.8 329.62h0.75v0.75h-0.75zM185.97 330.7h0.75v0.75h-0.75zM183.93 330.56h0.75v0.75h-0.75zM156.59 335.37h0.75v0.75h-0.75zM166.45 330.11h0.75v0.75h-0.75zM183.33 336.07h0.75v0.75h-0.75zM173.65 335.57h0.75v0.75h-0.75zM166.94 333.11h0.75v0.75h-0.75zM162.69 334.42h0.75v0.75h-0.75zM166.22 333.14h0.75v0.75h-0.75zM159.69 336.23h0.75v0.75h-0.75zM188.74 329.54h0.75v0.75h-0.75zM172.68 326.79h0.75v0.75h-0.75zM170 324.87h0.75v0.75h-0.75zM179.4 330.28h0.75v0.75h-0.75zM183.98 330.56h0.75v0.75h-0.75zM169.67 327.3h0.75v0.75h-0.75zM178.54 330.07h0.75v0.75h-0.75zM159.76 324.71h0.75v0.75h-0.75zM181.84 330.15h0.75v0.75h-0.75zM171.31 328.4h0.75v0.75h-0.75zM166.61 330.5h0.75v0.75h-0.75zM174.03 325.86h0.75v0.75h-0.75zM197.42 334.14h0.75v0.75h-0.75zM152.4 330.82h0.75v0.75h-0.75zM183.57 328h0.75v0.75h-0.75zM158.02 332.66h0.75v0.75h-0.75zM165.67 330.53h0.75v0.75h-0.75zM188.99 330.55h0.75v0.75h-0.75zM185.71 327.48h0.75v0.75h-0.75zM153.29 329.03h0.75v0.75h-0.75zM168.03 333.19h0.75v0.75h-0.75zM176.57 322.8h0.75v0.75h-0.75zM160.56 328.83h0.75v0.75h-0.75zM164.55 328.01h0.75v0.75h-0.75zM168.62 331.15h0.75v0.75h-0.75zM156.6 326.91h0.75v0.75h-0.75zM162.64 335.22h0.75v0.75h-0.75zM170.24 324.74h0.75v0.75h-0.75zM177.01 334.16h0.75v0.75h-0.75zM155.47 325.78h0.75v0.75h-0.75zM176.62 330.73h0.75v0.75h-0.75zM178.27 336.8h0.75v0.75h-0.75zM178.83 334.42h0.75v0.75h-0.75zM167.03 336.03h0.75v0.75h-0.75zM164.85 331.85h0.75v0.75h-0.75zM151.31 328.93h0.75v0.75h-0.75zM180.07 326.94h0.75v0.75h-0.75zM167.2 322.08h0.75v0.75h-0.75zM168.46 325.41h0.75v0.75h-0.75zM172.62 328.65h0.75v0.75h-0.75zM164.98 329.22h0.75v0.75h-0.75zM167.77 330.51h0.75v0.75h-0.75zM169.29 334.97h0.75v0.75h-0.75zM182.89 320.74h0.75v0.75h-0.75zM185.78 329.67h0.75v0.75h-0.75zM175.65 326.98h0.75v0.75h-0.75zM178.22 332.74h0.75v0.75h-0.75zM166.26 326.13h0.75v0.75h-0.75zM177.3 332.23h0.75v0.75h-0.75zM162.76 322.18h0.75v0.75h-0.75zM160.63 332.06h0.75v0.75h-0.75zM185.03 326.7h0.75v0.75h-0.75zM166.21 326.29h0.75v0.75h-0.75zM175.63 327.42h0.75v0.75h-0.75zM189.22 332.78h0.75v0.75h-0.75zM170.02 328.93h0.75v0.75h-0.75zM182.38 328.95h0.75v0.75h-0.75zM168.09 330.91h0.75v0.75h-0.75zM182.82 336.03h0.75v0.75h-0.75zM168.53 325.74h0.75v0.75h-0.75zM162.78 329.83h0.75v0.75h-0.75zM178.61 320.3h0.75v0.75h-0.75zM178.69 332.06h0.75v0.75h-0.75zM174.16 324.74h0.75v0.75h-0.75zM173.09 328.48h0.75v0.75h-0.75zM162.51 332.82h0.75v0.75h-0.75zM184.81 331.2h0.75v0.75h-0.75zM177.99 334.35h0.75v0.75h-0.75zM172.47 328.84h0.75v0.75h-0.75zM187.31 328.07h0.75v0.75h-0.75zM169.09 331.78h0.75v0.75h-0.75zM167.92 326.77h0.75v0.75h-0.75zM183.27 330.4h0.75v0.75h-0.75zM165.13 328.24h0.75v0.75h-0.75zM178.15 333.62h0.75v0.75h-0.75zM174.25 334.93h0.75v0.75h-0.75zM172.08 336.61h0.75v0.75h-0.75zM181.39 326.04h0.75v0.75h-0.75zM171.29 331.73h0.75v0.75h-0.75zM172.07 326.66h0.75v0.75h-0.75zM177.01 330.21h0.75v0.75h-0.75zM157.22 325.53h0.75v0.75h-0.75zM168.34 334.03h0.75v0.75h-0.75zM171.89 331.18h0.75v0.75h-0.75zM181.84 329.6h0.75v0.75h-0.75zM172.44 330.18h0.75v0.75h-0.75zM181.42 327.93h0.75v0.75h-0.75zM176.17 327.67h0.75v0.75h-0.75zM173.16 334.7h0.75v0.75h-0.75zM164.4 332.31h0.75v0.75h-0.75zM173.07 331.33h0.75v0.75h-0.75zM177.57 330.76h0.75v0.75h-0.75zM177.3 337.41h0.75v0.75h-0.75zM165.44 326.31h0.75v0.75h-0.75zM179.8 331.96h0.75v0.75h-0.75zM192.22 328.06h0.75v0.75h-0.75zM179.57 328.35h0.75v0.75h-0.75zM167.53 328.17h0.75v0.75h-0.75zM164.28 326.84h0.75v0.75h-0.75zM169.17 329.84h0.75v0.75h-0.75zM172.92 333.58h0.75v0.75h-0.75zM163.43 330.13h0.75v0.75h-0.75zM163.71 333.64h0.75v0.75h-0.75zM163.32 329.11h0.75v0.75h-0.75zM164.6 334.58h0.75v0.75h-0.75zM160.41 326.08h0.75v0.75h-0.75zM168.51 329.1h0.75v0.75h-0.75zM163.26 334.79h0.75v0.75h-0.75zM166.94 322.45h0.75v0.75h-0.75zM170.41 325.4h0.75v0.75h-0.75zM165.92 328.57h0.75v0.75h-0.75zM163.49 328.86h0.75v0.75h-0.75zM168.46 332.83h0.75v0.75h-0.75zM197.21 327.8h0.75v0.75h-0.75zM167.85 334.79h0.75v0.75h-0.75zM189.09 333.45h0.75v0.75h-0.75zM169.82 337.88h0.75v0.75h-0.75zM173.22 335.04h0.75v0.75h-0.75zM167.05 325.74h0.75v0.75h-0.75zM185.55 327.07h0.75v0.75h-0.75zM162.13 330.99h0.75v0.75h-0.75zM163.25 333.04h0.75v0.75h-0.75zM173.13 329.67h0.75v0.75h-0.75zM166.87 336.05h0.75v0.75h-0.75zM185.9 334.81h0.75v0.75h-0.75zM159.5 336.79h0.75v0.75h-0.75zM173.39 337.01h0.75v0.75h-0.75zM177.59 327.88h0.75v0.75h-0.75zM156.13 327.9h0.75v0.75h-0.75zM184.2 328.74h0.75v0.75h-0.75zM188.51 325.55h0.75v0.75h-0.75zM178.66 330.03h0.75v0.75h-0.75zM158.71 331.92h0.75v0.75h-0.75zM168.44 329.36h0.75v0.75h-0.75zM151.97 326.62h0.75v0.75h-0.75zM165.89 329.9h0.75v0.75h-0.75zM164.22 338.28h0.75v0.75h-0.75zM168.35 331.27h0.75v0.75h-0.75zM169.16 335.33h0.75v0.75h-0.75zM177.96 334.29h0.75v0.75h-0.75zM157.31 331.08h0.75v0.75h-0.75zM170.89 332.92h0.75v0.75h-0.75zM165.81 331.02h0.75v0.75h-0.75zM162.7 329.1h0.75v0.75h-0.75zM175.79 328.54h0.75v0.75h-0.75zM164.06 329.94h0.75v0.75h-0.75zM175.49 332.06h0.75v0.75h-0.75zM160.73 328.83h0.75v0.75h-0.75zM160.9 326.62h0.75v0.75h-0.75zM195.57 335.11h0.75v0.75h-0.75zM179.17 329.37h0.75v0.75h-0.75zM180.65 336.41h0.75v0.75h-0.75zM184.35 333.25h0.75v0.75h-0.75zM162.59 339.66h0.75v0.75h-0.75zM179.72 333.8h0.75v0.75h-0.75zM175.68 331.92h0.75v0.75h-0.75zM168.32 323.96h0.75v0.75h-0.75zM189.7 340.43h0.75v0.75h-0.75zM176.92 333.07h0.75v0.75h-0.75zM172.07 333.41h0.75v0.75h-0.75zM170.74 330.17h0.75v0.75h-0.75zM178.33 323.94h0.75v0.75h-0.75zM185.91 329h0.75v0.75h-0.75zM177.55 332.82h0.75v0.75h-0.75zM187.84 336.95h0.75v0.75h-0.75zM159.49 326.8h0.75v0.75h-0.75zM173.81 324.2h0.75v0.75h-0.75zM178.24 330.02h0.75v0.75h-0.75zM164.49 333.72h0.75v0.75h-0.75zM162.96 327.63h0.75v0.75h-0.75zM171.99 333.81h0.75v0.75h-0.75zM170.17 329.16h0.75v0.75h-0.75zM173.99 329.06h0.75v0.75h-0.75zM153.89 334.02h0.75v0.75h-0.75zM176.81 334.72h0.75v0.75h-0.75zM173.26 332.3h0.75v0.75h-0.75zM155.66 325.24h0.75v0.75h-0.75zM153.12 335.01h0.75v0.75h-0.75zM165.17 335.61h0.75v0.75h-0.75zM176.25 328.75h0.75v0.75h-0.75zM171 327.43h0.75v0.75h-0.75zM167.57 331.78h0.75v0.75h-0.75zM178.59 328.61h0.75v0.75h-0.75zM156.41 334.85h0.75v0.75h-0.75zM161.05 333.24h0.75v0.75h-0.75zM156.98 327h0.75v0.75h-0.75zM152.3 333h0.75v0.75h-0.75zM176.22 342.4h0.75v0.75h-0.75zM190.29 330.99h0.75v0.75h-0.75zM151.7 329.62h0.75v0.75h-0.75zM174.35 331.89h0.75v0.75h-0.75zM173.35 326.61h0.75v0.75h-0.75zM168.76 337.75h0.75v0.75h-0.75zM166.44 328.98h0.75v0.75h-0.75zM160.03 328.1h0.75v0.75h-0.75zM183.6 331.89h0.75v0.75h-0.75zM166.74 329.09h0.75v0.75h-0.75zM179.77 328.29h0.75v0.75h-0.75zM163.89 329.28h0.75v0.75h-0.75zM146.55 334.87h0.75v0.75h-0.75zM163.75 333.39h0.75v0.75h-0.75zM171.6 334.38h0.75v0.75h-0.75zM166.46 339.95h0.75v0.75h-0.75zM177.14 329.67h0.75v0.75h-0.75zM174.76 322.52h0.75v0.75h-0.75zM160.48 322.62h0.75v0.75h-0.75zM169.02 338.83h0.75v0.75h-0.75zM175.02 324.87h0.75v0.75h-0.75zM156.4 331.93h0.75v0.75h-0.75zM177.88 329.7h0.75v0.75h-0.75zM186.03 331.42h0.75v0.75h-0.75zM191.63 333.73h0.75v0.75h-0.75zM192.06 320.32h0.75v0.75h-0.75zM179.13 333.48h0.75v0.75h-0.75zM186.38 332.78h0.75v0.75h-0.75zM175.62 331.72h0.75v0.75h-0.75zM173.66 332.66h0.75v0.75h-0.75zM187.53 324.31h0.75v0.75h-0.75zM167.26 324.89h0.75v0.75h-0.75zM165.86 331.56h0.75v0.75h-0.75zM173.47 331.97h0.75v0.75h-0.75zM178.88 332.16h0.75v0.75h-0.75zM168.38 330.03h0.75v0.75h-0.75zM161.14 328.79h0.75v0.75h-0.75zM170.64 331.95h0.75v0.75h-0.75zM155.97 334.73h0.75v0.75h-0.75zM170.89 324.54h0.75v0.75h-0.75zM170.04 332.7h0.75v0.75h-0.75zM172.54 328.91h0.75v0.75h-0.75zM162.83 331.35h0.75v0.75h-0.75zM173.16 331.64h0.75v0.75h-0.75zM167.78 335.19h0.75v0.75h-0.75zM153.65 330.47h0.75v0.75h-0.75zM155.47 323.04h0.75v0.75h-0.75zM173.3 333.7h0.75v0.75h-0.75zM168.68 332.2h0.75v0.75h-0.75zM169.75 334.89h0.75v0.75h-0.75zM165.66 332.54h0.75v0.75h-0.75zM174.76 324.45h0.75v0.75h-0.75zM183.05 328.26h0.75v0.75h-0.75zM160.28 327.97h0.75v0.75h-0.75zM179.94 328.94h0.75v0.75h-0.75zM179.17 326.9h0.75v0.75h-0.75zM174.03 323.89h0.75v0.75h-0.75zM168.62 335.43h0.75v0.75h-0.75zM166.27 331.17h0.75v0.75h-0.75zM153.6 336.83h0.75v0.75h-0.75zM169.23 332.21h0.75v0.75h-0.75zM167.63 326.54h0.75v0.75h-0.75zM167.98 329.23h0.75v0.75h-0.75zM161.21 329.88h0.75v0.75h-0.75zM161.81 328.61h0.75v0.75h-0.75zM143.56 326.76h0.75v0.75h-0.75zM174.48 331.33h0.75v0.75h-0.75zM169.04 332.05h0.75v0.75h-0.75zM188.25 331.83h0.75v0.75h-0.75zM172.55 330.15h0.75v0.75h-0.75zM174.68 332.91h0.75v0.75h-0.75zM149.56 338.49h0.75v0.75h-0.75zM180.74 332.28h0.75v0.75h-0.75zM165.39 330.06h0.75v0.75h-0.75zM163.85 335.56h0.75v0.75h-0.75zM164.63 324.33h0.75v0.75h-0.75zM169.14 327.25h0.75v0.75h-0.75zM173.19 331.02h0.75v0.75h-0.75zM163.02 324.64h0.75v0.75h-0.75zM168 325.56h0.75v0.75h-0.75zM169.38 331.14h0.75v0.75h-0.75zM167.38 331.09h0.75v0.75h-0.75zM167.28 336.72h0.75v0.75h-0.75zM153.86 326.36h0.75v0.75h-0.75zM182.23 325.83h0.75v0.75h-0.75zM177.29 329.64h0.75v0.75h-0.75zM171.22 325.13h0.75v0.75h-0.75zM167.17 329.9h0.75v0.75h-0.75zM150.3 330.53h0.75v0.75h-0.75zM166.83 321.96h0.75v0.75h-0.75zM172.68 329.12h0.75v0.75h-0.75zM156.34 334.8h0.75v0.75h-0.75zM169.88 326.16h0.75v0.75h-0.75zM162.41 331.56h0.75v0.75h-0.75zM165.69 333.12h0.75v0.75h-0.75zM158.85 331.43h0.75v0.75h-0.75zM175.46 332.41h0.75v0.75h-0.75zM163.11 326.86h0.75v0.75h-0.75zM159.9 330.79h0.75v0.75h-0.75zM150.85 340.97h0.75v0.75h-0.75zM168.34 334.97h0.75v0.75h-0.75zM167.89 335.42h0.75v0.75h-0.75zM168.44 334.25h0.75v0.75h-0.75zM180.7 331.54h0.75v0.75h-0.75zM158.75 332.02h0.75v0.75h-0.75zM172.45 329.29h0.75v0.75h-0.75zM168.73 333.04h0.75v0.75h-0.75zM150.86 332.51h0.75v0.75h-0.75zM186.54 327.92h0.75v0.75h-0.75zM182.81 328.72h0.75v0.75h-0.75zM168.03 329.12h0.75v0.75h-0.75zM170.7 327.56h0.75v0.75h-0.75zM165.15 329.58h0.75v0.75h-0.75zM161.99 330.21h0.75v0.75h-0.75zM180.8 327.31h0.75v0.75h-0.75zM172.8 327.58h0.75v0.75h-0.75zM159.75 330.37h0.75v0.75h-0.75zM168.15 334.14h0.75v0.75h-0.75zM177.66 330.78h0.75v0.75h-0.75zM164.62 335.51h0.75v0.75h-0.75zM158.22 327.56h0.75v0.75h-0.75zM177.9 331.94h0.75v0.75h-0.75zM176.87 329.6h0.75v0.75h-0.75zM177.88 334.79h0.75v0.75h-0.75zM152.31 332.38h0.75v0.75h-0.75zM180.22 326.56h0.75v0.75h-0.75zM161.7 331.78h0.75v0.75h-0.75zM176.84 330.35h0.75v0.75h-0.75zM155.12 331.2h0.75v0.75h-0.75zM169.86 329h0.75v0.75h-0.75zM180.75 322.44h0.75v0.75h-0.75zM171.85 328.16h0.75v0.75h-0.75zM176.45 329.22h0.75v0.75h-0.75zM187.47 331.09h0.75v0.75h-0.75zM165.7 324.33h0.75v0.75h-0.75zM168.25 330.23h0.75v0.75h-0.75zM186.01 331.79h0.75v0.75h-0.75zM172.62 327h0.75v0.75h-0.75zM172.87 326.81h0.75v0.75h-0.75zM157.32 332.05h0.75v0.75h-0.75zM166.57 325.41h0.75v0.75h-0.75zM181.85 334.94h0.75v0.75h-0.75zM175.19 324.27h0.75v0.75h-0.75zM162.83 326.78h0.75v0.75h-0.75zM173.3 343.04h0.75v0.75h-0.75zM179.63 329.99h0.75v0.75h-0.75zM162.77 325.21h0.75v0.75h-0.75zM163.85 331.04h0.75v0.75h-0.75zM168.51 332.27h0.75v0.75h-0.75zM175.95 326.16h0.75v0.75h-0.75zM178.92 330.49h0.75v0.75h-0.75zM186.38 329.88h0.75v0.75h-0.75zM167.48 329.95h0.75v0.75h-0.75zM182.72 332.31h0.75v0.75h-0.75zM182.2 334.23h0.75v0.75h-0.75zM174.1 339.03h0.75v0.75h-0.75zM170.09 329.54h0.75v0.75h-0.75zM181.7 326.09h0.75v0.75h-0.75zM174.05 334.1h0.75v0.75h-0.75zM162.4 323.34h0.75v0.75h-0.75zM157.35 334.59h0.75v0.75h-0.75zM194.99 327.07h0.75v0.75h-0.75zM158.41 325.71h0.75v0.75h-0.75zM186.1 333.21h0.75v0.75h-0.75zM177.55 327.7h0.75v0.75h-0.75zM177.42 327.64h0.75v0.75h-0.75zM176.51 327.56h0.75v0.75h-0.75zM158.86 328.71h0.75v0.75h-0.75zM175.05 331.59h0.75v0.75h-0.75zM165.81 333.78h0.75v0.75h-0.75zM155.64 323.07h0.75v0.75h-0.75zM176.86 329.79h0.75v0.75h-0.75zM170.72 328.67h0.75v0.75h-0.75zM176.2 331.2h0.75v0.75h-0.75zM184.43 326.85h0.75v0.75h-0.75zM158.97 329.88h0.75v0.75h-0.75zM168.68 329.23h0.75v0.75h-0.75zM150.37 331.73h0.75v0.75h-0.75zM187.42 331.7h0.75v0.75h-0.75zM183.09 332.58h0.75v0.75h-0.75zM173.74 331.84h0.75v0.75h-0.75zM181.72 332.06h0.75v0.75h-0.75zM177.52 330.14h0.75v0.75h-0.75zM164.02 331.67h0.75v0.75h-0.75zM167.34 332.5h0.75v0.75h-0.75zM149.72 336.93h0.75v0.75h-0.75zM184.02 336.02h0.75v0.75h-0.75zM175.06 326.45h0.75v0.75h-0.75zM167.44 326.01h0.75v0.75h-0.75zM175.29 330.43h0.75v0.75h-0.75zM172.91 323.46h0.75v0.75h-0.75zM156.84 322.18h0.75v0.75h-0.75zM185 332.23h0.75v0.75h-0.75zM171.91 329.03h0.75v0.75h-0.75zM154 328.96h0.75v0.75h-0.75zM167.35 327.22h0.75v0.75h-0.75zM181.14 322.81h0.75v0.75h-0.75zM173.01 333.35h0.75v0.75h-0.75zM179.28 324.76h0.75v0.75h-0.75zM144.21 335.5h0.75v0.75h-0.75zM185.3 329.75h0.75v0.75h-0.75zM168.85 331.62h0.75v0.75h-0.75zM181.95 330.81h0.75v0.75h-0.75zM168.16 331.16h0.75v0.75h-0.75zM175.23 338.01h0.75v0.75h-0.75zM171.76 326.92h0.75v0.75h-0.75zM190.24 335.94h0.75v0.75h-0.75zM186 326.85h0.75v0.75h-0.75zM165.8 325.24h0.75v0.75h-0.75zM170.37 335.32h0.75v0.75h-0.75zM180.81 330.55h0.75v0.75h-0.75zM173.92 332.19h0.75v0.75h-0.75zM170.3 326.44h0.75v0.75h-0.75zM164.86 336.55h0.75v0.75h-0.75zM162.47 326.11h0.75v0.75h-0.75zM177.26 329.11h0.75v0.75h-0.75zM168.36 330.95h0.75v0.75h-0.75zM170.4 324.2h0.75v0.75h-0.75zM180.98 331.19h0.75v0.75h-0.75zM188.6 333.54h0.75v0.75h-0.75zM166.07 328.74h0.75v0.75h-0.75zM164.76 322.12h0.75v0.75h-0.75zM179 327.85h0.75v0.75h-0.75zM181.49 331.03h0.75v0.75h-0.75zM170.66 336.43h0.75v0.75h-0.75zM162.56 336.93h0.75v0.75h-0.75zM168.15 338.41h0.75v0.75h-0.75zM183.26 328.44h0.75v0.75h-0.75zM189.2 331.97h0.75v0.75h-0.75zM175.32 328.9h0.75v0.75h-0.75zM171.4 328.84h0.75v0.75h-0.75zM168.56 333.35h0.75v0.75h-0.75zM179.96 335.03h0.75v0.75h-0.75zM183.79 330.11h0.75v0.75h-0.75zM179.35 329.45h0.75v0.75h-0.75zM177.63 332.73h0.75v0.75h-0.75zM175.72 327.43h0.75v0.75h-0.75zM160.35 336.79h0.75v0.75h-0.75zM164.2 328.09h0.75v0.75h-0.75zM175.83 328.98h0.75v0.75h-0.75zM176.21 335.52h0.75v0.75h-0.75zM156.83 330.75h0.75v0.75h-0.75zM177.93 325.19h0.75v0.75h-0.75zM179.27 335.93h0.75v0.75h-0.75zM172.41 332.19h0.75v0.75h-0.75zM169.14 334.08h0.75v0.75h-0.75zM167.01 330.45h0.75v0.75h-0.75zM165.47 327.73h0.75v0.75h-0.75zM183.41 330.21h0.75v0.75h-0.75zM180.88 324.48h0.75v0.75h-0.75zM160.36 327.05h0.75v0.75h-0.75zM190.8 334.77h0.75v0.75h-0.75zM194.03 328.75h0.75v0.75h-0.75zM178.06 331.79h0.75v0.75h-0.75zM169.52 332.66h0.75v0.75h-0.75zM171.83 332.22h0.75v0.75h-0.75zM154.61 326.52h0.75v0.75h-0.75zM162.3 336.71h0.75v0.75h-0.75zM180.76 326.82h0.75v0.75h-0.75zM177 328.3h0.75v0.75h-0.75zM160.99 326.99h0.75v0.75h-0.75zM201.44 330.77h0.75v0.75h-0.75zM171.21 335.08h0.75v0.75h-0.75zM174.87 326.3h0.75v0.75h-0.75zM193.28 338.66h0.75v0.75h-0.75zM179.94 327.26h0.75v0.75h-0.75zM171.53 330.86h0.75v0.75h-0.75zM161.23 340.29h0.75v0.75h-0.75zM172.22 328.36h0.75v0.75h-0.75zM169.49 329.2h0.75v0.75h-0.75zM147.3 330.96h0.75v0.75h-0.75zM183.63 331.26h0.75v0.75h-0.75zM176.45 330.15h0.75v0.75h-0.75zM154.93 332.63h0.75v0.75h-0.75zM178.84 326.58h0.75v0.75h-0.75zM161 328.26h0.75v0.75h-0.75zM159.11 321.17h0.75v0.75h-0.75zM168.17 328.21h0.75v0.75h-0.75zM173.29 334.89h0.75v0.75h-0.75zM163.19 324.63h0.75v0.75h-0.75zM171.07 332.95h0.75v0.75h-0.75zM186.28 333.94h0.75v0.75h-0.75zM173.44 330.61h0.75v0.75h-0.75zM155.12 333h0.75v0.75h-0.75zM179.82 330.14h0.75v0.75h-0.75zM169.15 331.97h0.75v0.75h-0.75zM176.44 332.36h0.75v0.75h-0.75zM176.23 324.74h0.75v0.75h-0.75zM166.62 324.27h0.75v0.75h-0.75zM179.92 340.05h0.75v0.75h-0.75zM164.3 329.92h0.75v0.75h-0.75zM174.56 327.8h0.75v0.75h-0.75zM188.79 331.2h0.75v0.75h-0.75zM193.27 338.93h0.75v0.75h-0.75zM176.88 327.61h0.75v0.75h-0.75zM185.08 329.43h0.75v0.75h-0.75zM164.14 329.65h0.75v0.75h-0.75zM183.19 327.44h0.75v0.75h-0.75zM169.86 333.68h0.75v0.75h-0.75zM169.31 333.73h0.75v0.75h-0.75zM184.11 328.58h0.75v0.75h-0.75zM160.47 326.01h0.75v0.75h-0.75zM184.57 332.48h0.75v0.75h-0.75zM172.84 328.97h0.75v0.75h-0.75zM182.56 328.64h0.75v0.75h-0.75zM198.84 331.61h0.75v0.75h-0.75zM156.3 334.37h0.75v0.75h-0.75zM174.59 330.37h0.75v0.75h-0.75zM170.27 334.87h0.75v0.75h-0.75zM167.26 336.22h0.75v0.75h-0.75zM164.57 333.79h0.75v0.75h-0.75zM157.3 334h0.75v0.75h-0.75zM162.46 329.52h0.75v0.75h-0.75zM179.45 327.55h0.75v0.75h-0.75zM177.28 330.41h0.75v0.75h-0.75zM184.86 333.75h0.75v0.75h-0.75zM174.47 329.71h0.75v0.75h-0.75zM163.19 335.64h0.75v0.75h-0.75zM169.69 325.75h0.75v0.75h-0.75zM164.14 323.41h0.75v0.75h-0.75zM163.42 328.74h0.75v0.75h-0.75zM174.4 333.8h0.75v0.75h-0.75zM180.11 323.66h0.75v0.75h-0.75zM167.25 332.62h0.75v0.75h-0.75zM175.32 330.33h0.75v0.75h-0.75zM164.19 333.01h0.75v0.75h-0.75zM171.08 329.47h0.75v0.75h-0.75zM170.82 329.54h0.75v0.75h-0.75zM174.92 334.45h0.75v0.75h-0.75zM172.64 328.03h0.75v0.75h-0.75zM170.75 329.81h0.75v0.75h-0.75zM176.75 333.2h0.75v0.75h-0.75zM188.09 333.69h0.75v0.75h-0.75zM155.28 327.25h0.75v0.75h-0.75zM159.5 331.48h0.75v0.75h-0.75zM194.94 332.07h0.75v0.75h-0.75zM166.37 335.51h0.75v0.75h-0.75zM178 327.35h0.75v0.75h-0.75zM162.46 335.84h0.75v0.75h-0.75zM179.36 322.64h0.75v0.75h-0.75zM164.5 332.46h0.75v0.75h-0.75zM158.56 330.35h0.75v0.75h-0.75zM163.24 324.18h0.75v0.75h-0.75zM166.77 328.39h0.75v0.75h-0.75zM174.59 324.01h0.75v0.75h-0.75zM174.37 329.01h0.75v0.75h-0.75zM156.11 334.84h0.75v0.75h-0.75zM167.41 331.92h0.75v0.75h-0.75zM187.19 331.89h0.75v0.75h-0.75zM181.05 331.16h0.75v0.75h-0.75zM166.09 331.09h0.75v0.75h-0.75zM156.28 332.16h0.75v0.75h-0.75zM179.97 331.97h0.75v0.75h-0.75zM165.13 325.91h0.75v0.75h-0.75zM164.45 329.31h0.75v0.75h-0.75zM157.71 337.48h0.75v0.75h-0.75zM163.8 330.85h0.75v0.75h-0.75zM167.13 330.84h0.75v0.75h-0.75zM150.55 326.58h0.75v0.75h-0.75zM171.47 330.22h0.75v0.75h-0.75zM175.66 328.4h0.75v0.75h-0.75zM179.87 331.19h0.75v0.75h-0.75zM171.27 330.44h0.75v0.75h-0.75zM182.2 330.25h0.75v0.75h-0.75zM187.13 330.84h0.75v0.75h-0.75zM174.15 330.39h0.75v0.75h-0.75zM174.68 332.09h0.75v0.75h-0.75zM165.55 333.3h0.75v0.75h-0.75zM197.14 332.37h0.75v0.75h-0.75zM172.88 327.41h0.75v0.75h-0.75zM164.17 327.34h0.75v0.75h-0.75zM174.32 327.82h0.75v0.75h-0.75zM187.59 328.8h0.75v0.75h-0.75zM162.89 327.01h0.75v0.75h-0.75zM170.75 329.84h0.75v0.75h-0.75zM180.92 327.7h0.75v0.75h-0.75zM175.03 333.89h0.75v0.75h-0.75zM168.89 323.95h0.75v0.75h-0.75zM174.06 334.16h0.75v0.75h-0.75zM175.61 330.4h0.75v0.75h-0.75zM152.57 336.35h0.75v0.75h-0.75zM169.84 325.97h0.75v0.75h-0.75zM168.39 330.95h0.75v0.75h-0.75zM172.14 327.04h0.75v0.75h-0.75zM195.48 334.97h0.75v0.75h-0.75zM181.61 332.72h0.75v0.75h-0.75zM167.75 326.03h0.75v0.75h-0.75zM159.07 334.33h0.75v0.75h-0.75zM172.47 336.41h0.75v0.75h-0.75zM149.28 335.27h0.75v0.75h-0.75zM176.28 328.35h0.75v0.75h-0.75zM180.43 327.91h0.75v0.75h-0.75zM168.94 332.31h0.75v0.75h-0.75zM173.24 331.43h0.75v0.75h-0.75zM173.82 334.2h0.75v0.75h-0.75zM163.26 322.95h0.75v0.75h-0.75zM162.56 321.42h0.75v0.75h-0.75zM190.94 327.92h0.75v0.75h-0.75zM171.27 331.6h0.75v0.75h-0.75zM163.98 328.52h0.75v0.75h-0.75zM174.23 330.4h0.75v0.75h-0.75zM179.68 329.47h0.75v0.75h-0.75zM165.03 324.97h0.75v0.75h-0.75zM154.93 331.34h0.75v0.75h-0.75zM174.76 328.85h0.75v0.75h-0.75zM183.7 320.4h0.75v0.75h-0.75zM178.04 325.96h0.75v0.75h-0.75zM168.3 329.5h0.75v0.75h-0.75zM164.21 329.31h0.75v0.75h-0.75zM174.43 339.23h0.75v0.75h-0.75zM171.66 333.02h0.75v0.75h-0.75zM179.81 326.85h0.75v0.75h-0.75zM176.42 328.86h0.75v0.75h-0.75zM180.5 328.21h0.75v0.75h-0.75zM182.3 327.05h0.75v0.75h-0.75zM166.97 333.51h0.75v0.75h-0.75zM181.76 333.58h0.75v0.75h-0.75zM191.44 334.15h0.75v0.75h-0.75zM171.58 333.83h0.75v0.75h-0.75zM163.43 333.36h0.75v0.75h-0.75zM175.59 329.81h0.75v0.75h-0.75zM164.47 334.29h0.75v0.75h-0.75zM151.73 329.74h0.75v0.75h-0.75zM157.63 329.08h0.75v0.75h-0.75zM167.28 327.3h0.75v0.75h-0.75zM165.57 331.42h0.75v0.75h-0.75zM191.2 336.81h0.75v0.75h-0.75zM169.74 328.81h0.75v0.75h-0.75zM177.72 327.26h0.75v0.75h-0.75zM156.88 333.97h0.75v0.75h-0.75zM167.59 336.01h0.75v0.75h-0.75zM174.98 324.97h0.75v0.75h-0.75zM174.55 332.17h0.75v0.75h-0.75zM172.24 325.3h0.75v0.75h-0.75zM156.69 337.28h0.75v0.75h-0.75zM143.82 326.8h0.75v0.75h-0.75zM179.62 337.03h0.75v0.75h-0.75zM178.06 330.27h0.75v0.75h-0.75zM175.43 334.6h0.75v0.75h-0.75zM166.38 335.09h0.75v0.75h-0.75zM174.13 331.13h0.75v0.75h-0.75zM176 331.53h0.75v0.75h-0.75zM162.48 336.14h0.75v0.75h-0.75zM166.8 329.37h0.75v0.75h-0.75zM148.25 324.26h0.75v0.75h-0.75zM177.26 330.01h0.75v0.75h-0.75zM170.64 328.98h0.75v0.75h-0.75zM177.78 327.95h0.75v0.75h-0.75zM156.94 324.33h0.75v0.75h-0.75zM163.69 331.54h0.75v0.75h-0.75zM185.94 332.47h0.75v0.75h-0.75zM164.89 325.44h0.75v0.75h-0.75zM179.86 332.23h0.75v0.75h-0.75zM171.09 332.69h0.75v0.75h-0.75zM177.52 332.26h0.75v0.75h-0.75zM184.84 324.63h0.75v0.75h-0.75zM165.18 328.38h0.75v0.75h-0.75zM161.78 337.71h0.75v0.75h-0.75zM175.2 331.93h0.75v0.75h-0.75zM179.54 329.49h0.75v0.75h-0.75zM180.01 329.61h0.75v0.75h-0.75zM179.13 332.46h0.75v0.75h-0.75zM184.6 324.72h0.75v0.75h-0.75zM162.52 327.54h0.75v0.75h-0.75zM163.46 331.79h0.75v0.75h-0.75zM181.26 329.07h0.75v0.75h-0.75zM182.31 333.68h0.75v0.75h-0.75zM165.82 332.84h0.75v0.75h-0.75zM185.92 328.59h0.75v0.75h-0.75zM149.9 332.44h0.75v0.75h-0.75zM174.53 332.69h0.75v0.75h-0.75zM176.81 330.19h0.75v0.75h-0.75zM171.57 327.38h0.75v0.75h-0.75zM191.09 336.16h0.75v0.75h-0.75zM170.33 327.21h0.75v0.75h-0.75zM175.99 336.34h0.75v0.75h-0.75zM172.15 327.32h0.75v0.75h-0.75zM181.06 331.34h0.75v0.75h-0.75zM163.83 329.58h0.75v0.75h-0.75zM173.34 326.24h0.75v0.75h-0.75zM174.57 335.16h0.75v0.75h-0.75zM182.2 335.04h0.75v0.75h-0.75zM179.17 330.07h0.75v0.75h-0.75zM177.87 334.97h0.75v0.75h-0.75zM172.19 332.35h0.75v0.75h-0.75zM165.59 330.45h0.75v0.75h-0.75zM166.98 326.42h0.75v0.75h-0.75zM175.75 338.68h0.75v0.75h-0.75zM155.02 328.62h0.75v0.75h-0.75zM173.74 327.65h0.75v0.75h-0.75zM173.43 333.59h0.75v0.75h-0.75zM155.69 330.04h0.75v0.75h-0.75zM177.62 332.56h0.75v0.75h-0.75zM189.85 331.19h0.75v0.75h-0.75zM184.11 328.33h0.75v0.75h-0.75zM162.9 328.43h0.75v0.75h-0.75zM167.51 333.76h0.75v0.75h-0.75zM179.28 330.51h0.75v0.75h-0.75zM163 330.98h0.75v0.75h-0.75zM167.74 329.04h0.75v0.75h-0.75zM154.71 336.29h0.75v0.75h-0.75zM177.61 341.55h0.75v0.75h-0.75zM198.38 330.64h0.75v0.75h-0.75zM193.78 328.9h0.75v0.75h-0.75zM199.44 330.27h0.75v0.75h-0.75zM153.67 330.42h0.75v0.75h-0.75zM179.81 336.86h0.75v0.75h-0.75zM181.54 337.09h0.75v0.75h-0.75zM173.75 324.77h0.75v0.75h-0.75zM173.46 327.17h0.75v0.75h-0.75zM180.18 322.5h0.75v0.75h-0.75zM162.19 326.11h0.75v0.75h-0.75zM172.98 334.33h0.75v0.75h-0.75zM168.92 325.58h0.75v0.75h-0.75zM166.87 329.89h0.75v0.75h-0.75zM183.4 330.91h0.75v0.75h-0.75zM185.61 319.8h0.75v0.75h-0.75zM189.55 338.74h0.75v0.75h-0.75zM166.77 340.64h0.75v0.75h-0.75zM156.55 333.99h0.75v0.75h-0.75zM159.03 328.17h0.75v0.75h-0.75zM176.91 331.32h0.75v0.75h-0.75zM174.84 329.77h0.75v0.75h-0.75zM153.58 324.37h0.75v0.75h-0.75zM163.49 326.72h0.75v0.75h-0.75zM167.3 324.04h0.75v0.75h-0.75zM170.73 332.31h0.75v0.75h-0.75zM166.98 335.5h0.75v0.75h-0.75zM173.97 333.97h0.75v0.75h-0.75zM163.07 331.25h0.75v0.75h-0.75zM157.81 323.33h0.75v0.75h-0.75zM154.51 328.94h0.75v0.75h-0.75zM174.29 338.48h0.75v0.75h-0.75zM175.06 329.06h0.75v0.75h-0.75zM182.36 330.9h0.75v0.75h-0.75zM172.01 330.98h0.75v0.75h-0.75zM181.63 336.53h0.75v0.75h-0.75zM157.78 330.84h0.75v0.75h-0.75zM167.23 330.54h0.75v0.75h-0.75zM195.48 329.61h0.75v0.75h-0.75zM147.45 333.73h0.75v0.75h-0.75zM167.17 326.99h0.75v0.75h-0.75zM193.97 338.06h0.75v0.75h-0.75zM182.12 331.43h0.75v0.75h-0.75zM164.69 335.99h0.75v0.75h-0.75zM169.48 331.35h0.75v0.75h-0.75zM170.16 331.07h0.75v0.75h-0.75zM152.14 325.86h0.75v0.75h-0.75zM159.12 322.22h0.75v0.75h-0.75zM160.29 328.59h0.75v0.75h-0.75zM170.04 330.15h0.75v0.75h-0.75zM167.58 334.42h0.75v0.75h-0.75zM151.23 328.46h0.75v0.75h-0.75zM169.54 327.18h0.75v0.75h-0.75zM185.65 330.01h0.75v0.75h-0.75zM182.88 332.53h0.75v0.75h-0.75zM169.19 334.19h0.75v0.75h-0.75zM157.33 325.83h0.75v0.75h-0.75zM167.93 321.39h0.75v0.75h-0.75zM167.62 329.7h0.75v0.75h-0.75zM154.46 326.51h0.75v0.75h-0.75zM158.84 339.43h0.75v0.75h-0.75zM184.43 332.74h0.75v0.75h-0.75zM174.04 335.49h0.75v0.75h-0.75zM172.95 335.15h0.75v0.75h-0.75zM180.7 338.49h0.75v0.75h-0.75zM182.53 328.32h0.75v0.75h-0.75zM178.05 334.71h0.75v0.75h-0.75zM178.56 338.78h0.75v0.75h-0.75zM174.82 328.88h0.75v0.75h-0.75zM180.76 334.81h0.75v0.75h-0.75zM171.81 332.44h0.75v0.75h-0.75zM173.31 331.45h0.75v0.75h-0.75zM175.58 328.95h0.75v0.75h-0.75zM179.3 331.85h0.75v0.75h-0.75zM189.27 331.6h0.75v0.75h-0.75zM173.09 325.83h0.75v0.75h-0.75zM194.51 329.58h0.75v0.75h-0.75zM166.86 329.42h0.75v0.75h-0.75zM172 330.07h0.75v0.75h-0.75zM188.91 328.64h0.75v0.75h-0.75zM169.65 328.76h0.75v0.75h-0.75zM178.03 324.24h0.75v0.75h-0.75zM181.92 329.06h0.75v0.75h-0.75zM157.71 336.04h0.75v0.75h-0.75zM158.73 333.11h0.75v0.75h-0.75zM172.13 327.92h0.75v0.75h-0.75zM155.36 327.75h0.75v0.75h-0.75zM179.53 330.17h0.75v0.75h-0.75zM166.2 334.1h0.75v0.75h-0.75zM172.33 330.72h0.75v0.75h-0.75zM163.28 325.2h0.75v0.75h-0.75zM167.3 331.52h0.75v0.75h-0.75zM167.79 331.6h0.75v0.75h-0.75zM169.38 329.51h0.75v0.75h-0.75zM171.48 331.75h0.75v0.75h-0.75zM149.56 330.38h0.75v0.75h-0.75zM169.93 328.73h0.75v0.75h-0.75zM181.69 334.79h0.75v0.75h-0.75zM183.41 333.17h0.75v0.75h-0.75zM176.47 330.9h0.75v0.75h-0.75zM179.49 327.92h0.75v0.75h-0.75zM170.62 331.6h0.75v0.75h-0.75zM170.45 325.71h0.75v0.75h-0.75zM171 328.83h0.75v0.75h-0.75zM165.5 332.73h0.75v0.75h-0.75zM182.65 330.71h0.75v0.75h-0.75zM160.41 329.73h0.75v0.75h-0.75zM170.04 326.41h0.75v0.75h-0.75zM165.81 330.92h0.75v0.75h-0.75zM166.01 332.05h0.75v0.75h-0.75zM158.81 332.84h0.75v0.75h-0.75zM164.88 330.84h0.75v0.75h-0.75zM172.07 328.45h0.75v0.75h-0.75zM182.31 323.66h0.75v0.75h-0.75zM173.85 332.79h0.75v0.75h-0.75zM169.42 330.12h0.75v0.75h-0.75zM160.42 330.19h0.75v0.75h-0.75zM173.53 328.11h0.75v0.75h-0.75zM171.99 328.97h0.75v0.75h-0.75zM161.61 330.04h0.75v0.75h-0.75zM164.01 333.63h0.75v0.75h-0.75zM163.96 335.59h0.75v0.75h-0.75zM171.62 330.24h0.75v0.75h-0.75zM164.48 331.96h0.75v0.75h-0.75zM161.54 324.54h0.75v0.75h-0.75zM176.12 322.49h0.75v0.75h-0.75zM183.24 328.33h0.75v0.75h-0.75zM187.61 331.23h0.75v0.75h-0.75zM188.25 324.85h0.75v0.75h-0.75zM167.38 331.32h0.75v0.75h-0.75zM166.21 330.58h0.75v0.75h-0.75zM170.21 332.8h0.75v0.75h-0.75zM186.16 322.23h0.75v0.75h-0.75zM178.11 326h0.75v0.75h-0.75zM188.22 324.78h0.75v0.75h-0.75zM163.4 332.23h0.75v0.75h-0.75zM170.08 332.87h0.75v0.75h-0.75zM175.54 327.44h0.75v0.75h-0.75zM155.4 334.64h0.75v0.75h-0.75zM169.64 329.9h0.75v0.75h-0.75zM168.71 329.33h0.75v0.75h-0.75zM164.5 330.51h0.75v0.75h-0.75zM174.32 325.66h0.75v0.75h-0.75zM155.9 332.38h0.75v0.75h-0.75zM180.6 328.28h0.75v0.75h-0.75zM170.14 328.43h0.75v0.75h-0.75zM175.85 330.03h0.75v0.75h-0.75zM166.22 327.45h0.75v0.75h-0.75zM176.26 331.67h0.75v0.75h-0.75zM167.45 331.79h0.75v0.75h-0.75zM140.56 328.66h0.75v0.75h-0.75zM173.56 322.72h0.75v0.75h-0.75zM165.92 331.18h0.75v0.75h-0.75zM184.5 331.76h0.75v0.75h-0.75zM159.35 333.61h0.75v0.75h-0.75zM169 333.38h0.75v0.75h-0.75zM157.72 324.19h0.75v0.75h-0.75zM155.68 332.49h0.75v0.75h-0.75zM183.79 331.22h0.75v0.75h-0.75zM173.57 329.88h0.75v0.75h-0.75zM173.78 326.49h0.75v0.75h-0.75zM184.25 333.28h0.75v0.75h-0.75zM181.53 329.99h0.75v0.75h-0.75zM180.31 333.94h0.75v0.75h-0.75zM197.19 334.32h0.75v0.75h-0.75zM164.26 327.33h0.75v0.75h-0.75zM180.63 332.15h0.75v0.75h-0.75zM177.39 330.5h0.75v0.75h-0.75zM163.63 330.83h0.75v0.75h-0.75zM157.07 331.35h0.75v0.75h-0.75zM194.88 333h0.75v0.75h-0.75zM163.16 327.07h0.75v0.75h-0.75zM196.22 332.71h0.75v0.75h-0.75zM166.59 332.45h0.75v0.75h-0.75zM168.51 326.36h0.75v0.75h-0.75zM173.28 332.19h0.75v0.75h-0.75zM184.98 325.63h0.75v0.75h-0.75zM186.83 329.4h0.75v0.75h-0.75zM151.67 333.98h0.75v0.75h-0.75zM181.94 332.29h0.75v0.75h-0.75zM180.28 326.97h0.75v0.75h-0.75zM177.07 324.21h0.75v0.75h-0.75zM165.18 339.7h0.75v0.75h-0.75zM188.7 331.77h0.75v0.75h-0.75zM176.95 330.64h0.75v0.75h-0.75zM178.28 331.06h0.75v0.75h-0.75zM162.4 328.99h0.75v0.75h-0.75zM152.39 327.08h0.75v0.75h-0.75zM170.17 331.71h0.75v0.75h-0.75zM194.61 324.27h0.75v0.75h-0.75zM193.32 328.72h0.75v0.75h-0.75zM167.51 330h0.75v0.75h-0.75zM194.2 326.29h0.75v0.75h-0.75zM168.05 332.34h0.75v0.75h-0.75zM181.61 331.76h0.75v0.75h-0.75zM173.09 333.98h0.75v0.75h-0.75zM161.93 336.16h0.75v0.75h-0.75zM166.88 331.73h0.75v0.75h-0.75zM162.47 328.04h0.75v0.75h-0.75zM182.04 332.44h0.75v0.75h-0.75zM170 333.32h0.75v0.75h-0.75zM204.8 321.22h0.75v0.75h-0.75zM150.93 331.01h0.75v0.75h-0.75zM154.41 334.1h0.75v0.75h-0.75zM163.47 330.3h0.75v0.75h-0.75zM163.4 337.98h0.75v0.75h-0.75zM187.52 324.02h0.75v0.75h-0.75zM178.67 329.19h0.75v0.75h-0.75zM186.93 331.56h0.75v0.75h-0.75zM164.3 328.71h0.75v0.75h-0.75zM172.44 336.63h0.75v0.75h-0.75zM172.89 328.38h0.75v0.75h-0.75zM167.85 333.47h0.75v0.75h-0.75zM168.78 336.83h0.75v0.75h-0.75zM180.99 330.89h0.75v0.75h-0.75zM173.03 329.1h0.75v0.75h-0.75zM147.73 334.7h0.75v0.75h-0.75zM187.41 329.58h0.75v0.75h-0.75zM174.82 325.31h0.75v0.75h-0.75zM169.89 331.01h0.75v0.75h-0.75zM171.14 330.53h0.75v0.75h-0.75zM182.11 332.98h0.75v0.75h-0.75zM180.01 328.19h0.75v0.75h-0.75zM166.71 330.35h0.75v0.75h-0.75zM155.58 325h0.75v0.75h-0.75zM175.33 330.37h0.75v0.75h-0.75zM172.79 334.75h0.75v0.75h-0.75zM150.02 331.85h0.75v0.75h-0.75zM169.55 325.49h0.75v0.75h-0.75zM178.79 335.57h0.75v0.75h-0.75zM156.81 330.5h0.75v0.75h-0.75zM181.84 330.51h0.75v0.75h-0.75zM167.34 333.95h0.75v0.75h-0.75zM154.39 330.18h0.75v0.75h-0.75zM165.3 330.07h0.75v0.75h-0.75zM159.05 331h0.75v0.75h-0.75zM184.62 332.01h0.75v0.75h-0.75zM158.71 328.43h0.75v0.75h-0.75zM164.17 324.83h0.75v0.75h-0.75zM179.48 332.21h0.75v0.75h-0.75zM170.12 335.83h0.75v0.75h-0.75zM179.31 328.18h0.75v0.75h-0.75zM172.36 329.84h0.75v0.75h-0.75zM171.86 335.24h0.75v0.75h-0.75zM184.92 326.77h0.75v0.75h-0.75zM192.07 324.4h0.75v0.75h-0.75zM169.24 339.4h0.75v0.75h-0.75zM178.98 334.72h0.75v0.75h-0.75zM173.4 332.25h0.75v0.75h-0.75zM165.26 335.83h0.75v0.75h-0.75zM169.91 328.41h0.75v0.75h-0.75zM156.73 338.5h0.75v0.75h-0.75zM156.71 326.59h0.75v0.75h-0.75zM176.98 330.5h0.75v0.75h-0.75zM189.74 332.71h0.75v0.75h-0.75zM175.42 327.47h0.75v0.75h-0.75zM177.57 325.05h0.75v0.75h-0.75zM164.23 335.51h0.75v0.75h-0.75zM174.8 326.09h0.75v0.75h-0.75zM165.49 329.89h0.75v0.75h-0.75zM175.23 331.12h0.75v0.75h-0.75zM180.38 319.35h0.75v0.75h-0.75zM179.44 323.43h0.75v0.75h-0.75zM167.34 330.88h0.75v0.75h-0.75zM182.76 328.08h0.75v0.75h-0.75zM158.37 327.33h0.75v0.75h-0.75zM174.64 339.32h0.75v0.75h-0.75zM159.34 328.48h0.75v0.75h-0.75zM164.74 334.59h0.75v0.75h-0.75zM177.8 329.81h0.75v0.75h-0.75zM175.15 336.27h0.75v0.75h-0.75zM169.09 326.22h0.75v0.75h-0.75zM172.29 325.82h0.75v0.75h-0.75zM174.35 333.64h0.75v0.75h-0.75zM168.31 333.85h0.75v0.75h-0.75zM184.39 337.26h0.75v0.75h-0.75zM168.41 332.59h0.75v0.75h-0.75zM180.35 333.43h0.75v0.75h-0.75zM181.81 332.24h0.75v0.75h-0.75zM179.18 333.85h0.75v0.75h-0.75zM177.07 332.58h0.75v0.75h-0.75zM174.99 330.19h0.75v0.75h-0.75zM153.46 330.17h0.75v0.75h-0.75zM172.44 328.4h0.75v0.75h-0.75z"/>
<path fill="#333" fill-opacity="0.6" d="M138.43 338.16h0.75v0.75h-0.75zM147.86 327.85h0.75v0.75h-0.75zM148.99 332.88h0.75v0.75h-0.75zM141.05 335.99h0.75v0.75h-0.75zM146.96 331.39h0.75v0.75h-0.75zM142.22 337.71h0.75v0.75h-0.75zM145 336.01h0.75v0.75h-0.75zM147.44 332.51h0.75v0.75h-0.75zM136.58 331.95h0.75v0.75h-0.75zM138.84 336.27h0.75v0.75h-0.75zM133.58 329.48h0.75v0.75h-0.75zM143.31 325.68h0.75v0.75h-0.75zM135.61 329.48h0.75v0.75h-0.75zM144.2 337.27h0.75v0.75h-0.75zM133.06 331.61h0.75v0.75h-0.75zM133.96 328.68h0.75v0.75h-0.75zM143.13 338.01h0.75v0.75h-0.75zM142.57 326.44h0.75v0.75h-0.75zM139.03 324.9h0.75v0.75h-0.75zM134.08 331.17h0.75v0.75h-0.75zM136.91 337.54h0.75v0.75h-0.75zM144.48 337.02h0.75v0.75h-0.75zM150.33 333.08h0.75v0.75h-0.75zM145.56 330.35h0.75v0.75h-0.75zM141.72 326.64h0.75v0.75h-0.75zM147.11 326.74h0.75v0.75h-0.75zM140.21 324.84h0.75v0.75h-0.75zM148 332.53h0.75v0.75h-0.75zM136.81 332.66h0.75v0.75h-0.75zM146.85 331.08h0.75v0.75h-0.75zM134.67 326.51h0.75v0.75h-0.75zM142.77 324.08h0.75v0.75h-0.75zM143.9 330.99h0.75v0.75h-0.75zM139.52 338.63h0.75v0.75h-0.75zM135.1 334.3h0.75v0.75h-0.75zM140.28 322.36h0.75v0.75h-0.75zM142.49 329.2h0.75v0.75h-0.75zM144.42 327.58h0.75v0.75h-0.75zM134.76 333.7h0.75v0.75h-0.75zM137.18 335.87h0.75v0.75h-0.75zM137.28 334.7h0.75v0.75h-0.75zM147.09 327.44h0.75v0.75h-0.75zM140.89 327.81h0.75v0.75h-0.75zM147.69 333.93h0.75v0.75h-0.75zM135.58 326.75h0.75v0.75h-0.75zM134.99 328.14h0.75v0.75h-0.75zM145.67 327.37h0.75v0.75h-0.75zM145.65 325.72h0.75v0.75h-0.75zM147.89 336.04h0.75v0.75h-0.75zM138.86 338.15h0.75v0.75h-0.75zM137.34 331.06h0.75v0.75h-0.75zM135.24 336.19h0.75v0.75h-0.75zM149.27 332.99h0.75v0.75h-0.75zM143.99 335.91h0.75v0.75h-0.75zM147.86 329.12h0.75v0.75h-0.75zM144.19 329.8h0.75v0.75h-0.75zM137.86 326.35h0.75v0.75h-0.75zM143.37 325.18h0.75v0.75h-0.75zM139.21 337.73h0.75v0.75h-0.75zM140.39 335.79h0.75v0.75h-0.75zM146.65 330.38h0.75v0.75h-0.75zM134.43 334.42h0.75v0.75h-0.75zM142.9 334.72h0.75v0.75h-0.75zM133.87 331.52h0.75v0.75h-0.75zM143.93 337.55h0.75v0.75h-0.75zM135.43 328.27h0.75v0.75h-0.75zM134.59 332.21h0.75v0.75h-0.75zM143.9 331.52h0.75v0.75h-0.75zM142.98 324.03h0.75v0.75h-0.75zM138.03 337.86h0.75v0.75h-0.75zM144.77 326.61h0.75v0.75h-0.75zM147.27 329.76h0.75v0.75h-0.75zM134.75 333.76h0.75v0.75h-0.75zM136.07 337.87h0.75v0.75h-0.75zM134.91 331.28h0.75v0.75h-0.75zM135.34 332.91h0.75v0.75h-0.75zM135.57 333.23h0.75v0.75h-0.75zM135.16 332.5h0.75v0.75h-0.75zM147.41 324.75h0.75v0.75h-0.75zM146.88 333.3h0.75v0.75h-0.75zM147.63 332.29h0.75v0.75h-0.75zM134.91 326.66h0.75v0.75h-0.75zM137.63 326.2h0.75v0.75h-0.75zM143.18 324.94h0.75v0.75h-0.75zM138.8 338.35h0.75v0.75h-0.75zM137.38 337.88h0.75v0.75h-0.75zM143.49 325.41h0.75v0.75h-0.75zM147.93 330.43h0.75v0.75h-0.75zM148.33 330.26h0.75v0.75h-0.75zM147.66 331.18h0.75v0.75h-0.75zM134.4 335.41h0.75v0.75h-0.75zM142.04 326.47h0.75v0.75h-0.75zM147.07 329.12h0.75v0.75h-0.75zM148.09 329.8h0.75v0.75h-0.75zM134.38 330.25h0.75v0.75h-0.75zM143.85 336.57h0.75v0.75h-0.75zM137.97 325.73h0.75v0.75h-0.75zM143.46 326.51h0.75v0.75h-0.75zM148.35 330.54h0.75v0.75h-0.75zM145.75 335.08h0.75v0.75h-0.75zM136.66 326.91h0.75v0.75h-0.75zM139.53 324.62h0.75v0.75h-0.75zM134.71 336.54h0.75v0.75h-0.75zM148.51 333.77h0.75v0.75h-0.75zM138.34 324.64h0.75v0.75h-0.75zM137.33 323.79h0.75v0.75h-0.75zM148.45 330.7h0.75v0.75h-0.75zM141.66 325.91h0.75v0.75h-0.75zM146.97 333.29h0.75v0.75h-0.75zM144.68 325.56h0.75v0.75h-0.75zM139.32 326.66h0.75v0.75h-0.75zM144.23 324.46h0.75v0.75h-0.75zM138.05 337.3h0.75v0.75h-0.75zM146.68 333.74h0.75v0.75h-0.75zM144.59 327.45h0.75v0.75h-0.75zM145.78 336.92h0.75v0.75h-0.75zM141.98 325.25h0.75v0.75h-0.75zM137.82 338.08h0.75v0.75h-0.75zM138.3 323.85h0.75v0.75h-0.75zM137.8 326.16h0.75v0.75h-0.75zM145.46 335.63h0.75v0.75h-0.75zM145.87 337.61h0.75v0.75h-0.75zM149.9 333.46h0.75v0.75h-0.75zM136.47 328.22h0.75v0.75h-0.75zM134.66 334.95h0.75v0.75h-0.75zM144.53 337.02h0.75v0.75h-0.75zM144.55 327.62h0.75v0.75h-0.75zM133.81 327.29h0.75v0.75h-0.75zM137.02 325.97h0.75v0.75h-0.75zM147.01 334.56h0.75v0.75h-0.75zM134.3 332.78h0.75v0.75h-0.75zM135.03 331.83h0.75v0.75h-0.75zM134.33 331.46h0.75v0.75h-0.75zM145.45 332.32h0.75v0.75h-0.75zM147.24 328.33h0.75v0.75h-0.75zM145.57 330.71h0.75v0.75h-0.75zM146.34 328.69h0.75v0.75h-0.75zM133.68 330.83h0.75v0.75h-0.75zM133.6 327.5h0.75v0.75h-0.75zM135.01 327.12h0.75v0.75h-0.75zM145.45 325.83h0.75v0.75h-0.75zM135.3 326.48h0.75v0.75h-0.75zM147.87 329.34h0.75v0.75h-0.75zM138.59 336.32h0.75v0.75h-0.75zM137.25 325.83h0.75v0.75h-0.75zM134.84 333.7h0.75v0.75h-0.75zM137.58 336.49h0.75v0.75h-0.75zM142.54 337.36h0.75v0.75h-0.75zM134.85 328.57h0.75v0.75h-0.75zM147.01 336.9h0.75v0.75h-0.75zM147.79 333.13h0.75v0.75h-0.75zM136.31 327.17h0.75v0.75h-0.75zM135.43 327.7h0.75v0.75h-0.75zM133.41 330.67h0.75v0.75h-0.75zM147.79 333.83h0.75v0.75h-0.75zM136.08 333.09h0.75v0.75h-0.75zM146.96 332.08h0.75v0.75h-0.75zM141.14 337.27h0.75v0.75h-0.75zM147.29 329.51h0.75v0.75h-0.75zM134.75 334.51h0.75v0.75h-0.75zM146.43 328.03h0.75v0.75h-0.75zM134.36 330.99h0.75v0.75h-0.75zM146.07 336.64h0.75v0.75h-0.75zM141.26 336.16h0.75v0.75h-0.75zM135.04 330.13h0.75v0.75h-0.75zM145.53 337.7h0.75v0.75h-0.75zM135.08 336.12h0.75v0.75h-0.75zM145.18 336.24h0.75v0.75h-0.75zM135.22 330.45h0.75v0.75h-0.75zM138.6 327.5h0.75v0.75h-0.75zM149.43 335.04h0.75v0.75h-0.75zM147.06 329.91h0.75v0.75h-0.75zM137.83 328.46h0.75v0.75h-0.75zM134.61 331.58h0.75v0.75h-0.75zM139.48 337.17h0.75v0.75h-0.75zM134.85 326.25h0.75v0.75h-0.75zM142.69 338.97h0.75v0.75h-0.75zM141.02 325.04h0.75v0.75h-0.75zM135.18 336.19h0.75v0.75h-0.75zM135.01 326.22h0.75v0.75h-0.75zM136.2 326.02h0.75v0.75h-0.75zM136.94 327.44h0.75v0.75h-0.75zM136.77 325.64h0.75v0.75h-0.75zM134.4 334.18h0.75v0.75h-0.75zM139.19 337.53h0.75v0.75h-0.75zM136.72 336.54h0.75v0.75h-0.75zM145.62 335.93h0.75v0.75h-0.75zM149.7 333.31h0.75v0.75h-0.75zM146.41 332h0.75v0.75h-0.75zM137.96 328.07h0.75v0.75h-0.75zM148.33 331.27h0.75v0.75h-0.75zM147.43 332.07h0.75v0.75h-0.75zM135.38 334.59h0.75v0.75h-0.75zM136.9 333.04h0.75v0.75h-0.75zM133.21 332.73h0.75v0.75h-0.75zM134.54 329.54h0.75v0.75h-0.75zM138.71 323.91h0.75v0.75h-0.75zM141.89 325.39h0.75v0.75h-0.75zM148.15 328.18h0.75v0.75h-0.75zM141.1 325.97h0.75v0.75h-0.75zM146.31 332.98h0.75v0.75h-0.75zM139.9 323.37h0.75v0.75h-0.75zM143.37 338.8h0.75v0.75h-0.75zM139.75 338.51h0.75v0.75h-0.75zM133.66 328.49h0.75v0.75h-0.75zM140.04 323.32h0.75v0.75h-0.75zM137.03 329.81h0.75v0.75h-0.75zM150.01 328.64h0.75v0.75h-0.75zM142.58 328.93h0.75v0.75h-0.75zM147.16 335.44h0.75v0.75h-0.75zM146.12 327.22h0.75v0.75h-0.75zM138 336.23h0.75v0.75h-0.75zM143.57 336.39h0.75v0.75h-0.75zM135.44 331.2h0.75v0.75h-0.75zM147.79 327.71h0.75v0.75h-0.75zM143.56 339.25h0.75v0.75h-0.75zM133.33 331.98h0.75v0.75h-0.75zM146.56 335.18h0.75v0.75h-0.75zM144.99 333.57h0.75v0.75h-0.75zM141.03 339.92h0.75v0.75h-0.75zM137.13 335.93h0.75v0.75h-0.75zM139.56 337.16h0.75v0.75h-0.75zM133.82 331.67h0.75v0.75h-0.75zM135.39 335.12h0.75v0.75h-0.75zM135.01 334.06h0.75v0.75h-0.75zM140.49 325.57h0.75v0.75h-0.75zM147.76 336.17h0.75v0.75h-0.75zM139.36 327.32h0.75v0.75h-0.75zM147.51 334.24h0.75v0.75h-0.75zM142.96 337.56h0.75v0.75h-0.75zM146.07 330.69h0.75v0.75h-0.75zM147.87 326.84h0.75v0.75h-0.75zM141.11 325.32h0.75v0.75h-0.75zM135.12 327.02h0.75v0.75h-0.75zM135.84 327.51h0.75v0.75h-0.75zM134.18 331.63h0.75v0.75h-0.75zM141.73 336.89h0.75v0.75h-0.75zM139.82 335.41h0.75v0.75h-0.75zM146.03 327.87h0.75v0.75h-0.75zM136.45 336.94h0.75v0.75h-0.75zM146.05 328.44h0.75v0.75h-0.75zM135.77 327.04h0.75v0.75h-0.75zM133.05 329.54h0.75v0.75h-0.75zM139.75 337.59h0.75v0.75h-0.75zM144.03 325.67h0.75v0.75h-0.75zM139.43 336.35h0.75v0.75h-0.75zM139.38 337.71h0.75v0.75h-0.75zM144.08 337.23h0.75v0.75h-0.75zM143.38 336.53h0.75v0.75h-0.75zM144.97 333.17h0.75v0.75h-0.75zM141.74 324.72h0.75v0.75h-0.75zM136.44 324.87h0.75v0.75h-0.75zM147.93 332h0.75v0.75h-0.75zM143.33 337.6h0.75v0.75h-0.75zM138.71 334.6h0.75v0.75h-0.75zM137.23 336.63h0.75v0.75h-0.75zM140.01 337.53h0.75v0.75h-0.75zM136.13 330.69h0.75v0.75h-0.75zM141.55 339.29h0.75v0.75h-0.75zM147.19 328.82h0.75v0.75h-0.75zM135.47 326.5h0.75v0.75h-0.75zM142.63 337.78h0.75v0.75h-0.75zM143.03 338.68h0.75v0.75h-0.75zM148.19 329.79h0.75v0.75h-0.75zM147.67 335.23h0.75v0.75h-0.75zM148.26 337.79h0.75v0.75h-0.75zM133.52 332.2h0.75v0.75h-0.75zM135.31 325.95h0.75v0.75h-0.75zM138 335.58h0.75v0.75h-0.75zM135.55 327.19h0.75v0.75h-0.75zM141.67 325.12h0.75v0.75h-0.75zM137.95 334.61h0.75v0.75h-0.75zM147.13 332.07h0.75v0.75h-0.75zM145.6 334.34h0.75v0.75h-0.75zM135.91 327.96h0.75v0.75h-0.75zM137.35 337.31h0.75v0.75h-0.75zM136.46 323.98h0.75v0.75h-0.75zM141.37 324.78h0.75v0.75h-0.75zM146 326.87h0.75v0.75h-0.75zM139.17 336.33h0.75v0.75h-0.75zM136.2 334.03h0.75v0.75h-0.75zM140.69 325.49h0.75v0.75h-0.75zM146.36 332.42h0.75v0.75h-0.75zM134.89 332.13h0.75v0.75h-0.75zM143.07 324.75h0.75v0.75h-0.75zM140.94 325.09h0.75v0.75h-0.75zM144.17 325.53h0.75v0.75h-0.75zM134.08 329.5h0.75v0.75h-0.75zM138.93 327.79h0.75v0.75h-0.75zM146.62 334.1h0.75v0.75h-0.75zM135.28 330.19h0.75v0.75h-0.75zM134.86 331.57h0.75v0.75h-0.75zM148.96 332.18h0.75v0.75h-0.75zM132.78 330.09h0.75v0.75h-0.75zM146.91 327.75h0.75v0.75h-0.75zM143.91 326.66h0.75v0.75h-0.75zM134.89 332.56h0.75v0.75h-0.75zM137.01 327.16h0.75v0.75h-0.75zM146.39 336.98h0.75v0.75h-0.75zM137.78 327.2h0.75v0.75h-0.75zM145.45 328.33h0.75v0.75h-0.75zM148.31 332.99h0.75v0.75h-0.75zM146.85 332.23h0.75v0.75h-0.75zM149.05 333.46h0.75v0.75h-0.75zM145.54 328.39h0.75v0.75h-0.75zM146.93 329.1h0.75v0.75h-0.75zM146.84 329.07h0.75v0.75h-0.75zM137.1 331.49h0.75v0.75h-0.75zM134.11 332.54h0.75v0.75h-0.75zM141.27 324.7h0.75v0.75h-0.75zM140.88 324.74h0.75v0.75h-0.75zM134.19 329.52h0.75v0.75h-0.75zM146.86 329.07h0.75v0.75h-0.75zM145.84 325.58h0.75v0.75h-0.75zM133.79 336.65h0.75v0.75h-0.75zM148.17 332.14h0.75v0.75h-0.75zM146.57 333.79h0.75v0.75h-0.75zM135.38 330.22h0.75v0.75h-0.75zM134.76 334.62h0.75v0.75h-0.75zM146.58 326.22h0.75v0.75h-0.75zM147.06 337.48h0.75v0.75h-0.75zM147.53 332.13h0.75v0.75h-0.75zM139.68 338.89h0.75v0.75h-0.75zM141.32 326.81h0.75v0.75h-0.75zM137.33 336.32h0.75v0.75h-0.75zM144.44 338.78h0.75v0.75h-0.75zM137.31 334.17h0.75v0.75h-0.75zM136.75 336.84h0.75v0.75h-0.75zM140.81 337.19h0.75v0.75h-0.75zM136.69 325.13h0.75v0.75h-0.75zM146.7 333.49h0.75v0.75h-0.75zM141.42 323.75h0.75v0.75h-0.75zM139.12 324.97h0.75v0.75h-0.75zM135.04 329.67h0.75v0.75h-0.75zM139.82 337.79h0.75v0.75h-0.75zM144.69 337.23h0.75v0.75h-0.75zM138.04 339.07h0.75v0.75h-0.75zM146 336.95h0.75v0.75h-0.75zM134.33 333.07h0.75v0.75h-0.75zM147.84 331.95h0.75v0.75h-0.75zM136.74 336.91h0.75v0.75h-0.75zM138.77 325.92h0.75v0.75h-0.75zM135.5 334.86h0.75v0.75h-0.75zM144.25 337.27h0.75v0.75h-0.75zM137.64 328.18h0.75v0.75h-0.75zM144.72 335.75h0.75v0.75h-0.75zM142.51 325.12h0.75v0.75h-0.75zM140.86 326.87h0.75v0.75h-0.75zM140.91 322.46h0.75v0.75h-0.75zM140.57 323.26h0.75v0.75h-0.75zM135.11 331.74h0.75v0.75h-0.75zM144.59 325.74h0.75v0.75h-0.75zM135.19 335.93h0.75v0.75h-0.75zM139.2 337.13h0.75v0.75h-0.75zM147.58 332.48h0.75v0.75h-0.75zM132.66 328.31h0.75v0.75h-0.75zM144.38 326.52h0.75v0.75h-0.75zM140 324.84h0.75v0.75h-0.75zM142.24 339h0.75v0.75h-0.75zM143.42 325.15h0.75v0.75h-0.75zM146.88 335.03h0.75v0.75h-0.75zM139.8 336.26h0.75v0.75h-0.75zM138.89 337.9h0.75v0.75h-0.75zM147.84 330.89h0.75v0.75h-0.75zM144.05 325.56h0.75v0.75h-0.75zM144.02 335.39h0.75v0.75h-0.75zM147.6 330.57h0.75v0.75h-0.75zM145.4 338.02h0.75v0.75h-0.75zM137.92 325.13h0.75v0.75h-0.75zM133.65 327.72h0.75v0.75h-0.75zM134.69 328.35h0.75v0.75h-0.75zM146.27 324.38h0.75v0.75h-0.75zM131.85 334.73h0.75v0.75h-0.75zM137.36 325.62h0.75v0.75h-0.75zM136.31 333.74h0.75v0.75h-0.75zM148.23 333.17h0.75v0.75h-0.75zM143.22 326.66h0.75v0.75h-0.75zM135.11 327.9h0.75v0.75h-0.75zM146.16 327.05h0.75v0.75h-0.75zM148.27 332.88h0.75v0.75h-0.75zM139.29 337.71h0.75v0.75h-0.75zM137.6 333.61h0.75v0.75h-0.75zM131.81 330.69h0.75v0.75h-0.75zM146.22 338.66h0.75v0.75h-0.75zM142.18 327.66h0.75v0.75h-0.75zM134.02 330.38h0.75v0.75h-0.75zM139.61 325.55h0.75v0.75h-0.75zM134.75 335.34h0.75v0.75h-0.75zM137.02 336.2h0.75v0.75h-0.75zM135.8 325.64h0.75v0.75h-0.75zM144.58 335.26h0.75v0.75h-0.75zM147.52 328.2h0.75v0.75h-0.75zM132.83 330.67h0.75v0.75h-0.75zM142.84 326.12h0.75v0.75h-0.75zM137.59 324.72h0.75v0.75h-0.75zM134.69 330.95h0.75v0.75h-0.75zM134.21 335.45h0.75v0.75h-0.75zM135.99 330.83h0.75v0.75h-0.75zM147.52 326.68h0.75v0.75h-0.75zM138.18 325.42h0.75v0.75h-0.75zM144.68 325.28h0.75v0.75h-0.75zM143.86 337.38h0.75v0.75h-0.75zM138.47 334.71h0.75v0.75h-0.75zM136.74 326.79h0.75v0.75h-0.75zM136.02 328.7h0.75v0.75h-0.75zM138.75 327.48h0.75v0.75h-0.75zM135.84 326.93h0.75v0.75h-0.75zM135.71 328.89h0.75v0.75h-0.75zM148.27 328.8h0.75v0.75h-0.75zM137.22 333.55h0.75v0.75h-0.75zM142.53 336.31h0.75v0.75h-0.75zM134.42 334.96h0.75v0.75h-0.75zM136.24 328.27h0.75v0.75h-0.75zM145.01 335.73h0.75v0.75h-0.75zM147.13 333.5h0.75v0.75h-0.75zM134.61 330.21h0.75v0.75h-0.75zM144.59 325.5h0.75v0.75h-0.75zM134.46 326.7h0.75v0.75h-0.75zM148.92 330.42h0.75v0.75h-0.75zM142.92 324.48h0.75v0.75h-0.75zM138.86 336.7h0.75v0.75h-0.75zM141 340.61h0.75v0.75h-0.75zM143.22 338.63h0.75v0.75h-0.75zM140.8 337.88h0.75v0.75h-0.75zM134.48 329.16h0.75v0.75h-0.75zM142.64 338.27h0.75v0.75h-0.75zM142.34 336.83h0.75v0.75h-0.75zM137.19 336.6h0.75v0.75h-0.75zM138.21 337.05h0.75v0.75h-0.75zM146.9 326.77h0.75v0.75h-0.75zM146.82 338.24h0.75v0.75h-0.75zM143.89 337.46h0.75v0.75h-0.75zM141.12 337.5h0.75v0.75h-0.75zM134.54 336.34h0.75v0.75h-0.75zM145.47 327.5h0.75v0.75h-0.75zM132.33 329.24h0.75v0.75h-0.75zM138.94 335.83h0.75v0.75h-0.75zM143.39 328.21h0.75v0.75h-0.75zM148.51 330.48h0.75v0.75h-0.75zM148.95 331.53h0.75v0.75h-0.75zM141.99 327.25h0.75v0.75h-0.75zM149.35 330.71h0.75v0.75h-0.75zM135.62 326.95h0.75v0.75h-0.75zM142.24 326.01h0.75v0.75h-0.75zM139.73 327.34h0.75v0.75h-0.75zM145.76 324.97h0.75v0.75h-0.75zM148.12 333.48h0.75v0.75h-0.75zM134.75 330.31h0.75v0.75h-0.75zM136.2 331.2h0.75v0.75h-0.75zM134.92 329.16h0.75v0.75h-0.75zM148.19 334.9h0.75v0.75h-0.75zM146.78 332.57h0.75v0.75h-0.75zM143.22 335.09h0.75v0.75h-0.75zM140.73 327.44h0.75v0.75h-0.75zM148.14 330.96h0.75v0.75h-0.75zM146.87 334.39h0.75v0.75h-0.75zM137.52 337.1h0.75v0.75h-0.75zM133.82 335.32h0.75v0.75h-0.75zM137.29 328.72h0.75v0.75h-0.75zM134.58 335.34h0.75v0.75h-0.75zM135.26 335.86h0.75v0.75h-0.75zM140.86 324.74h0.75v0.75h-0.75zM144.37 335.7h0.75v0.75h-0.75zM137.59 336.27h0.75v0.75h-0.75zM147.38 331.82h0.75v0.75h-0.75zM148.38 329.79h0.75v0.75h-0.75zM135.71 327.82h0.75v0.75h-0.75zM148.36 331.04h0.75v0.75h-0.75zM138.9 324.69h0.75v0.75h-0.75zM134.69 330.62h0.75v0.75h-0.75zM139.19 337.44h0.75v0.75h-0.75zM134.44 329.46h0.75v0.75h-0.75zM138.57 331.8h0.75v0.75h-0.75zM143.91 338.13h0.75v0.75h-0.75zM142.28 326.26h0.75v0.75h-0.75zM146.77 333.9h0.75v0.75h-0.75zM142.49 337.04h0.75v0.75h-0.75zM148.33 326.68h0.75v0.75h-0.75zM139.96 335.96h0.75v0.75h-0.75zM133.8 335.05h0.75v0.75h-0.75zM137.15 326.33h0.75v0.75h-0.75zM133.5 327.03h0.75v0.75h-0.75zM135.1 333.94h0.75v0.75h-0.75zM145.2 334.22h0.75v0.75h-0.75zM146.83 326.1h0.75v0.75h-0.75zM136.7 329.26h0.75v0.75h-0.75zM137.81 337.07h0.75v0.75h-0.75zM143.6 322.92h0.75v0.75h-0.75zM148.27 335.68h0.75v0.75h-0.75zM143.77 339.11h0.75v0.75h-0.75zM142.25 326.16h0.75v0.75h-0.75zM136.01 336.12h0.75v0.75h-0.75zM148.15 326.95h0.75v0.75h-0.75zM137.46 325.21h0.75v0.75h-0.75zM143.97 335.05h0.75v0.75h-0.75zM142.67 323.15h0.75v0.75h-0.75zM150.58 333.16h0.75v0.75h-0.75zM146.97 334.74h0.75v0.75h-0.75zM147.12 333.11h0.75v0.75h-0.75zM144.25 327.05h0.75v0.75h-0.75zM135.5 327.05h0.75v0.75h-0.75zM135.27 327.69h0.75v0.75h-0.75zM135.82 331.93h0.75v0.75h-0.75zM136.83 327.92h0.75v0.75h-0.75zM145.69 332.05h0.75v0.75h-0.75zM149.23 330.97h0.75v0.75h-0.75zM136.7 336.02h0.75v0.75h-0.75zM148.94 335.19h0.75v0.75h-0.75zM138.56 336.97h0.75v0.75h-0.75zM146.99 336.11h0.75v0.75h-0.75zM135.02 330.91h0.75v0.75h-0.75zM135.33 333.17h0.75v0.75h-0.75zM145.81 334.02h0.75v0.75h-0.75zM146.83 334.16h0.75v0.75h-0.75zM139.3 324.77h0.75v0.75h-0.75zM146.69 336.15h0.75v0.75h-0.75zM147.78 326.48h0.75v0.75h-0.75zM151.29 333.38h0.75v0.75h-0.75zM141.62 324.93h0.75v0.75h-0.75zM144.62 335.02h0.75v0.75h-0.75zM140.89 336.19h0.75v0.75h-0.75zM148.68 333.25h0.75v0.75h-0.75zM137.41 327.27h0.75v0.75h-0.75zM143.11 325.25h0.75v0.75h-0.75zM136.14 333.66h0.75v0.75h-0.75zM144.63 327.1h0.75v0.75h-0.75zM134.87 329.96h0.75v0.75h-0.75zM139.79 327.06h0.75v0.75h-0.75zM141.72 326.5h0.75v0.75h-0.75zM134.41 326.96h0.75v0.75h-0.75zM148.6 335.05h0.75v0.75h-0.75zM146.71 326.47h0.75v0.75h-0.75zM148.61 328.98h0.75v0.75h-0.75zM139.36 336.39h0.75v0.75h-0.75zM140.06 327.11h0.75v0.75h-0.75zM141.21 337.42h0.75v0.75h-0.75zM146.89 326.49h0.75v0.75h-0.75zM134.6 330.65h0.75v0.75h-0.75zM139.72 324.33h0.75v0.75h-0.75zM145.9 336.46h0.75v0.75h-0.75zM134.84 327.69h0.75v0.75h-0.75zM137.26 330.33h0.75v0.75h-0.75zM148.32 327.76h0.75v0.75h-0.75zM146.4 335.05h0.75v0.75h-0.75zM134.2 332.75h0.75v0.75h-0.75zM134.76 330.49h0.75v0.75h-0.75zM145.14 326.99h0.75v0.75h-0.75zM133.07 331.42h0.75v0.75h-0.75zM132.8 335.3h0.75v0.75h-0.75zM140.95 325.25h0.75v0.75h-0.75zM147.89 334.09h0.75v0.75h-0.75zM135.48 329.99h0.75v0.75h-0.75zM143.99 326.16h0.75v0.75h-0.75zM149.97 333.16h0.75v0.75h-0.75zM137.72 336.14h0.75v0.75h-0.75zM132.74 331.36h0.75v0.75h-0.75zM147.88 334.6h0.75v0.75h-0.75zM134.46 330.77h0.75v0.75h-0.75zM139.38 326.17h0.75v0.75h-0.75zM136.41 325.31h0.75v0.75h-0.75zM137.41 337.06h0.75v0.75h-0.75zM140.54 324.84h0.75v0.75h-0.75zM140.56 326.51h0.75v0.75h-0.75zM134.28 329.44h0.75v0.75h-0.75zM143.18 327.35h0.75v0.75h-0.75zM137.99 333.34h0.75v0.75h-0.75zM147.1 333.66h0.75v0.75h-0.75zM148.16 335.67h0.75v0.75h-0.75zM147.92 335.07h0.75v0.75h-0.75zM147.92 332.34h0.75v0.75h-0.75zM148.02 334.93h0.75v0.75h-0.75zM141.77 324.86h0.75v0.75h-0.75zM139.48 323.93h0.75v0.75h-0.75zM146.63 335.22h0.75v0.75h-0.75zM133.71 330.55h0.75v0.75h-0.75zM140.51 326.84h0.75v0.75h-0.75zM137.41 337h0.75v0.75h-0.75zM146.99 327.82h0.75v0.75h-0.75zM140.55 325.49h0.75v0.75h-0.75zM146.4 332.64h0.75v0.75h-0.75zM139.42 335.09h0.75v0.75h-0.75zM145.18 335.18h0.75v0.75h-0.75zM145.74 334.67h0.75v0.75h-0.75zM145.63 328.44h0.75v0.75h-0.75zM134.89 331.72h0.75v0.75h-0.75zM135.93 325.71h0.75v0.75h-0.75zM146.6 333.97h0.75v0.75h-0.75zM135.34 324.06h0.75v0.75h-0.75zM145.95 336.76h0.75v0.75h-0.75zM138.11 335.3h0.75v0.75h-0.75zM140.59 338.01h0.75v0.75h-0.75zM142.36 324.88h0.75v0.75h-0.75zM146.5 329.7h0.75v0.75h-0.75zM134.42 334.55h0.75v0.75h-0.75zM145.1 336.47h0.75v0.75h-0.75zM141.7 336h0.75v0.75h-0.75zM135.61 330.95h0.75v0.75h-0.75zM134.89 328.36h0.75v0.75h-0.75zM135.33 329.68h0.75v0.75h-0.75zM146.89 329.25h0.75v0.75h-0.75zM143.46 325.71h0.75v0.75h-0.75zM140.5 339.01h0.75v0.75h-0.75zM140.67 327.59h0.75v0.75h-0.75zM137.79 327.15h0.75v0.75h-0.75zM135.22 334.88h0.75v0.75h-0.75zM144.47 329.97h0.75v0.75h-0.75zM133.53 328.47h0.75v0.75h-0.75zM133.85 333.1h0.75v0.75h-0.75zM147.31 334.71h0.75v0.75h-0.75zM140 324.33h0.75v0.75h-0.75zM147.13 328.61h0.75v0.75h-0.75zM134.14 332.63h0.75v0.75h-0.75zM140.71 324.38h0.75v0.75h-0.75zM141.27 325.24h0.75v0.75h-0.75zM146.49 328.48h0.75v0.75h-0.75zM134.01 329.35h0.75v0.75h-0.75zM145.44 335.07h0.75v0.75h-0.75zM147.57 334.1h0.75v0.75h-0.75zM145.86 326.76h0.75v0.75h-0.75zM149.06 329.4h0.75v0.75h-0.75zM144.99 324.62h0.75v0.75h-0.75zM134.02 331.59h0.75v0.75h-0.75zM149.23 329.69h0.75v0.75h-0.75zM143.74 325.26h0.75v0.75h-0.75zM138.79 326h0.75v0.75h-0.75zM142.59 324.78h0.75v0.75h-0.75zM143.1 339.13h0.75v0.75h-0.75zM138.25 330.22h0.75v0.75h-0.75zM142.65 331.18h0.75v0.75h-0.75zM148.43 331.07h0.75v0.75h-0.75zM139.22 325.36h0.75v0.75h-0.75zM133.97 331.07h0.75v0.75h-0.75zM135.13 329.99h0.75v0.75h-0.75zM147.81 328.51h0.75v0.75h-0.75zM141.62 337.01h0.75v0.75h-0.75zM134.16 331.3h0.75v0.75h-0.75zM137.13 335.36h0.75v0.75h-0.75zM133.86 331.56h0.75v0.75h-0.75zM146.41 333.13h0.75v0.75h-0.75zM135.96 334.32h0.75v0.75h-0.75zM139.72 338.8h0.75v0.75h-0.75zM141.78 335.95h0.75v0.75h-0.75zM133.58 330.94h0.75v0.75h-0.75zM138.03 334.34h0.75v0.75h-0.75zM133.91 326.61h0.75v0.75h-0.75zM135.96 332.36h0.75v0.75h-0.75zM134.2 330.05h0.75v0.75h-0.75zM131.64 329.43h0.75v0.75h-0.75zM141.13 337.84h0.75v0.75h-0.75zM142.06 326.12h0.75v0.75h-0.75z"/>
<path fill="#555" fill-opacity="0.5" d="M141.5 336.96h0.75v0.75h-0.75zM139.56 332.77h0.75v0.75h-0.75zM131.41 324.75h0.75v0.75h-0.75zM142.2 341.5h0.75v0.75h-0.75zM145.78 347.61h0.75v0.75h-0.75zM133.02 320.25h0.75v0.75h-0.75zM139.71 334.63h0.75v0.75h-0.75zM134.06 321.7h0.75v0.75h-0.75zM149.65 321.67h0.75v0.75h-0.75zM143.65 338.11h0.75v0.75h-0.75zM149.37 332.72h0.75v0.75h-0.75zM146.68 331.55h0.75v0.75h-0.75zM145.28 341.03h0.75v0.75h-0.75zM139.83 322.59h0.75v0.75h-0.75zM143.09 315h0.75v0.75h-0.75zM149.92 329.3h0.75v0.75h-0.75zM136.12 339.02h0.75v0.75h-0.75zM146.29 336.03h0.75v0.75h-0.75zM135.94 337.38h0.75v0.75h-0.75zM141.03 330.89h0.75v0.75h-0.75zM134.39 335.9h0.75v0.75h-0.75zM134.66 340.89h0.75v0.75h-0.75zM127.28 326.97h0.75v0.75h-0.75zM141.34 322.78h0.75v0.75h-0.75zM153.25 324.6h0.75v0.75h-0.75zM135.67 330.52h0.75v0.75h-0.75zM141.27 341.38h0.75v0.75h-0.75zM136.96 329.94h0.75v0.75h-0.75zM149.2 332.93h0.75v0.75h-0.75zM145.56 333.33h0.75v0.75h-0.75zM136.35 329.3h0.75v0.75h-0.75zM132.96 328.25h0.75v0.75h-0.75zM141.24 332.73h0.75v0.75h-0.75zM145.63 333.67h0.75v0.75h-0.75zM142.92 327.77h0.75v0.75h-0.75zM128.41 339.11h0.75v0.75h-0.75zM152.74 331.26h0.75v0.75h-0.75zM146.19 327.69h0.75v0.75h-0.75zM133.55 335.36h0.75v0.75h-0.75zM146.12 336.48h0.75v0.75h-0.75zM147.9 333.54h0.75v0.75h-0.75zM138.98 333.57h0.75v0.75h-0.75zM133.71 330.84h0.75v0.75h-0.75zM128.17 325.95h0.75v0.75h-0.75zM145.56 329.71h0.75v0.75h-0.75zM145.56 332.59h0.75v0.75h-0.75zM139.39 336.54h0.75v0.75h-0.75zM148.23 331.16h0.75v0.75h-0.75zM141.72 345.01h0.75v0.75h-0.75zM144.3 329.74h0.75v0.75h-0.75zM134.07 330.23h0.75v0.75h-0.75zM148.24 320.64h0.75v0.75h-0.75zM144.5 330.45h0.75v0.75h-0.75zM144.54 334.15h0.75v0.75h-0.75zM128.75 330.06h0.75v0.75h-0.75zM125.82 332.11h0.75v0.75h-0.75zM134.53 338.48h0.75v0.75h-0.75zM126.97 334.71h0.75v0.75h-0.75zM133.04 329.99h0.75v0.75h-0.75zM127.9 344.08h0.75v0.75h-0.75zM138.35 333.48h0.75v0.75h-0.75zM156.31 322.58h0.75v0.75h-0.75zM139.3 327.4h0.75v0.75h-0.75zM138.03 330.49h0.75v0.75h-0.75zM143.62 337.49h0.75v0.75h-0.75zM140.48 340.09h0.75v0.75h-0.75zM137.67 325.27h0.75v0.75h-0.75zM127.85 338.09h0.75v0.75h-0.75zM137.48 335.88h0.75v0.75h-0.75zM145.1 327.53h0.75v0.75h-0.75zM149.23 337.44h0.75v0.75h-0.75zM151.71 337.28h0.75v0.75h-0.75zM131.82 336.48h0.75v0.75h-0.75zM140.91 324.36h0.75v0.75h-0.75zM146.23 331.47h0.75v0.75h-0.75zM142.92 342.89h0.75v0.75h-0.75zM149.32 330.51h0.75v0.75h-0.75zM145.22 339.2h0.75v0.75h-0.75zM141.13 339.54h0.75v0.75h-0.75zM144.14 330.33h0.75v0.75h-0.75zM150.02 331.56h0.75v0.75h-0.75zM136.61 330.72h0.75v0.75h-0.75zM127.25 339.4h0.75v0.75h-0.75zM131.39 322.01h0.75v0.75h-0.75zM142.38 319.82h0.75v0.75h-0.75zM137.97 337.48h0.75v0.75h-0.75zM142.46 335.27h0.75v0.75h-0.75zM137.94 327.27h0.75v0.75h-0.75zM142.05 337.7h0.75v0.75h-0.75zM139.58 338.86h0.75v0.75h-0.75zM141.17 325.35h0.75v0.75h-0.75zM136.1 332.47h0.75v0.75h-0.75zM134.18 331.62h0.75v0.75h-0.75zM146.87 333.05h0.75v0.75h-0.75zM147.47 335.67h0.75v0.75h-0.75zM136.31 333.47h0.75v0.75h-0.75zM146.58 329.62h0.75v0.75h-0.75zM135.32 340.41h0.75v0.75h-0.75zM145.98 336.9h0.75v0.75h-0.75zM136.24 331.92h0.75v0.75h-0.75zM142.8 335.49h0.75v0.75h-0.75zM146.24 326.39h0.75v0.75h-0.75zM146.37 326.97h0.75v0.75h-0.75zM133.16 330.08h0.75v0.75h-0.75zM136.21 339.31h0.75v0.75h-0.75zM148.6 345.76h0.75v0.75h-0.75zM135.12 333.94h0.75v0.75h-0.75zM149.4 322.63h0.75v0.75h-0.75zM145.76 344.39h0.75v0.75h-0.75zM147.01 328.58h0.75v0.75h-0.75zM139.39 333.92h0.75v0.75h-0.75zM135.18 326.77h0.75v0.75h-0.75zM148.26 327.76h0.75v0.75h-0.75zM147.6 326.52h0.75v0.75h-0.75zM134.4 319.23h0.75v0.75h-0.75zM135.42 330.67h0.75v0.75h-0.75zM146.09 324.29h0.75v0.75h-0.75zM140.02 339.84h0.75v0.75h-0.75zM145.78 341.92h0.75v0.75h-0.75zM139.07 323.85h0.75v0.75h-0.75zM140.14 336.2h0.75v0.75h-0.75zM132.66 331.12h0.75v0.75h-0.75zM139.83 346.26h0.75v0.75h-0.75zM135.32 328.24h0.75v0.75h-0.75zM138.65 329.17h0.75v0.75h-0.75zM140.37 329.86h0.75v0.75h-0.75zM131.19 328.77h0.75v0.75h-0.75zM126.33 343.21h0.75v0.75h-0.75zM149.86 332.3h0.75v0.75h-0.75zM141.55 337.16h0.75v0.75h-0.75zM142.34 327.62h0.75v0.75h-0.75zM133.77 337.89h0.75v0.75h-0.75zM138.16 335.57h0.75v0.75h-0.75zM137.17 338.32h0.75v0.75h-0.75zM138.98 334.48h0.75v0.75h-0.75zM144.14 320.82h0.75v0.75h-0.75zM146.53 341.03h0.75v0.75h-0.75zM136.62 323.18h0.75v0.75h-0.75zM142.83 327.67h0.75v0.75h-0.75zM132.96 342.44h0.75v0.75h-0.75zM139.24 326.49h0.75v0.75h-0.75zM130.83 335.36h0.75v0.75h-0.75zM142.45 335.42h0.75v0.75h-0.75zM131.92 328.86h0.75v0.75h-0.75zM139.89 330.63h0.75v0.75h-0.75zM140.52 330.97h0.75v0.75h-0.75zM139.67 334.1h0.75v0.75h-0.75zM144.63 340.8h0.75v0.75h-0.75zM139.73 320.69h0.75v0.75h-0.75zM150.21 323.84h0.75v0.75h-0.75zM141.81 340.25h0.75v0.75h-0.75zM144.47 341.01h0.75v0.75h-0.75zM140.12 346.36h0.75v0.75h-0.75zM143.82 323.07h0.75v0.75h-0.75zM145.2 331.06h0.75v0.75h-0.75zM147.74 328.73h0.75v0.75h-0.75zM146.07 325.2h0.75v0.75h-0.75zM138.06 332.36h0.75v0.75h-0.75zM148.15 328.11h0.75v0.75h-0.75zM142.37 339.76h0.75v0.75h-0.75zM127.22 342.4h0.75v0.75h-0.75zM139.39 334.3h0.75v0.75h-0.75zM153.88 332.67h0.75v0.75h-0.75zM145.19 340.62h0.75v0.75h-0.75zM150.48 340.44h0.75v0.75h-0.75zM135.74 335.31h0.75v0.75h-0.75zM129.83 325.56h0.75v0.75h-0.75zM137.89 331.13h0.75v0.75h-0.75zM136.03 328.36h0.75v0.75h-0.75zM152.11 325.05h0.75v0.75h-0.75zM143.81 325.35h0.75v0.75h-0.75zM142.3 327.87h0.75v0.75h-0.75zM127.96 320.74h0.75v0.75h-0.75zM148.35 340.51h0.75v0.75h-0.75zM138.04 331.94h0.75v0.75h-0.75zM142.45 323.58h0.75v0.75h-0.75zM136.85 322.94h0.75v0.75h-0.75zM135.93 333.03h0.75v0.75h-0.75zM137.79 343.56h0.75v0.75h-0.75zM144.49 329.49h0.75v0.75h-0.75zM141.69 330.26h0.75v0.75h-0.75zM134.46 342.28h0.75v0.75h-0.75zM138.79 329.48h0.75v0.75h-0.75zM150.14 331.28h0.75v0.75h-0.75zM147.17 316.91h0.75v0.75h-0.75zM144.95 326.13h0.75v0.75h-0.75zM137.27 338.46h0.75v0.75h-0.75zM152.5 319.01h0.75v0.75h-0.75zM149.5 331.13h0.75v0.75h-0.75zM136.63 339.34h0.75v0.75h-0.75zM139.11 329.53h0.75v0.75h-0.75zM138.45 331.61h0.75v0.75h-0.75zM136.4 339.59h0.75v0.75h-0.75zM151.79 327.46h0.75v0.75h-0.75zM135.34 332.17h0.75v0.75h-0.75zM134.56 333.57h0.75v0.75h-0.75zM141.08 332.94h0.75v0.75h-0.75zM134.81 334.82h0.75v0.75h-0.75zM130.99 330.63h0.75v0.75h-0.75zM138.95 333.26h0.75v0.75h-0.75zM145.92 331.84h0.75v0.75h-0.75zM132.91 335.5h0.75v0.75h-0.75zM139.01 337.73h0.75v0.75h-0.75zM151.7 342.25h0.75v0.75h-0.75zM139.84 326.97h0.75v0.75h-0.75zM141.63 331.8h0.75v0.75h-0.75zM134.71 323.66h0.75v0.75h-0.75zM148.15 326.98h0.75v0.75h-0.75zM147.29 339.45h0.75v0.75h-0.75zM133.38 335.44h0.75v0.75h-0.75zM139.42 324.1h0.75v0.75h-0.75zM135.55 333.79h0.75v0.75h-0.75zM146.76 328.53h0.75v0.75h-0.75zM138.5 339.28h0.75v0.75h-0.75zM137.11 328.8h0.75v0.75h-0.75zM129.19 335.57h0.75v0.75h-0.75zM134.98 327.04h0.75v0.75h-0.75zM136.71 328.38h0.75v0.75h-0.75zM160.57 329.54h0.75v0.75h-0.75zM145.38 325.14h0.75v0.75h-0.75zM146.03 335.12h0.75v0.75h-0.75zM137.27 346.61h0.75v0.75h-0.75zM133.24 326.29h0.75v0.75h-0.75zM134.93 332.53h0.75v0.75h-0.75zM145.46 332.44h0.75v0.75h-0.75zM134.48 327.01h0.75v0.75h-0.75zM151.47 330.18h0.75v0.75h-0.75zM152.25 332.32h0.75v0.75h-0.75zM137.36 330.65h0.75v0.75h-0.75zM143.48 337.83h0.75v0.75h-0.75zM137.36 336.03h0.75v0.75h-0.75zM130.85 322.93h0.75v0.75h-0.75zM128.68 330.05h0.75v0.75h-0.75zM135.22 337.22h0.75v0.75h-0.75zM137.46 330.32h0.75v0.75h-0.75zM137.79 323.98h0.75v0.75h-0.75zM131.14 344.64h0.75v0.75h-0.75zM144.01 324.11h0.75v0.75h-0.75zM131.3 335.12h0.75v0.75h-0.75zM136.6 329.38h0.75v0.75h-0.75zM145.42 326.37h0.75v0.75h-0.75zM130.88 335.57h0.75v0.75h-0.75zM133.09 333.81h0.75v0.75h-0.75zM126.55 330.58h0.75v0.75h-0.75zM152.76 324.18h0.75v0.75h-0.75zM139.48 332.19h0.75v0.75h-0.75zM140.85 332.01h0.75v0.75h-0.75zM145.12 328.8h0.75v0.75h-0.75zM133.29 334.09h0.75v0.75h-0.75zM141.53 321.86h0.75v0.75h-0.75zM145.16 330.59h0.75v0.75h-0.75zM146.79 332.94h0.75v0.75h-0.75zM131.12 330.62h0.75v0.75h-0.75zM144.78 339.25h0.75v0.75h-0.75zM138.67 336.83h0.75v0.75h-0.75zM149.25 334.7h0.75v0.75h-0.75zM150.1 336.9h0.75v0.75h-0.75zM133.21 325.34h0.75v0.75h-0.75zM134.12 343.37h0.75v0.75h-0.75zM148.22 327.39h0.75v0.75h-0.75zM139.73 345.57h0.75v0.75h-0.75zM134.16 333.01h0.75v0.75h-0.75zM137.47 338.16h0.75v0.75h-0.75zM126.66 335h0.75v0.75h-0.75zM141.28 339.94h0.75v0.75h-0.75zM142.97 335.32h0.75v0.75h-0.75zM133.27 334.68h0.75v0.75h-0.75zM136.37 344h0.75v0.75h-0.75zM142.24 333.2h0.75v0.75h-0.75zM141.05 333.44h0.75v0.75h-0.75zM137.21 336.95h0.75v0.75h-0.75zM139.88 327.54h0.75v0.75h-0.75zM146.26 337.58h0.75v0.75h-0.75zM147.97 330.51h0.75v0.75h-0.75zM146.6 342.26h0.75v0.75h-0.75zM144.6 335.47h0.75v0.75h-0.75zM139.69 323.46h0.75v0.75h-0.75zM132.83 332.63h0.75v0.75h-0.75zM147.38 336.25h0.75v0.75h-0.75zM136.25 334.35h0.75v0.75h-0.75zM139.22 328.59h0.75v0.75h-0.75zM139.76 338.23h0.75v0.75h-0.75zM132.01 330.52h0.75v0.75h-0.75zM139.74 326.85h0.75v0.75h-0.75zM133.48 335.78h0.75v0.75h-0.75zM155.11 333.53h0.75v0.75h-0.75zM136.39 342.74h0.75v0.75h-0.75zM141.05 321.53h0.75v0.75h-0.75zM136.16 321.25h0.75v0.75h-0.75zM137.78 341.95h0.75v0.75h-0.75zM146.97 331.07h0.75v0.75h-0.75zM135.51 330.66h0.75v0.75h-0.75z"/>
<ellipse cx="141.2" cy="331.3" rx="6.5" ry="6" fill="#a8a8a8" opacity="0.5"/>
<ellipse cx="172" cy="330" rx="15" ry="5" fill="url(#haloL)"/>
<path fill="#555" fill-opacity="0.5" d="M281.24 310.52h0.75v0.75h-0.75zM295.57 315.71h0.75v0.75h-0.75zM293.98 314.29h0.75v0.75h-0.75zM277.2 317.79h0.75v0.75h-0.75zM292.24 319.02h0.75v0.75h-0.75zM293.64 310.21h0.75v0.75h-0.75zM301.52 318.9h0.75v0.75h-0.75zM289.48 318.57h0.75v0.75h-0.75zM296.56 312.77h0.75v0.75h-0.75zM294.34 311.39h0.75v0.75h-0.75zM305.54 312.91h0.75v0.75h-0.75zM301.68 323.84h0.75v0.75h-0.75zM292.69 318.37h0.75v0.75h-0.75zM306.8 305.96h0.75v0.75h-0.75zM313.49 318.04h0.75v0.75h-0.75zM279.95 315.88h0.75v0.75h-0.75zM313.63 315.61h0.75v0.75h-0.75zM305.9 320.29h0.75v0.75h-0.75zM285.7 316.9h0.75v0.75h-0.75zM309.51 311.3h0.75v0.75h-0.75zM293.16 312.43h0.75v0.75h-0.75zM286.8 314.16h0.75v0.75h-0.75zM270.83 312.03h0.75v0.75h-0.75zM274.99 310.46h0.75v0.75h-0.75zM286.38 320.16h0.75v0.75h-0.75zM281.15 319.39h0.75v0.75h-0.75zM288.01 311.37h0.75v0.75h-0.75zM275.23 315.88h0.75v0.75h-0.75zM291.27 318.98h0.75v0.75h-0.75zM285.94 305.05h0.75v0.75h-0.75zM297.62 321.66h0.75v0.75h-0.75zM292.4 315.76h0.75v0.75h-0.75zM297.06 316.41h0.75v0.75h-0.75zM317.91 314.64h0.75v0.75h-0.75zM297.25 319.52h0.75v0.75h-0.75zM297.45 306.85h0.75v0.75h-0.75zM296.11 313.54h0.75v0.75h-0.75zM282.18 319.69h0.75v0.75h-0.75zM285.51 317.13h0.75v0.75h-0.75zM285.17 318.07h0.75v0.75h-0.75zM305.47 311.03h0.75v0.75h-0.75zM284.23 319.7h0.75v0.75h-0.75zM283.16 320.3h0.75v0.75h-0.75zM295.95 310.75h0.75v0.75h-0.75zM286.53 321.6h0.75v0.75h-0.75zM300.58 315.91h0.75v0.75h-0.75zM294.34 320.49h0.75v0.75h-0.75zM286.04 316.87h0.75v0.75h-0.75zM296.71 321.66h0.75v0.75h-0.75zM288.46 314.3h0.75v0.75h-0.75zM294.8 314.14h0.75v0.75h-0.75zM289.63 317.88h0.75v0.75h-0.75zM287.28 313.87h0.75v0.75h-0.75zM294.76 315.79h0.75v0.75h-0.75zM288.45 314.78h0.75v0.75h-0.75zM280.09 311.59h0.75v0.75h-0.75zM285.02 309.9h0.75v0.75h-0.75zM307.21 325.42h0.75v0.75h-0.75zM289.74 314.75h0.75v0.75h-0.75zM290.76 313.46h0.75v0.75h-0.75zM286.51 319.59h0.75v0.75h-0.75zM297.4 308.95h0.75v0.75h-0.75zM294.24 311.18h0.75v0.75h-0.75zM298.4 311.5h0.75v0.75h-0.75zM295.17 311.63h0.75v0.75h-0.75zM290.22 316.97h0.75v0.75h-0.75zM298.97 308.53h0.75v0.75h-0.75zM286.64 311.23h0.75v0.75h-0.75zM275.24 316.37h0.75v0.75h-0.75zM289.91 313.76h0.75v0.75h-0.75zM283.99 323.81h0.75v0.75h-0.75zM283.28 302.52h0.75v0.75h-0.75zM288.54 316.59h0.75v0.75h-0.75zM281.35 314.53h0.75v0.75h-0.75zM269.13 313.95h0.75v0.75h-0.75zM292.67 310.63h0.75v0.75h-0.75zM281.1 310.04h0.75v0.75h-0.75zM286.76 320.27h0.75v0.75h-0.75zM293.06 312.17h0.75v0.75h-0.75zM287.13 318.94h0.75v0.75h-0.75zM285.34 310.85h0.75v0.75h-0.75zM299.72 315.14h0.75v0.75h-0.75zM305.15 313.99h0.75v0.75h-0.75zM289.01 317.21h0.75v0.75h-0.75zM293.98 315.34h0.75v0.75h-0.75zM282.64 311.92h0.75v0.75h-0.75zM284.44 312.74h0.75v0.75h-0.75zM304.81 310.77h0.75v0.75h-0.75zM296.64 317.27h0.75v0.75h-0.75zM276.58 320.06h0.75v0.75h-0.75zM294.3 316.94h0.75v0.75h-0.75zM294 319.95h0.75v0.75h-0.75zM295.9 311.99h0.75v0.75h-0.75zM285.79 311h0.75v0.75h-0.75zM284.23 311.01h0.75v0.75h-0.75zM294.31 319.82h0.75v0.75h-0.75zM290.01 320.1h0.75v0.75h-0.75zM303.23 318.43h0.75v0.75h-0.75zM275.7 302.68h0.75v0.75h-0.75zM302.72 317.51h0.75v0.75h-0.75zM278.05 311.55h0.75v0.75h-0.75zM294.27 315.04h0.75v0.75h-0.75zM279.2 314.87h0.75v0.75h-0.75zM277.35 313.91h0.75v0.75h-0.75zM298.16 316.43h0.75v0.75h-0.75zM286.24 318.15h0.75v0.75h-0.75zM311.28 313.75h0.75v0.75h-0.75zM293.3 308.2h0.75v0.75h-0.75zM299.86 307.33h0.75v0.75h-0.75zM289.81 319.51h0.75v0.75h-0.75zM297.89 299.35h0.75v0.75h-0.75zM283.96 303.42h0.75v0.75h-0.75zM289.06 308.04h0.75v0.75h-0.75zM314.33 320.84h0.75v0.75h-0.75zM282.11 313.61h0.75v0.75h-0.75zM292.6 319.81h0.75v0.75h-0.75zM305.88 318.31h0.75v0.75h-0.75zM279.32 299.84h0.75v0.75h-0.75zM276.65 309.48h0.75v0.75h-0.75zM299.66 308.65h0.75v0.75h-0.75zM304.8 318.9h0.75v0.75h-0.75zM292.77 319.1h0.75v0.75h-0.75zM284.88 320.14h0.75v0.75h-0.75zM292.99 312.22h0.75v0.75h-0.75zM284.12 305h0.75v0.75h-0.75zM288.72 317.65h0.75v0.75h-0.75zM287.94 312.86h0.75v0.75h-0.75zM309.15 328.97h0.75v0.75h-0.75zM278.49 321.09h0.75v0.75h-0.75zM291.73 314.98h0.75v0.75h-0.75zM283.77 313.8h0.75v0.75h-0.75zM295.05 317.11h0.75v0.75h-0.75zM286.27 312.46h0.75v0.75h-0.75zM298.47 322.36h0.75v0.75h-0.75zM287.72 317.57h0.75v0.75h-0.75zM299.38 316.81h0.75v0.75h-0.75zM282.81 315.19h0.75v0.75h-0.75zM292.85 309.65h0.75v0.75h-0.75zM292.54 315h0.75v0.75h-0.75zM284.99 323.06h0.75v0.75h-0.75zM295.08 310.93h0.75v0.75h-0.75zM303.95 313.65h0.75v0.75h-0.75zM281.98 309.26h0.75v0.75h-0.75zM302.74 309.33h0.75v0.75h-0.75zM295.34 317.31h0.75v0.75h-0.75zM286.33 318.67h0.75v0.75h-0.75zM302.42 314.73h0.75v0.75h-0.75zM292.05 318.31h0.75v0.75h-0.75zM292.79 321.46h0.75v0.75h-0.75zM299.66 315.5h0.75v0.75h-0.75zM294.32 313.15h0.75v0.75h-0.75zM298.7 311.53h0.75v0.75h-0.75zM291.69 308.97h0.75v0.75h-0.75zM315.93 316.51h0.75v0.75h-0.75zM292.6 317.33h0.75v0.75h-0.75zM275.38 322.12h0.75v0.75h-0.75zM275.64 318.11h0.75v0.75h-0.75zM288.18 318.71h0.75v0.75h-0.75zM298.5 316.32h0.75v0.75h-0.75zM302.14 313.55h0.75v0.75h-0.75zM294.5 313.55h0.75v0.75h-0.75zM285.23 309.79h0.75v0.75h-0.75zM295.81 323.4h0.75v0.75h-0.75zM283.63 312.67h0.75v0.75h-0.75zM285.13 316.97h0.75v0.75h-0.75zM272.07 315.86h0.75v0.75h-0.75zM284.69 310.17h0.75v0.75h-0.75zM294.52 316.02h0.75v0.75h-0.75zM294.99 320.99h0.75v0.75h-0.75zM277.99 320.47h0.75v0.75h-0.75zM297.45 326.92h0.75v0.75h-0.75zM305.91 317.56h0.75v0.75h-0.75zM272.63 316.31h0.75v0.75h-0.75zM307.42 319.1h0.75v0.75h-0.75zM291.33 309.05h0.75v0.75h-0.75zM292.6 307.91h0.75v0.75h-0.75zM284.16 313.06h0.75v0.75h-0.75zM296.22 311.96h0.75v0.75h-0.75zM291.43 314.92h0.75v0.75h-0.75zM294.76 318.04h0.75v0.75h-0.75zM296.85 313.67h0.75v0.75h-0.75zM293.71 311.99h0.75v0.75h-0.75zM279.91 312.22h0.75v0.75h-0.75zM291.9 305.15h0.75v0.75h-0.75zM299.86 316.81h0.75v0.75h-0.75zM276.31 310h0.75v0.75h-0.75zM283.11 303.88h0.75v0.75h-0.75zM274.59 317.1h0.75v0.75h-0.75zM271.98 325.8h0.75v0.75h-0.75zM306.16 322.67h0.75v0.75h-0.75zM297.07 320.75h0.75v0.75h-0.75zM305.37 310.28h0.75v0.75h-0.75zM307.93 311.18h0.75v0.75h-0.75zM288.5 302.15h0.75v0.75h-0.75zM288.75 306.63h0.75v0.75h-0.75zM314.89 316.86h0.75v0.75h-0.75zM301.04 312.65h0.75v0.75h-0.75zM301.51 317.71h0.75v0.75h-0.75zM288.21 317.7h0.75v0.75h-0.75zM287.83 308.69h0.75v0.75h-0.75zM271.62 307.01h0.75v0.75h-0.75zM298.03 324.66h0.75v0.75h-0.75zM287.29 312.03h0.75v0.75h-0.75zM305.3 314.26h0.75v0.75h-0.75zM295.47 315.12h0.75v0.75h-0.75zM267.38 308.33h0.75v0.75h-0.75zM295.22 315.51h0.75v0.75h-0.75zM289.21 308.43h0.75v0.75h-0.75zM293.41 313.59h0.75v0.75h-0.75zM281.91 313.86h0.75v0.75h-0.75zM294.54 325.62h0.75v0.75h-0.75zM303.21 310.53h0.75v0.75h-0.75zM300.06 307.28h0.75v0.75h-0.75zM268.09 311.12h0.75v0.75h-0.75zM311.57 318.67h0.75v0.75h-0.75zM284.92 317.03h0.75v0.75h-0.75zM270.83 314.04h0.75v0.75h-0.75zM282.1 308.8h0.75v0.75h-0.75zM288.02 311.03h0.75v0.75h-0.75zM295.29 308.76h0.75v0.75h-0.75zM295.94 317.25h0.75v0.75h-0.75zM300.32 318.21h0.75v0.75h-0.75zM299.12 320.23h0.75v0.75h-0.75zM304.91 320.3h0.75v0.75h-0.75zM304.07 308.47h0.75v0.75h-0.75zM289.42 322.28h0.75v0.75h-0.75zM285.9 318.7h0.75v0.75h-0.75zM302.92 321.7h0.75v0.75h-0.75zM285.86 316.22h0.75v0.75h-0.75zM290.72 318.24h0.75v0.75h-0.75zM272.5 314.65h0.75v0.75h-0.75zM304.05 314.95h0.75v0.75h-0.75zM302.41 322.11h0.75v0.75h-0.75zM293.59 312.94h0.75v0.75h-0.75zM286.36 309.05h0.75v0.75h-0.75zM287.62 314.08h0.75v0.75h-0.75zM301.9 311.61h0.75v0.75h-0.75zM284.98 314.72h0.75v0.75h-0.75zM289.82 321.34h0.75v0.75h-0.75zM292.3 322.09h0.75v0.75h-0.75zM292.96 302.01h0.75v0.75h-0.75zM290.24 309.47h0.75v0.75h-0.75zM292.21 310.41h0.75v0.75h-0.75zM301.38 313.62h0.75v0.75h-0.75zM288.4 325.4h0.75v0.75h-0.75zM288.78 312.69h0.75v0.75h-0.75zM288.58 318.69h0.75v0.75h-0.75zM294.63 315.2h0.75v0.75h-0.75zM304.05 312.02h0.75v0.75h-0.75zM299.62 319.15h0.75v0.75h-0.75zM295.26 312.53h0.75v0.75h-0.75zM290.65 320.58h0.75v0.75h-0.75zM282.54 319.72h0.75v0.75h-0.75zM297.51 317.15h0.75v0.75h-0.75zM297.48 312.62h0.75v0.75h-0.75zM308.71 315.32h0.75v0.75h-0.75zM300.55 314.02h0.75v0.75h-0.75zM288.79 320.44h0.75v0.75h-0.75zM282.19 314.86h0.75v0.75h-0.75zM283.63 307.05h0.75v0.75h-0.75zM302.21 315.14h0.75v0.75h-0.75zM273.32 314.68h0.75v0.75h-0.75zM316.04 320.32h0.75v0.75h-0.75zM289.88 316.84h0.75v0.75h-0.75zM289.28 316.2h0.75v0.75h-0.75zM290.82 315.99h0.75v0.75h-0.75zM287.41 319.31h0.75v0.75h-0.75zM280 306.47h0.75v0.75h-0.75zM274.94 311.64h0.75v0.75h-0.75zM293.29 317.86h0.75v0.75h-0.75zM300.15 307.37h0.75v0.75h-0.75zM276.12 318.14h0.75v0.75h-0.75zM310.28 318.16h0.75v0.75h-0.75zM290.78 320.19h0.75v0.75h-0.75zM308.97 320.01h0.75v0.75h-0.75zM294.26 313.52h0.75v0.75h-0.75zM286.52 312.86h0.75v0.75h-0.75zM279.83 316.79h0.75v0.75h-0.75zM302.67 313.59h0.75v0.75h-0.75zM300.08 318.4h0.75v0.75h-0.75zM290.89 314.78h0.75v0.75h-0.75zM307.37 311.28h0.75v0.75h-0.75zM285.07 312.98h0.75v0.75h-0.75zM284.41 317.86h0.75v0.75h-0.75zM298.3 313.65h0.75v0.75h-0.75zM298.68 306.1h0.75v0.75h-0.75zM293.23 326.9h0.75v0.75h-0.75zM302.04 309.94h0.75v0.75h-0.75zM301.16 311.79h0.75v0.75h-0.75zM298.36 318.5h0.75v0.75h-0.75zM277.64 324.25h0.75v0.75h-0.75zM278.06 312.83h0.75v0.75h-0.75zM299.21 318.12h0.75v0.75h-0.75zM294.42 313.46h0.75v0.75h-0.75zM300.37 316.91h0.75v0.75h-0.75zM288.86 320.67h0.75v0.75h-0.75zM308.19 312.13h0.75v0.75h-0.75zM288.13 309.83h0.75v0.75h-0.75zM279.95 315.98h0.75v0.75h-0.75zM302.07 307.91h0.75v0.75h-0.75zM289.83 316.73h0.75v0.75h-0.75zM286.26 319.43h0.75v0.75h-0.75zM298.38 314.81h0.75v0.75h-0.75zM304.23 316.86h0.75v0.75h-0.75zM303.51 318.16h0.75v0.75h-0.75zM289.67 322.65h0.75v0.75h-0.75zM285.34 317.01h0.75v0.75h-0.75zM288.95 310.98h0.75v0.75h-0.75zM279.1 320.94h0.75v0.75h-0.75zM306.05 320.6h0.75v0.75h-0.75zM272.26 318.39h0.75v0.75h-0.75zM293.44 318.14h0.75v0.75h-0.75zM295.03 318.11h0.75v0.75h-0.75zM297.04 320.55h0.75v0.75h-0.75zM293.87 312.46h0.75v0.75h-0.75zM269.89 316.65h0.75v0.75h-0.75zM270.75 312.22h0.75v0.75h-0.75zM292.05 314.49h0.75v0.75h-0.75zM284.64 323.89h0.75v0.75h-0.75zM277.82 321.16h0.75v0.75h-0.75zM289.29 314.49h0.75v0.75h-0.75zM292.98 317.46h0.75v0.75h-0.75zM274.53 317.62h0.75v0.75h-0.75zM290.61 314.97h0.75v0.75h-0.75zM292.49 314.51h0.75v0.75h-0.75zM303.39 310.71h0.75v0.75h-0.75zM284.49 317.63h0.75v0.75h-0.75zM290.25 319.71h0.75v0.75h-0.75zM293.01 323.98h0.75v0.75h-0.75zM302.63 310.48h0.75v0.75h-0.75zM303.14 310.92h0.75v0.75h-0.75zM295.43 313.28h0.75v0.75h-0.75zM278.09 319.17h0.75v0.75h-0.75zM298.02 313.53h0.75v0.75h-0.75zM283.63 311.27h0.75v0.75h-0.75zM290.77 320.63h0.75v0.75h-0.75zM287.68 314.8h0.75v0.75h-0.75zM288.12 308.97h0.75v0.75h-0.75zM288.35 311.96h0.75v0.75h-0.75zM304.31 315.94h0.75v0.75h-0.75zM305.23 314.71h0.75v0.75h-0.75zM293.91 322.06h0.75v0.75h-0.75zM296.89 315.49h0.75v0.75h-0.75zM297.15 316.8h0.75v0.75h-0.75zM303.78 312.08h0.75v0.75h-0.75zM287.51 310.67h0.75v0.75h-0.75zM304.52 318.31h0.75v0.75h-0.75zM289.12 317.92h0.75v0.75h-0.75zM311.66 319.03h0.75v0.75h-0.75zM291.4 310.4h0.75v0.75h-0.75zM298.05 328.04h0.75v0.75h-0.75zM304.24 313.6h0.75v0.75h-0.75zM276.46 319.94h0.75v0.75h-0.75zM283.69 313.12h0.75v0.75h-0.75zM314.23 313.07h0.75v0.75h-0.75zM289.86 328.21h0.75v0.75h-0.75zM309.53 303.43h0.75v0.75h-0.75zM300.25 313.88h0.75v0.75h-0.75zM294.02 312.06h0.75v0.75h-0.75zM295.3 318.32h0.75v0.75h-0.75zM289.17 319.06h0.75v0.75h-0.75zM299.88 309.33h0.75v0.75h-0.75zM310.49 315.88h0.75v0.75h-0.75zM301.04 322.19h0.75v0.75h-0.75zM292.01 327.05h0.75v0.75h-0.75zM283.2 309.87h0.75v0.75h-0.75zM288.68 324.23h0.75v0.75h-0.75zM308.58 319.18h0.75v0.75h-0.75zM282.47 313.18h0.75v0.75h-0.75zM290.19 315.6h0.75v0.75h-0.75zM280.64 315.28h0.75v0.75h-0.75zM287.37 317.32h0.75v0.75h-0.75zM282.47 312.4h0.75v0.75h-0.75zM293.56 318.38h0.75v0.75h-0.75zM293.02 315.93h0.75v0.75h-0.75zM290.66 312.02h0.75v0.75h-0.75zM287.86 310.78h0.75v0.75h-0.75zM297.58 317.03h0.75v0.75h-0.75zM290.51 310.81h0.75v0.75h-0.75zM288.09 314.24h0.75v0.75h-0.75zM302.51 313.37h0.75v0.75h-0.75zM294.29 311.79h0.75v0.75h-0.75zM298.77 313.72h0.75v0.75h-0.75zM283.56 305.6h0.75v0.75h-0.75zM288.75 313.3h0.75v0.75h-0.75zM303.89 308.85h0.75v0.75h-0.75zM286.07 308.95h0.75v0.75h-0.75zM299.98 316.36h0.75v0.75h-0.75zM288.39 318.04h0.75v0.75h-0.75zM293.7 312.63h0.75v0.75h-0.75zM291.55 317.97h0.75v0.75h-0.75zM301.49 323.65h0.75v0.75h-0.75zM294.98 315.35h0.75v0.75h-0.75zM293.07 310.98h0.75v0.75h-0.75zM290.44 317.78h0.75v0.75h-0.75zM288.18 313.56h0.75v0.75h-0.75zM279.19 317.98h0.75v0.75h-0.75zM302.76 315.03h0.75v0.75h-0.75zM293.84 315.99h0.75v0.75h-0.75zM292.6 313.97h0.75v0.75h-0.75zM301.95 326.01h0.75v0.75h-0.75zM302.28 316.5h0.75v0.75h-0.75zM288.45 309.02h0.75v0.75h-0.75zM302.39 314.04h0.75v0.75h-0.75zM297.79 312.51h0.75v0.75h-0.75zM267.29 325.2h0.75v0.75h-0.75zM279.91 317.95h0.75v0.75h-0.75zM303.76 306.96h0.75v0.75h-0.75zM293.89 314.49h0.75v0.75h-0.75zM276.57 323.55h0.75v0.75h-0.75zM287.18 317.58h0.75v0.75h-0.75zM292.35 324.23h0.75v0.75h-0.75zM282.99 313.11h0.75v0.75h-0.75zM294.93 318.53h0.75v0.75h-0.75zM292.06 320.59h0.75v0.75h-0.75zM303.64 317.04h0.75v0.75h-0.75zM278.39 310.41h0.75v0.75h-0.75zM275.79 312.68h0.75v0.75h-0.75z"/>
<path fill="#333" fill-opacity="0.6" d="M288.37 337.58h0.75v0.75h-0.75zM276.03 337.88h0.75v0.75h-0.75zM286.45 327.54h0.75v0.75h-0.75zM277.74 337.52h0.75v0.75h-0.75zM284.77 338.68h0.75v0.75h-0.75zM278.05 330.77h0.75v0.75h-0.75zM282.83 326.78h0.75v0.75h-0.75zM294.23 329.89h0.75v0.75h-0.75zM270.45 330.49h0.75v0.75h-0.75zM280.27 338.05h0.75v0.75h-0.75zM292.55 329.06h0.75v0.75h-0.75zM274.21 330.83h0.75v0.75h-0.75zM291.69 338.54h0.75v0.75h-0.75zM281.08 328.85h0.75v0.75h-0.75zM291.98 327.88h0.75v0.75h-0.75zM274.07 333.88h0.75v0.75h-0.75zM295.57 332.05h0.75v0.75h-0.75zM293.87 332.95h0.75v0.75h-0.75zM285.22 339.06h0.75v0.75h-0.75zM273.28 327.63h0.75v0.75h-0.75zM274.33 333.31h0.75v0.75h-0.75zM276.79 334.71h0.75v0.75h-0.75zM271.28 334.73h0.75v0.75h-0.75zM272.2 333.02h0.75v0.75h-0.75zM278.61 327.01h0.75v0.75h-0.75zM290.97 329.96h0.75v0.75h-0.75zM279.01 339.11h0.75v0.75h-0.75zM285.31 338.64h0.75v0.75h-0.75zM293.54 333.15h0.75v0.75h-0.75zM277.43 336.99h0.75v0.75h-0.75zM276.81 326.76h0.75v0.75h-0.75zM270.71 329.91h0.75v0.75h-0.75zM275.28 337.86h0.75v0.75h-0.75zM269.86 333.9h0.75v0.75h-0.75zM282.1 324.28h0.75v0.75h-0.75zM274.6 333.25h0.75v0.75h-0.75zM277.13 329.07h0.75v0.75h-0.75zM279.05 325.88h0.75v0.75h-0.75zM272.22 327.32h0.75v0.75h-0.75zM296.64 328.17h0.75v0.75h-0.75zM287.71 327.18h0.75v0.75h-0.75zM280.08 323.81h0.75v0.75h-0.75zM274.56 336.63h0.75v0.75h-0.75zM285.69 337h0.75v0.75h-0.75zM300.81 330.1h0.75v0.75h-0.75zM294.82 330.03h0.75v0.75h-0.75zM274.24 326.71h0.75v0.75h-0.75zM283.7 326.82h0.75v0.75h-0.75zM272.74 336.03h0.75v0.75h-0.75zM290.08 338.7h0.75v0.75h-0.75zM290.66 327.28h0.75v0.75h-0.75zM271.15 334.06h0.75v0.75h-0.75zM284 340.26h0.75v0.75h-0.75zM292.35 330.73h0.75v0.75h-0.75zM292.4 337.05h0.75v0.75h-0.75zM294.28 331.47h0.75v0.75h-0.75zM272.95 333.03h0.75v0.75h-0.75zM297.11 331.04h0.75v0.75h-0.75zM272.67 335.84h0.75v0.75h-0.75zM283.53 338.55h0.75v0.75h-0.75zM281.84 335.75h0.75v0.75h-0.75zM287.65 322.88h0.75v0.75h-0.75zM292.59 326.48h0.75v0.75h-0.75zM277.7 336.79h0.75v0.75h-0.75zM294.96 332.33h0.75v0.75h-0.75zM288.42 337.87h0.75v0.75h-0.75zM283.53 327.92h0.75v0.75h-0.75zM293.55 333.94h0.75v0.75h-0.75zM291.84 338.42h0.75v0.75h-0.75zM281.39 335.84h0.75v0.75h-0.75zM276.63 335.47h0.75v0.75h-0.75zM286.78 327.14h0.75v0.75h-0.75zM275.23 331.65h0.75v0.75h-0.75zM293.81 335.48h0.75v0.75h-0.75zM273.98 335.87h0.75v0.75h-0.75zM277.72 325.12h0.75v0.75h-0.75zM273.43 330.15h0.75v0.75h-0.75zM290.68 328.06h0.75v0.75h-0.75zM293.4 335.23h0.75v0.75h-0.75zM267.18 331.8h0.75v0.75h-0.75zM292.64 332.4h0.75v0.75h-0.75zM275.43 337.26h0.75v0.75h-0.75zM273.55 333.27h0.75v0.75h-0.75zM282.22 327.9h0.75v0.75h-0.75zM289.64 337.41h0.75v0.75h-0.75zM271.73 335.86h0.75v0.75h-0.75zM268.51 335.37h0.75v0.75h-0.75zM286.13 338.32h0.75v0.75h-0.75zM290.62 330.3h0.75v0.75h-0.75zM275.14 337.74h0.75v0.75h-0.75zM275.76 337.21h0.75v0.75h-0.75zM286.49 333.48h0.75v0.75h-0.75zM290.1 338.28h0.75v0.75h-0.75zM274.7 332.89h0.75v0.75h-0.75zM285.54 329.8h0.75v0.75h-0.75zM276.94 327.41h0.75v0.75h-0.75zM267.74 328.24h0.75v0.75h-0.75zM275.56 336.14h0.75v0.75h-0.75zM276.88 329.97h0.75v0.75h-0.75zM286.24 338.65h0.75v0.75h-0.75zM294.17 328.19h0.75v0.75h-0.75zM295.46 335.07h0.75v0.75h-0.75zM271.45 330.29h0.75v0.75h-0.75zM274.1 326.79h0.75v0.75h-0.75zM298.07 335.34h0.75v0.75h-0.75zM286.85 339.45h0.75v0.75h-0.75zM285.09 325.01h0.75v0.75h-0.75zM292.06 336.53h0.75v0.75h-0.75zM289.89 328.81h0.75v0.75h-0.75zM293.05 325.51h0.75v0.75h-0.75zM295.64 334.37h0.75v0.75h-0.75zM275.09 337.02h0.75v0.75h-0.75zM278.95 328.08h0.75v0.75h-0.75zM276.81 332.65h0.75v0.75h-0.75zM291.92 337.28h0.75v0.75h-0.75zM284 327.82h0.75v0.75h-0.75zM272.18 335.2h0.75v0.75h-0.75zM277.1 333.18h0.75v0.75h-0.75zM295.95 333.8h0.75v0.75h-0.75zM283.46 328h0.75v0.75h-0.75zM275.05 339.24h0.75v0.75h-0.75zM292.77 336.07h0.75v0.75h-0.75zM269.38 331.01h0.75v0.75h-0.75zM287.78 328.06h0.75v0.75h-0.75zM273.89 332.76h0.75v0.75h-0.75zM282.6 339.5h0.75v0.75h-0.75zM295.62 328.97h0.75v0.75h-0.75zM292.82 326.92h0.75v0.75h-0.75zM296.46 334.63h0.75v0.75h-0.75zM274.27 330.23h0.75v0.75h-0.75zM281.9 338.34h0.75v0.75h-0.75zM286.18 338.3h0.75v0.75h-0.75zM293.97 336.09h0.75v0.75h-0.75zM274.56 328.42h0.75v0.75h-0.75zM293.45 327.95h0.75v0.75h-0.75zM283.05 325.59h0.75v0.75h-0.75zM287.97 337.64h0.75v0.75h-0.75zM272.26 331.17h0.75v0.75h-0.75zM282.04 331.46h0.75v0.75h-0.75zM266.68 334.13h0.75v0.75h-0.75zM271.17 335.88h0.75v0.75h-0.75zM285.75 329.02h0.75v0.75h-0.75zM296.75 328.44h0.75v0.75h-0.75zM278.67 337.15h0.75v0.75h-0.75zM280.75 325.16h0.75v0.75h-0.75zM280.77 339.08h0.75v0.75h-0.75zM278.84 330.39h0.75v0.75h-0.75zM278.71 327.09h0.75v0.75h-0.75zM281.36 325.76h0.75v0.75h-0.75zM279.76 339.32h0.75v0.75h-0.75zM273.19 328.79h0.75v0.75h-0.75zM289.56 326h0.75v0.75h-0.75zM291.31 325.73h0.75v0.75h-0.75zM289.26 330.66h0.75v0.75h-0.75zM277.83 325.97h0.75v0.75h-0.75zM291.53 327.72h0.75v0.75h-0.75zM289.04 332.65h0.75v0.75h-0.75zM279.45 339.27h0.75v0.75h-0.75zM280.78 324.03h0.75v0.75h-0.75zM295.03 332.28h0.75v0.75h-0.75zM279.88 338.48h0.75v0.75h-0.75zM280.98 339.44h0.75v0.75h-0.75zM291.95 336.46h0.75v0.75h-0.75zM285.25 339.09h0.75v0.75h-0.75zM280.41 328.89h0.75v0.75h-0.75zM277.22 329.05h0.75v0.75h-0.75zM284.13 325.77h0.75v0.75h-0.75zM278.64 337.91h0.75v0.75h-0.75zM286.26 323.54h0.75v0.75h-0.75zM271.92 334.59h0.75v0.75h-0.75zM271.03 333.12h0.75v0.75h-0.75zM270.76 329.73h0.75v0.75h-0.75zM269.29 333.04h0.75v0.75h-0.75zM297.18 335.03h0.75v0.75h-0.75zM285.93 339.49h0.75v0.75h-0.75zM271.06 334.89h0.75v0.75h-0.75zM284.35 327.16h0.75v0.75h-0.75zM294.97 331.37h0.75v0.75h-0.75zM284.8 334.49h0.75v0.75h-0.75zM288.83 327.42h0.75v0.75h-0.75zM270.5 332.67h0.75v0.75h-0.75zM274.05 328.22h0.75v0.75h-0.75zM269.92 333.34h0.75v0.75h-0.75zM287.47 337.71h0.75v0.75h-0.75zM269.49 334.39h0.75v0.75h-0.75zM272.25 329.75h0.75v0.75h-0.75zM294.86 331.04h0.75v0.75h-0.75zM292.64 335.46h0.75v0.75h-0.75zM281.11 336.02h0.75v0.75h-0.75zM274.37 326.73h0.75v0.75h-0.75zM283.94 339.43h0.75v0.75h-0.75zM275.09 336.18h0.75v0.75h-0.75zM288.84 335.43h0.75v0.75h-0.75zM281.02 337.31h0.75v0.75h-0.75zM275.6 326.33h0.75v0.75h-0.75zM277.42 340.23h0.75v0.75h-0.75zM273.36 335.52h0.75v0.75h-0.75zM282.46 336.8h0.75v0.75h-0.75zM287.39 325.83h0.75v0.75h-0.75zM286.98 339.91h0.75v0.75h-0.75zM287.35 332.23h0.75v0.75h-0.75zM271.3 328.71h0.75v0.75h-0.75zM295.56 336.6h0.75v0.75h-0.75zM298.9 331.99h0.75v0.75h-0.75zM272.5 335.5h0.75v0.75h-0.75zM283.6 326.86h0.75v0.75h-0.75zM271.82 328.66h0.75v0.75h-0.75zM270.9 327.81h0.75v0.75h-0.75zM276.01 334.43h0.75v0.75h-0.75zM286.97 338.5h0.75v0.75h-0.75zM272.22 327.73h0.75v0.75h-0.75zM279.6 334.69h0.75v0.75h-0.75zM278.48 325.15h0.75v0.75h-0.75zM286.24 337.37h0.75v0.75h-0.75zM292.98 326.04h0.75v0.75h-0.75zM271.92 329.72h0.75v0.75h-0.75zM291.79 325.96h0.75v0.75h-0.75zM288.94 325.63h0.75v0.75h-0.75zM282.93 339h0.75v0.75h-0.75zM269.55 336.85h0.75v0.75h-0.75zM272.36 332.17h0.75v0.75h-0.75zM276.32 329.1h0.75v0.75h-0.75zM289.41 331.2h0.75v0.75h-0.75zM292.38 333.75h0.75v0.75h-0.75zM290.55 327.49h0.75v0.75h-0.75zM268.57 330.98h0.75v0.75h-0.75zM292.57 328.55h0.75v0.75h-0.75zM284.55 336.38h0.75v0.75h-0.75zM293.98 333.07h0.75v0.75h-0.75zM280.25 338.27h0.75v0.75h-0.75zM278.68 325.75h0.75v0.75h-0.75zM288.45 334.55h0.75v0.75h-0.75zM298.29 330.06h0.75v0.75h-0.75zM288.75 337.45h0.75v0.75h-0.75zM282.78 337.28h0.75v0.75h-0.75zM273.24 335.04h0.75v0.75h-0.75zM271.59 337.75h0.75v0.75h-0.75zM273.61 328.25h0.75v0.75h-0.75zM271.9 334.94h0.75v0.75h-0.75zM278.12 337.72h0.75v0.75h-0.75zM296.28 337.11h0.75v0.75h-0.75zM295.53 333.61h0.75v0.75h-0.75zM284.64 338.69h0.75v0.75h-0.75zM292.37 338.23h0.75v0.75h-0.75zM272 330.6h0.75v0.75h-0.75zM273.21 330.19h0.75v0.75h-0.75zM293.33 335.15h0.75v0.75h-0.75zM281.95 324.66h0.75v0.75h-0.75zM277.51 328.18h0.75v0.75h-0.75zM294.24 333.91h0.75v0.75h-0.75zM280.23 324.63h0.75v0.75h-0.75zM279.54 335.13h0.75v0.75h-0.75zM274.31 337.64h0.75v0.75h-0.75zM297.57 332.12h0.75v0.75h-0.75zM282.67 324.18h0.75v0.75h-0.75zM290.49 335.26h0.75v0.75h-0.75zM291.1 332.69h0.75v0.75h-0.75zM268.99 333.89h0.75v0.75h-0.75zM288.7 332.64h0.75v0.75h-0.75zM293.38 333.72h0.75v0.75h-0.75zM284.06 325.09h0.75v0.75h-0.75zM270.48 327.83h0.75v0.75h-0.75zM291.67 334.01h0.75v0.75h-0.75zM288.83 336.31h0.75v0.75h-0.75zM274.37 326.5h0.75v0.75h-0.75zM271.01 328.79h0.75v0.75h-0.75zM277.13 337.83h0.75v0.75h-0.75zM290.35 332.84h0.75v0.75h-0.75zM292.79 332.69h0.75v0.75h-0.75zM273.41 337.41h0.75v0.75h-0.75zM280.45 339.73h0.75v0.75h-0.75zM274.8 340.42h0.75v0.75h-0.75zM288.84 325.29h0.75v0.75h-0.75zM275.87 334.51h0.75v0.75h-0.75zM291.07 332.78h0.75v0.75h-0.75zM280.3 324.29h0.75v0.75h-0.75zM273.18 331.46h0.75v0.75h-0.75zM291.88 328.04h0.75v0.75h-0.75zM286.4 336.99h0.75v0.75h-0.75zM278.75 324.37h0.75v0.75h-0.75zM275.5 327.86h0.75v0.75h-0.75zM297.05 333.29h0.75v0.75h-0.75zM273.29 331.38h0.75v0.75h-0.75zM269.38 327.34h0.75v0.75h-0.75zM279.76 326h0.75v0.75h-0.75zM293.32 336.74h0.75v0.75h-0.75zM278.06 337.37h0.75v0.75h-0.75zM282.84 339.24h0.75v0.75h-0.75zM278.91 338.44h0.75v0.75h-0.75zM296.49 327.79h0.75v0.75h-0.75zM290.85 331.21h0.75v0.75h-0.75zM280.69 337.04h0.75v0.75h-0.75zM281.65 337.49h0.75v0.75h-0.75zM269.01 331.74h0.75v0.75h-0.75zM285.84 338.71h0.75v0.75h-0.75zM294.84 327.72h0.75v0.75h-0.75zM296.42 328.14h0.75v0.75h-0.75zM277.46 325.34h0.75v0.75h-0.75zM294.07 328.39h0.75v0.75h-0.75zM294.64 331.82h0.75v0.75h-0.75zM273.03 333.26h0.75v0.75h-0.75zM270.82 329.3h0.75v0.75h-0.75zM283.06 334.83h0.75v0.75h-0.75zM278.28 326.78h0.75v0.75h-0.75zM275.1 327.46h0.75v0.75h-0.75zM287.06 337.22h0.75v0.75h-0.75zM288.57 326.43h0.75v0.75h-0.75zM290.4 337.46h0.75v0.75h-0.75zM292.27 331.54h0.75v0.75h-0.75zM295.72 336.17h0.75v0.75h-0.75zM275.1 333.27h0.75v0.75h-0.75zM273.34 332.86h0.75v0.75h-0.75zM274.33 337.81h0.75v0.75h-0.75zM277.25 337.51h0.75v0.75h-0.75zM272.06 336.64h0.75v0.75h-0.75zM282.76 335.46h0.75v0.75h-0.75zM273.37 330.55h0.75v0.75h-0.75zM286.91 324.76h0.75v0.75h-0.75zM294.72 334.81h0.75v0.75h-0.75zM271.07 330.34h0.75v0.75h-0.75zM294.53 339.11h0.75v0.75h-0.75zM282.93 338.67h0.75v0.75h-0.75zM291.4 327.38h0.75v0.75h-0.75zM279.98 334.48h0.75v0.75h-0.75zM275.92 327.36h0.75v0.75h-0.75zM289.59 334.46h0.75v0.75h-0.75zM291.66 326.93h0.75v0.75h-0.75zM296.43 328.45h0.75v0.75h-0.75zM279.11 338.68h0.75v0.75h-0.75zM295.1 331.78h0.75v0.75h-0.75zM278.21 336.76h0.75v0.75h-0.75zM294.96 333.16h0.75v0.75h-0.75zM291.66 333.65h0.75v0.75h-0.75zM278.41 339.1h0.75v0.75h-0.75zM275.36 337.71h0.75v0.75h-0.75zM284.08 329.59h0.75v0.75h-0.75zM291.58 334.39h0.75v0.75h-0.75zM290.14 325.55h0.75v0.75h-0.75zM283.03 325.84h0.75v0.75h-0.75zM285.04 323.52h0.75v0.75h-0.75zM294.66 332.03h0.75v0.75h-0.75zM290.72 328.6h0.75v0.75h-0.75zM295.45 334.32h0.75v0.75h-0.75zM274.22 325.35h0.75v0.75h-0.75zM274.5 335.06h0.75v0.75h-0.75zM293.89 328.05h0.75v0.75h-0.75zM272.15 331.01h0.75v0.75h-0.75zM294.84 334.47h0.75v0.75h-0.75zM285.41 326.17h0.75v0.75h-0.75zM280.94 336.52h0.75v0.75h-0.75zM282.34 325.8h0.75v0.75h-0.75zM278.31 328.21h0.75v0.75h-0.75zM272.61 331.73h0.75v0.75h-0.75zM286.9 336.59h0.75v0.75h-0.75zM272.95 328.66h0.75v0.75h-0.75zM269.4 337.02h0.75v0.75h-0.75zM287.02 323.72h0.75v0.75h-0.75zM280.23 337.42h0.75v0.75h-0.75zM290.49 336.96h0.75v0.75h-0.75zM274.14 328.15h0.75v0.75h-0.75zM292.23 332.84h0.75v0.75h-0.75zM268.56 334.43h0.75v0.75h-0.75zM285.74 337.83h0.75v0.75h-0.75zM272.38 336.9h0.75v0.75h-0.75zM274.92 326.61h0.75v0.75h-0.75zM288 332.87h0.75v0.75h-0.75zM274.41 329.69h0.75v0.75h-0.75zM277.72 329.38h0.75v0.75h-0.75zM278.84 326.7h0.75v0.75h-0.75zM289.02 336.24h0.75v0.75h-0.75zM274.99 334.65h0.75v0.75h-0.75zM287.9 324.47h0.75v0.75h-0.75zM285.82 338h0.75v0.75h-0.75zM285.06 336.87h0.75v0.75h-0.75zM271.76 330.65h0.75v0.75h-0.75zM293.91 325.6h0.75v0.75h-0.75zM287.81 323.27h0.75v0.75h-0.75zM285.66 339.81h0.75v0.75h-0.75zM274.64 330.95h0.75v0.75h-0.75zM282.13 338.11h0.75v0.75h-0.75zM279.72 336.78h0.75v0.75h-0.75zM274.99 335.94h0.75v0.75h-0.75zM290.11 325.8h0.75v0.75h-0.75zM287.69 325.51h0.75v0.75h-0.75zM290.91 337.34h0.75v0.75h-0.75zM292.83 327.53h0.75v0.75h-0.75zM282.33 325.41h0.75v0.75h-0.75zM278.54 338.07h0.75v0.75h-0.75zM271.63 332.61h0.75v0.75h-0.75zM296.33 334.18h0.75v0.75h-0.75zM269.63 332.34h0.75v0.75h-0.75zM286.66 329.35h0.75v0.75h-0.75zM271.69 328.14h0.75v0.75h-0.75zM294.29 323.47h0.75v0.75h-0.75zM283.46 327.32h0.75v0.75h-0.75zM288.27 327.43h0.75v0.75h-0.75zM276.73 333.24h0.75v0.75h-0.75zM289.93 336.06h0.75v0.75h-0.75zM295.7 333.83h0.75v0.75h-0.75zM273.35 328.27h0.75v0.75h-0.75zM284.84 322.03h0.75v0.75h-0.75zM279.69 339.35h0.75v0.75h-0.75zM290.15 328.55h0.75v0.75h-0.75zM293.84 336.05h0.75v0.75h-0.75zM293.31 330.54h0.75v0.75h-0.75zM296.43 336.12h0.75v0.75h-0.75zM290.43 334.75h0.75v0.75h-0.75zM275.43 336.92h0.75v0.75h-0.75zM274.34 338.11h0.75v0.75h-0.75zM278.01 323.09h0.75v0.75h-0.75zM273.35 328.11h0.75v0.75h-0.75zM289.45 327.94h0.75v0.75h-0.75zM283.54 339.2h0.75v0.75h-0.75zM290.72 329.9h0.75v0.75h-0.75zM295.42 337.08h0.75v0.75h-0.75zM292.74 333.74h0.75v0.75h-0.75zM277.89 338.33h0.75v0.75h-0.75zM291.03 333.91h0.75v0.75h-0.75zM281.79 324.78h0.75v0.75h-0.75zM288.65 327.37h0.75v0.75h-0.75zM284.06 324.63h0.75v0.75h-0.75zM281.37 340.39h0.75v0.75h-0.75zM277.43 333.33h0.75v0.75h-0.75zM292.89 337.47h0.75v0.75h-0.75zM290.11 336.1h0.75v0.75h-0.75zM273.84 325.98h0.75v0.75h-0.75zM282.46 337.07h0.75v0.75h-0.75zM278.06 328.58h0.75v0.75h-0.75zM269.11 327.03h0.75v0.75h-0.75zM277.35 325.42h0.75v0.75h-0.75zM292.46 328.45h0.75v0.75h-0.75zM270.56 330.5h0.75v0.75h-0.75zM290.05 325.17h0.75v0.75h-0.75zM273.9 328.71h0.75v0.75h-0.75zM294.56 332.1h0.75v0.75h-0.75zM271.76 332.75h0.75v0.75h-0.75zM272.16 328.46h0.75v0.75h-0.75zM295.81 332.85h0.75v0.75h-0.75zM272.73 327.71h0.75v0.75h-0.75zM293.4 330.96h0.75v0.75h-0.75zM276.66 333.69h0.75v0.75h-0.75zM278.5 324.66h0.75v0.75h-0.75zM291.04 336.59h0.75v0.75h-0.75zM266.1 332.25h0.75v0.75h-0.75zM286.43 339.83h0.75v0.75h-0.75zM294.95 331.27h0.75v0.75h-0.75zM292.92 329.43h0.75v0.75h-0.75zM279.37 333.38h0.75v0.75h-0.75zM268.29 328.49h0.75v0.75h-0.75zM293.24 337.83h0.75v0.75h-0.75zM274.27 332.89h0.75v0.75h-0.75zM286.44 338.09h0.75v0.75h-0.75zM273.8 334.68h0.75v0.75h-0.75zM282.71 339.01h0.75v0.75h-0.75zM294.69 334.09h0.75v0.75h-0.75zM271.36 328.83h0.75v0.75h-0.75zM289.54 333.78h0.75v0.75h-0.75zM279.26 324.47h0.75v0.75h-0.75zM288.85 331.33h0.75v0.75h-0.75zM271.06 337.32h0.75v0.75h-0.75zM270.61 330.38h0.75v0.75h-0.75zM295.45 333.79h0.75v0.75h-0.75zM288.38 329.07h0.75v0.75h-0.75zM274.42 333.26h0.75v0.75h-0.75zM292.5 334.74h0.75v0.75h-0.75zM281.85 340.92h0.75v0.75h-0.75zM278.94 325.26h0.75v0.75h-0.75zM272.08 329.16h0.75v0.75h-0.75zM296.14 330.3h0.75v0.75h-0.75zM270.58 332.35h0.75v0.75h-0.75zM270.19 332.82h0.75v0.75h-0.75zM291.63 330.8h0.75v0.75h-0.75zM280.95 339.45h0.75v0.75h-0.75zM270.69 330.74h0.75v0.75h-0.75zM290.78 336.78h0.75v0.75h-0.75zM279.07 325.55h0.75v0.75h-0.75zM280.22 327.69h0.75v0.75h-0.75zM285.03 340.78h0.75v0.75h-0.75zM271.25 338.15h0.75v0.75h-0.75zM271.33 329.92h0.75v0.75h-0.75zM272.78 335.84h0.75v0.75h-0.75zM287.83 334.41h0.75v0.75h-0.75zM276.41 336.68h0.75v0.75h-0.75zM273.19 326.48h0.75v0.75h-0.75zM298.74 330.66h0.75v0.75h-0.75zM294.99 330.52h0.75v0.75h-0.75zM298.1 335.95h0.75v0.75h-0.75zM288.21 327.97h0.75v0.75h-0.75zM277.67 327.33h0.75v0.75h-0.75zM272.21 328.7h0.75v0.75h-0.75zM291.36 337.22h0.75v0.75h-0.75zM270.5 331.56h0.75v0.75h-0.75zM272.68 338.66h0.75v0.75h-0.75zM290.21 336.49h0.75v0.75h-0.75zM281.09 323.87h0.75v0.75h-0.75zM272.99 335.72h0.75v0.75h-0.75zM286.28 329.66h0.75v0.75h-0.75zM298.03 330.52h0.75v0.75h-0.75zM288.46 338.81h0.75v0.75h-0.75zM295.41 328.63h0.75v0.75h-0.75zM293.81 338.37h0.75v0.75h-0.75zM279.86 337.16h0.75v0.75h-0.75zM288.15 340.47h0.75v0.75h-0.75zM290.09 338.66h0.75v0.75h-0.75zM295.55 335.93h0.75v0.75h-0.75zM273.05 327.63h0.75v0.75h-0.75zM284.33 323.89h0.75v0.75h-0.75zM282.17 325.1h0.75v0.75h-0.75zM290.05 326.81h0.75v0.75h-0.75zM285.06 338.61h0.75v0.75h-0.75zM287.45 330.97h0.75v0.75h-0.75zM285.69 338.17h0.75v0.75h-0.75zM292.49 329.88h0.75v0.75h-0.75zM287.18 324.42h0.75v0.75h-0.75zM273.2 334.1h0.75v0.75h-0.75zM271.91 330.35h0.75v0.75h-0.75zM280.18 325.55h0.75v0.75h-0.75zM291.84 326.57h0.75v0.75h-0.75zM281.19 337.47h0.75v0.75h-0.75zM274.78 327.22h0.75v0.75h-0.75zM288.88 325.3h0.75v0.75h-0.75zM293.64 333.48h0.75v0.75h-0.75zM289.58 329.94h0.75v0.75h-0.75zM269.91 334.14h0.75v0.75h-0.75zM295.41 332.57h0.75v0.75h-0.75zM271.88 333.7h0.75v0.75h-0.75zM282.39 338.32h0.75v0.75h-0.75zM276.2 332.09h0.75v0.75h-0.75zM285.88 324.96h0.75v0.75h-0.75zM290.95 326.71h0.75v0.75h-0.75zM292.38 329.26h0.75v0.75h-0.75zM289.67 337.22h0.75v0.75h-0.75zM266.55 329.84h0.75v0.75h-0.75zM284.53 323.76h0.75v0.75h-0.75zM281.59 326.8h0.75v0.75h-0.75zM277.48 325.35h0.75v0.75h-0.75zM284.06 339.21h0.75v0.75h-0.75zM285.1 338.18h0.75v0.75h-0.75zM294.98 329.66h0.75v0.75h-0.75zM274.03 337.63h0.75v0.75h-0.75zM284.22 335.83h0.75v0.75h-0.75zM272.97 335.35h0.75v0.75h-0.75zM299.8 332.58h0.75v0.75h-0.75zM274.84 337.29h0.75v0.75h-0.75zM273.39 334.25h0.75v0.75h-0.75zM270.39 325.78h0.75v0.75h-0.75zM275.36 324.78h0.75v0.75h-0.75zM270.65 328.18h0.75v0.75h-0.75zM276.51 325.8h0.75v0.75h-0.75zM286.43 326.85h0.75v0.75h-0.75zM290.29 326.43h0.75v0.75h-0.75zM296.27 333.3h0.75v0.75h-0.75zM268.16 328.45h0.75v0.75h-0.75zM292.17 328.97h0.75v0.75h-0.75zM298.4 336.99h0.75v0.75h-0.75zM274.55 337.77h0.75v0.75h-0.75zM278.87 338.39h0.75v0.75h-0.75zM292.84 326.68h0.75v0.75h-0.75zM270.94 330.79h0.75v0.75h-0.75zM271.12 334.39h0.75v0.75h-0.75zM281.01 323.73h0.75v0.75h-0.75zM277.53 337.84h0.75v0.75h-0.75zM274.47 326.41h0.75v0.75h-0.75zM282.48 339.47h0.75v0.75h-0.75zM284.04 337.52h0.75v0.75h-0.75zM281.89 338.2h0.75v0.75h-0.75zM293.33 332.46h0.75v0.75h-0.75zM281.8 338.97h0.75v0.75h-0.75zM285.01 324.28h0.75v0.75h-0.75zM273.63 331.45h0.75v0.75h-0.75zM274 332.09h0.75v0.75h-0.75zM277.29 324.56h0.75v0.75h-0.75zM271.17 329.64h0.75v0.75h-0.75zM294.94 330.72h0.75v0.75h-0.75zM274.54 329.55h0.75v0.75h-0.75zM291.38 335.92h0.75v0.75h-0.75zM293.88 329.75h0.75v0.75h-0.75zM292.27 335.6h0.75v0.75h-0.75zM277.59 337.83h0.75v0.75h-0.75zM276.13 336.75h0.75v0.75h-0.75zM280.87 334.83h0.75v0.75h-0.75zM273.34 336.02h0.75v0.75h-0.75zM283.11 336.78h0.75v0.75h-0.75zM279.2 336.21h0.75v0.75h-0.75zM274.31 328.6h0.75v0.75h-0.75zM275.55 325.6h0.75v0.75h-0.75zM268.78 334.27h0.75v0.75h-0.75zM272.7 326.74h0.75v0.75h-0.75zM286.88 325.08h0.75v0.75h-0.75zM290.56 329.48h0.75v0.75h-0.75zM287.47 328.52h0.75v0.75h-0.75zM278.06 331.91h0.75v0.75h-0.75zM289.38 338.49h0.75v0.75h-0.75zM296.25 332.89h0.75v0.75h-0.75zM276.12 339.86h0.75v0.75h-0.75zM281.46 338.26h0.75v0.75h-0.75zM280.22 327.76h0.75v0.75h-0.75zM291.93 326.29h0.75v0.75h-0.75zM291.32 328.82h0.75v0.75h-0.75zM289.71 337.6h0.75v0.75h-0.75zM271.47 334h0.75v0.75h-0.75zM269.42 335.25h0.75v0.75h-0.75zM293.73 323.46h0.75v0.75h-0.75zM278.75 324.12h0.75v0.75h-0.75zM293.94 328.31h0.75v0.75h-0.75zM279.17 339.85h0.75v0.75h-0.75zM286.53 335.96h0.75v0.75h-0.75zM288.61 326.26h0.75v0.75h-0.75zM289.06 324.45h0.75v0.75h-0.75zM277.18 338.3h0.75v0.75h-0.75zM282.75 326.6h0.75v0.75h-0.75zM285.4 338.66h0.75v0.75h-0.75zM272.05 328.06h0.75v0.75h-0.75zM286.93 325.05h0.75v0.75h-0.75zM279.27 339.11h0.75v0.75h-0.75zM289.92 328.8h0.75v0.75h-0.75zM280.04 324.37h0.75v0.75h-0.75zM291.67 329.95h0.75v0.75h-0.75zM274.71 325.93h0.75v0.75h-0.75zM291.61 336.32h0.75v0.75h-0.75zM275.15 325.09h0.75v0.75h-0.75zM295.81 334.82h0.75v0.75h-0.75zM293.67 334.31h0.75v0.75h-0.75zM275.73 326.93h0.75v0.75h-0.75zM291.63 337.24h0.75v0.75h-0.75zM271.99 336.61h0.75v0.75h-0.75zM283.94 335.86h0.75v0.75h-0.75zM296.07 330.88h0.75v0.75h-0.75zM277 337.59h0.75v0.75h-0.75zM283.49 338.78h0.75v0.75h-0.75zM298.26 334.62h0.75v0.75h-0.75zM273.71 330.62h0.75v0.75h-0.75zM283.41 336.25h0.75v0.75h-0.75zM294.83 331.41h0.75v0.75h-0.75zM291.23 327.94h0.75v0.75h-0.75zM275.69 339.21h0.75v0.75h-0.75zM289.3 337.79h0.75v0.75h-0.75zM290.03 330.97h0.75v0.75h-0.75zM274.1 331.04h0.75v0.75h-0.75zM280.33 333.98h0.75v0.75h-0.75zM295.52 336.51h0.75v0.75h-0.75zM279.63 323.48h0.75v0.75h-0.75zM279.68 324.99h0.75v0.75h-0.75zM283.12 323.81h0.75v0.75h-0.75zM271.86 329.06h0.75v0.75h-0.75zM284.59 326.42h0.75v0.75h-0.75zM270.23 330.46h0.75v0.75h-0.75zM288.02 328.16h0.75v0.75h-0.75zM276.09 334.99h0.75v0.75h-0.75zM280.79 337.21h0.75v0.75h-0.75zM282.27 340.62h0.75v0.75h-0.75zM289.82 338.22h0.75v0.75h-0.75zM278.63 339.74h0.75v0.75h-0.75zM271.88 332.43h0.75v0.75h-0.75zM269.87 331.24h0.75v0.75h-0.75zM267.58 330.27h0.75v0.75h-0.75zM279.46 324.36h0.75v0.75h-0.75zM292.12 334.21h0.75v0.75h-0.75zM270.79 331.87h0.75v0.75h-0.75zM290.36 340.52h0.75v0.75h-0.75zM290.63 327.97h0.75v0.75h-0.75zM276.18 328.77h0.75v0.75h-0.75zM294.71 331.25h0.75v0.75h-0.75zM270.75 332.49h0.75v0.75h-0.75zM270.04 333.56h0.75v0.75h-0.75zM279.13 337.92h0.75v0.75h-0.75zM273.52 329.02h0.75v0.75h-0.75zM271.38 327.72h0.75v0.75h-0.75zM287.22 335.31h0.75v0.75h-0.75zM279.37 326.9h0.75v0.75h-0.75zM277.06 338.41h0.75v0.75h-0.75zM289.88 338.31h0.75v0.75h-0.75zM277.48 332.18h0.75v0.75h-0.75zM295.94 330.11h0.75v0.75h-0.75zM271.6 331.35h0.75v0.75h-0.75zM277.65 325.36h0.75v0.75h-0.75zM277.84 334.4h0.75v0.75h-0.75zM275.15 330.01h0.75v0.75h-0.75zM288.02 325.31h0.75v0.75h-0.75zM278.89 327.07h0.75v0.75h-0.75zM295.28 329.28h0.75v0.75h-0.75zM277.78 332.55h0.75v0.75h-0.75zM293.61 334.49h0.75v0.75h-0.75zM279.19 339.87h0.75v0.75h-0.75zM288.69 328.21h0.75v0.75h-0.75zM297.64 329.13h0.75v0.75h-0.75zM284.2 325.67h0.75v0.75h-0.75zM294.97 331.06h0.75v0.75h-0.75zM292.95 339.54h0.75v0.75h-0.75zM286.57 339.22h0.75v0.75h-0.75zM273.89 327.57h0.75v0.75h-0.75zM283.11 328.54h0.75v0.75h-0.75zM277.72 337.63h0.75v0.75h-0.75zM273.16 328.35h0.75v0.75h-0.75zM274.12 326.5h0.75v0.75h-0.75zM278.55 328.69h0.75v0.75h-0.75zM272.81 330.92h0.75v0.75h-0.75zM272.59 332.31h0.75v0.75h-0.75zM293.86 333.51h0.75v0.75h-0.75zM285.35 325.9h0.75v0.75h-0.75zM289.27 333.16h0.75v0.75h-0.75zM285.85 336.04h0.75v0.75h-0.75zM279.97 337.82h0.75v0.75h-0.75zM294.34 330.6h0.75v0.75h-0.75zM272.6 331.87h0.75v0.75h-0.75zM273.16 333.8h0.75v0.75h-0.75zM293.33 333.3h0.75v0.75h-0.75zM270.35 333.52h0.75v0.75h-0.75zM270.56 331.66h0.75v0.75h-0.75zM285.21 339.65h0.75v0.75h-0.75zM288.94 329.63h0.75v0.75h-0.75zM279.11 325.15h0.75v0.75h-0.75zM281.58 338.4h0.75v0.75h-0.75zM296.6 333.05h0.75v0.75h-0.75zM270.16 332.55h0.75v0.75h-0.75zM286.45 330.19h0.75v0.75h-0.75zM281.48 324.83h0.75v0.75h-0.75zM293.53 334.77h0.75v0.75h-0.75zM296.36 333.03h0.75v0.75h-0.75zM291.57 332.5h0.75v0.75h-0.75zM282.81 338.21h0.75v0.75h-0.75zM273.49 336.27h0.75v0.75h-0.75zM272.05 328.78h0.75v0.75h-0.75zM281.2 323.12h0.75v0.75h-0.75zM273.79 330.72h0.75v0.75h-0.75zM289.94 325.7h0.75v0.75h-0.75zM272.59 335.22h0.75v0.75h-0.75zM289.8 336.85h0.75v0.75h-0.75zM274.27 328.73h0.75v0.75h-0.75zM291.57 333.06h0.75v0.75h-0.75zM275.65 337.75h0.75v0.75h-0.75zM291.98 334.35h0.75v0.75h-0.75zM292.38 326.35h0.75v0.75h-0.75zM277.2 329.22h0.75v0.75h-0.75zM279.54 329.84h0.75v0.75h-0.75zM269.02 329.35h0.75v0.75h-0.75zM272.1 333.98h0.75v0.75h-0.75zM296.65 333.4h0.75v0.75h-0.75zM288.27 326.4h0.75v0.75h-0.75zM290.74 326.96h0.75v0.75h-0.75zM270.28 332.84h0.75v0.75h-0.75zM285.38 340.49h0.75v0.75h-0.75zM280.01 339.46h0.75v0.75h-0.75zM283.45 324.3h0.75v0.75h-0.75zM272.02 331.41h0.75v0.75h-0.75zM292.91 329.32h0.75v0.75h-0.75zM298.54 331.67h0.75v0.75h-0.75zM278.43 324.6h0.75v0.75h-0.75zM292.07 333.09h0.75v0.75h-0.75zM292.92 334.91h0.75v0.75h-0.75zM286.85 337.51h0.75v0.75h-0.75zM275.87 339.52h0.75v0.75h-0.75zM288.82 326.73h0.75v0.75h-0.75zM269.57 329.97h0.75v0.75h-0.75zM287.28 337h0.75v0.75h-0.75zM295.18 332.56h0.75v0.75h-0.75zM272.73 326.69h0.75v0.75h-0.75zM290.6 329.84h0.75v0.75h-0.75zM276.73 337.73h0.75v0.75h-0.75zM269.06 335.98h0.75v0.75h-0.75zM293.44 329.26h0.75v0.75h-0.75zM292.56 329.8h0.75v0.75h-0.75zM270.72 335.7h0.75v0.75h-0.75zM274.74 327.7h0.75v0.75h-0.75zM278.9 330.41h0.75v0.75h-0.75zM287.79 326.25h0.75v0.75h-0.75zM277.42 326.36h0.75v0.75h-0.75zM287.69 338.37h0.75v0.75h-0.75zM272.8 323.64h0.75v0.75h-0.75zM281.61 338.4h0.75v0.75h-0.75zM295.85 327.85h0.75v0.75h-0.75zM293.85 332.92h0.75v0.75h-0.75zM275.42 331.66h0.75v0.75h-0.75zM292.49 331.43h0.75v0.75h-0.75zM294.65 330.83h0.75v0.75h-0.75zM292.51 337.57h0.75v0.75h-0.75zM282.18 340.25h0.75v0.75h-0.75zM275.26 327.56h0.75v0.75h-0.75zM286.28 339.28h0.75v0.75h-0.75zM292.74 330.12h0.75v0.75h-0.75zM274.91 331.68h0.75v0.75h-0.75zM284.09 338.27h0.75v0.75h-0.75zM295.04 331.88h0.75v0.75h-0.75zM271.93 336.2h0.75v0.75h-0.75zM270.3 330.77h0.75v0.75h-0.75zM273.87 335.31h0.75v0.75h-0.75zM270.05 326.63h0.75v0.75h-0.75zM291.45 334.42h0.75v0.75h-0.75zM276.61 332.66h0.75v0.75h-0.75zM271.04 334.55h0.75v0.75h-0.75zM281.72 338.52h0.75v0.75h-0.75zM270.04 336.19h0.75v0.75h-0.75zM274.28 328.34h0.75v0.75h-0.75zM271.31 330.91h0.75v0.75h-0.75zM270.75 328.57h0.75v0.75h-0.75zM287.95 336.97h0.75v0.75h-0.75zM286.67 334.55h0.75v0.75h-0.75zM286.4 336.81h0.75v0.75h-0.75zM271.14 332.8h0.75v0.75h-0.75zM277.7 335.51h0.75v0.75h-0.75zM279.83 337.62h0.75v0.75h-0.75zM278.14 326.23h0.75v0.75h-0.75zM290.54 333.52h0.75v0.75h-0.75zM275.73 325.77h0.75v0.75h-0.75zM288.82 336.44h0.75v0.75h-0.75zM279.11 340.25h0.75v0.75h-0.75zM268.87 330.8h0.75v0.75h-0.75zM270.56 329.2h0.75v0.75h-0.75zM294.27 338.84h0.75v0.75h-0.75zM286.7 334.33h0.75v0.75h-0.75zM289.36 333.56h0.75v0.75h-0.75zM268 329.7h0.75v0.75h-0.75zM277.58 340.1h0.75v0.75h-0.75zM294.23 330.82h0.75v0.75h-0.75zM294.62 337.53h0.75v0.75h-0.75zM289.2 335.49h0.75v0.75h-0.75zM274.33 326.69h0.75v0.75h-0.75zM285.07 327.87h0.75v0.75h-0.75zM279.39 326.67h0.75v0.75h-0.75zM277.97 324.93h0.75v0.75h-0.75zM293.22 327.99h0.75v0.75h-0.75zM282.53 324.98h0.75v0.75h-0.75zM275.23 341.79h0.75v0.75h-0.75zM278.77 341.9h0.75v0.75h-0.75zM288.88 337.73h0.75v0.75h-0.75zM271.35 331.71h0.75v0.75h-0.75zM292.51 331.42h0.75v0.75h-0.75zM274.57 330.32h0.75v0.75h-0.75zM279.24 325.32h0.75v0.75h-0.75zM276.29 339.8h0.75v0.75h-0.75zM290.75 333.68h0.75v0.75h-0.75zM292.66 330.22h0.75v0.75h-0.75zM272.02 334.24h0.75v0.75h-0.75zM302.61 332.05h0.75v0.75h-0.75zM274.14 328.95h0.75v0.75h-0.75zM285.47 338.59h0.75v0.75h-0.75zM297.28 333.62h0.75v0.75h-0.75zM292.21 334.04h0.75v0.75h-0.75zM279.43 326.81h0.75v0.75h-0.75zM270.03 334.84h0.75v0.75h-0.75zM297.25 334.95h0.75v0.75h-0.75zM292.59 335.7h0.75v0.75h-0.75zM286.29 327.69h0.75v0.75h-0.75zM276.32 336.71h0.75v0.75h-0.75zM272.24 334.55h0.75v0.75h-0.75zM284.03 329.36h0.75v0.75h-0.75zM286.52 324.96h0.75v0.75h-0.75zM288.97 333.59h0.75v0.75h-0.75zM288.15 327.23h0.75v0.75h-0.75zM284.67 326.13h0.75v0.75h-0.75zM284.53 337.47h0.75v0.75h-0.75zM274.49 331.51h0.75v0.75h-0.75zM283.21 337.45h0.75v0.75h-0.75zM275.76 327.02h0.75v0.75h-0.75zM276.76 333.06h0.75v0.75h-0.75zM291.59 329.3h0.75v0.75h-0.75zM276.49 340.51h0.75v0.75h-0.75zM281.1 335.8h0.75v0.75h-0.75zM286.15 331.36h0.75v0.75h-0.75zM287.16 325.66h0.75v0.75h-0.75zM271.71 329.99h0.75v0.75h-0.75zM284.93 326.54h0.75v0.75h-0.75zM296.42 333.15h0.75v0.75h-0.75zM280.04 326.22h0.75v0.75h-0.75zM276.93 338.63h0.75v0.75h-0.75zM283.36 337.88h0.75v0.75h-0.75zM288.38 336.63h0.75v0.75h-0.75zM292.15 326.18h0.75v0.75h-0.75zM269.32 331.52h0.75v0.75h-0.75zM273.91 332.1h0.75v0.75h-0.75zM279.96 325.27h0.75v0.75h-0.75zM295.19 331.36h0.75v0.75h-0.75zM275.29 337.32h0.75v0.75h-0.75zM289.57 330.12h0.75v0.75h-0.75zM284.39 329.34h0.75v0.75h-0.75zM295.64 335.32h0.75v0.75h-0.75zM279.14 337.63h0.75v0.75h-0.75zM275.42 325.22h0.75v0.75h-0.75zM283.6 337.93h0.75v0.75h-0.75zM275.52 327.96h0.75v0.75h-0.75zM283.62 338.7h0.75v0.75h-0.75zM294.41 331.51h0.75v0.75h-0.75zM292.75 336.42h0.75v0.75h-0.75zM284.18 323.88h0.75v0.75h-0.75zM282 336.61h0.75v0.75h-0.75zM293.46 333.64h0.75v0.75h-0.75zM272.32 336.76h0.75v0.75h-0.75zM269.65 328.85h0.75v0.75h-0.75zM279.62 336.62h0.75v0.75h-0.75zM285.34 326.45h0.75v0.75h-0.75zM284.08 338.22h0.75v0.75h-0.75zM268.6 334.16h0.75v0.75h-0.75zM277.84 328.96h0.75v0.75h-0.75zM294.57 333.19h0.75v0.75h-0.75zM291.84 336.32h0.75v0.75h-0.75zM276.63 337.86h0.75v0.75h-0.75zM295.47 328.69h0.75v0.75h-0.75zM294.96 335.54h0.75v0.75h-0.75zM292.53 331.72h0.75v0.75h-0.75zM272.08 329.72h0.75v0.75h-0.75zM289.45 325.29h0.75v0.75h-0.75zM272.62 331.65h0.75v0.75h-0.75zM272.42 335.44h0.75v0.75h-0.75zM268.41 334.67h0.75v0.75h-0.75zM290.48 331.81h0.75v0.75h-0.75zM291.19 327.55h0.75v0.75h-0.75zM269.79 331.4h0.75v0.75h-0.75zM283.85 324.65h0.75v0.75h-0.75zM281.97 330.29h0.75v0.75h-0.75zM278.95 328.21h0.75v0.75h-0.75zM295.64 330.5h0.75v0.75h-0.75zM273.09 340.2h0.75v0.75h-0.75zM279.76 337.26h0.75v0.75h-0.75zM283.01 340.84h0.75v0.75h-0.75zM284.9 326.14h0.75v0.75h-0.75zM275.6 329.73h0.75v0.75h-0.75zM273.94 335.29h0.75v0.75h-0.75zM283.36 326.22h0.75v0.75h-0.75zM290.16 328.29h0.75v0.75h-0.75zM276.19 336.48h0.75v0.75h-0.75zM280.89 333.54h0.75v0.75h-0.75zM281.55 323.33h0.75v0.75h-0.75zM290 335.11h0.75v0.75h-0.75zM285.46 324.46h0.75v0.75h-0.75zM289.75 327.54h0.75v0.75h-0.75zM274.59 327.38h0.75v0.75h-0.75zM289.72 326.07h0.75v0.75h-0.75zM286.49 338.47h0.75v0.75h-0.75zM280.9 337.05h0.75v0.75h-0.75zM278.38 333.8h0.75v0.75h-0.75zM289.11 336.65h0.75v0.75h-0.75zM292.97 336.33h0.75v0.75h-0.75zM273.18 327h0.75v0.75h-0.75zM275.2 329.38h0.75v0.75h-0.75zM291.16 337.15h0.75v0.75h-0.75zM273.83 322.94h0.75v0.75h-0.75zM274.79 330.79h0.75v0.75h-0.75zM280.13 323.87h0.75v0.75h-0.75zM279.23 336.96h0.75v0.75h-0.75zM277.87 336.23h0.75v0.75h-0.75zM295.46 332.31h0.75v0.75h-0.75zM281.77 328.83h0.75v0.75h-0.75zM277.69 327.72h0.75v0.75h-0.75zM277.67 330.03h0.75v0.75h-0.75zM290.28 333.98h0.75v0.75h-0.75zM282.46 338.31h0.75v0.75h-0.75zM290.54 329.93h0.75v0.75h-0.75zM270.28 332.55h0.75v0.75h-0.75zM274.54 336.42h0.75v0.75h-0.75zM291.35 326.13h0.75v0.75h-0.75zM292.11 328.74h0.75v0.75h-0.75zM267.4 333.53h0.75v0.75h-0.75zM281.16 339.43h0.75v0.75h-0.75zM289.48 338.86h0.75v0.75h-0.75zM289.43 336.82h0.75v0.75h-0.75zM280.12 338.92h0.75v0.75h-0.75zM280.41 338.91h0.75v0.75h-0.75zM293.38 332.91h0.75v0.75h-0.75zM287.36 338.43h0.75v0.75h-0.75zM269.88 333h0.75v0.75h-0.75zM293.74 332.5h0.75v0.75h-0.75zM283.55 334.46h0.75v0.75h-0.75zM281.54 325.77h0.75v0.75h-0.75zM284.33 325.17h0.75v0.75h-0.75zM278.48 324.67h0.75v0.75h-0.75zM288.74 334.24h0.75v0.75h-0.75zM279.35 325.8h0.75v0.75h-0.75zM289.25 334.43h0.75v0.75h-0.75zM282.16 337.71h0.75v0.75h-0.75zM295.85 332.22h0.75v0.75h-0.75zM278.48 326.96h0.75v0.75h-0.75zM284.96 324.51h0.75v0.75h-0.75zM284.28 338.4h0.75v0.75h-0.75zM287.54 326.52h0.75v0.75h-0.75zM286.97 327.34h0.75v0.75h-0.75zM279.87 327.8h0.75v0.75h-0.75zM281.5 329.12h0.75v0.75h-0.75zM282.38 325.7h0.75v0.75h-0.75zM275.97 335.19h0.75v0.75h-0.75zM272.97 331.14h0.75v0.75h-0.75zM272.95 338.24h0.75v0.75h-0.75zM277.18 340.29h0.75v0.75h-0.75zM294.24 335.71h0.75v0.75h-0.75zM285.64 336.63h0.75v0.75h-0.75zM278.6 326.01h0.75v0.75h-0.75zM273.61 335.52h0.75v0.75h-0.75zM277.96 327.06h0.75v0.75h-0.75zM268.57 331.54h0.75v0.75h-0.75zM278.46 337.86h0.75v0.75h-0.75zM278.02 327.3h0.75v0.75h-0.75zM275.55 336.53h0.75v0.75h-0.75zM281.34 325.4h0.75v0.75h-0.75zM292.17 329.94h0.75v0.75h-0.75zM277.59 324.57h0.75v0.75h-0.75zM270.18 334.54h0.75v0.75h-0.75zM289.11 327.39h0.75v0.75h-0.75zM288.7 326.1h0.75v0.75h-0.75zM279.75 326.78h0.75v0.75h-0.75zM271.67 331.48h0.75v0.75h-0.75zM272.52 328.92h0.75v0.75h-0.75zM290.1 327.4h0.75v0.75h-0.75zM272.68 328.06h0.75v0.75h-0.75zM283.24 340.2h0.75v0.75h-0.75zM290.59 335.37h0.75v0.75h-0.75zM273.17 334.44h0.75v0.75h-0.75zM280.08 326.51h0.75v0.75h-0.75zM287.73 336.93h0.75v0.75h-0.75zM292.77 327h0.75v0.75h-0.75zM292.44 327.87h0.75v0.75h-0.75zM282.96 328.61h0.75v0.75h-0.75zM292.26 336.73h0.75v0.75h-0.75zM271.98 325.34h0.75v0.75h-0.75zM274.83 335.96h0.75v0.75h-0.75zM274.89 325.69h0.75v0.75h-0.75zM283.3 325.28h0.75v0.75h-0.75zM280.13 328.38h0.75v0.75h-0.75zM274.22 329.61h0.75v0.75h-0.75zM267.27 329.54h0.75v0.75h-0.75zM279.17 325.25h0.75v0.75h-0.75zM291.14 326.66h0.75v0.75h-0.75zM272.39 335h0.75v0.75h-0.75zM296 328.72h0.75v0.75h-0.75zM294.85 331.29h0.75v0.75h-0.75zM271.23 330.32h0.75v0.75h-0.75zM281.39 324.93h0.75v0.75h-0.75zM300.72 335.49h0.75v0.75h-0.75zM281.77 336.45h0.75v0.75h-0.75zM283.89 327.8h0.75v0.75h-0.75zM271.58 333.19h0.75v0.75h-0.75zM298.54 334.18h0.75v0.75h-0.75zM290.64 338.37h0.75v0.75h-0.75zM286.14 337.49h0.75v0.75h-0.75zM270.16 333.37h0.75v0.75h-0.75zM287.24 324.34h0.75v0.75h-0.75zM284.56 326.39h0.75v0.75h-0.75zM288.78 329.2h0.75v0.75h-0.75zM286.91 339.81h0.75v0.75h-0.75zM275.76 336.21h0.75v0.75h-0.75zM287.48 326.21h0.75v0.75h-0.75zM289.3 328.44h0.75v0.75h-0.75zM287.72 322.87h0.75v0.75h-0.75zM295.73 333.88h0.75v0.75h-0.75zM268.51 332.11h0.75v0.75h-0.75zM275.92 324.39h0.75v0.75h-0.75zM285.2 324.95h0.75v0.75h-0.75zM272.35 331.35h0.75v0.75h-0.75zM288.41 332.9h0.75v0.75h-0.75zM293.74 329.4h0.75v0.75h-0.75zM289.9 334.02h0.75v0.75h-0.75zM277.52 339.14h0.75v0.75h-0.75zM271.47 333.32h0.75v0.75h-0.75zM290.87 324.8h0.75v0.75h-0.75zM270.28 331.54h0.75v0.75h-0.75zM273.99 324.08h0.75v0.75h-0.75zM269.15 330.84h0.75v0.75h-0.75zM292.26 337.16h0.75v0.75h-0.75zM293.45 333.86h0.75v0.75h-0.75zM273.83 326.92h0.75v0.75h-0.75zM280.33 327.12h0.75v0.75h-0.75zM276.36 338.34h0.75v0.75h-0.75zM293.24 338.59h0.75v0.75h-0.75zM272.84 330.54h0.75v0.75h-0.75zM288.04 338.79h0.75v0.75h-0.75zM276.99 335.55h0.75v0.75h-0.75zM291.32 335.94h0.75v0.75h-0.75zM271.78 334.82h0.75v0.75h-0.75zM288.18 325.11h0.75v0.75h-0.75zM294.21 331.49h0.75v0.75h-0.75zM277.51 338.49h0.75v0.75h-0.75zM270.65 333.54h0.75v0.75h-0.75zM291.47 330.51h0.75v0.75h-0.75zM291.66 326.69h0.75v0.75h-0.75zM294.98 326.01h0.75v0.75h-0.75zM276.92 324.88h0.75v0.75h-0.75zM282.55 324.05h0.75v0.75h-0.75zM283.96 339.15h0.75v0.75h-0.75zM288.09 326.99h0.75v0.75h-0.75zM271.93 336.64h0.75v0.75h-0.75zM278.2 327.25h0.75v0.75h-0.75zM296.62 329.6h0.75v0.75h-0.75zM291.47 333.58h0.75v0.75h-0.75zM275.95 326.81h0.75v0.75h-0.75zM270.56 334.05h0.75v0.75h-0.75zM271.29 330.96h0.75v0.75h-0.75zM284.69 337.7h0.75v0.75h-0.75zM276.21 336.39h0.75v0.75h-0.75zM273.38 328.09h0.75v0.75h-0.75zM288.18 329.98h0.75v0.75h-0.75zM287.82 326.71h0.75v0.75h-0.75zM291.76 334.99h0.75v0.75h-0.75zM289.94 331.28h0.75v0.75h-0.75zM271.07 335.01h0.75v0.75h-0.75zM284.28 339h0.75v0.75h-0.75zM294.98 333.89h0.75v0.75h-0.75zM282.27 326.28h0.75v0.75h-0.75zM288.63 327.13h0.75v0.75h-0.75zM293.62 331.21h0.75v0.75h-0.75zM288.66 337.94h0.75v0.75h-0.75zM275.29 336.73h0.75v0.75h-0.75zM270.81 327.44h0.75v0.75h-0.75zM281.15 328.5h0.75v0.75h-0.75zM274.57 333.8h0.75v0.75h-0.75zM289.95 337.91h0.75v0.75h-0.75zM291.8 338.82h0.75v0.75h-0.75zM296.11 329.34h0.75v0.75h-0.75zM293.19 326.86h0.75v0.75h-0.75zM279.11 340.17h0.75v0.75h-0.75zM279.84 324.89h0.75v0.75h-0.75zM280.56 323.76h0.75v0.75h-0.75zM279.18 338.52h0.75v0.75h-0.75zM270.77 336.81h0.75v0.75h-0.75zM266.34 330.78h0.75v0.75h-0.75zM273.58 337.3h0.75v0.75h-0.75zM286.42 327.39h0.75v0.75h-0.75zM282.38 326.73h0.75v0.75h-0.75zM272.99 333.23h0.75v0.75h-0.75zM292.58 337.42h0.75v0.75h-0.75zM276.74 331h0.75v0.75h-0.75zM274.35 325.87h0.75v0.75h-0.75zM276.09 338.15h0.75v0.75h-0.75zM290.57 337.41h0.75v0.75h-0.75zM274.47 324.94h0.75v0.75h-0.75zM269.08 329.53h0.75v0.75h-0.75zM273.23 331.92h0.75v0.75h-0.75zM286.02 338.61h0.75v0.75h-0.75zM272.92 329.47h0.75v0.75h-0.75zM271.05 328.44h0.75v0.75h-0.75zM286.18 334.07h0.75v0.75h-0.75zM279.6 338.98h0.75v0.75h-0.75zM273.41 330.98h0.75v0.75h-0.75zM288.83 336.89h0.75v0.75h-0.75zM271.41 331.27h0.75v0.75h-0.75zM278.78 337.96h0.75v0.75h-0.75zM293.58 329.11h0.75v0.75h-0.75zM276.03 333.79h0.75v0.75h-0.75zM281.85 323.99h0.75v0.75h-0.75zM284.08 325.21h0.75v0.75h-0.75zM293.18 335.45h0.75v0.75h-0.75zM273.46 337.17h0.75v0.75h-0.75zM287.92 326.51h0.75v0.75h-0.75zM279.75 325.81h0.75v0.75h-0.75zM286.91 337.21h0.75v0.75h-0.75zM273.58 332.23h0.75v0.75h-0.75zM281.83 339.16h0.75v0.75h-0.75zM287.33 324.71h0.75v0.75h-0.75zM299.85 332.21h0.75v0.75h-0.75zM269.89 333.13h0.75v0.75h-0.75zM289.51 328.4h0.75v0.75h-0.75zM291.03 335.62h0.75v0.75h-0.75zM293.36 328.24h0.75v0.75h-0.75zM284.44 326.94h0.75v0.75h-0.75zM281.19 326.48h0.75v0.75h-0.75zM292.12 338.82h0.75v0.75h-0.75zM274.8 326.83h0.75v0.75h-0.75zM292.04 324.05h0.75v0.75h-0.75zM279.52 340.96h0.75v0.75h-0.75zM275.99 338.87h0.75v0.75h-0.75zM277.17 324.5h0.75v0.75h-0.75zM269.94 331.24h0.75v0.75h-0.75zM284.14 324.39h0.75v0.75h-0.75zM284.24 325.31h0.75v0.75h-0.75zM288.09 329.21h0.75v0.75h-0.75zM290.1 323.34h0.75v0.75h-0.75zM277.62 329.34h0.75v0.75h-0.75zM285.67 323.88h0.75v0.75h-0.75zM292.02 334.1h0.75v0.75h-0.75zM270.67 329.06h0.75v0.75h-0.75zM296.3 335.36h0.75v0.75h-0.75zM294.35 333.15h0.75v0.75h-0.75zM291.54 330.4h0.75v0.75h-0.75zM278.18 328.36h0.75v0.75h-0.75zM273.61 328.75h0.75v0.75h-0.75zM282.37 336.09h0.75v0.75h-0.75zM277.12 336.27h0.75v0.75h-0.75zM277.03 324.96h0.75v0.75h-0.75zM291.17 337.53h0.75v0.75h-0.75zM291.39 333.05h0.75v0.75h-0.75zM291.99 338.31h0.75v0.75h-0.75zM284.98 337.95h0.75v0.75h-0.75zM268.75 330.94h0.75v0.75h-0.75zM291.21 334.43h0.75v0.75h-0.75zM294.5 327.5h0.75v0.75h-0.75zM291.21 325.74h0.75v0.75h-0.75zM290.72 327.6h0.75v0.75h-0.75zM269.21 331.05h0.75v0.75h-0.75zM284.49 340.71h0.75v0.75h-0.75zM292.5 328.01h0.75v0.75h-0.75zM284.7 326h0.75v0.75h-0.75zM290.67 330.67h0.75v0.75h-0.75zM283.09 338.06h0.75v0.75h-0.75zM280.88 325h0.75v0.75h-0.75zM275.53 325.9h0.75v0.75h-0.75zM273.73 337.14h0.75v0.75h-0.75zM293.07 327.58h0.75v0.75h-0.75zM274.36 336.26h0.75v0.75h-0.75zM286.04 337.56h0.75v0.75h-0.75zM276.19 333.66h0.75v0.75h-0.75zM286.63 337.74h0.75v0.75h-0.75zM282.14 323.32h0.75v0.75h-0.75zM291.56 326.77h0.75v0.75h-0.75z"/>
<path fill="#555" fill-opacity="0.5" d="M268.98 326.19h0.75v0.75h-0.75zM305.87 330.05h0.75v0.75h-0.75zM292.94 327.81h0.75v0.75h-0.75zM279.36 330.87h0.75v0.75h-0.75zM278.71 334.17h0.75v0.75h-0.75zM283.85 336.99h0.75v0.75h-0.75zM280.4 333.29h0.75v0.75h-0.75zM275.1 337.16h0.75v0.75h-0.75zM271.35 325.7h0.75v0.75h-0.75zM276.28 329.03h0.75v0.75h-0.75zM267.94 324.06h0.75v0.75h-0.75zM273.81 332.57h0.75v0.75h-0.75zM297.03 328.77h0.75v0.75h-0.75zM274.4 332.38h0.75v0.75h-0.75zM290.24 337.98h0.75v0.75h-0.75zM289.43 328.92h0.75v0.75h-0.75zM290.06 321.84h0.75v0.75h-0.75zM285.4 339.38h0.75v0.75h-0.75zM290.62 342.36h0.75v0.75h-0.75zM278.67 332.58h0.75v0.75h-0.75zM281.6 335.71h0.75v0.75h-0.75zM293.23 331.78h0.75v0.75h-0.75zM288.63 333.77h0.75v0.75h-0.75zM284.5 325.9h0.75v0.75h-0.75zM284.82 335.91h0.75v0.75h-0.75zM277.84 324.81h0.75v0.75h-0.75zM291.81 339.32h0.75v0.75h-0.75zM280.87 336.67h0.75v0.75h-0.75zM270.63 337.75h0.75v0.75h-0.75zM280.28 337.31h0.75v0.75h-0.75zM272.44 333.35h0.75v0.75h-0.75zM276.91 323.52h0.75v0.75h-0.75zM268.41 334.45h0.75v0.75h-0.75zM277.75 335.44h0.75v0.75h-0.75zM286.49 335.52h0.75v0.75h-0.75zM279.71 329.13h0.75v0.75h-0.75zM280.71 333.87h0.75v0.75h-0.75zM275.62 334.42h0.75v0.75h-0.75zM282.99 332.1h0.75v0.75h-0.75zM295.06 336.24h0.75v0.75h-0.75zM266.65 326.9h0.75v0.75h-0.75zM302.24 338.97h0.75v0.75h-0.75zM284.91 327.94h0.75v0.75h-0.75zM275.16 333.4h0.75v0.75h-0.75zM294.03 329.72h0.75v0.75h-0.75zM288.84 334.35h0.75v0.75h-0.75zM276.65 336.19h0.75v0.75h-0.75zM265.74 331.15h0.75v0.75h-0.75zM278.03 339.56h0.75v0.75h-0.75zM278.74 326.2h0.75v0.75h-0.75zM276.81 323.58h0.75v0.75h-0.75zM286.83 326.11h0.75v0.75h-0.75zM286.78 332.8h0.75v0.75h-0.75zM285.04 332.53h0.75v0.75h-0.75zM286.85 336.06h0.75v0.75h-0.75zM272.9 334.32h0.75v0.75h-0.75zM269.66 330.61h0.75v0.75h-0.75zM272.32 337.65h0.75v0.75h-0.75zM286.35 329.96h0.75v0.75h-0.75zM280.3 327.35h0.75v0.75h-0.75zM288.82 328.1h0.75v0.75h-0.75zM288.07 337.73h0.75v0.75h-0.75zM290.81 337.98h0.75v0.75h-0.75zM274.79 324.57h0.75v0.75h-0.75zM279.73 330.5h0.75v0.75h-0.75zM283.94 326.58h0.75v0.75h-0.75zM304.46 334.91h0.75v0.75h-0.75zM286.69 333.03h0.75v0.75h-0.75zM265.51 335.35h0.75v0.75h-0.75zM277.41 324.48h0.75v0.75h-0.75zM273.91 330.66h0.75v0.75h-0.75zM295.4 339.05h0.75v0.75h-0.75zM274.29 336h0.75v0.75h-0.75zM283.11 335.43h0.75v0.75h-0.75zM282.9 329.41h0.75v0.75h-0.75zM270.77 334.26h0.75v0.75h-0.75zM275.19 328.42h0.75v0.75h-0.75zM289.24 341.78h0.75v0.75h-0.75zM297.75 329.44h0.75v0.75h-0.75zM299.29 324.04h0.75v0.75h-0.75zM289.13 333.09h0.75v0.75h-0.75zM280.68 333.41h0.75v0.75h-0.75zM272.05 327.97h0.75v0.75h-0.75zM268.26 326.83h0.75v0.75h-0.75zM271.72 329.07h0.75v0.75h-0.75zM283.44 324.28h0.75v0.75h-0.75zM285.43 331.63h0.75v0.75h-0.75zM277.98 330.32h0.75v0.75h-0.75zM289.64 324.42h0.75v0.75h-0.75zM283.26 330.67h0.75v0.75h-0.75zM286.32 334.22h0.75v0.75h-0.75zM300.67 331.15h0.75v0.75h-0.75zM290.39 325.9h0.75v0.75h-0.75zM270.31 327.96h0.75v0.75h-0.75zM279.93 327.78h0.75v0.75h-0.75zM283.4 338.07h0.75v0.75h-0.75zM275.82 332.41h0.75v0.75h-0.75zM295.04 339.41h0.75v0.75h-0.75zM290.5 330.67h0.75v0.75h-0.75zM286.77 332.06h0.75v0.75h-0.75zM275.48 327.01h0.75v0.75h-0.75zM284.62 324.67h0.75v0.75h-0.75zM273.1 327.44h0.75v0.75h-0.75zM290.59 327.84h0.75v0.75h-0.75zM278.33 327.76h0.75v0.75h-0.75zM283.59 335.63h0.75v0.75h-0.75zM303.88 337.21h0.75v0.75h-0.75zM284.95 326.99h0.75v0.75h-0.75zM293.93 320.98h0.75v0.75h-0.75zM297.36 332.01h0.75v0.75h-0.75zM274.84 335.04h0.75v0.75h-0.75zM287.82 334.28h0.75v0.75h-0.75zM279.77 324.16h0.75v0.75h-0.75zM292.34 333.65h0.75v0.75h-0.75zM276.66 332.59h0.75v0.75h-0.75zM296.85 332.42h0.75v0.75h-0.75zM265.8 329.45h0.75v0.75h-0.75zM292.35 336.6h0.75v0.75h-0.75zM277.41 333h0.75v0.75h-0.75zM277.07 334.08h0.75v0.75h-0.75zM284.42 335.28h0.75v0.75h-0.75zM283.64 331.37h0.75v0.75h-0.75zM283.17 334.1h0.75v0.75h-0.75zM290.17 322.83h0.75v0.75h-0.75zM279.49 336.2h0.75v0.75h-0.75zM275.55 334.01h0.75v0.75h-0.75zM286.74 334.63h0.75v0.75h-0.75zM287.39 330.03h0.75v0.75h-0.75zM294.34 326.47h0.75v0.75h-0.75zM292.2 328.45h0.75v0.75h-0.75zM280.97 336.22h0.75v0.75h-0.75zM279.74 332.1h0.75v0.75h-0.75zM284.6 327.88h0.75v0.75h-0.75zM283.29 322.3h0.75v0.75h-0.75zM276.73 330.63h0.75v0.75h-0.75zM288.91 330.68h0.75v0.75h-0.75zM270.8 330.91h0.75v0.75h-0.75zM297.64 332.28h0.75v0.75h-0.75zM286.56 331.88h0.75v0.75h-0.75zM281.82 328.13h0.75v0.75h-0.75zM282.71 332.42h0.75v0.75h-0.75zM274.06 336.07h0.75v0.75h-0.75zM284.34 338.59h0.75v0.75h-0.75zM283.47 335.81h0.75v0.75h-0.75zM271.36 334.21h0.75v0.75h-0.75zM281.39 330.57h0.75v0.75h-0.75zM272.76 336.76h0.75v0.75h-0.75zM284.8 336.46h0.75v0.75h-0.75zM292.72 327.9h0.75v0.75h-0.75zM266.31 332.08h0.75v0.75h-0.75zM280.18 326.58h0.75v0.75h-0.75zM280.84 329.96h0.75v0.75h-0.75zM275.3 331.94h0.75v0.75h-0.75zM277.67 331.94h0.75v0.75h-0.75zM293.71 335.3h0.75v0.75h-0.75zM286.28 337.87h0.75v0.75h-0.75zM283.68 332.57h0.75v0.75h-0.75zM283.03 324.54h0.75v0.75h-0.75zM283.18 326.29h0.75v0.75h-0.75zM296.96 333.29h0.75v0.75h-0.75zM275.98 336.17h0.75v0.75h-0.75zM283.43 328.01h0.75v0.75h-0.75zM292.63 335.09h0.75v0.75h-0.75zM288.68 337.73h0.75v0.75h-0.75zM270.19 327.35h0.75v0.75h-0.75zM280.09 332.46h0.75v0.75h-0.75zM274.29 329.48h0.75v0.75h-0.75zM287.82 342.53h0.75v0.75h-0.75zM288.88 325.65h0.75v0.75h-0.75zM292.37 333.81h0.75v0.75h-0.75zM285.89 329.32h0.75v0.75h-0.75zM273.95 327.65h0.75v0.75h-0.75zM299.87 336.2h0.75v0.75h-0.75zM273.58 331.79h0.75v0.75h-0.75zM271.94 329.08h0.75v0.75h-0.75zM284.84 340.28h0.75v0.75h-0.75zM269.1 338.97h0.75v0.75h-0.75zM291.13 326.06h0.75v0.75h-0.75zM274.82 337.64h0.75v0.75h-0.75zM301.22 335.7h0.75v0.75h-0.75zM285.32 334.56h0.75v0.75h-0.75zM276.87 329.27h0.75v0.75h-0.75zM274.49 330.97h0.75v0.75h-0.75zM278.83 332.58h0.75v0.75h-0.75zM278.66 337.18h0.75v0.75h-0.75zM272.04 335.99h0.75v0.75h-0.75zM284.86 337.3h0.75v0.75h-0.75zM282.17 339.85h0.75v0.75h-0.75zM279.26 339.9h0.75v0.75h-0.75zM274.34 334.84h0.75v0.75h-0.75zM285.74 331.04h0.75v0.75h-0.75zM285.53 331.55h0.75v0.75h-0.75zM286.19 333.55h0.75v0.75h-0.75zM270.85 331.98h0.75v0.75h-0.75zM289.05 327.54h0.75v0.75h-0.75zM287.23 334.46h0.75v0.75h-0.75zM291.65 332.19h0.75v0.75h-0.75zM274.79 329.42h0.75v0.75h-0.75zM277.92 336.6h0.75v0.75h-0.75zM293.32 334.08h0.75v0.75h-0.75zM278.05 336.92h0.75v0.75h-0.75zM272 337.54h0.75v0.75h-0.75zM279.67 332.64h0.75v0.75h-0.75zM273.66 336.25h0.75v0.75h-0.75zM288.03 337.88h0.75v0.75h-0.75zM279.18 341.88h0.75v0.75h-0.75zM286.72 335.36h0.75v0.75h-0.75zM276.93 332.99h0.75v0.75h-0.75zM277.89 334.77h0.75v0.75h-0.75zM284.52 328.34h0.75v0.75h-0.75zM291.05 324.66h0.75v0.75h-0.75zM279.63 334.69h0.75v0.75h-0.75zM298.42 336.66h0.75v0.75h-0.75zM273.12 331.89h0.75v0.75h-0.75zM285.47 344.89h0.75v0.75h-0.75zM284.04 335.15h0.75v0.75h-0.75zM285.38 329.74h0.75v0.75h-0.75zM282.33 331.45h0.75v0.75h-0.75zM280.52 331.97h0.75v0.75h-0.75zM276.55 327.87h0.75v0.75h-0.75zM284.54 334.98h0.75v0.75h-0.75zM297.53 341.89h0.75v0.75h-0.75zM280.41 331.96h0.75v0.75h-0.75zM286 334.57h0.75v0.75h-0.75zM278.64 329.91h0.75v0.75h-0.75zM308.89 332.02h0.75v0.75h-0.75zM268.23 329.32h0.75v0.75h-0.75zM287.45 332.12h0.75v0.75h-0.75zM274 328.87h0.75v0.75h-0.75zM303.77 326.3h0.75v0.75h-0.75zM293.09 332.72h0.75v0.75h-0.75zM294.92 333.13h0.75v0.75h-0.75zM291.25 331.07h0.75v0.75h-0.75zM279.99 337.05h0.75v0.75h-0.75zM273.67 324.56h0.75v0.75h-0.75zM288.2 333.13h0.75v0.75h-0.75zM278.28 333.95h0.75v0.75h-0.75zM282.96 327.71h0.75v0.75h-0.75zM280.43 335.74h0.75v0.75h-0.75zM274.05 342.92h0.75v0.75h-0.75zM281.15 327.05h0.75v0.75h-0.75zM294.49 332.68h0.75v0.75h-0.75zM286.12 339.95h0.75v0.75h-0.75zM283.2 331.74h0.75v0.75h-0.75zM300.53 332.58h0.75v0.75h-0.75zM277.48 331.38h0.75v0.75h-0.75zM288.68 337.92h0.75v0.75h-0.75zM277.49 329.09h0.75v0.75h-0.75zM285.9 334.5h0.75v0.75h-0.75zM280.98 330.11h0.75v0.75h-0.75zM269.72 335.58h0.75v0.75h-0.75zM281.61 325.08h0.75v0.75h-0.75zM291.21 332.29h0.75v0.75h-0.75zM272.62 335.62h0.75v0.75h-0.75zM293.37 335.04h0.75v0.75h-0.75zM306.2 330.24h0.75v0.75h-0.75zM274.24 333.77h0.75v0.75h-0.75zM285.96 336.86h0.75v0.75h-0.75zM282.1 327.57h0.75v0.75h-0.75zM275.01 337.73h0.75v0.75h-0.75zM283.05 331.79h0.75v0.75h-0.75zM291.88 328.48h0.75v0.75h-0.75zM288.93 325.2h0.75v0.75h-0.75zM283.37 329.76h0.75v0.75h-0.75zM290.52 335.87h0.75v0.75h-0.75zM283.12 332.4h0.75v0.75h-0.75zM267.84 329.66h0.75v0.75h-0.75zM287.78 342.86h0.75v0.75h-0.75zM298.51 339.79h0.75v0.75h-0.75zM282.3 328.16h0.75v0.75h-0.75zM272.29 330.76h0.75v0.75h-0.75zM272.09 337.44h0.75v0.75h-0.75zM279.32 324.56h0.75v0.75h-0.75zM273.36 339.67h0.75v0.75h-0.75zM290.24 333.81h0.75v0.75h-0.75zM275.31 328.56h0.75v0.75h-0.75zM295.8 336.21h0.75v0.75h-0.75zM287.56 326.22h0.75v0.75h-0.75zM288.95 339.68h0.75v0.75h-0.75zM277.39 323.87h0.75v0.75h-0.75zM272.54 331.31h0.75v0.75h-0.75zM269.93 333.45h0.75v0.75h-0.75zM280.47 334.43h0.75v0.75h-0.75zM278.72 332.45h0.75v0.75h-0.75zM288.62 339.6h0.75v0.75h-0.75zM299.72 333.18h0.75v0.75h-0.75zM275.22 323.33h0.75v0.75h-0.75zM278.44 326.6h0.75v0.75h-0.75zM285.07 334.31h0.75v0.75h-0.75zM293.42 325.39h0.75v0.75h-0.75zM289.11 343.14h0.75v0.75h-0.75zM274.78 325.28h0.75v0.75h-0.75zM283.71 327.98h0.75v0.75h-0.75zM277.29 334.07h0.75v0.75h-0.75zM289.29 336.95h0.75v0.75h-0.75zM271.4 338.01h0.75v0.75h-0.75zM281.34 333.97h0.75v0.75h-0.75zM293.13 333.31h0.75v0.75h-0.75zM301.49 330.74h0.75v0.75h-0.75zM274.47 325.6h0.75v0.75h-0.75zM298.36 333.27h0.75v0.75h-0.75zM277.73 330.23h0.75v0.75h-0.75zM296.38 333.41h0.75v0.75h-0.75zM292.67 334.23h0.75v0.75h-0.75zM295.53 333.13h0.75v0.75h-0.75zM304.81 334.58h0.75v0.75h-0.75zM283.31 330.53h0.75v0.75h-0.75zM305.38 332.69h0.75v0.75h-0.75zM290.34 325.04h0.75v0.75h-0.75zM266.78 333.11h0.75v0.75h-0.75zM281.82 323.63h0.75v0.75h-0.75zM282.29 333.84h0.75v0.75h-0.75zM271.14 333.05h0.75v0.75h-0.75zM292.37 328.97h0.75v0.75h-0.75zM283.36 333.05h0.75v0.75h-0.75zM293.25 341.62h0.75v0.75h-0.75zM296.07 332.17h0.75v0.75h-0.75zM292.55 329.92h0.75v0.75h-0.75zM291.37 327.36h0.75v0.75h-0.75zM275.69 334.45h0.75v0.75h-0.75zM288.79 333.09h0.75v0.75h-0.75zM295.58 334.75h0.75v0.75h-0.75zM282.86 331.91h0.75v0.75h-0.75zM280.71 332.56h0.75v0.75h-0.75zM276.75 329.6h0.75v0.75h-0.75zM278.7 330.47h0.75v0.75h-0.75zM294.43 328.66h0.75v0.75h-0.75zM282.55 323.45h0.75v0.75h-0.75zM280.34 332.57h0.75v0.75h-0.75zM272.17 329.26h0.75v0.75h-0.75zM283.2 326.23h0.75v0.75h-0.75zM277.07 331.53h0.75v0.75h-0.75zM284.72 333.9h0.75v0.75h-0.75zM274.8 338.03h0.75v0.75h-0.75zM291.99 333.88h0.75v0.75h-0.75zM279.83 330.83h0.75v0.75h-0.75zM303.3 340.11h0.75v0.75h-0.75zM283.62 329.6h0.75v0.75h-0.75zM292.71 331.53h0.75v0.75h-0.75zM288.65 340.72h0.75v0.75h-0.75zM277.88 334.11h0.75v0.75h-0.75zM283.18 338.08h0.75v0.75h-0.75zM281.06 331.79h0.75v0.75h-0.75zM289.16 334.32h0.75v0.75h-0.75zM283.61 325.01h0.75v0.75h-0.75z"/>
<path fill="#444" fill-opacity="0.55" d="M314.02 333.19h0.75v0.75h-0.75zM307.44 327.7h0.75v0.75h-0.75zM296.9 329.71h0.75v0.75h-0.75zM301.99 328.44h0.75v0.75h-0.75zM302.71 325.21h0.75v0.75h-0.75zM310.74 329.43h0.75v0.75h-0.75zM306.82 332.09h0.75v0.75h-0.75zM302.32 326.43h0.75v0.75h-0.75zM295.78 328.42h0.75v0.75h-0.75zM311.34 334.82h0.75v0.75h-0.75zM314.28 333.94h0.75v0.75h-0.75zM308.7 328.13h0.75v0.75h-0.75zM302.74 328.85h0.75v0.75h-0.75zM304.85 325.89h0.75v0.75h-0.75zM308.46 333.36h0.75v0.75h-0.75zM302.49 322.94h0.75v0.75h-0.75zM303.43 335.86h0.75v0.75h-0.75zM298.57 333.85h0.75v0.75h-0.75zM301.23 329.77h0.75v0.75h-0.75zM306.6 330.51h0.75v0.75h-0.75zM311 328.8h0.75v0.75h-0.75zM299.37 322.84h0.75v0.75h-0.75zM296.74 334.43h0.75v0.75h-0.75zM307.11 335.87h0.75v0.75h-0.75zM299.09 327.07h0.75v0.75h-0.75zM307.23 328.36h0.75v0.75h-0.75zM297.36 334.01h0.75v0.75h-0.75zM304.65 328.23h0.75v0.75h-0.75zM304.76 330.7h0.75v0.75h-0.75zM304.1 330.03h0.75v0.75h-0.75zM314.45 327.09h0.75v0.75h-0.75zM307.74 328.62h0.75v0.75h-0.75zM302.54 331.2h0.75v0.75h-0.75zM298.66 333.21h0.75v0.75h-0.75zM315.03 320.52h0.75v0.75h-0.75zM298.99 335.93h0.75v0.75h-0.75zM313.63 322.26h0.75v0.75h-0.75zM306.1 336.91h0.75v0.75h-0.75zM314.57 332.06h0.75v0.75h-0.75zM310.58 328.4h0.75v0.75h-0.75zM300.45 334.36h0.75v0.75h-0.75zM300.14 334.84h0.75v0.75h-0.75zM308.35 331.11h0.75v0.75h-0.75zM310.26 331.01h0.75v0.75h-0.75zM301.03 329.24h0.75v0.75h-0.75zM297.28 336.81h0.75v0.75h-0.75zM303.34 321.11h0.75v0.75h-0.75zM311.18 328.35h0.75v0.75h-0.75zM310.39 334.57h0.75v0.75h-0.75zM307.3 327.64h0.75v0.75h-0.75zM303.97 331.17h0.75v0.75h-0.75zM308.67 326.98h0.75v0.75h-0.75zM295.61 332.07h0.75v0.75h-0.75zM313.11 331.34h0.75v0.75h-0.75zM298.6 337.17h0.75v0.75h-0.75zM315.35 332.54h0.75v0.75h-0.75zM301.09 329.07h0.75v0.75h-0.75zM315.13 322.17h0.75v0.75h-0.75zM295.6 338.97h0.75v0.75h-0.75zM296.23 327.35h0.75v0.75h-0.75zM301.85 331.49h0.75v0.75h-0.75zM315.98 331.42h0.75v0.75h-0.75zM298.54 331.23h0.75v0.75h-0.75zM292.87 331.79h0.75v0.75h-0.75zM311.32 337.13h0.75v0.75h-0.75zM299.31 329.97h0.75v0.75h-0.75zM296.45 334.41h0.75v0.75h-0.75zM299.16 328.91h0.75v0.75h-0.75zM306.32 334.46h0.75v0.75h-0.75zM300.02 327.92h0.75v0.75h-0.75zM299.23 332.87h0.75v0.75h-0.75zM295.09 330.63h0.75v0.75h-0.75zM304.56 333.69h0.75v0.75h-0.75zM305.87 331.55h0.75v0.75h-0.75zM307.39 326.27h0.75v0.75h-0.75zM317.78 335.29h0.75v0.75h-0.75zM305.99 332.15h0.75v0.75h-0.75zM295.64 323.42h0.75v0.75h-0.75zM302.72 330.48h0.75v0.75h-0.75zM305.52 326.3h0.75v0.75h-0.75zM307.07 322.83h0.75v0.75h-0.75zM312.57 330.05h0.75v0.75h-0.75zM310.72 323.28h0.75v0.75h-0.75zM305.23 337.87h0.75v0.75h-0.75zM301.92 334.51h0.75v0.75h-0.75zM300.79 329.85h0.75v0.75h-0.75zM301.01 329.74h0.75v0.75h-0.75zM299.32 342.85h0.75v0.75h-0.75zM297.4 334.17h0.75v0.75h-0.75zM302.87 334.34h0.75v0.75h-0.75zM303.41 329.35h0.75v0.75h-0.75zM301.68 326.11h0.75v0.75h-0.75zM305.48 328.31h0.75v0.75h-0.75zM305.78 332.41h0.75v0.75h-0.75zM301.05 337.64h0.75v0.75h-0.75zM307.6 327.16h0.75v0.75h-0.75zM303.94 332.85h0.75v0.75h-0.75zM307.18 329.33h0.75v0.75h-0.75zM297.6 321.08h0.75v0.75h-0.75zM300.22 336.23h0.75v0.75h-0.75zM302.58 333h0.75v0.75h-0.75zM303.93 332.21h0.75v0.75h-0.75zM304.95 330.24h0.75v0.75h-0.75zM313.78 324.34h0.75v0.75h-0.75zM310.95 327.89h0.75v0.75h-0.75zM303.98 329.76h0.75v0.75h-0.75zM320.96 340.58h0.75v0.75h-0.75zM305.51 336.54h0.75v0.75h-0.75zM309.28 327.42h0.75v0.75h-0.75zM310.86 324.29h0.75v0.75h-0.75zM308.82 327.92h0.75v0.75h-0.75zM289.06 327.35h0.75v0.75h-0.75zM310.94 328.07h0.75v0.75h-0.75zM307.52 330.15h0.75v0.75h-0.75zM306.76 334.06h0.75v0.75h-0.75zM304.06 321.36h0.75v0.75h-0.75zM303.11 335.24h0.75v0.75h-0.75zM291.27 331.67h0.75v0.75h-0.75zM306.61 335.62h0.75v0.75h-0.75zM298.41 324.2h0.75v0.75h-0.75zM308.36 323.03h0.75v0.75h-0.75zM312.42 333.5h0.75v0.75h-0.75zM307.02 334.44h0.75v0.75h-0.75zM317.02 334.2h0.75v0.75h-0.75zM302.94 335.15h0.75v0.75h-0.75zM301.82 323.67h0.75v0.75h-0.75zM302.75 329.09h0.75v0.75h-0.75zM302.08 338.04h0.75v0.75h-0.75zM292.76 323.34h0.75v0.75h-0.75zM297.13 332.37h0.75v0.75h-0.75zM317.54 333.32h0.75v0.75h-0.75zM315.38 326.57h0.75v0.75h-0.75zM309.84 330.96h0.75v0.75h-0.75zM286.74 327.98h0.75v0.75h-0.75zM307.99 333.31h0.75v0.75h-0.75zM307.21 325.24h0.75v0.75h-0.75zM311.63 329.54h0.75v0.75h-0.75zM302.16 322.28h0.75v0.75h-0.75zM293.97 332.85h0.75v0.75h-0.75zM305.48 331.92h0.75v0.75h-0.75zM294.97 332.04h0.75v0.75h-0.75zM311.34 322.11h0.75v0.75h-0.75zM311.27 323.54h0.75v0.75h-0.75zM312.24 327.62h0.75v0.75h-0.75zM308.35 323.72h0.75v0.75h-0.75zM311.12 332.56h0.75v0.75h-0.75zM313.6 336.16h0.75v0.75h-0.75zM310.76 329.65h0.75v0.75h-0.75zM305.23 329.65h0.75v0.75h-0.75zM299.71 329.84h0.75v0.75h-0.75zM301.43 326.74h0.75v0.75h-0.75zM308.89 332.84h0.75v0.75h-0.75zM310.15 327.49h0.75v0.75h-0.75zM310.42 328.22h0.75v0.75h-0.75zM308.24 329.36h0.75v0.75h-0.75zM294.38 336.07h0.75v0.75h-0.75zM308.05 337.54h0.75v0.75h-0.75zM315.52 330.26h0.75v0.75h-0.75zM305.46 328.74h0.75v0.75h-0.75zM316.83 323.9h0.75v0.75h-0.75zM301.83 326.13h0.75v0.75h-0.75zM303.92 325.96h0.75v0.75h-0.75zM304.96 330.67h0.75v0.75h-0.75zM298.66 333.62h0.75v0.75h-0.75zM303.96 329.46h0.75v0.75h-0.75zM300.01 334.07h0.75v0.75h-0.75zM317.87 329.79h0.75v0.75h-0.75zM307.21 323.04h0.75v0.75h-0.75zM319.4 329.58h0.75v0.75h-0.75zM309.65 329.78h0.75v0.75h-0.75zM291.8 326.12h0.75v0.75h-0.75zM300 328.3h0.75v0.75h-0.75zM321.35 332.65h0.75v0.75h-0.75zM305.13 325.9h0.75v0.75h-0.75zM311.36 327.1h0.75v0.75h-0.75zM295.29 330.82h0.75v0.75h-0.75zM308.96 330.06h0.75v0.75h-0.75zM299.68 330.27h0.75v0.75h-0.75zM308.4 321.58h0.75v0.75h-0.75zM316.35 331.31h0.75v0.75h-0.75zM309.92 327.66h0.75v0.75h-0.75zM296.55 330.89h0.75v0.75h-0.75zM315.73 329.26h0.75v0.75h-0.75zM295.55 331.63h0.75v0.75h-0.75zM310.22 330.64h0.75v0.75h-0.75zM305.34 333.64h0.75v0.75h-0.75zM305.1 336.81h0.75v0.75h-0.75zM302.85 322.01h0.75v0.75h-0.75zM307.15 332.07h0.75v0.75h-0.75zM320.26 324.34h0.75v0.75h-0.75zM304.59 331.9h0.75v0.75h-0.75zM297.4 328.54h0.75v0.75h-0.75zM297.42 338.78h0.75v0.75h-0.75zM298.07 325.72h0.75v0.75h-0.75zM304.87 325.92h0.75v0.75h-0.75zM307.95 331.06h0.75v0.75h-0.75zM313.09 331.75h0.75v0.75h-0.75zM306.66 329.87h0.75v0.75h-0.75zM297.41 328.34h0.75v0.75h-0.75zM297.06 330.12h0.75v0.75h-0.75zM312.38 333.07h0.75v0.75h-0.75zM316.68 330.2h0.75v0.75h-0.75zM303.9 334.75h0.75v0.75h-0.75zM295.8 332.52h0.75v0.75h-0.75zM301.92 328.72h0.75v0.75h-0.75zM310.98 334.5h0.75v0.75h-0.75zM297.1 327.8h0.75v0.75h-0.75zM310.02 322.76h0.75v0.75h-0.75zM301.09 330.45h0.75v0.75h-0.75zM300.03 338.83h0.75v0.75h-0.75zM319.31 333.31h0.75v0.75h-0.75zM298.42 329.98h0.75v0.75h-0.75zM298.87 329.73h0.75v0.75h-0.75zM300.9 327.54h0.75v0.75h-0.75zM305.99 332.6h0.75v0.75h-0.75zM299.98 336.07h0.75v0.75h-0.75zM302.81 330.3h0.75v0.75h-0.75zM301.09 323.44h0.75v0.75h-0.75zM311.42 333.41h0.75v0.75h-0.75zM305.5 329.37h0.75v0.75h-0.75zM308.32 327.31h0.75v0.75h-0.75zM295.32 336.71h0.75v0.75h-0.75zM310.16 332.71h0.75v0.75h-0.75zM310.34 329.25h0.75v0.75h-0.75zM295.08 329.05h0.75v0.75h-0.75zM308.03 327.16h0.75v0.75h-0.75zM312.96 332.57h0.75v0.75h-0.75zM310.23 331.98h0.75v0.75h-0.75zM301.97 329.66h0.75v0.75h-0.75zM308.68 321.43h0.75v0.75h-0.75zM310.87 336.13h0.75v0.75h-0.75zM308.16 326.68h0.75v0.75h-0.75zM305.21 335.53h0.75v0.75h-0.75zM310.65 330.28h0.75v0.75h-0.75zM320.87 334.1h0.75v0.75h-0.75zM303.12 336.09h0.75v0.75h-0.75zM303.96 331.82h0.75v0.75h-0.75zM300.23 326.66h0.75v0.75h-0.75zM312.54 330.42h0.75v0.75h-0.75zM306.64 325.54h0.75v0.75h-0.75zM302.56 328.74h0.75v0.75h-0.75zM310.48 324.17h0.75v0.75h-0.75zM303.55 333.34h0.75v0.75h-0.75zM308.77 327.51h0.75v0.75h-0.75zM309.8 329.94h0.75v0.75h-0.75zM303.94 335.51h0.75v0.75h-0.75zM294.8 326.54h0.75v0.75h-0.75zM314.1 334.13h0.75v0.75h-0.75zM309.13 327.26h0.75v0.75h-0.75zM307.58 332.32h0.75v0.75h-0.75z"/>
<ellipse cx="283" cy="331.5" rx="10" ry="5.5" fill="#b0b0b0" opacity="0.5"/>
<rect x="124.8" y="152" width="92" height="92.3" fill="none" stroke="#999" stroke-width="0.8"/>
<line x1="124.8" y1="216.5" x2="216.8" y2="216.5" stroke="#000" stroke-width="1.3"/>
<line x1="153.3" y1="152" x2="153.3" y2="244.3" stroke="#000" stroke-width="1.3"/>
<line x1="123.2" y1="160.5" x2="124.8" y2="160.5" stroke="#555" stroke-width="0.6"/>
<text x="122.2" y="162.9" font-size="6.8" text-anchor="end" fill="#000" stroke="#000" stroke-width="0.22">10<tspan dy="-2.9" font-size="4.9">5</tspan></text>
<line x1="123.2" y1="180.5" x2="124.8" y2="180.5" stroke="#555" stroke-width="0.6"/>
<text x="122.2" y="182.9" font-size="6.8" text-anchor="end" fill="#000" stroke="#000" stroke-width="0.22">10<tspan dy="-2.9" font-size="4.9">4</tspan></text>
<line x1="123.2" y1="200.5" x2="124.8" y2="200.5" stroke="#555" stroke-width="0.6"/>
<text x="122.2" y="202.9" font-size="6.8" text-anchor="end" fill="#000" stroke="#000" stroke-width="0.22">10<tspan dy="-2.9" font-size="4.9">3</tspan></text>
<line x1="123.2" y1="220.5" x2="124.8" y2="220.5" stroke="#555" stroke-width="0.6"/>
<text x="122.2" y="222.9" font-size="6.8" text-anchor="end" fill="#000" stroke="#000" stroke-width="0.22">10<tspan dy="-2.9" font-size="4.9">2</tspan></text>
<line x1="123.2" y1="237.5" x2="124.8" y2="237.5" stroke="#555" stroke-width="0.6"/>
<text x="122.2" y="239.9" font-size="6.8" text-anchor="end" fill="#000" stroke="#000" stroke-width="0.22">0</text>
<rect x="124.8" y="258.8" width="92" height="91.4" fill="none" stroke="#999" stroke-width="0.8"/>
<line x1="124.8" y1="322.8" x2="216.8" y2="322.8" stroke="#000" stroke-width="1.3"/>
<line x1="153.3" y1="258.8" x2="153.3" y2="350.2" stroke="#000" stroke-width="1.3"/>
<line x1="123.2" y1="267.3" x2="124.8" y2="267.3" stroke="#555" stroke-width="0.6"/>
<text x="122.2" y="269.7" font-size="6.8" text-anchor="end" fill="#000" stroke="#000" stroke-width="0.22">10<tspan dy="-2.9" font-size="4.9">5</tspan></text>
<line x1="123.2" y1="287.3" x2="124.8" y2="287.3" stroke="#555" stroke-width="0.6"/>
<text x="122.2" y="289.7" font-size="6.8" text-anchor="end" fill="#000" stroke="#000" stroke-width="0.22">10<tspan dy="-2.9" font-size="4.9">4</tspan></text>
<line x1="123.2" y1="307.3" x2="124.8" y2="307.3" stroke="#555" stroke-width="0.6"/>
<text x="122.2" y="309.7" font-size="6.8" text-anchor="end" fill="#000" stroke="#000" stroke-width="0.22">10<tspan dy="-2.9" font-size="4.9">3</tspan></text>
<line x1="123.2" y1="327.3" x2="124.8" y2="327.3" stroke="#555" stroke-width="0.6"/>
<text x="122.2" y="329.7" font-size="6.8" text-anchor="end" fill="#000" stroke="#000" stroke-width="0.22">10<tspan dy="-2.9" font-size="4.9">2</tspan></text>
<line x1="123.2" y1="344.3" x2="124.8" y2="344.3" stroke="#555" stroke-width="0.6"/>
<text x="122.2" y="346.7" font-size="6.8" text-anchor="end" fill="#000" stroke="#000" stroke-width="0.22">0</text>
<rect x="264.8" y="152.1" width="92.2" height="91.8" fill="none" stroke="#999" stroke-width="0.8"/>
<line x1="264.8" y1="216.5" x2="357" y2="216.5" stroke="#000" stroke-width="1.3"/>
<line x1="299.8" y1="152.1" x2="299.8" y2="243.9" stroke="#000" stroke-width="1.3"/>
<line x1="263.2" y1="160.6" x2="264.8" y2="160.6" stroke="#555" stroke-width="0.6"/>
<text x="262.2" y="163" font-size="6.8" text-anchor="end" fill="#000" stroke="#000" stroke-width="0.22">10<tspan dy="-2.9" font-size="4.9">5</tspan></text>
<line x1="263.2" y1="180.6" x2="264.8" y2="180.6" stroke="#555" stroke-width="0.6"/>
<text x="262.2" y="183" font-size="6.8" text-anchor="end" fill="#000" stroke="#000" stroke-width="0.22">10<tspan dy="-2.9" font-size="4.9">4</tspan></text>
<line x1="263.2" y1="200.6" x2="264.8" y2="200.6" stroke="#555" stroke-width="0.6"/>
<text x="262.2" y="203" font-size="6.8" text-anchor="end" fill="#000" stroke="#000" stroke-width="0.22">10<tspan dy="-2.9" font-size="4.9">3</tspan></text>
<line x1="263.2" y1="220.6" x2="264.8" y2="220.6" stroke="#555" stroke-width="0.6"/>
<text x="262.2" y="223" font-size="6.8" text-anchor="end" fill="#000" stroke="#000" stroke-width="0.22">10<tspan dy="-2.9" font-size="4.9">2</tspan></text>
<line x1="263.2" y1="237.6" x2="264.8" y2="237.6" stroke="#555" stroke-width="0.6"/>
<text x="262.2" y="240" font-size="6.8" text-anchor="end" fill="#000" stroke="#000" stroke-width="0.22">0</text>
<rect x="264.8" y="258.6" width="92.2" height="91.4" fill="none" stroke="#999" stroke-width="0.8"/>
<line x1="264.8" y1="322.9" x2="357" y2="322.9" stroke="#000" stroke-width="1.3"/>
<line x1="299.8" y1="258.6" x2="299.8" y2="350" stroke="#000" stroke-width="1.3"/>
<line x1="263.2" y1="267.1" x2="264.8" y2="267.1" stroke="#555" stroke-width="0.6"/>
<text x="262.2" y="269.5" font-size="6.8" text-anchor="end" fill="#000" stroke="#000" stroke-width="0.22">10<tspan dy="-2.9" font-size="4.9">5</tspan></text>
<line x1="263.2" y1="287.1" x2="264.8" y2="287.1" stroke="#555" stroke-width="0.6"/>
<text x="262.2" y="289.5" font-size="6.8" text-anchor="end" fill="#000" stroke="#000" stroke-width="0.22">10<tspan dy="-2.9" font-size="4.9">4</tspan></text>
<line x1="263.2" y1="307.1" x2="264.8" y2="307.1" stroke="#555" stroke-width="0.6"/>
<text x="262.2" y="309.5" font-size="6.8" text-anchor="end" fill="#000" stroke="#000" stroke-width="0.22">10<tspan dy="-2.9" font-size="4.9">3</tspan></text>
<line x1="263.2" y1="327.1" x2="264.8" y2="327.1" stroke="#555" stroke-width="0.6"/>
<text x="262.2" y="329.5" font-size="6.8" text-anchor="end" fill="#000" stroke="#000" stroke-width="0.22">10<tspan dy="-2.9" font-size="4.9">2</tspan></text>
<line x1="263.2" y1="344.1" x2="264.8" y2="344.1" stroke="#555" stroke-width="0.6"/>
<text x="262.2" y="346.5" font-size="6.8" text-anchor="end" fill="#000" stroke="#000" stroke-width="0.22">0</text>
<path d="M124.8 212.38h-1.6M124.8 209.39h-1.6M124.8 207.26h-1.6M124.8 205.62h-1.6M124.8 204.27h-1.6M124.8 203.13h-1.6M124.8 202.15h-1.6M124.8 201.28h-1.6M124.8 194.48h-1.6M124.8 190.96h-1.6M124.8 188.46h-1.6M124.8 186.52h-1.6M124.8 184.94h-1.6M124.8 183.6h-1.6M124.8 182.44h-1.6M124.8 181.42h-1.6M124.8 174.48h-1.6M124.8 170.96h-1.6M124.8 168.46h-1.6M124.8 166.52h-1.6M124.8 164.94h-1.6M124.8 163.6h-1.6M124.8 162.44h-1.6M124.8 161.42h-1.6" stroke="#777" stroke-width="0.5" fill="none"/>
<path d="M153.77 244.3v1.6M157.74 244.3v1.6M160.55 244.3v1.6M162.73 244.3v1.6M164.51 244.3v1.6M166.01 244.3v1.6M167.32 244.3v1.6M168.47 244.3v1.6M175.52 244.3v1.6M179.04 244.3v1.6M181.54 244.3v1.6M183.48 244.3v1.6M185.06 244.3v1.6M186.4 244.3v1.6M187.56 244.3v1.6M188.58 244.3v1.6M195.37 244.3v1.6M198.8 244.3v1.6M201.24 244.3v1.6M203.13 244.3v1.6M204.67 244.3v1.6M205.98 244.3v1.6M207.11 244.3v1.6M208.11 244.3v1.6M147 244.3v2.4M169.5 244.3v2.4M189.5 244.3v2.4M209 244.3v2.4" stroke="#777" stroke-width="0.5" fill="none"/>
<path d="M124.8 319.18h-1.6M124.8 316.19h-1.6M124.8 314.06h-1.6M124.8 312.42h-1.6M124.8 311.07h-1.6M124.8 309.93h-1.6M124.8 308.95h-1.6M124.8 308.08h-1.6M124.8 301.28h-1.6M124.8 297.76h-1.6M124.8 295.26h-1.6M124.8 293.32h-1.6M124.8 291.74h-1.6M124.8 290.4h-1.6M124.8 289.24h-1.6M124.8 288.22h-1.6M124.8 281.28h-1.6M124.8 277.76h-1.6M124.8 275.26h-1.6M124.8 273.32h-1.6M124.8 271.74h-1.6M124.8 270.4h-1.6M124.8 269.24h-1.6M124.8 268.22h-1.6" stroke="#777" stroke-width="0.5" fill="none"/>
<path d="M153.77 350.2v1.6M157.74 350.2v1.6M160.55 350.2v1.6M162.73 350.2v1.6M164.51 350.2v1.6M166.01 350.2v1.6M167.32 350.2v1.6M168.47 350.2v1.6M175.52 350.2v1.6M179.04 350.2v1.6M181.54 350.2v1.6M183.48 350.2v1.6M185.06 350.2v1.6M186.4 350.2v1.6M187.56 350.2v1.6M188.58 350.2v1.6M195.37 350.2v1.6M198.8 350.2v1.6M201.24 350.2v1.6M203.13 350.2v1.6M204.67 350.2v1.6M205.98 350.2v1.6M207.11 350.2v1.6M208.11 350.2v1.6M147 350.2v2.4M169.5 350.2v2.4M189.5 350.2v2.4M209 350.2v2.4" stroke="#777" stroke-width="0.5" fill="none"/>
<path d="M264.8 212.48h-1.6M264.8 209.49h-1.6M264.8 207.36h-1.6M264.8 205.72h-1.6M264.8 204.37h-1.6M264.8 203.23h-1.6M264.8 202.25h-1.6M264.8 201.38h-1.6M264.8 194.58h-1.6M264.8 191.06h-1.6M264.8 188.56h-1.6M264.8 186.62h-1.6M264.8 185.04h-1.6M264.8 183.7h-1.6M264.8 182.54h-1.6M264.8 181.52h-1.6M264.8 174.58h-1.6M264.8 171.06h-1.6M264.8 168.56h-1.6M264.8 166.62h-1.6M264.8 165.04h-1.6M264.8 163.7h-1.6M264.8 162.54h-1.6M264.8 161.52h-1.6" stroke="#777" stroke-width="0.5" fill="none"/>
<path d="M296.37 243.9v1.6M299.8 243.9v1.6M302.24 243.9v1.6M304.13 243.9v1.6M305.67 243.9v1.6M306.98 243.9v1.6M308.11 243.9v1.6M309.11 243.9v1.6M315.72 243.9v1.6M319.07 243.9v1.6M321.44 243.9v1.6M323.28 243.9v1.6M324.78 243.9v1.6M326.06 243.9v1.6M327.16 243.9v1.6M328.13 243.9v1.6M335.02 243.9v1.6M338.54 243.9v1.6M341.04 243.9v1.6M342.98 243.9v1.6M344.56 243.9v1.6M345.9 243.9v1.6M347.06 243.9v1.6M348.08 243.9v1.6M290.5 243.9v2.4M310 243.9v2.4M329 243.9v2.4M349 243.9v2.4" stroke="#777" stroke-width="0.5" fill="none"/>
<path d="M264.8 318.98h-1.6M264.8 315.99h-1.6M264.8 313.86h-1.6M264.8 312.22h-1.6M264.8 310.87h-1.6M264.8 309.73h-1.6M264.8 308.75h-1.6M264.8 307.88h-1.6M264.8 301.08h-1.6M264.8 297.56h-1.6M264.8 295.06h-1.6M264.8 293.12h-1.6M264.8 291.54h-1.6M264.8 290.2h-1.6M264.8 289.04h-1.6M264.8 288.02h-1.6M264.8 281.08h-1.6M264.8 277.56h-1.6M264.8 275.06h-1.6M264.8 273.12h-1.6M264.8 271.54h-1.6M264.8 270.2h-1.6M264.8 269.04h-1.6M264.8 268.02h-1.6" stroke="#777" stroke-width="0.5" fill="none"/>
<path d="M296.37 350v1.6M299.8 350v1.6M302.24 350v1.6M304.13 350v1.6M305.67 350v1.6M306.98 350v1.6M308.11 350v1.6M309.11 350v1.6M315.72 350v1.6M319.07 350v1.6M321.44 350v1.6M323.28 350v1.6M324.78 350v1.6M326.06 350v1.6M327.16 350v1.6M328.13 350v1.6M335.02 350v1.6M338.54 350v1.6M341.04 350v1.6M342.98 350v1.6M344.56 350v1.6M345.9 350v1.6M347.06 350v1.6M348.08 350v1.6M290.5 350v2.4M310 350v2.4M329 350v2.4M349 350v2.4" stroke="#777" stroke-width="0.5" fill="none"/>
<text x="137" y="254.5" font-size="6.8" text-anchor="middle" fill="#000" stroke="#000" stroke-width="0.22">0</text>
<text x="147" y="254.5" font-size="6.8" text-anchor="middle" fill="#000" stroke="#000" stroke-width="0.22">10<tspan dy="-2.9" font-size="4.9">2</tspan></text>
<text x="169.5" y="254.5" font-size="6.8" text-anchor="middle" fill="#000" stroke="#000" stroke-width="0.22">10<tspan dy="-2.9" font-size="4.9">3</tspan></text>
<text x="189.5" y="254.5" font-size="6.8" text-anchor="middle" fill="#000" stroke="#000" stroke-width="0.22">10<tspan dy="-2.9" font-size="4.9">4</tspan></text>
<text x="209" y="254.5" font-size="6.8" text-anchor="middle" fill="#000" stroke="#000" stroke-width="0.22">10<tspan dy="-2.9" font-size="4.9">5</tspan></text>
<text x="281.5" y="254.5" font-size="6.8" text-anchor="middle" fill="#000" stroke="#000" stroke-width="0.22">0</text>
<text x="290.5" y="254.5" font-size="6.8" text-anchor="middle" fill="#000" stroke="#000" stroke-width="0.22">10<tspan dy="-2.9" font-size="4.9">2</tspan></text>
<text x="310" y="254.5" font-size="6.8" text-anchor="middle" fill="#000" stroke="#000" stroke-width="0.22">10<tspan dy="-2.9" font-size="4.9">3</tspan></text>
<text x="329" y="254.5" font-size="6.8" text-anchor="middle" fill="#000" stroke="#000" stroke-width="0.22">10<tspan dy="-2.9" font-size="4.9">4</tspan></text>
<text x="349" y="254.5" font-size="6.8" text-anchor="middle" fill="#000" stroke="#000" stroke-width="0.22">10<tspan dy="-2.9" font-size="4.9">5</tspan></text>
<text x="137" y="360.8" font-size="6.8" text-anchor="middle" fill="#000" stroke="#000" stroke-width="0.22">0</text>
<text x="147" y="360.8" font-size="6.8" text-anchor="middle" fill="#000" stroke="#000" stroke-width="0.22">10<tspan dy="-2.9" font-size="4.9">2</tspan></text>
<text x="169.5" y="360.8" font-size="6.8" text-anchor="middle" fill="#000" stroke="#000" stroke-width="0.22">10<tspan dy="-2.9" font-size="4.9">3</tspan></text>
<text x="189.5" y="360.8" font-size="6.8" text-anchor="middle" fill="#000" stroke="#000" stroke-width="0.22">10<tspan dy="-2.9" font-size="4.9">4</tspan></text>
<text x="209" y="360.8" font-size="6.8" text-anchor="middle" fill="#000" stroke="#000" stroke-width="0.22">10<tspan dy="-2.9" font-size="4.9">5</tspan></text>
<text x="281.5" y="360.8" font-size="6.8" text-anchor="middle" fill="#000" stroke="#000" stroke-width="0.22">0</text>
<text x="290.5" y="360.8" font-size="6.8" text-anchor="middle" fill="#000" stroke="#000" stroke-width="0.22">10<tspan dy="-2.9" font-size="4.9">2</tspan></text>
<text x="310" y="360.8" font-size="6.8" text-anchor="middle" fill="#000" stroke="#000" stroke-width="0.22">10<tspan dy="-2.9" font-size="4.9">3</tspan></text>
<text x="329" y="360.8" font-size="6.8" text-anchor="middle" fill="#000" stroke="#000" stroke-width="0.22">10<tspan dy="-2.9" font-size="4.9">4</tspan></text>
<text x="349" y="360.8" font-size="6.8" text-anchor="middle" fill="#000" stroke="#000" stroke-width="0.22">10<tspan dy="-2.9" font-size="4.9">5</tspan></text>
<text x="127" y="163.8" font-size="9">0.1%</text>
<text x="213" y="163.8" font-size="9" text-anchor="end">0.1%</text>
<text x="212.8" y="241.3" font-size="9" text-anchor="end">0%</text>
<text x="127" y="269.5" font-size="9">1%</text>
<text x="212.8" y="269.5" font-size="9" text-anchor="end">6%</text>
<text x="213.5" y="348" font-size="9" text-anchor="end">33%</text>
<text x="267.8" y="163.8" font-size="9">0.2%</text>
<text x="353.8" y="163.8" font-size="9" text-anchor="end">0%</text>
<text x="353.8" y="241.8" font-size="9" text-anchor="end">0.2%</text>
<text x="265.5" y="268.8" font-size="9">5%</text>
<text x="353.8" y="268.8" font-size="9" text-anchor="end">2%</text>
<text x="353.8" y="347.5" font-size="9" text-anchor="end">8%</text>
<line x1="105.3" y1="369.8" x2="105.3" y2="165" stroke="#000" stroke-width="1.5"/>
<polygon points="105.3,156.5 102.2,166 108.4,166" fill="#000"/>
<line x1="105.3" y1="369.8" x2="207" y2="369.8" stroke="#000" stroke-width="1.3"/>
<line x1="105.3" y1="369.8" x2="207" y2="369.8" stroke="#000" stroke-width="1.5"/>
<polygon points="215.5,369.8 206,366.7 206,372.9" fill="#000"/>
<line x1="245.2" y1="370.2" x2="245.2" y2="166" stroke="#000" stroke-width="1.5"/>
<polygon points="245.2,157.5 242.1,167 248.3,167" fill="#000"/>
<line x1="245.2" y1="370.2" x2="345" y2="370.2" stroke="#000" stroke-width="1.3"/>
<line x1="245.2" y1="370.2" x2="346" y2="370.2" stroke="#000" stroke-width="1.5"/>
<polygon points="354.5,370.2 345,367.1 345,373.3" fill="#000"/>
<text transform="translate(98.4,272.6) rotate(-90)" font-size="11.8" text-anchor="middle">CD107a</text>
<text transform="translate(238.4,272.6) rotate(-90)" font-size="11.8" text-anchor="middle">CD107a</text>
<text x="158.3" y="382.6" font-size="11.8" text-anchor="middle">TNF-&#945;</text>
<text x="297.7" y="383.8" font-size="11.8" text-anchor="middle">IFN-&#947;</text>
<text x="0" y="161.2" font-size="16" font-weight="bold">C</text>
<text x="9.3" y="208.3" font-size="11.8">P815 + IgG1</text>
<text x="9.3" y="315.2" font-size="11.8">P815 + &#945;&#8211;CD3</text>
<line x1="444" y1="199.3" x2="444" y2="312.5" stroke="#000" stroke-width="1.1"/>
<line x1="444" y1="312.5" x2="520" y2="312.5" stroke="#000" stroke-width="1.1"/>
<line x1="440.4" y1="312.5" x2="444" y2="312.5" stroke="#000" stroke-width="1.1"/>
<text x="439.4" y="317.1" font-size="13" text-anchor="end">0</text>
<line x1="440.4" y1="284.2" x2="444" y2="284.2" stroke="#000" stroke-width="1.1"/>
<text x="439.4" y="288.8" font-size="13" text-anchor="end">20</text>
<line x1="440.4" y1="255.9" x2="444" y2="255.9" stroke="#000" stroke-width="1.1"/>
<text x="439.4" y="260.5" font-size="13" text-anchor="end">40</text>
<line x1="440.4" y1="227.6" x2="444" y2="227.6" stroke="#000" stroke-width="1.1"/>
<text x="439.4" y="232.2" font-size="13" text-anchor="end">60</text>
<line x1="440.4" y1="199.3" x2="444" y2="199.3" stroke="#000" stroke-width="1.1"/>
<text x="439.4" y="203.9" font-size="13" text-anchor="end">80</text>
<circle cx="462.5" cy="205" r="3.1" fill="#000"/>
<circle cx="462.5" cy="225.5" r="3.1" fill="#000"/>
<circle cx="462.5" cy="238" r="3.1" fill="#000"/>
<circle cx="462.5" cy="247" r="3.1" fill="#000"/>
<circle cx="462.5" cy="249.5" r="3.1" fill="#000"/>
<circle cx="452.5" cy="250" r="3.1" fill="#000"/>
<circle cx="452.5" cy="257.5" r="3.1" fill="#000"/>
<circle cx="462.5" cy="263.75" r="3.1" fill="#000"/>
<circle cx="462.5" cy="266.25" r="3.1" fill="#000"/>
<circle cx="457.5" cy="276.25" r="3.1" fill="#000"/>
<circle cx="468" cy="280" r="3.1" fill="#000"/>
<circle cx="468" cy="287" r="3.1" fill="#000"/>
<circle cx="457" cy="297.5" r="3.1" fill="#000"/>
<circle cx="500.75" cy="215.75" r="3.1" fill="#000"/>
<circle cx="495.75" cy="251.25" r="3.1" fill="#000"/>
<circle cx="505.75" cy="255" r="3.1" fill="#000"/>
<circle cx="500.75" cy="276.25" r="3.1" fill="#000"/>
<circle cx="491.25" cy="283.75" r="3.1" fill="#000"/>
<circle cx="495" cy="282.5" r="3.1" fill="#000"/>
<circle cx="500" cy="286.25" r="3.1" fill="#000"/>
<circle cx="490" cy="288.75" r="3.1" fill="#000"/>
<circle cx="500" cy="290" r="3.1" fill="#000"/>
<circle cx="490" cy="295" r="3.1" fill="#000"/>
<circle cx="506.25" cy="297" r="3.1" fill="#000"/>
<circle cx="496.25" cy="300" r="3.1" fill="#000"/>
<circle cx="501.25" cy="288.75" r="3.1" fill="#000"/>
<line x1="450" y1="257.2" x2="475" y2="257.2" stroke="#7a7a7a" stroke-width="2.8"/>
<line x1="488.75" y1="277.5" x2="513.75" y2="277.5" stroke="#7a7a7a" stroke-width="2.8"/>
<path d="M462 199.8V195.2H500.4V199.8" fill="none" stroke="#333" stroke-width="1.1"/>
<text x="481.2" y="198.3" font-size="11.5" text-anchor="middle" fill="#222">*</text>
<text x="417.2" y="330" font-size="11.9">KIR:</text>
<text x="454.5" y="330" font-size="11.9">neg</text>
<text x="487.2" y="330" font-size="11.9">pos</text>
<text transform="translate(401.2,251.6) rotate(-90)" font-size="11.8" text-anchor="middle">Total responding</text>
<text transform="translate(415.4,248.8) rotate(-90)" font-size="11.8" text-anchor="middle">cells (%)</text>
<text x="384" y="161" font-size="16" font-weight="bold">D</text>
<line x1="57.9" y1="418.1" x2="57.9" y2="531.7" stroke="#000" stroke-width="1.1"/>
<line x1="57.9" y1="531.7" x2="171.7" y2="531.7" stroke="#000" stroke-width="1.1"/>
<line x1="54.3" y1="531.7" x2="57.9" y2="531.7" stroke="#000" stroke-width="1.1"/>
<text x="53.3" y="536.3" font-size="13" text-anchor="end">0</text>
<line x1="54.3" y1="503.3" x2="57.9" y2="503.3" stroke="#000" stroke-width="1.1"/>
<text x="53.3" y="507.9" font-size="13" text-anchor="end">20</text>
<line x1="54.3" y1="474.9" x2="57.9" y2="474.9" stroke="#000" stroke-width="1.1"/>
<text x="53.3" y="479.5" font-size="13" text-anchor="end">40</text>
<line x1="54.3" y1="446.5" x2="57.9" y2="446.5" stroke="#000" stroke-width="1.1"/>
<text x="53.3" y="451.1" font-size="13" text-anchor="end">60</text>
<line x1="54.3" y1="418.1" x2="57.9" y2="418.1" stroke="#000" stroke-width="1.1"/>
<text x="53.3" y="422.7" font-size="13" text-anchor="end">80</text>
<circle cx="77.2" cy="425.2" r="3" fill="#000"/>
<circle cx="69.4" cy="469.2" r="3" fill="#000"/>
<circle cx="77.2" cy="470.7" r="3" fill="#000"/>
<circle cx="85" cy="467.5" r="3" fill="#000"/>
<circle cx="81" cy="474.7" r="3" fill="#000"/>
<circle cx="73.4" cy="479.4" r="3" fill="#000"/>
<circle cx="69.4" cy="489.5" r="3" fill="#000"/>
<circle cx="77.2" cy="490" r="3" fill="#000"/>
<circle cx="77.2" cy="500.5" r="3" fill="#000"/>
<circle cx="73.4" cy="503.7" r="3" fill="#000"/>
<circle cx="81" cy="509.4" r="3" fill="#000"/>
<circle cx="77.2" cy="520.2" r="3" fill="#000"/>
<circle cx="85" cy="483" r="3" fill="#000"/>
<circle cx="115.3" cy="453" r="3" fill="#000"/>
<circle cx="111.1" cy="473.5" r="3" fill="#000"/>
<circle cx="115.3" cy="472.8" r="3" fill="#000"/>
<circle cx="119.1" cy="473.5" r="3" fill="#000"/>
<circle cx="119.1" cy="476.6" r="3" fill="#000"/>
<circle cx="111.1" cy="480.9" r="3" fill="#000"/>
<circle cx="123.1" cy="485.1" r="3" fill="#000"/>
<circle cx="107.5" cy="489.3" r="3" fill="#000"/>
<circle cx="115.3" cy="490.4" r="3" fill="#000"/>
<circle cx="107.5" cy="508.4" r="3" fill="#000"/>
<circle cx="111.1" cy="505.2" r="3" fill="#000"/>
<circle cx="115.3" cy="504.1" r="3" fill="#000"/>
<circle cx="119.1" cy="505.2" r="3" fill="#000"/>
<circle cx="123.1" cy="509" r="3" fill="#000"/>
<circle cx="111.1" cy="513.7" r="3" fill="#000"/>
<circle cx="115.3" cy="509.4" r="3" fill="#000"/>
<circle cx="119.1" cy="513.7" r="3" fill="#000"/>
<circle cx="107.5" cy="521.1" r="3" fill="#000"/>
<circle cx="111.1" cy="517.9" r="3" fill="#000"/>
<circle cx="119.1" cy="517.9" r="3" fill="#000"/>
<circle cx="123.1" cy="521.7" r="3" fill="#000"/>
<circle cx="115.3" cy="525.3" r="3" fill="#000"/>
<circle cx="111.1" cy="503" r="3" fill="#000"/>
<circle cx="119.1" cy="499" r="3" fill="#000"/>
<circle cx="152.7" cy="503.7" r="3" fill="#000"/>
<circle cx="149.6" cy="516.4" r="3" fill="#000"/>
<circle cx="144.9" cy="525.3" r="3" fill="#000"/>
<circle cx="156.5" cy="522.1" r="3" fill="#000"/>
<circle cx="152.7" cy="529.5" r="3" fill="#000"/>
<circle cx="160.8" cy="524.2" r="3" fill="#000"/>
<line x1="64.5" y1="483.6" x2="89.9" y2="483.6" stroke="#7a7a7a" stroke-width="3"/>
<line x1="103.2" y1="499.9" x2="128" y2="499.9" stroke="#7a7a7a" stroke-width="3"/>
<line x1="141" y1="520.8" x2="165" y2="520.8" stroke="#7a7a7a" stroke-width="3"/>
<path d="M80.5 415.8V411.5H153.8V415.8" fill="none" stroke="#333" stroke-width="1.1"/>
<text x="115.5" y="414.6" font-size="11.5" text-anchor="middle" fill="#222">***</text>
<path d="M115.4 444V439.8H153.8V444" fill="none" stroke="#333" stroke-width="1.1"/>
<text x="134.6" y="442.9" font-size="11.5" text-anchor="middle" fill="#222">*</text>
<text x="77" y="546" font-size="11.5" text-anchor="middle">0</text>
<text x="115.4" y="546" font-size="11.5" text-anchor="middle">1</text>
<text x="153" y="546" font-size="11.5" text-anchor="middle">2</text>
<text x="104.7" y="560.9" font-size="11.9" text-anchor="middle"># of KIRs</text>
<text transform="translate(33.1,471.7) rotate(-90)" font-size="11.9" text-anchor="middle">TNF-&#945;+ cells (%)</text>
<text x="0" y="397.3" font-size="16" font-weight="bold">E</text>
<line x1="229.8" y1="418.1" x2="229.8" y2="531.7" stroke="#000" stroke-width="1.1"/>
<line x1="229.8" y1="531.7" x2="343.8" y2="531.7" stroke="#000" stroke-width="1.1"/>
<line x1="226.2" y1="531.7" x2="229.8" y2="531.7" stroke="#000" stroke-width="1.1"/>
<text x="225.2" y="536.3" font-size="13" text-anchor="end">0</text>
<line x1="226.2" y1="503.3" x2="229.8" y2="503.3" stroke="#000" stroke-width="1.1"/>
<text x="225.2" y="507.9" font-size="13" text-anchor="end">20</text>
<line x1="226.2" y1="474.9" x2="229.8" y2="474.9" stroke="#000" stroke-width="1.1"/>
<text x="225.2" y="479.5" font-size="13" text-anchor="end">40</text>
<line x1="226.2" y1="446.5" x2="229.8" y2="446.5" stroke="#000" stroke-width="1.1"/>
<text x="225.2" y="451.1" font-size="13" text-anchor="end">60</text>
<line x1="226.2" y1="418.1" x2="229.8" y2="418.1" stroke="#000" stroke-width="1.1"/>
<text x="225.2" y="422.7" font-size="13" text-anchor="end">80</text>
<circle cx="248.5" cy="472.2" r="3" fill="#000"/>
<circle cx="248.5" cy="494.8" r="3" fill="#000"/>
<circle cx="248.5" cy="505.4" r="3" fill="#000"/>
<circle cx="241.1" cy="510.3" r="3" fill="#000"/>
<circle cx="256.6" cy="509.7" r="3" fill="#000"/>
<circle cx="248.5" cy="515.6" r="3" fill="#000"/>
<circle cx="241.1" cy="522.6" r="3" fill="#000"/>
<circle cx="244.9" cy="522.6" r="3" fill="#000"/>
<circle cx="248.5" cy="523" r="3" fill="#000"/>
<circle cx="252.3" cy="522.6" r="3" fill="#000"/>
<circle cx="256.1" cy="523" r="3" fill="#000"/>
<circle cx="248.5" cy="512" r="3" fill="#000"/>
<circle cx="286.6" cy="458.9" r="3" fill="#000"/>
<circle cx="286.6" cy="482.2" r="3" fill="#000"/>
<circle cx="278.8" cy="499.7" r="3" fill="#000"/>
<circle cx="294.2" cy="500.8" r="3" fill="#000"/>
<circle cx="286.6" cy="505.4" r="3" fill="#000"/>
<circle cx="290.4" cy="514.5" r="3" fill="#000"/>
<circle cx="277" cy="525" r="3" fill="#000"/>
<circle cx="280.9" cy="527" r="3" fill="#000"/>
<circle cx="284.7" cy="524" r="3" fill="#000"/>
<circle cx="288.5" cy="527.5" r="3" fill="#000"/>
<circle cx="291.5" cy="524.5" r="3" fill="#000"/>
<circle cx="295.3" cy="527" r="3" fill="#000"/>
<circle cx="282" cy="521" r="3" fill="#000"/>
<circle cx="290" cy="520" r="3" fill="#000"/>
<circle cx="286.6" cy="529" r="3" fill="#000"/>
<circle cx="279" cy="529" r="3" fill="#000"/>
<circle cx="294" cy="529.5" r="3" fill="#000"/>
<circle cx="324.3" cy="522.4" r="3" fill="#000"/>
<circle cx="319" cy="529.5" r="3" fill="#000"/>
<circle cx="324" cy="530" r="3" fill="#000"/>
<circle cx="329" cy="529.5" r="3" fill="#000"/>
<circle cx="334" cy="530" r="3" fill="#000"/>
<line x1="236.5" y1="512.4" x2="261.4" y2="512.4" stroke="#7a7a7a" stroke-width="3"/>
<line x1="274.1" y1="516.6" x2="298.9" y2="516.6" stroke="#7a7a7a" stroke-width="3"/>
<line x1="312.2" y1="527.4" x2="337" y2="527.4" stroke="#7a7a7a" stroke-width="3"/>
<path d="M251.5 430V426.5H326V430" fill="none" stroke="#333" stroke-width="1.1"/>
<text x="288.75" y="429.6" font-size="11.5" text-anchor="middle" fill="#222">***</text>
<path d="M286.8 443.8V439.3H326V443.8" fill="none" stroke="#333" stroke-width="1.1"/>
<text x="306.4" y="442.4" font-size="11.5" text-anchor="middle" fill="#222">*</text>
<text x="247.7" y="546" font-size="11.5" text-anchor="middle">0</text>
<text x="286.4" y="546" font-size="11.5" text-anchor="middle">1</text>
<text x="323.9" y="546" font-size="11.5" text-anchor="middle">2</text>
<text x="277.7" y="560.9" font-size="11.9" text-anchor="middle"># of KIRs</text>
<text transform="translate(204.3,470.8) rotate(-90)" font-size="11.9" text-anchor="middle">CD107a+ cells (%)</text>
<line x1="401" y1="418.1" x2="401" y2="531.7" stroke="#000" stroke-width="1.1"/>
<line x1="401" y1="531.7" x2="515.4" y2="531.7" stroke="#000" stroke-width="1.1"/>
<line x1="397.4" y1="531.7" x2="401" y2="531.7" stroke="#000" stroke-width="1.1"/>
<text x="396.4" y="536.3" font-size="13" text-anchor="end">0</text>
<line x1="397.4" y1="503.3" x2="401" y2="503.3" stroke="#000" stroke-width="1.1"/>
<text x="396.4" y="507.9" font-size="13" text-anchor="end">20</text>
<line x1="397.4" y1="474.9" x2="401" y2="474.9" stroke="#000" stroke-width="1.1"/>
<text x="396.4" y="479.5" font-size="13" text-anchor="end">40</text>
<line x1="397.4" y1="446.5" x2="401" y2="446.5" stroke="#000" stroke-width="1.1"/>
<text x="396.4" y="451.1" font-size="13" text-anchor="end">60</text>
<line x1="397.4" y1="418.1" x2="401" y2="418.1" stroke="#000" stroke-width="1.1"/>
<text x="396.4" y="422.7" font-size="13" text-anchor="end">80</text>
<circle cx="420" cy="473.25" r="3" fill="#000"/>
<circle cx="412.5" cy="508.75" r="3" fill="#000"/>
<circle cx="428" cy="509.25" r="3" fill="#000"/>
<circle cx="420.5" cy="512" r="3" fill="#000"/>
<circle cx="416.25" cy="520" r="3" fill="#000"/>
<circle cx="423.75" cy="520" r="3" fill="#000"/>
<circle cx="412" cy="525" r="3" fill="#000"/>
<circle cx="428" cy="526.25" r="3" fill="#000"/>
<circle cx="420" cy="529.5" r="3" fill="#000"/>
<circle cx="454.2" cy="502.8" r="3" fill="#000"/>
<circle cx="462" cy="504.6" r="3" fill="#000"/>
<circle cx="458.2" cy="514.2" r="3" fill="#000"/>
<circle cx="454.6" cy="519.2" r="3" fill="#000"/>
<circle cx="460" cy="519.2" r="3" fill="#000"/>
<circle cx="449.2" cy="528.5" r="3" fill="#000"/>
<circle cx="454.6" cy="528.5" r="3" fill="#000"/>
<circle cx="458.2" cy="527" r="3" fill="#000"/>
<circle cx="461.5" cy="530" r="3" fill="#000"/>
<circle cx="467" cy="527.7" r="3" fill="#000"/>
<circle cx="454.6" cy="530.8" r="3" fill="#000"/>
<circle cx="456" cy="511" r="3" fill="#000"/>
<circle cx="451.5" cy="516" r="3" fill="#000"/>
<circle cx="464.5" cy="518" r="3" fill="#000"/>
<circle cx="462" cy="523" r="3" fill="#000"/>
<circle cx="486.2" cy="528.9" r="3" fill="#000"/>
<circle cx="492.3" cy="531" r="3" fill="#000"/>
<circle cx="497.7" cy="528.9" r="3" fill="#000"/>
<circle cx="500" cy="531" r="3" fill="#000"/>
<circle cx="505.4" cy="527.7" r="3" fill="#000"/>
<line x1="408" y1="516.3" x2="432.5" y2="516.3" stroke="#7a7a7a" stroke-width="3"/>
<line x1="445.8" y1="524.2" x2="470.8" y2="524.2" stroke="#7a7a7a" stroke-width="3"/>
<line x1="484.6" y1="530" x2="507.7" y2="530" stroke="#7a7a7a" stroke-width="3"/>
<path d="M423.25 465.5V460.75H497.5V465.5" fill="none" stroke="#333" stroke-width="1.1"/>
<text x="460.38" y="463.85" font-size="11.5" text-anchor="middle" fill="#222">***</text>
<path d="M458.25 494.25V490H497.5V494.25" fill="none" stroke="#333" stroke-width="1.1"/>
<text x="477.88" y="493.1" font-size="11.5" text-anchor="middle" fill="#222">*</text>
<text x="419" y="546" font-size="11.5" text-anchor="middle">0</text>
<text x="457.7" y="546" font-size="11.5" text-anchor="middle">1</text>
<text x="495.8" y="546" font-size="11.5" text-anchor="middle">2</text>
<text x="449.4" y="560.9" font-size="11.9" text-anchor="middle"># of KIRs</text>
<text transform="translate(375.3,472.7) rotate(-90)" font-size="11.9" text-anchor="middle">IFN-&#947;+ cells (%)</text>
<line x1="56.4" y1="586.9" x2="56.4" y2="700.1" stroke="#000" stroke-width="1.1"/>
<line x1="56.4" y1="700.1" x2="165" y2="700.1" stroke="#000" stroke-width="1.1"/>
<line x1="52.8" y1="700.1" x2="56.4" y2="700.1" stroke="#000" stroke-width="1.1"/>
<text x="51.8" y="704.7" font-size="13" text-anchor="end">0</text>
<line x1="52.8" y1="671.8" x2="56.4" y2="671.8" stroke="#000" stroke-width="1.1"/>
<text x="51.8" y="676.4" font-size="13" text-anchor="end">20</text>
<line x1="52.8" y1="643.5" x2="56.4" y2="643.5" stroke="#000" stroke-width="1.1"/>
<text x="51.8" y="648.1" font-size="13" text-anchor="end">40</text>
<line x1="52.8" y1="615.2" x2="56.4" y2="615.2" stroke="#000" stroke-width="1.1"/>
<text x="51.8" y="619.8" font-size="13" text-anchor="end">60</text>
<line x1="52.8" y1="586.9" x2="56.4" y2="586.9" stroke="#000" stroke-width="1.1"/>
<text x="51.8" y="591.5" font-size="13" text-anchor="end">80</text>
<circle cx="76.2" cy="592.2" r="3" fill="#000"/>
<circle cx="76.2" cy="612.5" r="3" fill="#000"/>
<circle cx="76.2" cy="625.6" r="3" fill="#000"/>
<circle cx="69.3" cy="633.7" r="3" fill="#000"/>
<circle cx="82.4" cy="633.7" r="3" fill="#000"/>
<circle cx="76.2" cy="637.7" r="3" fill="#000"/>
<circle cx="84" cy="637.7" r="3" fill="#000"/>
<circle cx="76.2" cy="648.5" r="3" fill="#000"/>
<circle cx="82.4" cy="654.3" r="3" fill="#000"/>
<circle cx="76.2" cy="662.2" r="3" fill="#000"/>
<circle cx="69.3" cy="665.8" r="3" fill="#000"/>
<circle cx="81.1" cy="674.6" r="3" fill="#000"/>
<circle cx="76.2" cy="685.1" r="3" fill="#000"/>
<circle cx="69.3" cy="640" r="3" fill="#000"/>
<circle cx="113.8" cy="595.5" r="3" fill="#000"/>
<circle cx="113.8" cy="640.6" r="3" fill="#000"/>
<circle cx="113.8" cy="652.7" r="3" fill="#000"/>
<circle cx="107.2" cy="668.1" r="3" fill="#000"/>
<circle cx="114.4" cy="672" r="3" fill="#000"/>
<circle cx="121.6" cy="672.6" r="3" fill="#000"/>
<circle cx="107.9" cy="677.9" r="3" fill="#000"/>
<circle cx="114.4" cy="678.5" r="3" fill="#000"/>
<circle cx="117" cy="686.1" r="3" fill="#000"/>
<circle cx="110.5" cy="691" r="3" fill="#000"/>
<circle cx="118" cy="664" r="3" fill="#000"/>
<circle cx="151" cy="622.3" r="3" fill="#000"/>
<circle cx="143.8" cy="633.7" r="3" fill="#000"/>
<circle cx="151" cy="633.7" r="3" fill="#000"/>
<circle cx="160.2" cy="638.6" r="3" fill="#000"/>
<circle cx="143.8" cy="641.3" r="3" fill="#000"/>
<circle cx="152.7" cy="645.2" r="3" fill="#000"/>
<circle cx="144.8" cy="668.1" r="3" fill="#000"/>
<circle cx="158.6" cy="668.1" r="3" fill="#000"/>
<circle cx="144.8" cy="681.1" r="3" fill="#000"/>
<circle cx="159.5" cy="682.1" r="3" fill="#000"/>
<circle cx="151" cy="687.7" r="3" fill="#000"/>
<circle cx="152" cy="660" r="3" fill="#000"/>
<line x1="63.7" y1="644.5" x2="88.9" y2="644.5" stroke="#7a7a7a" stroke-width="3"/>
<line x1="101.3" y1="664.8" x2="126.8" y2="664.8" stroke="#7a7a7a" stroke-width="3"/>
<line x1="138" y1="658.3" x2="165.1" y2="658.3" stroke="#7a7a7a" stroke-width="3"/>
<path d="M113.8 588V583H152.7V588" fill="none" stroke="#333" stroke-width="1.1"/>
<text x="133.25" y="582.2" font-size="11.5" text-anchor="middle">n.s.</text>
<text x="73.5" y="715.5" font-size="11.9" text-anchor="middle">KIR</text>
<text x="74.4" y="727.4" font-size="11.9" text-anchor="middle">neg</text>
<text x="112.8" y="715.5" font-size="11.9" text-anchor="middle">Non-</text>
<text x="113.4" y="727.4" font-size="11.9" text-anchor="middle">self</text>
<text x="150.6" y="715.5" font-size="11.9" text-anchor="middle">Self</text>
<text transform="translate(20.1,644.9) rotate(-90)" font-size="11.9" text-anchor="middle">Total responding</text>
<text transform="translate(34.8,642.7) rotate(-90)" font-size="11.9" text-anchor="middle">cells (%)</text>
<text x="1.6" y="584.7" font-size="16" font-weight="bold">F</text>
<line x1="261" y1="586.5" x2="261" y2="700" stroke="#000" stroke-width="1.1"/>
<line x1="261" y1="700" x2="432.9" y2="700" stroke="#000" stroke-width="1.1"/>
<line x1="257.4" y1="700" x2="261" y2="700" stroke="#000" stroke-width="1.1"/>
<text x="256.4" y="704.6" font-size="13" text-anchor="end">0</text>
<line x1="257.4" y1="677.3" x2="261" y2="677.3" stroke="#000" stroke-width="1.1"/>
<text x="256.4" y="681.9" font-size="13" text-anchor="end">20</text>
<line x1="257.4" y1="654.6" x2="261" y2="654.6" stroke="#000" stroke-width="1.1"/>
<text x="256.4" y="659.2" font-size="13" text-anchor="end">40</text>
<line x1="257.4" y1="631.9" x2="261" y2="631.9" stroke="#000" stroke-width="1.1"/>
<text x="256.4" y="636.5" font-size="13" text-anchor="end">60</text>
<line x1="257.4" y1="609.2" x2="261" y2="609.2" stroke="#000" stroke-width="1.1"/>
<text x="256.4" y="613.8" font-size="13" text-anchor="end">80</text>
<line x1="257.4" y1="586.5" x2="261" y2="586.5" stroke="#000" stroke-width="1.1"/>
<text x="256.4" y="591.1" font-size="13" text-anchor="end">100</text>
<circle cx="276.4" cy="600.2" r="3" fill="#000"/>
<circle cx="271.2" cy="609" r="3" fill="#000"/>
<circle cx="271.2" cy="613.1" r="3" fill="#000"/>
<circle cx="281.6" cy="609.8" r="3" fill="#000"/>
<circle cx="281.6" cy="617.1" r="3" fill="#000"/>
<circle cx="271.2" cy="624.6" r="3" fill="#000"/>
<circle cx="275.8" cy="622.3" r="3" fill="#000"/>
<circle cx="271.2" cy="631" r="3" fill="#000"/>
<circle cx="281.6" cy="631" r="3" fill="#000"/>
<circle cx="281.6" cy="635.6" r="3" fill="#000"/>
<circle cx="276.4" cy="649.4" r="3" fill="#000"/>
<circle cx="276.4" cy="620" r="3" fill="#000"/>
<circle cx="271.2" cy="620" r="3" fill="#000"/>
<circle cx="333.75" cy="655.75" r="3" fill="#000"/>
<circle cx="326.25" cy="660" r="3" fill="#000"/>
<circle cx="322" cy="663.75" r="3" fill="#000"/>
<circle cx="331.25" cy="663.75" r="3" fill="#000"/>
<circle cx="327.5" cy="668.75" r="3" fill="#000"/>
<circle cx="322" cy="671.25" r="3" fill="#000"/>
<circle cx="334.5" cy="673.75" r="3" fill="#000"/>
<circle cx="322.5" cy="677.5" r="3" fill="#000"/>
<circle cx="328.75" cy="676.25" r="3" fill="#000"/>
<circle cx="333.75" cy="678.75" r="3" fill="#000"/>
<circle cx="338.75" cy="681.25" r="3" fill="#000"/>
<circle cx="328" cy="690" r="3" fill="#000"/>
<circle cx="385" cy="681.1" r="3" fill="#000"/>
<circle cx="390.2" cy="691.2" r="3" fill="#000"/>
<circle cx="395.4" cy="687.8" r="3" fill="#000"/>
<circle cx="384.4" cy="698" r="3" fill="#000"/>
<circle cx="390.2" cy="698.5" r="3" fill="#000"/>
<circle cx="396" cy="698.5" r="3" fill="#000"/>
<circle cx="386" cy="694" r="3" fill="#000"/>
<circle cx="304.9" cy="601" r="2.8" fill="#fff" stroke="#000" stroke-width="1.1"/>
<circle cx="301.8" cy="607.3" r="2.8" fill="#fff" stroke="#000" stroke-width="1.1"/>
<circle cx="307.6" cy="605.9" r="2.8" fill="#fff" stroke="#000" stroke-width="1.1"/>
<circle cx="299.5" cy="613.1" r="2.8" fill="#fff" stroke="#000" stroke-width="1.1"/>
<circle cx="310.5" cy="612.5" r="2.8" fill="#fff" stroke="#000" stroke-width="1.1"/>
<circle cx="304.9" cy="615.2" r="2.8" fill="#fff" stroke="#000" stroke-width="1.1"/>
<circle cx="309.5" cy="619.4" r="2.8" fill="#fff" stroke="#000" stroke-width="1.1"/>
<circle cx="302.4" cy="619.4" r="2.8" fill="#fff" stroke="#000" stroke-width="1.1"/>
<circle cx="299.5" cy="628.1" r="2.8" fill="#fff" stroke="#000" stroke-width="1.1"/>
<circle cx="299.5" cy="636.2" r="2.8" fill="#fff" stroke="#000" stroke-width="1.1"/>
<circle cx="310.5" cy="635.6" r="2.8" fill="#fff" stroke="#000" stroke-width="1.1"/>
<circle cx="304.9" cy="639.6" r="2.8" fill="#fff" stroke="#000" stroke-width="1.1"/>
<circle cx="304.9" cy="654.6" r="2.8" fill="#fff" stroke="#000" stroke-width="1.1"/>
<circle cx="362" cy="643.75" r="2.8" fill="#fff" stroke="#000" stroke-width="1.1"/>
<circle cx="356.75" cy="657.5" r="2.8" fill="#fff" stroke="#000" stroke-width="1.1"/>
<circle cx="367" cy="655.5" r="2.8" fill="#fff" stroke="#000" stroke-width="1.1"/>
<circle cx="356.25" cy="662" r="2.8" fill="#fff" stroke="#000" stroke-width="1.1"/>
<circle cx="367" cy="665.5" r="2.8" fill="#fff" stroke="#000" stroke-width="1.1"/>
<circle cx="362" cy="670" r="2.8" fill="#fff" stroke="#000" stroke-width="1.1"/>
<circle cx="356.75" cy="673" r="2.8" fill="#fff" stroke="#000" stroke-width="1.1"/>
<circle cx="367" cy="673.75" r="2.8" fill="#fff" stroke="#000" stroke-width="1.1"/>
<circle cx="362" cy="677.5" r="2.8" fill="#fff" stroke="#000" stroke-width="1.1"/>
<circle cx="356.25" cy="682" r="2.8" fill="#fff" stroke="#000" stroke-width="1.1"/>
<circle cx="367" cy="682" r="2.8" fill="#fff" stroke="#000" stroke-width="1.1"/>
<circle cx="362" cy="686.25" r="2.8" fill="#fff" stroke="#000" stroke-width="1.1"/>
<circle cx="413.3" cy="684.6" r="2.8" fill="#fff" stroke="#000" stroke-width="1.1"/>
<circle cx="423.4" cy="686.3" r="2.8" fill="#fff" stroke="#000" stroke-width="1.1"/>
<circle cx="413.3" cy="692.1" r="2.8" fill="#fff" stroke="#000" stroke-width="1.1"/>
<circle cx="407.5" cy="698.5" r="2.8" fill="#fff" stroke="#000" stroke-width="1.1"/>
<circle cx="413.3" cy="698.5" r="2.8" fill="#fff" stroke="#000" stroke-width="1.1"/>
<circle cx="423.4" cy="698.5" r="2.8" fill="#fff" stroke="#000" stroke-width="1.1"/>
<circle cx="418" cy="695" r="2.8" fill="#fff" stroke="#000" stroke-width="1.1"/>
<line x1="267.8" y1="620.2" x2="285.7" y2="620.2" stroke="#7a7a7a" stroke-width="3"/>
<line x1="295.5" y1="622.1" x2="314" y2="622.1" stroke="#7a7a7a" stroke-width="3"/>
<line x1="324.5" y1="671.75" x2="343" y2="671.75" stroke="#7a7a7a" stroke-width="3"/>
<line x1="353" y1="669.5" x2="371.25" y2="669.5" stroke="#7a7a7a" stroke-width="3"/>
<line x1="381.5" y1="694.8" x2="399.4" y2="694.8" stroke="#7a7a7a" stroke-width="3"/>
<line x1="409" y1="695.4" x2="427.7" y2="695.4" stroke="#7a7a7a" stroke-width="3"/>
<path d="M276.75 592.5V588H304.25V592.5" fill="none" stroke="#333" stroke-width="1.1"/>
<text x="290.5" y="587.2" font-size="11.5" text-anchor="middle">n.s.</text>
<path d="M334.5 636.75V632.5H362.5V636.75" fill="none" stroke="#333" stroke-width="1.1"/>
<text x="348.5" y="632" font-size="11.5" text-anchor="middle">n.s.</text>
<path d="M391.6 675.8V671.7H419.6V675.8" fill="none" stroke="#333" stroke-width="1.1"/>
<text x="405.6" y="669.5" font-size="11.5" text-anchor="middle">n.s.</text>
<text x="290.8" y="717.3" font-size="11.5" text-anchor="middle">1</text>
<text x="345.4" y="717.3" font-size="11.5" text-anchor="middle">2</text>
<text x="403.2" y="715.6" font-size="11.5" text-anchor="middle">3</text>
<text x="344.4" y="730.8" font-size="11.9" text-anchor="middle"># of functions</text>
<text transform="translate(213.6,642.6) rotate(-90)" font-size="11.9" text-anchor="middle">Distribution of</text>
<text transform="translate(228.1,641.7) rotate(-90)" font-size="11.9" text-anchor="middle">responding cells (%)</text>
<text x="191.5" y="586.2" font-size="16" font-weight="bold">G</text>
<circle cx="435.5" cy="591" r="3" fill="#000"/>
<text x="444" y="595" font-size="11.9">Non-self</text>
<circle cx="435.5" cy="610.3" r="2.8" fill="#fff" stroke="#000" stroke-width="1.1"/>
<text x="444" y="614" font-size="11.9">Self</text>
<text x="0" y="10.7" font-size="16" font-weight="bold">A</text>
<text x="383.4" y="10.8" font-size="16" font-weight="bold">B</text>
</svg>
</body></html>
